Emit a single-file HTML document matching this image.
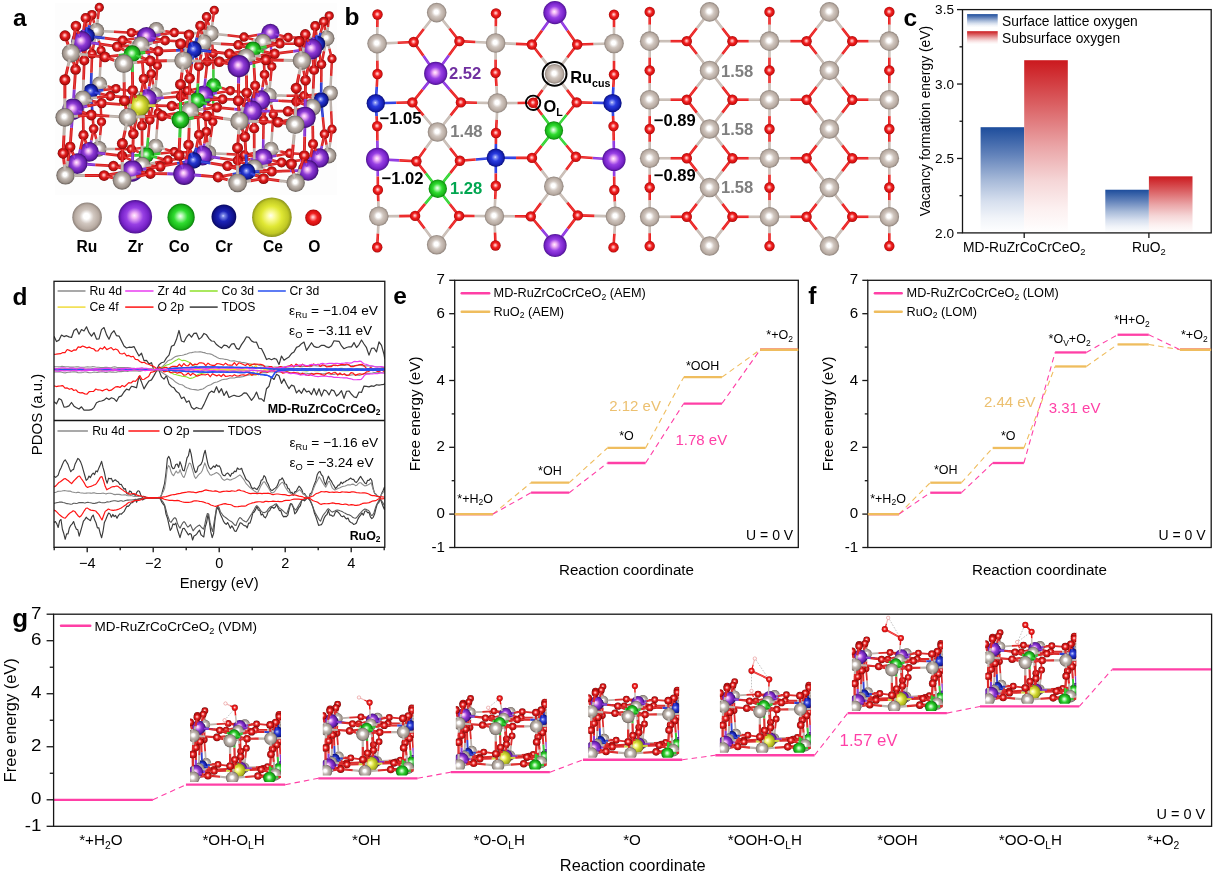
<!DOCTYPE html>
<html><head><meta charset="utf-8"><title>Figure</title>
<style>
html,body{margin:0;padding:0;background:#fff;}
svg{display:block;font-family:"Liberation Sans", Arial, sans-serif;}
</style></head><body>
<svg width="1213" height="876" viewBox="0 0 1213 876">
<defs>
<linearGradient id="gb" x1="0" y1="0" x2="0" y2="1"><stop offset="0" stop-color="#1d4d9c"/><stop offset="0.25" stop-color="#5f80b9"/><stop offset="0.5" stop-color="#a6b9d8"/><stop offset="0.7" stop-color="#d6dfee"/><stop offset="0.86" stop-color="#f1f4f9"/><stop offset="1" stop-color="#ffffff"/></linearGradient>
<linearGradient id="gr" x1="0" y1="0" x2="0" y2="1"><stop offset="0" stop-color="#cb191e"/><stop offset="0.25" stop-color="#da5e61"/><stop offset="0.5" stop-color="#eaa5a7"/><stop offset="0.7" stop-color="#f5d6d7"/><stop offset="0.86" stop-color="#fcf0f0"/><stop offset="1" stop-color="#ffffff"/></linearGradient>
<radialGradient id="gRu" cx="0.5" cy="0.5" r="0.5" fx="0.47" fy="0.46"><stop offset="0" stop-color="#ffffff"/><stop offset="0.2" stop-color="#ffffff"/><stop offset="0.48" stop-color="#d1c7c0"/><stop offset="0.82" stop-color="#b7aaa1"/><stop offset="1" stop-color="#8b8079"/></radialGradient>
<radialGradient id="gO" cx="0.5" cy="0.5" r="0.5" fx="0.47" fy="0.46"><stop offset="0" stop-color="#ffe2e2"/><stop offset="0.17" stop-color="#ffa6a6"/><stop offset="0.5" stop-color="#f02020"/><stop offset="0.84" stop-color="#d41010"/><stop offset="1" stop-color="#9c0808"/></radialGradient>
<radialGradient id="gZr" cx="0.5" cy="0.5" r="0.5" fx="0.47" fy="0.46"><stop offset="0" stop-color="#fff0ff"/><stop offset="0.17" stop-color="#f2b6f6"/><stop offset="0.5" stop-color="#9840e4"/><stop offset="0.82" stop-color="#7622c8"/><stop offset="1" stop-color="#4e1490"/></radialGradient>
<radialGradient id="gCo" cx="0.5" cy="0.5" r="0.5" fx="0.47" fy="0.46"><stop offset="0" stop-color="#f4fff4"/><stop offset="0.17" stop-color="#b6f8b6"/><stop offset="0.5" stop-color="#30dc30"/><stop offset="0.84" stop-color="#18b418"/><stop offset="1" stop-color="#0c7c0c"/></radialGradient>
<radialGradient id="gCr" cx="0.5" cy="0.5" r="0.5" fx="0.47" fy="0.46"><stop offset="0" stop-color="#dfe4ff"/><stop offset="0.12" stop-color="#8f9cf4"/><stop offset="0.42" stop-color="#2a3ce0"/><stop offset="0.8" stop-color="#1420b4"/><stop offset="1" stop-color="#0a1078"/></radialGradient>
<radialGradient id="gCe" cx="0.5" cy="0.5" r="0.5" fx="0.47" fy="0.46"><stop offset="0" stop-color="#fffff0"/><stop offset="0.2" stop-color="#fbfb9a"/><stop offset="0.52" stop-color="#e0e834"/><stop offset="0.84" stop-color="#c0c824"/><stop offset="1" stop-color="#8a921c"/></radialGradient>
<radialGradient id="gH" cx="0.5" cy="0.5" r="0.5" fx="0.47" fy="0.46"><stop offset="0" stop-color="#ffffff"/><stop offset="0.55" stop-color="#fff4f4"/><stop offset="0.85" stop-color="#f6c4c4"/><stop offset="1" stop-color="#e89a9a"/></radialGradient>
<radialGradient id="gCrD" cx="0.5" cy="0.5" r="0.5" fx="0.47" fy="0.46"><stop offset="0" stop-color="#d4daff"/><stop offset="0.12" stop-color="#7a88e8"/><stop offset="0.42" stop-color="#1c24b8"/><stop offset="0.8" stop-color="#10128c"/><stop offset="1" stop-color="#08085c"/></radialGradient>
<radialGradient id="gRu3" cx="0.5" cy="0.5" r="0.5" fx="0.46" fy="0.44"><stop offset="0" stop-color="#ffffff"/><stop offset="0.2" stop-color="#ffffff"/><stop offset="0.48" stop-color="#c2b9b2"/><stop offset="0.82" stop-color="#9d928a"/><stop offset="1" stop-color="#645c57"/></radialGradient>
<radialGradient id="gO3" cx="0.5" cy="0.5" r="0.5" fx="0.46" fy="0.44"><stop offset="0" stop-color="#ffe2e2"/><stop offset="0.17" stop-color="#ffa6a6"/><stop offset="0.5" stop-color="#df1d1d"/><stop offset="0.84" stop-color="#b60d0d"/><stop offset="1" stop-color="#700505"/></radialGradient>
<radialGradient id="gZr3" cx="0.5" cy="0.5" r="0.5" fx="0.46" fy="0.44"><stop offset="0" stop-color="#fff0ff"/><stop offset="0.17" stop-color="#f2b6f6"/><stop offset="0.5" stop-color="#8d3bd4"/><stop offset="0.82" stop-color="#651dac"/><stop offset="1" stop-color="#380e67"/></radialGradient>
<radialGradient id="gCo3" cx="0.5" cy="0.5" r="0.5" fx="0.46" fy="0.44"><stop offset="0" stop-color="#f4fff4"/><stop offset="0.17" stop-color="#b6f8b6"/><stop offset="0.5" stop-color="#2ccc2c"/><stop offset="0.84" stop-color="#149a14"/><stop offset="1" stop-color="#085908"/></radialGradient>
<radialGradient id="gCr3" cx="0.5" cy="0.5" r="0.5" fx="0.46" fy="0.44"><stop offset="0" stop-color="#dfe4ff"/><stop offset="0.12" stop-color="#8f9cf4"/><stop offset="0.42" stop-color="#2737d0"/><stop offset="0.8" stop-color="#111b9a"/><stop offset="1" stop-color="#070b56"/></radialGradient>
<radialGradient id="gCe3" cx="0.5" cy="0.5" r="0.5" fx="0.46" fy="0.44"><stop offset="0" stop-color="#fffff0"/><stop offset="0.2" stop-color="#fbfb9a"/><stop offset="0.52" stop-color="#d0d730"/><stop offset="0.84" stop-color="#a5ac1e"/><stop offset="1" stop-color="#636914"/></radialGradient>
<radialGradient id="gH3" cx="0.5" cy="0.5" r="0.5" fx="0.46" fy="0.44"><stop offset="0" stop-color="#ffffff"/><stop offset="0.55" stop-color="#fff4f4"/><stop offset="0.85" stop-color="#e4b6b6"/><stop offset="1" stop-color="#c78484"/></radialGradient>
<radialGradient id="gCrD3" cx="0.5" cy="0.5" r="0.5" fx="0.46" fy="0.44"><stop offset="0" stop-color="#d4daff"/><stop offset="0.12" stop-color="#7a88e8"/><stop offset="0.42" stop-color="#1a21ab"/><stop offset="0.8" stop-color="#0d0f78"/><stop offset="1" stop-color="#050542"/></radialGradient>
</defs>
<rect width="1213" height="876" fill="#ffffff"/>
<g opacity="0.999">
<rect x="980.6" y="127.2" width="43.6" height="105.7" fill="url(#gb)" stroke="none" stroke-width="1.2" />
<rect x="1024.2" y="60.21" width="43.6" height="172.69" fill="url(#gr)" stroke="none" stroke-width="1.2" />
<rect x="1105.3" y="189.73" width="43.6" height="43.17" fill="url(#gb)" stroke="none" stroke-width="1.2" />
<rect x="1148.9" y="176.33" width="43.6" height="56.57" fill="url(#gr)" stroke="none" stroke-width="1.2" />
<rect x="967.1" y="14.1" width="30.6" height="13.3" fill="url(#gb)" stroke="none" stroke-width="1.2" />
<rect x="967.1" y="31.2" width="30.6" height="13" fill="url(#gr)" stroke="none" stroke-width="1.2" />
<text x="1002" y="26.2" font-size="13.8" text-anchor="start" font-weight="normal" fill="#000" >Surface lattice oxygen</text>
<text x="1002" y="43.2" font-size="13.8" text-anchor="start" font-weight="normal" fill="#000" >Subsurface oxygen</text>
<rect x="962.5" y="9.6" width="248.7" height="223.3" fill="none" stroke="#161616" stroke-width="1.3" />
<line x1="957" y1="9.6" x2="962.5" y2="9.6" stroke="#161616" stroke-width="1.3" />
<text x="954" y="14.4" font-size="13.6" text-anchor="end" font-weight="normal" fill="#000" >3.5</text>
<line x1="957" y1="84.03" x2="962.5" y2="84.03" stroke="#161616" stroke-width="1.3" />
<text x="954" y="88.83" font-size="13.6" text-anchor="end" font-weight="normal" fill="#000" >3.0</text>
<line x1="957" y1="158.47" x2="962.5" y2="158.47" stroke="#161616" stroke-width="1.3" />
<text x="954" y="163.27" font-size="13.6" text-anchor="end" font-weight="normal" fill="#000" >2.5</text>
<line x1="957" y1="232.9" x2="962.5" y2="232.9" stroke="#161616" stroke-width="1.3" />
<text x="954" y="237.7" font-size="13.6" text-anchor="end" font-weight="normal" fill="#000" >2.0</text>
<line x1="959.5" y1="46.82" x2="962.5" y2="46.82" stroke="#161616" stroke-width="1.3" />
<line x1="959.5" y1="121.25" x2="962.5" y2="121.25" stroke="#161616" stroke-width="1.3" />
<line x1="959.5" y1="195.68" x2="962.5" y2="195.68" stroke="#161616" stroke-width="1.3" />
<line x1="1024.2" y1="232.9" x2="1024.2" y2="237.9" stroke="#161616" stroke-width="1.3" />
<line x1="1148.9" y1="232.9" x2="1148.9" y2="237.9" stroke="#161616" stroke-width="1.3" />
<text x="1024.2" y="252.2" font-size="13.8" text-anchor="middle" font-weight="normal" fill="#000" >MD-RuZrCoCrCeO<tspan font-size="9.38" dy="3.04">2</tspan></text>
<text x="1148.9" y="252.2" font-size="13.8" text-anchor="middle" font-weight="normal" fill="#000" >RuO<tspan font-size="9.38" dy="3.04">2</tspan></text>
<text transform="translate(929.8,121) rotate(-90)" font-size="13.9" text-anchor="middle" >Vacancy formation energy (eV)</text>
<line x1="492.88" y1="514.1" x2="531.06" y2="482.7" stroke="#efbd5e" stroke-width="1.1" stroke-dasharray="5.5 4"/>
<line x1="569.23" y1="482.7" x2="607.41" y2="447.97" stroke="#efbd5e" stroke-width="1.1" stroke-dasharray="5.5 4"/>
<line x1="645.59" y1="447.97" x2="683.77" y2="377.16" stroke="#efbd5e" stroke-width="1.1" stroke-dasharray="5.5 4"/>
<line x1="721.94" y1="377.16" x2="760.12" y2="349.77" stroke="#efbd5e" stroke-width="1.1" stroke-dasharray="5.5 4"/>
<line x1="492.88" y1="514.1" x2="531.06" y2="492.72" stroke="#ff3fa6" stroke-width="1.1" stroke-dasharray="5.5 4"/>
<line x1="569.23" y1="492.72" x2="607.41" y2="463" stroke="#ff3fa6" stroke-width="1.1" stroke-dasharray="5.5 4"/>
<line x1="645.59" y1="463" x2="683.77" y2="403.55" stroke="#ff3fa6" stroke-width="1.1" stroke-dasharray="5.5 4"/>
<line x1="721.94" y1="403.55" x2="760.12" y2="349.77" stroke="#ff3fa6" stroke-width="1.1" stroke-dasharray="5.5 4"/>
<line x1="454.7" y1="514.1" x2="492.88" y2="514.1" stroke="#efbd5e" stroke-width="2.3" />
<line x1="531.06" y1="482.7" x2="569.23" y2="482.7" stroke="#efbd5e" stroke-width="2.3" />
<line x1="607.41" y1="447.97" x2="645.59" y2="447.97" stroke="#efbd5e" stroke-width="2.3" />
<line x1="683.77" y1="377.16" x2="721.94" y2="377.16" stroke="#efbd5e" stroke-width="2.3" />
<line x1="760.12" y1="349.77" x2="798.3" y2="349.77" stroke="#efbd5e" stroke-width="2.3" />
<line x1="454.7" y1="514.1" x2="492.88" y2="514.1" stroke="#ff3fa6" stroke-width="2.3" />
<line x1="531.06" y1="492.72" x2="569.23" y2="492.72" stroke="#ff3fa6" stroke-width="2.3" />
<line x1="607.41" y1="463" x2="645.59" y2="463" stroke="#ff3fa6" stroke-width="2.3" />
<line x1="683.77" y1="403.55" x2="721.94" y2="403.55" stroke="#ff3fa6" stroke-width="2.3" />
<line x1="760.12" y1="349.77" x2="798.3" y2="349.77" stroke="#ff3fa6" stroke-width="2.3" />
<rect x="454.7" y="280.3" width="343.6" height="267.2" fill="none" stroke="#161616" stroke-width="1.3" />
<line x1="449.2" y1="280.3" x2="454.7" y2="280.3" stroke="#161616" stroke-width="1.3" />
<text x="445" y="284.41" font-size="15.1" text-anchor="end" font-weight="normal" fill="#000" >7</text>
<line x1="449.2" y1="313.7" x2="454.7" y2="313.7" stroke="#161616" stroke-width="1.3" />
<text x="445" y="317.81" font-size="15.1" text-anchor="end" font-weight="normal" fill="#000" >6</text>
<line x1="449.2" y1="380.5" x2="454.7" y2="380.5" stroke="#161616" stroke-width="1.3" />
<text x="445" y="384.61" font-size="15.1" text-anchor="end" font-weight="normal" fill="#000" >4</text>
<line x1="449.2" y1="447.3" x2="454.7" y2="447.3" stroke="#161616" stroke-width="1.3" />
<text x="445" y="451.41" font-size="15.1" text-anchor="end" font-weight="normal" fill="#000" >2</text>
<line x1="449.2" y1="514.1" x2="454.7" y2="514.1" stroke="#161616" stroke-width="1.3" />
<text x="445" y="518.21" font-size="15.1" text-anchor="end" font-weight="normal" fill="#000" >0</text>
<line x1="449.2" y1="547.5" x2="454.7" y2="547.5" stroke="#161616" stroke-width="1.3" />
<text x="445" y="551.61" font-size="15.1" text-anchor="end" font-weight="normal" fill="#000" >-1</text>
<line x1="451.68" y1="347.1" x2="454.7" y2="347.1" stroke="#161616" stroke-width="1.3" />
<line x1="451.68" y1="413.9" x2="454.7" y2="413.9" stroke="#161616" stroke-width="1.3" />
<line x1="451.68" y1="480.7" x2="454.7" y2="480.7" stroke="#161616" stroke-width="1.3" />
<text x="457.3" y="502.6" font-size="12.5" text-anchor="start" font-weight="normal" fill="#000" >*+H<tspan font-size="8.5" dy="2.75">2</tspan><tspan dy="-2.75">O</tspan></text>
<text x="549.9" y="474.6" font-size="12.5" text-anchor="middle" font-weight="normal" fill="#000" >*OH</text>
<text x="626.5" y="440.4" font-size="12.5" text-anchor="middle" font-weight="normal" fill="#000" >*O</text>
<text x="702.6" y="369.9" font-size="12.5" text-anchor="middle" font-weight="normal" fill="#000" >*OOH</text>
<text x="766.3" y="339.4" font-size="12.5" text-anchor="start" font-weight="normal" fill="#000" >*+O<tspan font-size="8.5" dy="2.75">2</tspan></text>
<text x="609.2" y="411.2" font-size="15" text-anchor="start" font-weight="normal" fill="#ecc070" >2.12 eV</text>
<text x="675.5" y="444.8" font-size="15" text-anchor="start" font-weight="normal" fill="#ff3fa6" >1.78 eV</text>
<line x1="461.7" y1="293.3" x2="489.2" y2="293.3" stroke="#ff3fa6" stroke-width="2.4" stroke-linecap="round"/>
<text x="493.6" y="297.3" font-size="12.7" text-anchor="start" font-weight="normal" fill="#000" >MD-RuZrCoCrCeO<tspan font-size="8.64" dy="2.79">2</tspan><tspan dy="-2.79"> (AEM)</tspan></text>
<line x1="461.7" y1="311.7" x2="489.2" y2="311.7" stroke="#efbd5e" stroke-width="2.4" stroke-linecap="round"/>
<text x="493.6" y="315.7" font-size="12.7" text-anchor="start" font-weight="normal" fill="#000" >RuO<tspan font-size="8.64" dy="2.79">2</tspan><tspan dy="-2.79"> (AEM)</tspan></text>
<text x="793.2" y="539.6" font-size="14" text-anchor="end" font-weight="normal" fill="#000" >U = 0 V</text>
<text x="626.5" y="575.3" font-size="15.2" text-anchor="middle" font-weight="normal" fill="#000" >Reaction coordinate</text>
<text transform="translate(419.5,413.9) rotate(-90)" font-size="15.2" text-anchor="middle" >Free energy (eV)</text>
<line x1="454.7" y1="514.1" x2="492.88" y2="514.1" stroke="#efbd5e" stroke-width="2.3" />
<line x1="760.12" y1="349.77" x2="798.3" y2="349.77" stroke="#efbd5e" stroke-width="2.3" />
<line x1="899.02" y1="514.1" x2="930.24" y2="482.7" stroke="#efbd5e" stroke-width="1.1" stroke-dasharray="5.5 4"/>
<line x1="961.45" y1="482.7" x2="992.67" y2="447.97" stroke="#efbd5e" stroke-width="1.1" stroke-dasharray="5.5 4"/>
<line x1="1023.89" y1="447.97" x2="1055.11" y2="366.47" stroke="#efbd5e" stroke-width="1.1" stroke-dasharray="5.5 4"/>
<line x1="1086.33" y1="366.47" x2="1117.55" y2="344.43" stroke="#efbd5e" stroke-width="1.1" stroke-dasharray="5.5 4"/>
<line x1="1148.76" y1="344.43" x2="1179.98" y2="349.77" stroke="#efbd5e" stroke-width="1.1" stroke-dasharray="5.5 4"/>
<line x1="899.02" y1="514.1" x2="930.24" y2="492.72" stroke="#ff3fa6" stroke-width="1.1" stroke-dasharray="5.5 4"/>
<line x1="961.45" y1="492.72" x2="992.67" y2="463" stroke="#ff3fa6" stroke-width="1.1" stroke-dasharray="5.5 4"/>
<line x1="1023.89" y1="463" x2="1055.11" y2="352.44" stroke="#ff3fa6" stroke-width="1.1" stroke-dasharray="5.5 4"/>
<line x1="1086.33" y1="352.44" x2="1117.55" y2="334.74" stroke="#ff3fa6" stroke-width="1.1" stroke-dasharray="5.5 4"/>
<line x1="1148.76" y1="334.74" x2="1179.98" y2="349.77" stroke="#ff3fa6" stroke-width="1.1" stroke-dasharray="5.5 4"/>
<line x1="867.8" y1="514.1" x2="899.02" y2="514.1" stroke="#efbd5e" stroke-width="2.3" />
<line x1="930.24" y1="482.7" x2="961.45" y2="482.7" stroke="#efbd5e" stroke-width="2.3" />
<line x1="992.67" y1="447.97" x2="1023.89" y2="447.97" stroke="#efbd5e" stroke-width="2.3" />
<line x1="1055.11" y1="366.47" x2="1086.33" y2="366.47" stroke="#efbd5e" stroke-width="2.3" />
<line x1="1117.55" y1="344.43" x2="1148.76" y2="344.43" stroke="#efbd5e" stroke-width="2.3" />
<line x1="1179.98" y1="349.77" x2="1211.2" y2="349.77" stroke="#efbd5e" stroke-width="2.3" />
<line x1="867.8" y1="514.1" x2="899.02" y2="514.1" stroke="#ff3fa6" stroke-width="2.3" />
<line x1="930.24" y1="492.72" x2="961.45" y2="492.72" stroke="#ff3fa6" stroke-width="2.3" />
<line x1="992.67" y1="463" x2="1023.89" y2="463" stroke="#ff3fa6" stroke-width="2.3" />
<line x1="1055.11" y1="352.44" x2="1086.33" y2="352.44" stroke="#ff3fa6" stroke-width="2.3" />
<line x1="1117.55" y1="334.74" x2="1148.76" y2="334.74" stroke="#ff3fa6" stroke-width="2.3" />
<line x1="1179.98" y1="349.77" x2="1211.2" y2="349.77" stroke="#ff3fa6" stroke-width="2.3" />
<rect x="867.8" y="280.3" width="343.4" height="267.2" fill="none" stroke="#161616" stroke-width="1.3" />
<line x1="862.3" y1="280.3" x2="867.8" y2="280.3" stroke="#161616" stroke-width="1.3" />
<text x="858.1" y="284.41" font-size="15.1" text-anchor="end" font-weight="normal" fill="#000" >7</text>
<line x1="862.3" y1="313.7" x2="867.8" y2="313.7" stroke="#161616" stroke-width="1.3" />
<text x="858.1" y="317.81" font-size="15.1" text-anchor="end" font-weight="normal" fill="#000" >6</text>
<line x1="862.3" y1="380.5" x2="867.8" y2="380.5" stroke="#161616" stroke-width="1.3" />
<text x="858.1" y="384.61" font-size="15.1" text-anchor="end" font-weight="normal" fill="#000" >4</text>
<line x1="862.3" y1="447.3" x2="867.8" y2="447.3" stroke="#161616" stroke-width="1.3" />
<text x="858.1" y="451.41" font-size="15.1" text-anchor="end" font-weight="normal" fill="#000" >2</text>
<line x1="862.3" y1="514.1" x2="867.8" y2="514.1" stroke="#161616" stroke-width="1.3" />
<text x="858.1" y="518.21" font-size="15.1" text-anchor="end" font-weight="normal" fill="#000" >0</text>
<line x1="862.3" y1="547.5" x2="867.8" y2="547.5" stroke="#161616" stroke-width="1.3" />
<text x="858.1" y="551.61" font-size="15.1" text-anchor="end" font-weight="normal" fill="#000" >-1</text>
<line x1="864.77" y1="347.1" x2="867.8" y2="347.1" stroke="#161616" stroke-width="1.3" />
<line x1="864.77" y1="413.9" x2="867.8" y2="413.9" stroke="#161616" stroke-width="1.3" />
<line x1="864.77" y1="480.7" x2="867.8" y2="480.7" stroke="#161616" stroke-width="1.3" />
<text x="870.2" y="502.6" font-size="12.5" text-anchor="start" font-weight="normal" fill="#000" >*+H<tspan font-size="8.5" dy="2.75">2</tspan><tspan dy="-2.75">O</tspan></text>
<text x="945.8" y="473.6" font-size="12.5" text-anchor="middle" font-weight="normal" fill="#000" >*OH</text>
<text x="1008.2" y="440.4" font-size="12.5" text-anchor="middle" font-weight="normal" fill="#000" >*O</text>
<text x="1069.6" y="342.8" font-size="12.5" text-anchor="middle" font-weight="normal" fill="#000" >*O<tspan font-size="8.5" dy="2.75">V</tspan><tspan dy="-2.75">+O</tspan><tspan font-size="8.5" dy="2.75">2</tspan></text>
<text x="1132" y="324" font-size="12.5" text-anchor="middle" font-weight="normal" fill="#000" >*H+O<tspan font-size="8.5" dy="2.75">2</tspan></text>
<text x="1181" y="339.4" font-size="12.5" text-anchor="start" font-weight="normal" fill="#000" >*+O<tspan font-size="8.5" dy="2.75">2</tspan></text>
<text x="983.9" y="406.6" font-size="15" text-anchor="start" font-weight="normal" fill="#ecc070" >2.44 eV</text>
<text x="1048.7" y="413.4" font-size="15" text-anchor="start" font-weight="normal" fill="#ff3fa6" >3.31 eV</text>
<line x1="874.9" y1="293.3" x2="901.7" y2="293.3" stroke="#ff3fa6" stroke-width="2.4" stroke-linecap="round"/>
<text x="906.6" y="297.3" font-size="12.7" text-anchor="start" font-weight="normal" fill="#000" >MD-RuZrCoCrCeO<tspan font-size="8.64" dy="2.79">2</tspan><tspan dy="-2.79"> (LOM)</tspan></text>
<line x1="874.9" y1="311.7" x2="901.7" y2="311.7" stroke="#efbd5e" stroke-width="2.4" stroke-linecap="round"/>
<text x="906.6" y="315.7" font-size="12.7" text-anchor="start" font-weight="normal" fill="#000" >RuO<tspan font-size="8.64" dy="2.79">2</tspan><tspan dy="-2.79"> (LOM)</tspan></text>
<text x="1205.6" y="539.6" font-size="14" text-anchor="end" font-weight="normal" fill="#000" >U = 0 V</text>
<text x="1039.5" y="575.3" font-size="15.2" text-anchor="middle" font-weight="normal" fill="#000" >Reaction coordinate</text>
<text transform="translate(832.5,413.9) rotate(-90)" font-size="15.2" text-anchor="middle" >Free energy (eV)</text>
<line x1="867.8" y1="514.1" x2="899.02" y2="514.1" stroke="#efbd5e" stroke-width="2.3" />
<line x1="1179.98" y1="349.77" x2="1211.2" y2="349.77" stroke="#efbd5e" stroke-width="2.3" />
<line x1="152.86" y1="799.79" x2="185.94" y2="784.68" stroke="#ff3fa6" stroke-width="1.1" stroke-dasharray="5.5 4"/>
<line x1="285.2" y1="784.68" x2="318.29" y2="778.31" stroke="#ff3fa6" stroke-width="1.1" stroke-dasharray="5.5 4"/>
<line x1="417.54" y1="778.31" x2="450.63" y2="772.21" stroke="#ff3fa6" stroke-width="1.1" stroke-dasharray="5.5 4"/>
<line x1="549.89" y1="772.21" x2="582.97" y2="759.75" stroke="#ff3fa6" stroke-width="1.1" stroke-dasharray="5.5 4"/>
<line x1="682.23" y1="759.75" x2="715.31" y2="755.25" stroke="#ff3fa6" stroke-width="1.1" stroke-dasharray="5.5 4"/>
<line x1="814.57" y1="755.25" x2="847.66" y2="713.09" stroke="#ff3fa6" stroke-width="1.1" stroke-dasharray="5.5 4"/>
<line x1="946.91" y1="713.09" x2="980" y2="706.46" stroke="#ff3fa6" stroke-width="1.1" stroke-dasharray="5.5 4"/>
<line x1="1079.26" y1="706.46" x2="1112.34" y2="669.35" stroke="#ff3fa6" stroke-width="1.1" stroke-dasharray="5.5 4"/>
<line x1="53.6" y1="799.79" x2="152.86" y2="799.79" stroke="#ff3fa6" stroke-width="2.3" />
<line x1="185.94" y1="784.68" x2="285.2" y2="784.68" stroke="#ff3fa6" stroke-width="2.3" />
<line x1="318.29" y1="778.31" x2="417.54" y2="778.31" stroke="#ff3fa6" stroke-width="2.3" />
<line x1="450.63" y1="772.21" x2="549.89" y2="772.21" stroke="#ff3fa6" stroke-width="2.3" />
<line x1="582.97" y1="759.75" x2="682.23" y2="759.75" stroke="#ff3fa6" stroke-width="2.3" />
<line x1="715.31" y1="755.25" x2="814.57" y2="755.25" stroke="#ff3fa6" stroke-width="2.3" />
<line x1="847.66" y1="713.09" x2="946.91" y2="713.09" stroke="#ff3fa6" stroke-width="2.3" />
<line x1="980" y1="706.46" x2="1079.26" y2="706.46" stroke="#ff3fa6" stroke-width="2.3" />
<line x1="1112.34" y1="669.35" x2="1211.6" y2="669.35" stroke="#ff3fa6" stroke-width="2.3" />
<rect x="53.6" y="614.2" width="1158" height="212.1" fill="none" stroke="#161616" stroke-width="1.3" />
<line x1="46.6" y1="614.2" x2="53.6" y2="614.2" stroke="#161616" stroke-width="1.3" />
<text transform="translate(41.3,618.65) scale(1.2,1)" font-size="15.6" text-anchor="end">7</text>
<line x1="46.6" y1="640.71" x2="53.6" y2="640.71" stroke="#161616" stroke-width="1.3" />
<text transform="translate(41.3,645.16) scale(1.2,1)" font-size="15.6" text-anchor="end">6</text>
<line x1="46.6" y1="693.74" x2="53.6" y2="693.74" stroke="#161616" stroke-width="1.3" />
<text transform="translate(41.3,698.18) scale(1.2,1)" font-size="15.6" text-anchor="end">4</text>
<line x1="46.6" y1="746.76" x2="53.6" y2="746.76" stroke="#161616" stroke-width="1.3" />
<text transform="translate(41.3,751.21) scale(1.2,1)" font-size="15.6" text-anchor="end">2</text>
<line x1="46.6" y1="799.79" x2="53.6" y2="799.79" stroke="#161616" stroke-width="1.3" />
<text transform="translate(41.3,804.23) scale(1.2,1)" font-size="15.6" text-anchor="end">0</text>
<line x1="46.6" y1="826.3" x2="53.6" y2="826.3" stroke="#161616" stroke-width="1.3" />
<text transform="translate(41.3,830.75) scale(1.2,1)" font-size="15.6" text-anchor="end">-1</text>
<line x1="49.75" y1="667.23" x2="53.6" y2="667.23" stroke="#161616" stroke-width="1.3" />
<line x1="49.75" y1="720.25" x2="53.6" y2="720.25" stroke="#161616" stroke-width="1.3" />
<line x1="49.75" y1="773.27" x2="53.6" y2="773.27" stroke="#161616" stroke-width="1.3" />
<text x="100.8" y="845.2" font-size="15.2" text-anchor="middle" font-weight="normal" fill="#000" >*+H<tspan font-size="10.34" dy="3.34">2</tspan><tspan dy="-3.34">O</tspan></text>
<text x="233.6" y="845.2" font-size="15.2" text-anchor="middle" font-weight="normal" fill="#000" >*OH-O<tspan font-size="10.34" dy="3.34">L</tspan><tspan dy="-3.34">H</tspan></text>
<text x="366.4" y="845.2" font-size="15.2" text-anchor="middle" font-weight="normal" fill="#000" >*OH</text>
<text x="499.2" y="845.2" font-size="15.2" text-anchor="middle" font-weight="normal" fill="#000" >*O-O<tspan font-size="10.34" dy="3.34">L</tspan><tspan dy="-3.34">H</tspan></text>
<text x="632" y="845.2" font-size="15.2" text-anchor="middle" font-weight="normal" fill="#000" >*O</text>
<text x="764.8" y="845.2" font-size="15.2" text-anchor="middle" font-weight="normal" fill="#000" >*OOH-O<tspan font-size="10.34" dy="3.34">L</tspan><tspan dy="-3.34">H</tspan></text>
<text x="897.6" y="845.2" font-size="15.2" text-anchor="middle" font-weight="normal" fill="#000" >*OOH</text>
<text x="1030.4" y="845.2" font-size="15.2" text-anchor="middle" font-weight="normal" fill="#000" >*OO-O<tspan font-size="10.34" dy="3.34">L</tspan><tspan dy="-3.34">H</tspan></text>
<text x="1163.2" y="845.2" font-size="15.2" text-anchor="middle" font-weight="normal" fill="#000" >*+O<tspan font-size="10.34" dy="3.34">2</tspan></text>
<text x="839.6" y="746" font-size="16.8" text-anchor="start" font-weight="normal" fill="#ff3fa6" >1.57 eV</text>
<line x1="61" y1="625.8" x2="90.3" y2="625.8" stroke="#ff3fa6" stroke-width="2.4" stroke-linecap="round"/>
<text x="94.5" y="630.6" font-size="13.5" text-anchor="start" font-weight="normal" fill="#000" >MD-RuZrCoCrCeO<tspan font-size="9.18" dy="2.97">2</tspan><tspan dy="-2.97"> (VDM)</tspan></text>
<text x="1205.2" y="819" font-size="14.5" text-anchor="end" font-weight="normal" fill="#000" >U = 0 V</text>
<text x="632.7" y="870.9" font-size="16.4" text-anchor="middle" font-weight="normal" fill="#000" >Reaction coordinate</text>
<text transform="translate(15.9,720.25) rotate(-90)" font-size="16.4" text-anchor="middle" >Free energy (eV)</text>
<clipPath id="cd1"><rect x="54.0" y="281.3" width="330.8" height="139.2"/></clipPath>
<clipPath id="cd2"><rect x="54.0" y="420.5" width="330.8" height="126.79999999999995"/></clipPath>
<g clip-path="url(#cd1)">
<polyline points="54,336.34 56.5,341.55 59,340.11 61.5,335.1 64,336.56 66.5,335.68 69,336.87 71.5,337.51 74,330.57 76.5,328.73 79,334.19 81.5,329.53 84,330.99 86.5,326.8 89,332.68 91.5,336.16 94,332.56 96.5,339.07 99,338.91 101.5,329.6 104,327.53 106.5,334.66 109,339.19 111.5,333.31 114,330.73 116.5,335.7 119,336.06 121.5,340.89 124,345.92 126.5,347.97 129,347.2 131.5,347.35 134,346.57 136.5,351.46 139,355.93 141.5,353.26 144,360.6 146.5,360.32 149,363.9 151.5,362.68 154,370.76 156.5,369.77 159,364.67 161.5,362.73 164,362.02 166.5,357.85 169,355.15 171.5,346.27 174,345.16 176.5,339.32 179,330.46 181.5,341.06 184,341.98 186.5,337.09 189,334.04 191.5,337.24 194,333.36 196.5,333.22 199,339.24 201.5,337.39 204,333.43 206.5,334.81 209,338.65 211.5,341.01 214,341.25 216.5,344.54 219,346.49 221.5,348.04 224,345.18 226.5,345.57 229,347.83 231.5,344.15 234,343.58 236.5,348.4 239,349.32 241.5,344.63 244,341.11 246.5,336.74 249,337.42 251.5,340.86 254,342.26 256.5,342.21 259,348.26 261.5,348.64 264,353.78 266.5,359.53 269,358.51 271.5,359.67 274,358.44 276.5,359.28 279,364.57 281.5,356.02 284,360.27 286.5,358.43 289,356.9 291.5,353.56 294,351.88 296.5,347.36 299,346.26 301.5,343.67 304,342.04 306.5,350.34 309,346.59 311.5,342.72 314,346.4 316.5,347.37 319,347.1 321.5,345.36 324,345.32 326.5,346.87 329,347.61 331.5,345.79 334,340.77 336.5,341.03 339,341.3 341.5,345.96 344,348.73 346.5,347.49 349,346.77 351.5,346.9 354,342.62 356.5,347.54 359,344.53 361.5,339.97 364,343.96 366.5,347.69 369,355.14 371.5,348.41 374,347.99 376.5,351.98 379,341.82 381.5,345.4 384,354.43 384.8,358.83" fill="none" stroke="#3a3a3a" stroke-width="1.2" stroke-linejoin="round"/>
<polyline points="54,401.71 56.5,403.77 59,398.44 61.5,400.03 64,407.14 66.5,406.89 69,405.92 71.5,402.48 74,406.14 76.5,407.71 79,409.05 81.5,406.79 84,410.15 86.5,410.16 89,410.16 91.5,409.69 94,407.59 96.5,402.74 99,401.46 101.5,401.02 104,400.12 106.5,397.97 109,399.54 111.5,397.74 114,398.7 116.5,401.43 119,396.83 121.5,395.83 124,391.99 126.5,389.09 129,390.06 131.5,386.28 134,386.84 136.5,387.79 139,376.28 141.5,382.09 144,388.89 146.5,384.58 149,380.96 151.5,379.9 154,375.64 156.5,370.92 159,370.4 161.5,376.92 164,379.15 166.5,375.67 169,383.84 171.5,386.73 174,387.82 176.5,391.61 179,393.25 181.5,398.55 184,397.01 186.5,402.27 189,400.78 191.5,407.31 194,409.29 196.5,407.47 199,408.49 201.5,408.98 204,404.37 206.5,398.64 209,393.27 211.5,391.13 214,392.57 216.5,386.73 219,392.66 221.5,388.69 224,395.44 226.5,391.24 229,397.49 231.5,396.19 234,395.27 236.5,396.15 239,396.5 241.5,395.2 244,392.86 246.5,393.06 249,396.67 251.5,400.31 254,397.17 256.5,392.06 259,398.86 261.5,398.93 264,401.31 266.5,388.74 269,386.21 271.5,376.98 274,379.47 276.5,374.27 279,375.81 281.5,383.34 284,378.91 286.5,384.19 289,388.63 291.5,385.12 294,386.08 296.5,392.93 299,390.02 301.5,393.31 304,388.39 306.5,391.91 309,391.08 311.5,394.55 314,388.45 316.5,395.09 319,388.78 321.5,396.13 324,389.87 326.5,391.05 329,394.93 331.5,389.7 334,390.86 336.5,396.04 339,393.92 341.5,390.74 344,398.35 346.5,391.23 349,390.98 351.5,394.27 354,396.83 356.5,397.57 359,391.99 361.5,392.43 364,386.08 366.5,386.45 369,386.89 371.5,385.84 374,386.36 376.5,384.72 379,385.2 381.5,384.72 384,384.44 384.8,382.71" fill="none" stroke="#3a3a3a" stroke-width="1.2" stroke-linejoin="round"/>
<polyline points="54,366.51 55.6,366.69 57.2,366.77 58.8,366.9 60.4,366.8 62,366.36 63.6,366.43 65.2,366.83 66.8,366.7 68.4,366.76 70,367.14 71.6,367.17 73.2,367.12 74.8,367.06 76.4,366.86 78,366.74 79.6,367.02 81.2,367.26 82.8,367.18 84.4,367.19 86,367 87.6,366.78 89.2,367.02 90.8,367.05 92.4,366.67 94,366.68 95.6,367.07 97.2,367.19 98.8,367.3 100.4,367.47 102,367.52 103.6,367.46 105.2,367.33 106.8,367.34 108.4,367.45 110,367.71 111.6,367.59 113.2,367.03 114.8,366.83 116.4,367.23 118,367.67 119.6,367.67 121.2,367.53 122.8,367.47 124.4,367.5 126,367.51 127.6,367.56 129.2,367.77 130.8,368.02 132.4,368.22 134,368.31 135.6,368.43 137.2,368.56 138.8,368.55 140.4,368.23 142,368.12 143.6,368.64 145.2,369.11 146.8,369.12 148.4,369.03 150,368.96 151.6,369.01 153.2,369.34 154.8,369.4 156.4,369.24 158,368.63 159.6,368.28 161.2,367.4 162.8,366.1 164.4,364.64 166,362.91 167.6,361.02 169.2,360.12 170.8,359.67 172.4,358.7 174,357.41 175.6,356.56 177.2,356.12 178.8,355.79 180.4,355.48 182,355.31 183.6,354.94 185.2,354.35 186.8,354.01 188.4,353.32 190,352.81 191.6,352.63 193.2,352.19 194.8,351.92 196.4,351.96 198,351.98 199.6,351.76 201.2,351.92 202.8,352.4 204.4,352.64 206,353.22 207.6,353.68 209.2,353.74 210.8,354.09 212.4,354.77 214,355.72 215.6,356.57 217.2,357.4 218.8,358.17 220.4,358.65 222,358.78 223.6,359.04 225.2,359.42 226.8,359.56 228.4,360.06 230,360.8 231.6,360.99 233.2,360.89 234.8,360.91 236.4,361.34 238,361.68 239.6,361.81 241.2,362.32 242.8,362.61 244.4,362.66 246,363.07 247.6,363.49 249.2,363.71 250.8,363.93 252.4,364.33 254,364.46 255.6,364.19 257.2,364.42 258.8,365.27 260.4,365.7 262,365.58 263.6,365.76 265.2,366.09 266.8,366.19 268.4,366.35 270,366.59 271.6,366.95 273.2,367.24 274.8,367.09 276.4,367.15 278,367.16 279.6,366.9 281.2,367.06 282.8,367.19 284.4,366.85 286,366.8 287.6,366.94 289.2,366.66 290.8,366.44 292.4,366.66 294,366.67 295.6,366.35 297.2,366.24 298.8,366.47 300.4,366.66 302,366.67 303.6,366.53 305.2,366.19 306.8,366.13 308.4,366.49 310,366.59 311.6,366.21 313.2,365.79 314.8,365.74 316.4,365.85 318,365.94 319.6,366.26 321.2,366.23 322.8,365.73 324.4,365.72 326,366.06 327.6,366.16 329.2,366 330.8,365.59 332.4,365.27 334,365.46 335.6,365.67 337.2,365.45 338.8,365.29 340.4,365.34 342,365.32 343.6,365.47 345.2,365.53 346.8,365.04 348.4,364.95 350,365.55 351.6,365.86 353.2,365.67 354.8,365.44 356.4,365.58 358,365.45 359.6,365.06 361.2,365.39 362.8,365.84 364.4,365.92 366,365.9 367.6,365.92 369.2,366.07 370.8,366.09 372.4,366.18 374,366.46 375.6,366.68 377.2,366.73 378.8,366.73 380.4,367.07 382,367.38 383.6,367.52 384.8,367.62" fill="none" stroke="#8c8c8c" stroke-width="1.1" stroke-linejoin="round"/>
<polyline points="54,371.94 55.6,371.95 57.2,372.02 58.8,371.91 60.4,371.87 62,372.28 63.6,372.76 65.2,372.85 66.8,372.56 68.4,372.24 70,372.17 71.6,372.04 73.2,371.83 74.8,371.77 76.4,372.1 78,372.64 79.6,372.82 81.2,372.76 82.8,372.51 84.4,372.07 86,372.05 87.6,372.37 89.2,372.61 90.8,372.75 92.4,372.5 94,372.09 95.6,372.21 97.2,372.39 98.8,372.15 100.4,371.93 102,371.84 103.6,371.93 105.2,372.36 106.8,372.46 108.4,372.05 110,371.92 111.6,372.12 113.2,372.16 114.8,372.21 116.4,372.13 118,371.77 119.6,371.59 121.2,371.58 122.8,371.37 124.4,371.11 126,371.26 127.6,371.36 129.2,370.92 130.8,370.8 132.4,371.07 134,371.07 135.6,371.06 137.2,371.01 138.8,371.1 140.4,371.17 142,370.77 143.6,370.43 145.2,370.39 146.8,370.38 148.4,370.18 150,370.13 151.6,370.18 153.2,369.97 154.8,369.99 156.4,369.87 158,369.93 159.6,370.53 161.2,371.73 162.8,373.03 164.4,374.09 166,374.92 167.6,375.93 169.2,377.1 170.8,378.17 172.4,379.21 174,380.63 175.6,382.06 177.2,383.09 178.8,383.93 180.4,384.46 182,384.72 183.6,385.63 185.2,386.98 186.8,387.76 188.4,388.31 190,388.87 191.6,389.32 193.2,389.56 194.8,389.61 196.4,389.85 198,390.3 199.6,389.66 201.2,389.36 202.8,389.06 204.4,388.08 206,386.81 207.6,385.85 209.2,385.28 210.8,384.72 212.4,383.75 214,382.76 215.6,382.23 217.2,381.93 218.8,381.22 220.4,380.4 222,379.81 223.6,379.41 225.2,379.3 226.8,379.15 228.4,378.51 230,378.01 231.6,377.95 233.2,377.96 234.8,377.84 236.4,377.35 238,377.15 239.6,377.09 241.2,376.86 242.8,376.7 244.4,376.17 246,375.6 247.6,375.25 249.2,374.93 250.8,374.77 252.4,374.79 254,374.95 255.6,374.77 257.2,374.07 258.8,373.41 260.4,373.13 262,372.93 263.6,372.64 265.2,372.62 266.8,372.58 268.4,371.96 270,371.68 271.6,371.92 273.2,371.91 274.8,371.94 276.4,371.91 278,372.04 279.6,372.16 281.2,372.22 282.8,372.21 284.4,371.91 286,371.64 287.6,371.94 289.2,372.61 290.8,373 292.4,372.91 294,372.7 295.6,372.88 297.2,373.16 298.8,373.27 300.4,373.32 302,373.25 303.6,373.29 305.2,373.24 306.8,373.23 308.4,373.62 310,373.6 311.6,373.32 313.2,373.71 314.8,373.97 316.4,373.54 318,373.32 319.6,373.48 321.2,373.61 322.8,373.92 324.4,373.86 326,373.4 327.6,373.51 329.2,373.96 330.8,374.24 332.4,374.5 334,374.52 335.6,374.04 337.2,374.03 338.8,374.39 340.4,374.44 342,374.5 343.6,374.56 345.2,374.83 346.8,375.15 348.4,375.13 350,375.08 351.6,374.99 353.2,374.81 354.8,374.82 356.4,375 358,375.29 359.6,375.34 361.2,374.85 362.8,374.27 364.4,373.59 366,373.3 367.6,373.37 369.2,373.33 370.8,373.29 372.4,373 374,372.57 375.6,372.67 377.2,372.91 378.8,372.63 380.4,372.4 382,372.78 383.6,372.75 384.8,372.15" fill="none" stroke="#8c8c8c" stroke-width="1.1" stroke-linejoin="round"/>
<polyline points="54,368.91 55.6,368.96 57.2,369.05 58.8,368.98 60.4,369.04 62,368.99 63.6,368.88 65.2,368.92 66.8,368.89 68.4,368.88 70,368.78 71.6,368.78 73.2,369.14 74.8,369.29 76.4,368.99 78,368.96 79.6,369.37 81.2,369.59 82.8,369.39 84.4,369.35 86,369.36 87.6,369.21 89.2,369.25 90.8,369.1 92.4,368.81 94,368.81 95.6,369.1 97.2,369.29 98.8,369.17 100.4,369.24 102,369.33 103.6,369.23 105.2,369.1 106.8,368.84 108.4,368.72 110,368.98 111.6,369.26 113.2,369.21 114.8,369.15 116.4,369.24 118,369.2 119.6,369.22 121.2,369.46 122.8,369.42 124.4,369.19 126,369.25 127.6,369.44 129.2,369.61 130.8,369.49 132.4,369.38 134,369.4 135.6,369.16 137.2,369.19 138.8,369.32 140.4,369.14 142,369.02 143.6,369.04 145.2,369.34 146.8,369.55 148.4,369.56 150,369.51 151.6,369.41 153.2,369.48 154.8,369.56 156.4,369.53 158,369.18 159.6,368.74 161.2,368.1 162.8,367.2 164.4,366.25 166,365.33 167.6,364.74 169.2,364.23 170.8,363.58 172.4,362.6 174,361.43 175.6,360.61 177.2,359.82 178.8,358.83 180.4,359.64 182,360.64 183.6,360.41 185.2,360.51 186.8,361.15 188.4,361.88 190,362.68 191.6,364.17 193.2,365.47 194.8,366.03 196.4,366.44 198,367.14 199.6,367.77 201.2,367.99 202.8,367.85 204.4,367.56 206,367.48 207.6,367.71 209.2,368.1 210.8,368.1 212.4,367.64 214,367.46 215.6,367.54 217.2,367.69 218.8,367.93 220.4,368.02 222,367.8 223.6,367.7 225.2,367.91 226.8,368.12 228.4,368.41 230,368.68 231.6,368.6 233.2,368.44 234.8,368.49 236.4,368.37 238,368.28 239.6,368.6 241.2,368.85 242.8,368.87 244.4,368.73 246,368.45 247.6,368.24 249.2,368.24 250.8,368.32 252.4,368.14 254,368.01 255.6,368.11 257.2,368.2 258.8,368.22 260.4,368.09 262,368.03 263.6,368.11 265.2,368.23 266.8,368.29 268.4,368.45 270,368.83 271.6,368.8 273.2,368.46 274.8,368.42 276.4,368.54 278,368.52 279.6,368.62 281.2,369.07 282.8,369.23 284.4,368.94 286,368.65 287.6,368.4 289.2,368.37 290.8,368.51 292.4,368.73 294,368.85 295.6,368.56 297.2,368.56 298.8,368.99 300.4,368.89 302,368.63 303.6,368.6 305.2,368.56 306.8,368.87 308.4,369.3 310,369.32 311.6,369.03 313.2,368.73 314.8,368.59 316.4,368.7 318,368.95 319.6,369.08 321.2,369.02 322.8,368.77 324.4,368.75 326,369.16 327.6,369.43 329.2,369.39 330.8,369.32 332.4,369.29 334,369.08 335.6,368.81 337.2,368.78 338.8,368.67 340.4,368.4 342,368.38 343.6,368.54 345.2,368.76 346.8,369.13 348.4,369.28 350,369.19 351.6,369.37 353.2,369.56 354.8,369.36 356.4,368.91 358,368.63 359.6,368.58 361.2,368.57 362.8,368.7 364.4,369.08 366,369.38 367.6,369.32 369.2,369.12 370.8,369.17 372.4,369.09 374,368.86 375.6,369.09 377.2,369.4 378.8,369.39 380.4,369.24 382,368.96 383.6,368.87 384.8,369.18" fill="none" stroke="#8ee02a" stroke-width="1.1" stroke-linejoin="round"/>
<polyline points="54,369.88 55.6,370.09 57.2,369.97 58.8,369.87 60.4,369.7 62,369.85 63.6,370.14 65.2,370.01 66.8,369.97 68.4,369.99 70,369.94 71.6,369.86 73.2,369.88 74.8,369.96 76.4,369.73 78,369.51 79.6,369.49 81.2,369.63 82.8,369.96 84.4,370.16 86,369.89 87.6,369.59 89.2,369.84 90.8,370.06 92.4,369.87 94,369.85 95.6,369.97 97.2,369.97 98.8,369.96 100.4,370.02 102,370.06 103.6,370.18 105.2,370.29 106.8,370.01 108.4,369.59 110,369.68 111.6,370.09 113.2,369.98 114.8,369.88 116.4,370.15 118,370.21 119.6,370.23 121.2,370.19 122.8,369.87 124.4,369.89 126,370.01 127.6,369.89 129.2,369.84 130.8,369.8 132.4,369.98 134,370.26 135.6,370.39 137.2,370.29 138.8,369.93 140.4,369.6 142,369.59 143.6,369.81 145.2,369.78 146.8,369.76 148.4,370.03 150,370.1 151.6,369.9 153.2,369.62 154.8,369.41 156.4,369.38 158,369.51 159.6,369.84 161.2,370.14 162.8,370.54 164.4,371.08 166,371.26 167.6,371.48 169.2,371.91 170.8,372.6 172.4,373.55 174,374.27 175.6,374.58 177.2,375.08 178.8,375.4 180.4,375.77 182,376.29 183.6,376.47 185.2,376.58 186.8,377.1 188.4,377.79 190,378.53 191.6,378.13 193.2,377.7 194.8,376.96 196.4,375.76 198,374.53 199.6,373.93 201.2,373.54 202.8,373.24 204.4,372.94 206,372.78 207.6,372.5 209.2,372.32 210.8,371.97 212.4,371.2 214,370.84 215.6,370.93 217.2,371.13 218.8,371.33 220.4,371.31 222,371.25 223.6,371.14 225.2,370.92 226.8,370.89 228.4,370.91 230,370.8 231.6,370.76 233.2,371.01 234.8,371.25 236.4,371.18 238,370.84 239.6,370.69 241.2,370.89 242.8,370.68 244.4,370.43 246,370.6 247.6,370.68 249.2,370.51 250.8,370.27 252.4,370.28 254,370.52 255.6,370.47 257.2,370.3 258.8,370.48 260.4,370.76 262,370.75 263.6,370.55 265.2,370.39 266.8,370.29 268.4,370.17 270,370.17 271.6,370.2 273.2,370.25 274.8,370.53 276.4,370.68 278,370.4 279.6,370.08 281.2,370.13 282.8,370.17 284.4,370.26 286,370.65 287.6,370.71 289.2,370.54 290.8,370.42 292.4,370.16 294,370.1 295.6,370.38 297.2,370.59 298.8,370.38 300.4,370.12 302,370.4 303.6,370.74 305.2,370.79 306.8,370.87 308.4,370.71 310,370.25 311.6,370.13 313.2,370.46 314.8,370.62 316.4,370.55 318,370.69 319.6,370.71 321.2,370.49 322.8,370.56 324.4,370.75 326,370.58 327.6,370.38 329.2,370.37 330.8,370.17 332.4,370.26 334,370.67 335.6,370.61 337.2,370.21 338.8,370.12 340.4,370.4 342,370.61 343.6,370.66 345.2,370.7 346.8,370.67 348.4,370.59 350,370.4 351.6,370.18 353.2,370.16 354.8,370.24 356.4,370.38 358,370.41 359.6,370.06 361.2,369.96 362.8,370.18 364.4,370.14 366,369.98 367.6,370.06 369.2,370.25 370.8,370.12 372.4,370.11 374,370.35 375.6,370.25 377.2,370.2 378.8,370.36 380.4,370.23 382,370.24 383.6,370.56 384.8,370.64" fill="none" stroke="#8ee02a" stroke-width="1.1" stroke-linejoin="round"/>
<polyline points="54,369.36 55,369.45 56,369.77 57,369.37 58,369.4 59,369.47 60,369.12 61,369.41 62,369.51 63,369.65 64,369.04 65,369.22 66,369.03 67,369.67 68,369.56 69,368.99 70,369.82 71,369.8 72,369.53 73,369.49 74,369.09 75,368.96 76,369.41 77,369 78,369.11 79,369.16 80,368.97 81,369.35 82,369.33 83,369.69 84,369.4 85,369.51 86,369.38 87,369.53 88,369.34 89,369.19 90,369.82 91,369.82 92,369.68 93,369.56 94,369.22 95,369.14 96,369.19 97,369 98,369.61 99,369.29 100,369.68 101,369.27 102,369.78 103,369.68 104,368.93 105,369.12 106,369.73 107,369.35 108,369.79 109,369.28 110,368.99 111,369.48 112,369.61 113,369.17 114,369 115,369.22 116,369.78 117,369.59 118,369.03 119,369.14 120,369.01 121,368.98 122,369.62 123,369.08 124,369.41 125,369.32 126,369.09 127,369.56 128,369.04 129,369.49 130,369.02 131,369.29 132,369.11 133,369.15 134,369.77 135,369.62 136,369.18 137,369.69 138,369.1 139,369.26 140,369.67 141,369.48 142,369 143,369.78 144,369.1 145,369.14 146,369.59 147,369.2 148,369.17 149,368.97 150,368.99 151,369.42 152,369.12 153,369.44 154,369.23 155,369.3 156,369.75 157,369.33 158,369.41 159,369.67 160,369.06 161,369.04 162,369.7 163,369.62 164,369.12 165,369.07 166,369.55 167,369.73 168,369.07 169,369.73 170,369.67 171,369.43 172,369.27 173,368.99 174,368.93 175,369.74 176,369.1 177,369.51 178,369.12 179,369.62 180,369.42 181,369.15 182,369.05 183,369.52 184,368.95 185,369.09 186,369.38 187,369.64 188,369.43 189,369.13 190,369.69 191,369.07 192,368.9 193,369.12 194,369.28 195,368.94 196,369.04 197,369.21 198,369.39 199,369 200,369.2 201,369.66 202,369.74 203,369.46 204,369.49 205,369.39 206,369 207,368.91 208,368.89 209,369.68 210,369.49 211,369.72 212,368.89 213,369.43 214,369.3 215,369.52 216,369.15 217,369.75 218,368.94 219,369.35 220,369.52 221,369.66 222,369.52 223,369.49 224,369.57 225,369.67 226,369.18 227,369.47 228,369.66 229,369.63 230,369.23 231,369.56 232,369.62 233,369.37 234,369.41 235,369.2 236,369.37 237,369.4 238,368.93 239,369.42 240,369.73 241,369.55 242,369.32 243,368.94 244,369.15 245,368.93 246,368.71 247,368.98 248,368.22 249,368.72 250,365.84 251,364.09 252,365.98 253,367.76 254,367.34 255,366.33 256,365.6 257,367.37 258,368.29 259,368.14 260,368.47 261,368.87 262,368.52 263,368.57 264,369.29 265,369.14 266,368.8 267,369.04 268,368.4 269,368.55 270,367.98 271,368.04 272,368.22 273,368.16 274,367.98 275,367.4 276,368.47 277,369.14 278,368.98 279,369.3 280,369.6 281,369.61 282,369.49 283,369.7 284,369.11 285,369.02 286,369.26 287,369.11 288,369.06 289,369.24 290,369.42 291,369.31 292,369.15 293,369.61 294,369.74 295,369.27 296,368.94 297,368.91 298,369.65 299,368.92 300,369.5 301,369.38 302,369.16 303,369.58 304,368.9 305,369.01 306,369.29 307,368.91 308,369.62 309,369.1 310,369.01 311,368.93 312,369.45 313,369.29 314,369.45 315,369.47 316,369.61 317,369.74 318,369.5 319,369.07 320,369.32 321,369.06 322,368.91 323,369.32 324,369.53 325,369.06 326,369.15 327,369.21 328,369.52 329,369.37 330,369.45 331,369.58 332,369.26 333,369.61 334,369.71 335,368.99 336,369.74 337,369.55 338,369.03 339,369.32 340,369.47 341,369.72 342,369.25 343,369.42 344,369.7 345,369.62 346,369.76 347,369.33 348,369.5 349,369.11 350,369.56 351,369.65 352,369.49 353,369.56 354,369.12 355,369.72 356,369.8 357,369.79 358,369.41 359,369.63 360,369.22 361,369.74 362,369.69 363,369.25 364,369.01 365,369.33 366,369.43 367,369.62 368,369.37 369,368.97 370,369.66 371,369 372,369.65 373,369.1 374,369.25 375,369.64 376,369.08 377,369.08 378,369.41 379,369.59 380,369.69 381,369.56 382,369.79 383,369.39 384,369.79 384.8,369.04" fill="none" stroke="#f0dc3c" stroke-width="1.3" stroke-linejoin="round"/>
<polyline points="54,369.78 55,369.94 56,369.95 57,369.49 58,369.37 59,369.69 60,369.6 61,370.08 62,369.97 63,369.89 64,369.86 65,369.95 66,369.49 67,369.75 68,369.51 69,370.17 70,369.42 71,370.09 72,369.44 73,369.97 74,369.67 75,369.73 76,370.11 77,369.39 78,369.43 79,370.18 80,369.82 81,369.45 82,370.24 83,370.21 84,369.48 85,369.75 86,369.5 87,369.65 88,369.93 89,369.52 90,369.99 91,369.43 92,369.53 93,370.1 94,369.73 95,369.75 96,369.91 97,369.8 98,369.72 99,369.41 100,370.02 101,370.24 102,370.24 103,369.97 104,369.7 105,369.71 106,370 107,369.98 108,369.49 109,369.6 110,369.71 111,369.84 112,370.1 113,369.83 114,369.42 115,370.12 116,369.77 117,369.85 118,369.59 119,369.77 120,369.74 121,370.08 122,369.49 123,369.88 124,369.55 125,370.01 126,369.43 127,369.64 128,369.7 129,369.96 130,369.45 131,369.81 132,369.59 133,369.65 134,369.82 135,370.25 136,369.83 137,370.25 138,369.55 139,370.22 140,369.73 141,369.57 142,370.07 143,370.21 144,369.41 145,369.64 146,370.09 147,369.71 148,369.62 149,369.42 150,369.45 151,369.96 152,370.28 153,370.29 154,369.86 155,369.44 156,369.7 157,370.11 158,370.15 159,369.98 160,369.62 161,369.88 162,369.84 163,369.97 164,369.65 165,370.25 166,370.21 167,369.56 168,369.68 169,370.19 170,369.67 171,370.25 172,369.88 173,370.04 174,370.04 175,369.61 176,369.68 177,369.65 178,370.03 179,370.04 180,369.54 181,370.21 182,369.8 183,369.64 184,369.81 185,370.29 186,369.92 187,369.98 188,370.24 189,370.28 190,370.1 191,369.8 192,369.95 193,370.23 194,370.13 195,369.95 196,369.74 197,369.76 198,370.08 199,369.93 200,369.45 201,370.06 202,370.23 203,370.14 204,370.23 205,370.24 206,369.91 207,370.14 208,369.78 209,369.53 210,369.75 211,369.72 212,370.27 213,370.05 214,369.92 215,369.99 216,369.56 217,369.92 218,370.06 219,369.8 220,369.67 221,369.81 222,369.74 223,370.05 224,369.58 225,369.53 226,369.73 227,370.07 228,370.12 229,370.03 230,370.28 231,369.78 232,369.48 233,369.89 234,369.85 235,369.62 236,370.05 237,369.76 238,369.67 239,369.75 240,370.29 241,369.59 242,370.02 243,370.07 244,370.13 245,370.45 246,370.39 247,371.12 248,370.88 249,371.17 250,372.95 251,375.47 252,373.59 253,371.8 254,372.45 255,373.8 256,375.31 257,373.29 258,370.76 259,370.95 260,371.06 261,370.65 262,370.81 263,370.72 264,370.9 265,370.45 266,370.55 267,370.26 268,370.59 269,370.22 270,370.37 271,370.25 272,370.2 273,370.04 274,370.11 275,370.39 276,370.13 277,369.94 278,370.6 279,370.14 280,370.71 281,370.41 282,370.22 283,370.64 284,370.65 285,370.14 286,369.97 287,370.41 288,370.59 289,370.37 290,370.52 291,370.19 292,370.37 293,370.05 294,370.17 295,370.14 296,370.14 297,370.15 298,370.5 299,369.94 300,369.96 301,370 302,370.63 303,370.23 304,369.81 305,370.49 306,370.52 307,370.47 308,370.06 309,370.39 310,370 311,369.85 312,370.49 313,370.45 314,369.9 315,370.48 316,369.73 317,369.97 318,369.71 319,369.84 320,369.83 321,370.31 322,369.93 323,369.84 324,369.83 325,369.93 326,370.41 327,370.18 328,369.73 329,370.24 330,370.11 331,370.02 332,370.09 333,370.19 334,370.32 335,370.05 336,370.16 337,370.01 338,370.15 339,369.93 340,369.95 341,370.03 342,370.2 343,369.81 344,370.38 345,369.99 346,370.31 347,370.16 348,370.38 349,370.14 350,369.91 351,369.89 352,370.06 353,370.18 354,370.25 355,369.62 356,369.56 357,369.59 358,369.57 359,369.54 360,369.49 361,369.7 362,369.57 363,370.07 364,370 365,370.31 366,370.3 367,370.1 368,370.28 369,369.46 370,369.63 371,370.24 372,369.84 373,369.6 374,370.08 375,369.78 376,369.88 377,369.68 378,369.61 379,369.46 380,369.92 381,370.22 382,370.24 383,370.04 384,370.18 384.8,369.68" fill="none" stroke="#f0dc3c" stroke-width="1.3" stroke-linejoin="round"/>
<polyline points="54,354.38 56.2,354.19 58.4,353.81 60.6,353.71 62.8,352.58 65,352.7 67.2,349.51 69.4,350.41 71.6,351.45 73.8,349.92 76,350.03 78.2,346.95 80.4,347.38 82.6,346.04 84.8,346.88 87,347.93 89.2,347.15 91.4,348.3 93.6,348.77 95.8,351.01 98,350.82 100.2,348.03 102.4,349.08 104.6,346.76 106.8,349.61 109,348.57 111.2,347.57 113.4,349.94 115.6,348.97 117.8,350.06 120,353.49 122.2,353.97 124.4,353 126.6,355.9 128.8,355.45 131,356.8 133.2,356.26 135.4,359.42 137.6,359.53 139.8,361.45 142,362.64 144.2,362.22 146.4,363.77 148.6,364.27 150.8,365.31 153,365.99 155.2,367.45 157.4,368.99 159.6,366.95 161.8,368.83 164,367.59 166.2,367.24 168.4,368.5 170.6,367.14 172.8,366.28 175,366.38 177.2,366.66 179.4,364.25 181.6,366.67 183.8,363.49 186,365.64 188.2,365.84 190.4,363.2 192.6,365.48 194.8,364.1 197,364.68 199.2,362.85 201.4,362.89 203.6,363.23 205.8,365.54 208,363.13 210.2,364.79 212.4,365.37 214.6,365.45 216.8,363.66 219,363.73 221.2,364.3 223.4,365.12 225.6,363.08 227.8,365.01 230,365.12 232.2,365.26 234.4,362.68 236.6,365.44 238.8,362.76 241,363.54 243.2,364.45 245.4,365.47 247.6,363.76 249.8,365.63 252,364.54 254.2,363.9 256.4,364.22 258.6,364.23 260.8,364.36 263,365.02 265.2,367.13 267.4,368.57 269.6,366.49 271.8,366.64 274,369.67 276.2,367.99 278.4,367.31 280.6,366.5 282.8,367.32 285,367.75 287.2,366.34 289.4,365.96 291.6,364.56 293.8,366.93 296,364.03 298.2,365.37 300.4,366.36 302.6,364.1 304.8,365.88 307,366.47 309.2,365.42 311.4,365.95 313.6,363.92 315.8,365 318,364.19 320.2,366.41 322.4,364.78 324.6,365.34 326.8,366.98 329,366.45 331.2,366.76 333.4,365.08 335.6,365.11 337.8,365.78 340,364.94 342.2,364.4 344.4,364.79 346.6,364.04 348.8,364.8 351,366.72 353.2,366.68 355.4,365.67 357.6,365.16 359.8,364.55 362,364.35 364.2,365.95 366.4,368.4 368.6,368.85 370.8,367.47 373,368.9 375.2,368.92 377.4,368.73 379.6,368.69 381.8,369.03 384,367.87 384.8,368.93" fill="none" stroke="#ff1414" stroke-width="1.2" stroke-linejoin="round"/>
<polyline points="54,385.9 56.2,386.54 58.4,386.05 60.6,385.92 62.8,385.62 65,388.1 67.2,387.95 69.4,389.28 71.6,388.53 73.8,390.51 76,389.8 78.2,392.25 80.4,392.85 82.6,392.69 84.8,393.88 87,394.23 89.2,391.55 91.4,391.49 93.6,391.41 95.8,389.01 98,389.93 100.2,389.98 102.4,390.89 104.6,389.73 106.8,389.05 109,390.7 111.2,390.18 113.4,388.53 115.6,386.88 117.8,386.63 120,387.42 122.2,385.53 124.4,386.74 126.6,384.8 128.8,382.68 131,382.98 133.2,380.97 135.4,381.4 137.6,378.9 139.8,375.55 142,379.5 144.2,379.23 146.4,377.75 148.6,376.59 150.8,372.3 153,371.89 155.2,371.14 157.4,369.5 159.6,370.22 161.8,369.26 164,372 166.2,371.33 168.4,370.55 170.6,372.7 172.8,372.03 175,371.98 177.2,373.18 179.4,372.42 181.6,372.95 183.8,375.22 186,374.88 188.2,372.95 190.4,375.48 192.6,373.32 194.8,374.47 197,376.27 199.2,375.43 201.4,374.49 203.6,374.74 205.8,374.8 208,374.02 210.2,376.74 212.4,373.79 214.6,374.9 216.8,375.87 219,374.77 221.2,376.53 223.4,374.24 225.6,376.48 227.8,376.21 230,375.52 232.2,376.2 234.4,374.84 236.6,376.02 238.8,375.91 241,375.02 243.2,374.8 245.4,375.45 247.6,374.47 249.8,373.4 252,375.36 254.2,373.81 256.4,374.18 258.6,374.65 260.8,372.33 263,371.43 265.2,371.3 267.4,372.33 269.6,371.21 271.8,370.47 274,370.95 276.2,372.64 278.4,370.78 280.6,371.48 282.8,373.15 285,372.6 287.2,371.81 289.4,372.72 291.6,373.01 293.8,372.25 296,373.16 298.2,373.01 300.4,374.62 302.6,373.22 304.8,374.33 307,375.36 309.2,375.29 311.4,373.62 313.6,374.32 315.8,373.45 318,373.69 320.2,373.96 322.4,374.9 324.6,375.34 326.8,373.38 329,372.53 331.2,373.93 333.4,372.75 335.6,372.69 337.8,375.01 340,373.01 342.2,374.84 344.4,373.72 346.6,375.46 348.8,375.17 351,372.71 353.2,373.08 355.4,375.38 357.6,374.35 359.8,373.76 362,374.38 364.2,373.64 366.4,371.91 368.6,371.47 370.8,369.97 373,370.57 375.2,369.91 377.4,371.39 379.6,371.33 381.8,369.9 384,371.39 384.8,369.76" fill="none" stroke="#ff1414" stroke-width="1.2" stroke-linejoin="round"/>
<polyline points="54,369.25 55.6,369.16 57.2,369.2 58.8,369.28 60.4,369.18 62,369.3 63.6,369.4 65.2,369.24 66.8,369.28 68.4,369.29 70,369.13 71.6,369.22 73.2,369.39 74.8,369.41 76.4,369.36 78,369.19 79.6,369.07 81.2,369.13 82.8,369.37 84.4,369.57 86,369.56 87.6,369.48 89.2,369.43 90.8,369.37 92.4,369.21 94,369.24 95.6,369.46 97.2,369.5 98.8,369.31 100.4,369.14 102,369.14 103.6,369.17 105.2,369.31 106.8,369.42 108.4,369.43 110,369.6 111.6,369.57 113.2,369.28 114.8,369.26 116.4,369.29 118,369.2 119.6,369.38 121.2,369.51 122.8,369.37 124.4,369.31 126,369.31 127.6,369.48 129.2,369.57 130.8,369.3 132.4,369.08 134,369.17 135.6,369.28 137.2,369.17 138.8,369.18 140.4,369.47 142,369.64 143.6,369.51 145.2,369.45 146.8,369.43 148.4,369.35 150,369.36 151.6,369.39 153.2,369.57 154.8,369.62 156.4,369.42 158,369.38 159.6,369.31 161.2,369.04 162.8,369.05 164.4,369.29 166,369.16 167.6,368.8 169.2,368.81 170.8,368.79 172.4,368.5 174,368.28 175.6,368.08 177.2,368.06 178.8,368.15 180.4,368.12 182,367.95 183.6,367.66 185.2,367.66 186.8,367.81 188.4,367.69 190,367.48 191.6,367.47 193.2,367.55 194.8,367.29 196.4,367.05 198,367.09 199.6,367 201.2,366.88 202.8,366.87 204.4,366.9 206,366.86 207.6,366.86 209.2,366.94 210.8,366.99 212.4,367.02 214,367.01 215.6,367.19 217.2,367.31 218.8,367.24 220.4,367.17 222,367.13 223.6,367.19 225.2,367.13 226.8,367.15 228.4,367.31 230,367.23 231.6,367.24 233.2,367.39 234.8,367.39 236.4,367.34 238,367.38 239.6,367.48 241.2,367.37 242.8,367.4 244.4,367.62 246,367.69 247.6,367.9 249.2,368.05 250.8,367.8 252.4,367.51 254,367.48 255.6,367.63 257.2,367.84 258.8,368.1 260.4,368.23 262,368.11 263.6,368.1 265.2,368.27 266.8,368.29 268.4,368.4 270,368.75 271.6,368.9 273.2,368.84 274.8,368.92 276.4,369.12 278,369.11 279.6,369.05 281.2,369.02 282.8,368.93 284.4,369.01 286,369.17 287.6,369.14 289.2,368.9 290.8,368.63 292.4,368.63 294,368.75 295.6,368.81 297.2,368.81 298.8,368.83 300.4,368.9 302,368.76 303.6,368.59 305.2,368.68 306.8,368.86 308.4,368.94 310,368.84 311.6,368.78 313.2,368.98 314.8,369.16 316.4,369.18 318,369.07 319.6,368.97 321.2,369.18 322.8,369.27 324.4,369.1 326,369.02 327.6,369.11 329.2,369.09 330.8,368.93 332.4,368.98 334,369.01 335.6,368.98 337.2,369.12 338.8,369.08 340.4,368.94 342,369.01 343.6,369.05 345.2,369.04 346.8,368.99 348.4,368.89 350,368.96 351.6,369.09 353.2,369.12 354.8,369.08 356.4,369.18 358,369.25 359.6,369.24 361.2,369.15 362.8,368.96 364.4,369.03 366,369.18 367.6,369.15 369.2,368.98 370.8,368.8 372.4,368.87 374,368.99 375.6,368.87 377.2,368.79 378.8,368.92 380.4,369.06 382,369 383.6,368.96 384.8,369.18" fill="none" stroke="#2850f0" stroke-width="1.3" stroke-linejoin="round"/>
<polyline points="54,369.93 55.6,369.9 57.2,369.85 58.8,369.85 60.4,370.03 62,370.13 63.6,369.95 65.2,369.77 66.8,369.77 68.4,369.75 70,369.82 71.6,370.12 73.2,370.08 74.8,369.85 76.4,369.94 78,369.95 79.6,369.77 81.2,369.76 82.8,369.86 84.4,369.9 86,369.95 87.6,369.87 89.2,369.76 90.8,369.97 92.4,370.2 94,370.16 95.6,369.87 97.2,369.53 98.8,369.41 100.4,369.64 102,369.88 103.6,369.78 105.2,369.79 106.8,369.9 108.4,369.81 110,369.76 111.6,369.68 113.2,369.6 114.8,369.8 116.4,369.87 118,369.64 119.6,369.56 121.2,369.57 122.8,369.54 124.4,369.73 126,369.93 127.6,369.9 129.2,369.88 130.8,369.84 132.4,369.69 134,369.67 135.6,369.72 137.2,369.67 138.8,369.65 140.4,369.68 142,369.54 143.6,369.56 145.2,369.88 146.8,369.97 148.4,369.77 150,369.61 151.6,369.53 153.2,369.58 154.8,369.64 156.4,369.5 158,369.51 159.6,369.67 161.2,369.81 162.8,370.09 164.4,370.35 166,370.4 167.6,370.32 169.2,370.3 170.8,370.31 172.4,370.39 174,370.61 175.6,370.68 177.2,370.63 178.8,370.7 180.4,370.92 182,371.1 183.6,371.23 185.2,371.44 186.8,371.44 188.4,371.35 190,371.54 191.6,371.77 193.2,371.78 194.8,371.69 196.4,371.65 198,371.79 199.6,371.94 201.2,371.94 202.8,371.98 204.4,372.06 206,372.07 207.6,371.98 209.2,371.9 210.8,372.08 212.4,372.26 214,372.06 215.6,371.77 217.2,371.8 218.8,371.93 220.4,371.86 222,371.78 223.6,371.89 225.2,372.17 226.8,372.38 228.4,372.28 230,372.16 231.6,372.19 233.2,372.22 234.8,372.3 236.4,372.47 238,372.59 239.6,372.5 241.2,372.41 242.8,372.53 244.4,372.55 246,372.32 247.6,372.3 249.2,372.52 250.8,372.77 252.4,373.02 254,373.31 255.6,373.59 257.2,373.83 258.8,374.2 260.4,374.49 262,374.65 263.6,374.96 265.2,375.29 266.8,375.42 268.4,375.71 270,376.79 271.6,377.88 273.2,375.86 274.8,373.05 276.4,371.69 278,370.45 279.6,370.36 281.2,370.48 282.8,370.52 284.4,370.26 286,370.07 287.6,369.97 289.2,369.93 290.8,369.91 292.4,370.06 294,370.41 295.6,370.46 297.2,370.3 298.8,370.32 300.4,370.32 302,370.21 303.6,370.17 305.2,370.23 306.8,370.17 308.4,370.03 310,370.07 311.6,370.2 313.2,370.16 314.8,370.06 316.4,370.2 318,370.4 319.6,370.41 321.2,370.18 322.8,369.95 324.4,369.9 326,369.81 327.6,369.77 329.2,369.89 330.8,370.08 332.4,370.23 334,370.16 335.6,370.07 337.2,370.13 338.8,370.13 340.4,370.03 342,369.96 343.6,369.96 345.2,370.04 346.8,370.13 348.4,370.1 350,370.03 351.6,370.03 353.2,370.09 354.8,370.18 356.4,370.26 358,370.21 359.6,370.13 361.2,370.25 362.8,370.42 364.4,370.4 366,370.14 367.6,369.96 369.2,370.16 370.8,370.14 372.4,369.85 374,369.8 375.6,369.95 377.2,370.1 378.8,370.06 380.4,369.87 382,369.75 383.6,369.7 384.8,369.66" fill="none" stroke="#2850f0" stroke-width="1.3" stroke-linejoin="round"/>
<polyline points="54,368.13 55.6,368.56 57.2,368.86 58.8,368.7 60.4,368.16 62,367.84 63.6,367.82 65.2,368.12 66.8,368.37 68.4,368.23 70,368.17 71.6,368.1 73.2,368.1 74.8,368.48 76.4,368.85 78,368.53 79.6,367.97 81.2,367.88 82.8,368.24 84.4,368.87 86,369.18 87.6,369.16 89.2,369.14 90.8,369.18 92.4,369.27 94,368.96 95.6,368.65 97.2,368.8 98.8,368.87 100.4,368.87 102,368.75 103.6,368.5 105.2,368.41 106.8,368.39 108.4,368.22 110,368.32 111.6,368.91 113.2,369.34 114.8,369.38 116.4,369.12 118,368.94 119.6,368.77 121.2,368.53 122.8,368.65 124.4,368.56 126,368.2 127.6,368.26 129.2,368.47 130.8,368.47 132.4,368.62 134,368.77 135.6,368.51 137.2,368.33 138.8,368.43 140.4,368.36 142,368.22 143.6,368.27 145.2,368.29 146.8,368.37 148.4,368.96 150,369.27 151.6,369.18 153.2,369.49 154.8,369.52 156.4,369.21 158,369.27 159.6,369.6 161.2,369.74 162.8,369.46 164.4,369.14 166,369.26 167.6,369.67 169.2,369.82 170.8,369.5 172.4,369.21 174,369.28 175.6,369.27 177.2,369.05 178.8,369.02 180.4,369.35 182,369.42 183.6,369.07 185.2,368.79 186.8,368.89 188.4,369.03 190,368.87 191.6,368.79 193.2,368.82 194.8,368.56 196.4,368.23 198,368.3 199.6,368.43 201.2,368.17 202.8,367.91 204.4,368.09 206,368.53 207.6,368.71 209.2,368.4 210.8,368.08 212.4,368.17 214,368.14 215.6,367.8 217.2,368.07 218.8,368.57 220.4,368.27 222,367.99 223.6,368.2 225.2,368.25 226.8,368.08 228.4,368.15 230,368.47 231.6,368.46 233.2,368.03 234.8,368.02 236.4,368.57 238,368.88 239.6,368.64 241.2,368.46 242.8,368.44 244.4,368.03 246,367.81 247.6,368.33 249.2,368.88 250.8,368.67 252.4,368.31 254,368.57 255.6,368.64 257.2,368.29 258.8,368.2 260.4,368.07 262,367.84 263.6,367.76 265.2,367.75 266.8,367.68 268.4,367.59 270,367.62 271.6,367.79 273.2,368.2 274.8,368.06 276.4,367.75 278,367.9 279.6,367.83 281.2,367.68 282.8,367.56 284.4,367.13 286,366.82 287.6,366.56 289.2,366.46 290.8,366.42 292.4,366.15 294,365.94 295.6,365.55 297.2,365.28 298.8,365.14 300.4,364.79 302,364.73 303.6,364.96 305.2,365.28 306.8,365.71 308.4,365.48 310,364.75 311.6,364.46 313.2,364.54 314.8,364.67 316.4,364.71 318,364.76 319.6,364.39 321.2,363.64 322.8,363.34 324.4,363.73 326,364 327.6,363.65 329.2,363.46 330.8,363.4 332.4,363.44 334,363.48 335.6,363.27 337.2,363.34 338.8,363.57 340.4,363.51 342,363.36 343.6,363.25 345.2,362.97 346.8,362.82 348.4,362.97 350,363.18 351.6,362.89 353.2,361.9 354.8,361.42 356.4,361.65 358,361.67 359.6,361.1 361.2,361.33 362.8,363.09 364.4,364.02 366,364.27 367.6,364.92 369.2,365.46 370.8,365.88 372.4,365.96 374,366.38 375.6,366.95 377.2,367.11 378.8,366.84 380.4,366.51 382,366.67 383.6,366.97 384.8,366.99" fill="none" stroke="#e83cf0" stroke-width="1.2" stroke-linejoin="round"/>
<polyline points="54,370.32 55.6,370.87 57.2,371.26 58.8,371.18 60.4,370.64 62,370.53 63.6,370.95 65.2,370.93 66.8,370.72 68.4,370.77 70,370.86 71.6,370.76 73.2,370.34 74.8,370.45 76.4,370.9 78,370.64 79.6,370.54 81.2,370.93 82.8,370.79 84.4,370.42 86,370.63 87.6,370.68 89.2,370.48 90.8,370.44 92.4,370.26 94,370.08 95.6,369.99 97.2,370.36 98.8,370.89 100.4,370.99 102,371.01 103.6,370.83 105.2,370.85 106.8,371.09 108.4,370.75 110,370.32 111.6,370.52 113.2,370.57 114.8,370.1 116.4,370.17 118,370.71 119.6,370.57 121.2,370.2 122.8,370.18 124.4,370.35 126,370.66 127.6,370.44 129.2,370.25 130.8,370.39 132.4,370.12 134,369.81 135.6,370 137.2,370.27 138.8,370.2 140.4,370.07 142,370.03 143.6,370.3 145.2,370.61 146.8,370.52 148.4,370.37 150,370.33 151.6,370.22 153.2,369.95 154.8,369.64 156.4,369.57 158,369.68 159.6,370 161.2,370.02 162.8,369.58 164.4,369.54 166,369.93 167.6,369.87 169.2,369.68 170.8,370.15 172.4,370.47 174,370.12 175.6,369.94 177.2,370.33 178.8,370.51 180.4,370.08 182,369.76 183.6,369.91 185.2,370.25 186.8,370.24 188.4,370.05 190,369.93 191.6,369.82 193.2,370.28 194.8,370.92 196.4,370.74 198,370.6 199.6,370.85 201.2,370.56 202.8,370.07 204.4,369.87 206,369.91 207.6,370.04 209.2,370.43 210.8,370.79 212.4,370.51 214,370.38 215.6,370.89 217.2,371.08 218.8,370.85 220.4,370.83 222,370.78 223.6,370.8 225.2,371.11 226.8,371.39 228.4,371.27 230,371.1 231.6,371.09 233.2,370.8 234.8,370.88 236.4,371.26 238,371.26 239.6,371.07 241.2,371.03 242.8,371.26 244.4,371.09 246,370.93 247.6,371.21 249.2,371.03 250.8,370.65 252.4,370.44 254,370.3 255.6,370.57 257.2,370.85 258.8,370.61 260.4,370.57 262,370.9 263.6,371.05 265.2,371.17 266.8,371.27 268.4,371.05 270,370.96 271.6,370.97 273.2,370.79 274.8,370.74 276.4,371.03 278,371.32 279.6,371.33 281.2,371.53 282.8,371.78 284.4,372.21 286,372.51 287.6,372.76 289.2,373.35 290.8,373.61 292.4,373.42 294,373.35 295.6,373.61 297.2,373.86 298.8,374.34 300.4,374.98 302,374.86 303.6,374.45 305.2,374.9 306.8,375.38 308.4,375.01 310,374.9 311.6,375.37 313.2,375.74 314.8,376.17 316.4,376.47 318,376.57 319.6,376.37 321.2,376.08 322.8,376.27 324.4,376.22 326,376.05 327.6,376.42 329.2,376.56 330.8,376.42 332.4,376.84 334,377.35 335.6,377.36 337.2,377.24 338.8,377.47 340.4,377.77 342,377.74 343.6,377.93 345.2,377.92 346.8,377.89 348.4,378.31 350,378.56 351.6,379.03 353.2,379.57 354.8,379.77 356.4,379.76 358,379.58 359.6,379.63 361.2,379.43 362.8,377.58 364.4,375.32 366,374.38 367.6,374.17 369.2,374.09 370.8,374 372.4,373.94 374,373.74 375.6,373.59 377.2,373.53 378.8,373.33 380.4,372.87 382,372.84 383.6,373.22 384.8,373.48" fill="none" stroke="#e83cf0" stroke-width="1.2" stroke-linejoin="round"/>
<polyline points="168,368.73 169.6,368.53 171.2,368.47 172.8,368.44 174.4,368.23 176,368.24 177.6,368.24 179.2,367.97 180.8,367.92 182.4,367.84 184,367.6 185.6,367.61 187.2,367.69 188.8,367.63 190.4,367.49 192,367.24 193.6,367.04 195.2,367.01 196.8,367.17 198.4,367.29 200,367.19 201.6,367.13 203.2,367.08 204.8,367.03 206.4,366.88 208,366.91 209.6,367.14 211.2,367.2 212.8,367.01 214.4,366.85 216,366.85 217.6,366.89 219.2,367.04 220.8,367.16 222.4,367.17 224,367.35 225.6,367.32 227.2,367.04 228.8,367.04 230.4,367.08 232,367.03 233.6,367.25 235.2,367.42 236.8,367.32 238.4,367.3 240,367.34 241.6,367.55 243.2,367.68 244.8,367.44 246.4,367.26 248,367.4 249.6,367.54 251.2,367.47 252.8,367.52 254.4,367.85 256,368.06 257.6,367.97 259.2,367.95 260.8,368.01 262.4,368.05 264,368.18 265.6,368.33 267.2,368.63 268.8,368.8 270.4,368.72 272,368.87 273.6,368.98 275.2,368.81 276.8,368.91 278.4,369.24 280,369.2 281.6,368.94 283.2,369.05 284.8,369.12 286.4,368.93 288,368.8 289.6,368.7 291.2,368.78 292.8,368.97 294.4,369.05 296,368.96 297.6,368.76 299.2,368.84 300.8,369.07 302.4,369.04 304,368.91 305.6,368.99 307.2,369.15 308.8,368.98 310.4,368.82 312,368.94 313.6,368.93 315.2,368.83 316.8,368.81 318.4,368.84 320,368.8 321.6,368.79 323.2,368.86 324.8,368.9 326.4,368.92 328,368.91 329.6,369.09 331.2,369.2 332.8,369.12 334.4,369.04 336,369 337.6,369.05 339.2,368.98 340.8,368.99 342.4,369.15 344,369.06 345.6,369.03 347.2,369.13 348.8,369.09 350.4,369.01 352,369.01 353.6,369.07 355.2,368.92 356.8,368.9 358.4,369.09 360,369.11 361.6,369.29 363.2,369.4 364.8,369.11 366.4,368.78 368,368.71 369.6,368.82 371.2,368.99 372.8,369.21 374.4,369.28 376,369.04 377.6,368.91 379.2,368.96 380.8,368.86 382.4,368.85 384,369.08 384.8,369.24" fill="none" stroke="#2850f0" stroke-width="1.3" stroke-linejoin="round"/>
<polyline points="168,370.35 169.6,370.41 171.2,370.46 172.8,370.55 174.4,370.83 176,371.02 177.6,370.93 179.2,370.84 180.8,370.94 182.4,370.99 184,371.15 185.6,371.53 187.2,371.58 188.8,371.43 190.4,371.6 192,371.7 193.6,371.6 195.2,371.68 196.8,371.86 198.4,371.98 200,372.11 201.6,372.04 203.2,371.95 204.8,372.18 206.4,372.42 208,372.39 209.6,372.12 211.2,371.79 212.8,371.69 214.4,371.92 216,372.18 217.6,372.1 219.2,372.11 220.8,372.24 222.4,372.17 224,372.13 225.6,372.06 227.2,371.99 228.8,372.21 230.4,372.3 232,372.09 233.6,372.04 235.2,372.08 236.8,372.08 238.4,372.29 240,372.52 241.6,372.52 243.2,372.53 244.8,372.51 246.4,372.38 248,372.39 249.6,372.48 251.2,372.63 252.8,372.88 254.4,373.18 256,373.31 257.6,373.6 259.2,374.19 260.8,374.55 262.4,374.62 264,374.72 265.6,374.92 267.2,375.24 268.8,375.89 270.4,376.68 272,377.55 273.6,374.55 275.2,372.38 276.8,371.42 278.4,370.73 280,370.64 281.6,370.43 283.2,370.28 284.8,370.16 286.4,370.1 288,370.2 289.6,370.14 291.2,369.99 292.8,369.96 294.4,370.09 296,370.19 297.6,370.23 299.2,370.35 300.8,370.27 302.4,370.1 304,370.21 305.6,370.35 307.2,370.28 308.8,370.11 310.4,369.98 312,370.04 313.6,370.1 315.2,370.07 316.8,370.09 318.4,370.16 320,370.16 321.6,370.05 323.2,369.95 324.8,370.12 326.4,370.28 328,370.07 329.6,369.77 331.2,369.78 332.8,369.9 334.4,369.81 336,369.72 337.6,369.81 339.2,370.09 340.8,370.28 342.4,370.17 344,370.04 345.6,370.03 347.2,370.04 348.8,370.09 350.4,370.24 352,370.33 353.6,370.21 355.2,370.1 356.8,370.19 358.4,370.18 360,369.92 361.6,369.88 363.2,370.07 364.8,370.18 366.4,370.16 368,370.17 369.6,370.19 371.2,370.16 372.8,370.25 374.4,370.28 376,370.17 377.6,370.2 379.2,370.27 380.8,370.13 382.4,369.98 384,370.14 384.8,370.27" fill="none" stroke="#2850f0" stroke-width="1.3" stroke-linejoin="round"/>
</g>
<g clip-path="url(#cd2)">
<polyline points="54,476.07 55.4,477.33 56.8,476.44 58.2,475.19 59.6,470.64 61,468 62.4,464.47 63.8,461.37 65.2,459.76 66.6,461.98 68,464.34 69.4,468.38 70.8,471.74 72.2,470 73.6,469.4 75,464.28 76.4,461.41 77.8,458.4 79.2,459.53 80.6,461.89 82,465.63 83.4,470.57 84.8,475.53 86.2,480.34 87.6,479.18 89,476.09 90.4,477.52 91.8,474.63 93.2,473.04 94.6,474.53 96,470.85 97.4,471.81 98.8,468.15 100.2,465.06 101.6,461.39 103,467.38 104.4,472.25 105.8,479.42 107.2,483.22 108.6,478.2 110,478.76 111.4,478.36 112.8,481.79 114.2,480.36 115.6,479.86 117,481.29 118.4,482.11 119.8,484.5 121.2,484.23 122.6,486.74 124,489.09 125.4,488.66 126.8,493.68 128.2,494.17 129.6,490.97 131,491.63 132.4,494.27 133.8,494.07 135.2,495.46 136.6,492.64 138,490.72 139.4,491.21 140.8,495 142.2,497.46 143.6,496.25 145,496.78 146.4,497.49 147.8,498.05 149.2,497.63 150.6,497.94 152,497.9 153.4,497.95 154.8,497.6 156.2,497.59 157.6,497.73 159,498.19 160.4,497.73 161.8,493.97 163.2,488.61 164.6,483.28 166,472.86 167.4,458.5 168.8,456.44 170.2,459.39 171.6,466.36 173,468.71 174.4,468.1 175.8,464.58 177.2,464.07 178.6,467.39 180,461.69 181.4,465.37 182.8,470.31 184.2,470.88 185.6,464.95 187,457.87 188.4,455.78 189.8,448.96 191.2,454.2 192.6,462.59 194,468.55 195.4,472.56 196.8,471.47 198.2,466.38 199.6,465.51 201,464.23 202.4,461.2 203.8,454.54 205.2,450.26 206.6,457.78 208,464.34 209.4,467.91 210.8,469.23 212.2,467.54 213.6,466 215,467.38 216.4,464.74 217.8,466.29 219.2,465.83 220.6,468.26 222,473.47 223.4,475.42 224.8,475.79 226.2,473.87 227.6,472.97 229,474.45 230.4,476.28 231.8,473.33 233.2,473.07 234.6,471.11 236,471.73 237.4,467.94 238.8,469.2 240.2,469.2 241.6,468.26 243,472.6 244.4,475.45 245.8,478.98 247.2,480.46 248.6,481.18 250,483.56 251.4,487.25 252.8,488.82 254.2,487.85 255.6,488.66 257,489.59 258.4,487.23 259.8,484.98 261.2,480.32 262.6,479.62 264,475.64 265.4,477.05 266.8,481.77 268.2,484.2 269.6,487.95 271,490.13 272.4,490.44 273.8,489.1 275.2,488.14 276.6,486.98 278,484.08 279.4,479.86 280.8,479.75 282.2,477.88 283.6,480.25 285,484.04 286.4,484.3 287.8,488.24 289.2,488.99 290.6,492.85 292,492.18 293.4,495.18 294.8,491.7 296.2,491.39 297.6,488.53 299,486.18 300.4,487.64 301.8,489.7 303.2,494.04 304.6,493.58 306,496 307.4,497.25 308.8,498.31 310.2,493.54 311.6,492.98 313,488.17 314.4,484.3 315.8,480.94 317.2,474.78 318.6,472.3 320,471.36 321.4,474.75 322.8,476.19 324.2,481.63 325.6,485 327,480.08 328.4,476.21 329.8,479.25 331.2,480.8 332.6,483.69 334,485.84 335.4,488.52 336.8,487.27 338.2,485.13 339.6,484.88 341,482.06 342.4,483.56 343.8,482.15 345.2,481.71 346.6,480.56 348,480.03 349.4,479.06 350.8,478.09 352.2,479.36 353.6,479.4 355,481.71 356.4,482.48 357.8,480.75 359.2,478.41 360.6,476.42 362,478.69 363.4,480.8 364.8,483.06 366.2,483.85 367.6,480.3 369,480.33 370.4,478.51 371.8,480.49 373.2,488.48 374.6,493.34 376,494.26 377.4,496.12 378.8,496.74 380.2,497.64 381.6,493.58 383,490.81 384.4,487.19 384.8,489.56" fill="none" stroke="#3a3a3a" stroke-width="1.15" stroke-linejoin="round"/>
<polyline points="54,522.44 55.4,521.55 56.8,523.88 58.2,527.44 59.6,520.95 61,519.49 62.4,529.29 63.8,533.54 65.2,539.28 66.6,533.87 68,533.95 69.4,527.91 70.8,525.29 72.2,523.89 73.6,521.52 75,525.95 76.4,529.15 77.8,529.77 79.2,536.17 80.6,531.25 82,526.37 83.4,521.23 84.8,519.64 86.2,517.19 87.6,518.86 89,519.61 90.4,520.74 91.8,516.84 93.2,515.03 94.6,519.86 96,522.77 97.4,527.87 98.8,527.75 100.2,533.34 101.6,537.76 103,531.73 104.4,522.44 105.8,519.54 107.2,516.04 108.6,513.01 110,513.88 111.4,517.19 112.8,514.44 114.2,516.57 115.6,515.41 117,518.26 118.4,515.57 119.8,513.77 121.2,514.22 122.6,512.89 124,511.65 125.4,508.97 126.8,506.15 128.2,506.4 129.6,505 131,502.95 132.4,502.66 133.8,501.51 135.2,499.19 136.6,502.23 138,499.13 139.4,498.99 140.8,498.64 142.2,499.88 143.6,499.38 145,498.25 146.4,497.92 147.8,497.59 149.2,498.35 150.6,497.71 152,498.3 153.4,498.07 154.8,498.09 156.2,498.23 157.6,497.84 159,497.39 160.4,499.05 161.8,502.24 163.2,504.05 164.6,505.78 166,514.09 167.4,517.93 168.8,524.01 170.2,530.33 171.6,528.44 173,523.92 174.4,524.71 175.8,523.17 177.2,528.87 178.6,533.26 180,537.67 181.4,532.71 182.8,528.61 184.2,528.22 185.6,530.55 187,532.67 188.4,534.97 189.8,533.5 191.2,534.26 192.6,540.02 194,536.05 195.4,535.35 196.8,533.85 198.2,531.75 199.6,530.23 201,534.82 202.4,535.92 203.8,536.94 205.2,527.1 206.6,522.54 208,514.51 209.4,521.87 210.8,531.9 212.2,537.66 213.6,533.45 215,519.79 216.4,510.37 217.8,507.28 219.2,510.75 220.6,514.76 222,517.63 223.4,521.1 224.8,523.25 226.2,524.29 227.6,522.54 229,525.28 230.4,528.18 231.8,525.88 233.2,527.93 234.6,530.93 236,531.47 237.4,528.73 238.8,525.66 240.2,522.73 241.6,523.27 243,524.6 244.4,525.8 245.8,525.94 247.2,527.8 248.6,523.09 250,523.06 251.4,518.81 252.8,513.18 254.2,512.01 255.6,509.62 257,506.6 258.4,510.23 259.8,510.29 261.2,515.07 262.6,513.92 264,516.81 265.4,517.81 266.8,515.51 268.2,511.33 269.6,510.82 271,507.86 272.4,507.26 273.8,508.3 275.2,507.18 276.6,504.4 278,507.74 279.4,510.62 280.8,510.53 282.2,514.76 283.6,516.82 285,516.4 286.4,516.58 287.8,515.14 289.2,509.05 290.6,503.56 292,504.63 293.4,507.66 294.8,513.85 296.2,512.4 297.6,509.87 299,507.28 300.4,505.57 301.8,500.13 303.2,499.9 304.6,500.82 306,499.38 307.4,498.04 308.8,499.06 310.2,500.7 311.6,503.84 313,507.52 314.4,513.03 315.8,516.66 317.2,520.83 318.6,525.41 320,524.98 321.4,524.67 322.8,522.16 324.2,518.02 325.6,515.63 327,514.49 328.4,510.37 329.8,515.09 331.2,515.1 332.6,516.28 334,515.65 335.4,512.08 336.8,511.36 338.2,512.15 339.6,513.79 341,515.86 342.4,516.79 343.8,515.87 345.2,517.76 346.6,518.96 348,518.04 349.4,521.27 350.8,522.42 352.2,522.97 353.6,524.39 355,523.99 356.4,523.04 357.8,519.39 359.2,516.9 360.6,515.18 362,513.06 363.4,515.1 364.8,511.21 366.2,510.74 367.6,512.59 369,512.45 370.4,516.91 371.8,518.66 373.2,517.34 374.6,514.11 376,508.27 377.4,503.65 378.8,502.66 380.2,498.49 381.6,502.21 383,506.35 384.4,509.43 384.8,507.12" fill="none" stroke="#3a3a3a" stroke-width="1.15" stroke-linejoin="round"/>
<polyline points="54,492.56 55.3,492.46 56.6,491.97 57.9,491.36 59.2,491.29 60.5,491.31 61.8,491.06 63.1,490.69 64.4,490.59 65.7,490.8 67,491.01 68.3,491.12 69.6,491.07 70.9,491.4 72.2,492.05 73.5,492.3 74.8,492.55 76.1,492.69 77.4,492.36 78.7,492.3 80,492.76 81.3,492.98 82.6,492.98 83.9,493.18 85.2,493.25 86.5,493.08 87.8,493.04 89.1,493 90.4,493.1 91.7,493.18 93,492.88 94.3,492.76 95.6,493.17 96.9,493.57 98.2,493.56 99.5,493.53 100.8,493.5 102.1,493.25 103.4,493.17 104.7,493.58 106,493.87 107.3,493.57 108.6,493.28 109.9,493.27 111.2,493.41 112.5,493.82 113.8,494.39 115.1,494.62 116.4,494.41 117.7,494.3 119,494.35 120.3,494.63 121.6,495.05 122.9,495.03 124.2,494.7 125.5,494.84 126.8,495.43 128.1,495.81 129.4,495.72 130.7,495.5 132,495.81 133.3,496.26 134.6,496.42 135.9,496.38 137.2,496.33 138.5,496.43 139.8,496.26 141.1,496.13 142.4,496.42 143.7,497.02 145,497.51 146.3,497.76 147.6,497.93 148.9,497.94 150.2,497.94 151.5,498.05 152.8,497.91 154.1,497.8 155.4,497.91 156.7,497.75 158,497.57 159.3,497.65 160.6,496.33 161.9,493.94 163.2,491.8 164.5,488.85 165.8,481.11 167.1,469.42 168.4,465.62 169.7,466.92 171,471.86 172.3,474.53 173.6,475.69 174.9,473.17 176.2,471.06 177.5,473 178.8,472.8 180.1,469.59 181.4,473.55 182.7,476.37 184,477.48 185.3,474.36 186.6,469.85 187.9,466.49 189.2,463.16 190.5,463.45 191.8,467.33 193.1,471.85 194.4,476.4 195.7,478.5 197,476.87 198.3,475.15 199.6,473.79 200.9,472.82 202.2,470.79 203.5,466.89 204.8,462.89 206.1,466.18 207.4,470.37 208.7,472.43 210,474.76 211.3,475.2 212.6,474.53 213.9,474.07 215.2,473.34 216.5,472.6 217.8,473.22 219.1,474.28 220.4,475.59 221.7,478.13 223,479.54 224.3,480.37 225.6,479.65 226.9,478.9 228.2,479.22 229.5,479.89 230.8,480.03 232.1,479.25 233.4,478.81 234.7,478.24 236,477.47 237.3,476.65 238.6,475.79 239.9,474.88 241.2,476.15 242.5,477.87 243.8,479.51 245.1,481.82 246.4,483.97 247.7,485.21 249,486.56 250.3,487.86 251.6,488.85 252.9,489.79 254.2,490.92 255.5,491.61 256.8,492.53 258.1,491.92 259.4,489.05 260.7,486.2 262,484.1 263.3,482.01 264.6,481.78 265.9,483.87 267.2,485.95 268.5,487.99 269.8,490.11 271.1,492.38 272.4,492.94 273.7,492.34 275,491.05 276.3,489.06 277.6,487.4 278.9,485.75 280.2,484.21 281.5,482.75 282.8,482.31 284.1,484.86 285.4,487.49 286.7,489.4 288,491.28 289.3,492.5 290.6,493.15 291.9,494.32 293.2,495.21 294.5,493.77 295.8,492.61 297.1,491.62 298.4,490.56 299.7,489.67 301,491.25 302.3,492.83 303.6,493.97 304.9,495.16 306.2,496.88 307.5,497.53 308.8,497.42 310.1,496.24 311.4,494.57 312.7,490.93 314,487.44 315.3,484.53 316.6,481.92 317.9,479.4 319.2,476.82 320.5,478.75 321.8,481.13 323.1,483.43 324.4,485.45 325.7,487.25 327,484.79 328.3,481.84 329.6,481.33 330.9,484.83 332.2,487.77 333.5,489.15 334.8,489.99 336.1,489.39 337.4,488.83 338.7,488.29 340,487.83 341.3,487.07 342.6,486.46 343.9,486.23 345.2,486.02 346.5,485.46 347.8,484.81 349.1,484.84 350.4,484.93 351.7,484.35 353,484.12 354.3,484.64 355.6,485.61 356.9,485.16 358.2,483.66 359.5,482.78 360.8,482.73 362.1,484.04 363.4,484.95 364.7,485.89 366,485.63 367.3,485.19 368.6,484.62 369.9,483.69 371.2,482.66 372.5,487.31 373.8,491.26 375.1,493.76 376.4,494.9 377.7,496.13 379,496.53 380.3,496.38 381.6,494.25 382.9,492.55 384.2,491.11 384.8,490.7" fill="none" stroke="#8c8c8c" stroke-width="1.1" stroke-linejoin="round"/>
<polyline points="54,503.43 55.3,503.04 56.6,502.66 57.9,502.51 59.2,502.16 60.5,501.93 61.8,502.15 63.1,502.45 64.4,502.69 65.7,503.15 67,503.67 68.3,503.8 69.6,503.95 70.9,504.19 72.2,503.94 73.5,503.23 74.8,503.22 76.1,503.52 77.4,503.23 78.7,502.64 80,502.5 81.3,502.67 82.6,502.54 83.9,502.83 85.2,502.94 86.5,502.49 87.8,502.37 89.1,502.57 90.4,502.74 91.7,502.96 93,503.41 94.3,503.44 95.6,503.14 96.9,502.89 98.2,502.3 99.5,502.08 100.8,502.52 102.1,502.77 103.4,502.79 104.7,502.76 106,502.33 107.3,501.83 108.6,501.94 109.9,501.81 111.2,501.25 112.5,501 113.8,500.78 115.1,500.68 116.4,500.97 117.7,501.34 119,501.23 120.3,500.7 121.6,500.79 122.9,501.2 124.2,501.02 125.5,500.48 126.8,500.17 128.1,500.09 129.4,499.97 130.7,500.02 132,499.95 133.3,499.77 134.6,499.71 135.9,499.44 137.2,499.36 138.5,499.32 139.8,498.81 141.1,498.56 142.4,498.71 143.7,498.84 145,498.79 146.3,498.38 147.6,497.97 148.9,497.84 150.2,497.93 151.5,498 152.8,498.11 154.1,498.08 155.4,497.99 156.7,498.17 158,498.21 159.3,498.08 160.6,498.93 161.9,500.56 163.2,502.26 164.5,504.7 165.8,509.06 167.1,514.15 168.4,517.67 169.7,521.42 171,522.34 172.3,520.42 173.6,518.56 174.9,517.62 176.2,519 177.5,523.58 178.8,526.39 180.1,528.17 181.4,525.23 182.7,522.95 184,521.52 185.3,522.91 186.6,525.53 187.9,527.17 189.2,525.99 190.5,524.67 191.8,527.68 193.1,530.86 194.4,529.08 195.7,527.62 197,526.57 198.3,525.79 199.6,525.05 200.9,526.58 202.2,528.01 203.5,529.07 204.8,524.55 206.1,517.62 207.4,513.51 208.7,514.01 210,522.45 211.3,527.6 212.6,531.45 213.9,523.55 215.2,515.57 216.5,507.66 217.8,506.07 219.1,507.71 220.4,511.71 221.7,513.54 223,515.47 224.3,516.65 225.6,517.54 226.9,518.46 228.2,519.56 229.5,520.63 230.8,521.3 232.1,522.13 233.4,523.62 234.7,525.13 236,525.5 237.3,521.88 238.6,519.16 239.9,517.49 241.2,518.4 242.5,519.87 243.8,520.82 245.1,521.45 246.4,522.01 247.7,520.4 249,518.27 250.3,516.06 251.6,513.97 252.9,511.74 254.2,509.51 255.5,506.97 256.8,505.59 258.1,506.87 259.4,508.64 260.7,510.58 262,511.9 263.3,512.55 264.6,512.58 265.9,512.03 267.2,510.62 268.5,508.77 269.8,507.27 271.1,506.58 272.4,506.12 273.7,505.34 275,504.17 276.3,503.9 277.6,505.52 278.9,507.29 280.2,508.61 281.5,509.53 282.8,510.65 284.1,511.95 285.4,513.05 286.7,513.88 288,510.33 289.3,506.56 290.6,503.45 291.9,504.1 293.2,506.74 294.5,508.94 295.8,510.06 297.1,508.15 298.4,505.9 299.7,503.6 301,501.41 302.3,499.82 303.6,499.54 304.9,499.18 306.2,498.5 307.5,498.06 308.8,498.42 310.1,500.55 311.4,502.9 312.7,506.35 314,510.01 315.3,512.99 316.6,515.34 317.9,517.61 319.2,519.84 320.5,521.21 321.8,518.06 323.1,515.27 324.4,513.57 325.7,512.01 327,509.99 328.3,508.72 329.6,509.76 330.9,511.18 332.2,512.16 333.5,511.51 334.8,510.95 336.1,510.31 337.4,509.96 338.7,510.26 340,510.8 341.3,511.21 342.6,511.86 343.9,512.62 345.2,513.28 346.5,514.06 347.8,514.67 349.1,514.78 350.4,515.38 351.7,516.4 353,517.6 354.3,518.01 355.6,518.21 356.9,517.23 358.2,515.58 359.5,513.96 360.8,512.72 362.1,511.19 363.4,509.95 364.7,509.04 366,509.37 367.3,509.92 368.6,510.46 369.9,512.35 371.2,515.37 372.5,515.15 373.8,513.3 375.1,508.89 376.4,505.18 377.7,502.75 379,500.38 380.3,498.96 381.6,500.91 382.9,502.88 384.2,505.14 384.8,505.43" fill="none" stroke="#5a5a5a" stroke-width="1.1" stroke-linejoin="round"/>
<polyline points="54,487.03 55.6,486.11 57.2,484.4 58.8,482.58 60.4,481.71 62,480.46 63.6,479.17 65.2,478.52 66.8,479.67 68.4,480.79 70,482.32 71.6,483.61 73.2,481.52 74.8,479.88 76.4,478.23 78,476.54 79.6,476.03 81.2,478.49 82.8,480.71 84.4,483.16 86,486.28 87.6,487.41 89.2,486.72 90.8,486.38 92.4,485.75 94,484.94 95.6,484.49 97.2,482.32 98.8,479.87 100.4,477.17 102,476.64 103.6,480.91 105.2,486.32 106.8,489.83 108.4,488.84 110,488 111.6,487.01 113.2,486.62 114.8,486.56 116.4,485.98 118,486.41 119.6,487.76 121.2,488.94 122.8,490.14 124.4,491.36 126,492.32 127.6,493.07 129.2,494.11 130.8,494.19 132.4,493.5 134,493.5 135.6,494.36 137.2,495.1 138.8,495.68 140.4,495.91 142,496.27 143.6,496.79 145.2,497 146.8,497.24 148.4,497.54 150,497.66 151.6,497.92 153.2,498.09 154.8,497.97 156.4,497.72 158,497.75 159.6,497.94 161.2,497.64 162.8,496.97 164.4,496.85 166,496.64 167.6,496.15 169.2,495.57 170.8,495.09 172.4,494.77 174,494.55 175.6,494.3 177.2,493.84 178.8,493.61 180.4,493.42 182,492.89 183.6,492.56 185.2,492.34 186.8,492.12 188.4,491.77 190,491.88 191.6,492.12 193.2,492.14 194.8,492.53 196.4,492.67 198,492.08 199.6,491.63 201.2,491.67 202.8,491.12 204.4,490.33 206,489.94 207.6,490.29 209.2,490.65 210.8,490.89 212.4,491.23 214,491.16 215.6,490.85 217.2,491.32 218.8,492.06 220.4,492.05 222,491.69 223.6,491.45 225.2,491.23 226.8,491.1 228.4,491.35 230,491.3 231.6,490.92 233.2,490.99 234.8,491.28 236.4,490.97 238,490.16 239.6,489.97 241.2,490.72 242.8,491.03 244.4,491.44 246,492.23 247.6,492.77 249.2,493.46 250.8,493.69 252.4,493.4 254,493.3 255.6,493.45 257.2,493.6 258.8,493.36 260.4,493.38 262,493.63 263.6,493.45 265.2,493.38 266.8,493.4 268.4,493.22 270,493.56 271.6,494.3 273.2,494.54 274.8,494.26 276.4,494.02 278,494.01 279.6,494.26 281.2,494.52 282.8,494.61 284.4,494.61 286,494.91 287.6,495.52 289.2,495.64 290.8,495.25 292.4,494.96 294,494.99 295.6,495.2 297.2,495.61 298.8,496.16 300.4,496.33 302,496.57 303.6,497.25 305.2,497.69 306.8,497.94 308.4,498.01 310,497.17 311.6,496.56 313.2,495.94 314.8,494.63 316.4,493.48 318,493.17 319.6,492.56 321.2,491.49 322.8,491.74 324.4,491.82 326,491.54 327.6,491.95 329.2,492.42 330.8,492.26 332.4,492.18 334,492.42 335.6,492.05 337.2,492.01 338.8,492.52 340.4,492.32 342,491.9 343.6,492.02 345.2,492.12 346.8,492.15 348.4,492.42 350,492.33 351.6,491.92 353.2,491.77 354.8,492.06 356.4,492.55 358,492.74 359.6,492.96 361.2,493.02 362.8,492.82 364.4,492.77 366,493.11 367.6,493.53 369.2,494.21 370.8,495.13 372.4,495.64 374,495.59 375.6,495.89 377.2,496.49 378.8,496.58 380.4,496.73 382,496.82 383.6,496.99 384.8,497.39" fill="none" stroke="#ff1414" stroke-width="1.2" stroke-linejoin="round"/>
<polyline points="54,509.98 55.6,510.87 57.2,512.41 58.8,514.12 60.4,515.43 62,516.78 63.6,517.73 65.2,518.1 66.8,516.27 68.4,514.45 70,512.92 71.6,512.07 73.2,510.79 74.8,511.47 76.4,513.7 78,515.73 79.6,517.05 81.2,515.79 82.8,513.2 84.4,510.56 86,508.23 87.6,508.1 89.2,509.37 90.8,510.12 92.4,510.33 94,510.53 95.6,510.96 97.2,512.74 98.8,514.37 100.4,517.31 102,519.99 103.6,515.45 105.2,511.38 106.8,510.26 108.4,509 110,509.7 111.6,510.21 113.2,510.42 114.8,510.16 116.4,509.91 118,509.45 119.6,508.69 121.2,507.98 122.8,506.88 124.4,505.75 126,504.68 127.6,503.28 129.2,502.26 130.8,501.98 132.4,501.64 134,500.88 135.6,500.49 137.2,500.4 138.8,500.43 140.4,500 142,499.1 143.6,498.51 145.2,498.22 146.8,498.18 148.4,498.12 150,498.04 151.6,497.83 153.2,497.61 154.8,497.55 156.4,497.59 158,497.57 159.6,497.72 161.2,498.12 162.8,498.67 164.4,499.23 166,499.7 167.6,500.02 169.2,500.38 170.8,500.41 172.4,500.38 174,500.58 175.6,500.56 177.2,500.38 178.8,500.62 180.4,501.23 182,501.78 183.6,502.16 185.2,502.29 186.8,502.32 188.4,502.31 190,502.23 191.6,501.94 193.2,501.15 194.8,500.77 196.4,500.87 198,501.01 199.6,501.31 201.2,501.5 202.8,501.8 204.4,502.41 206,502.97 207.6,503.27 209.2,503.9 210.8,504.96 212.4,505.45 214,505.99 215.6,506.35 217.2,505.89 218.8,505.29 220.4,504.8 222,504.31 223.6,503.79 225.2,503.63 226.8,504.14 228.4,504.46 230,504.5 231.6,504.96 233.2,505.92 234.8,506.67 236.4,506.73 238,506.62 239.6,506.47 241.2,506.16 242.8,506.07 244.4,506.13 246,505.79 247.6,504.75 249.2,503.96 250.8,503.48 252.4,502.93 254,502.58 255.6,502.18 257.2,501.88 258.8,501.75 260.4,501.77 262,502.19 263.6,502.08 265.2,501.43 266.8,501.43 268.4,501.62 270,501.51 271.6,501.38 273.2,501.2 274.8,501.34 276.4,501.5 278,501.42 279.6,501.55 281.2,501.72 282.8,501.32 284.4,500.62 286,500.34 287.6,500.35 289.2,500.35 290.8,499.97 292.4,499.49 294,499.2 295.6,499.06 297.2,499.07 298.8,499.11 300.4,499.29 302,499.37 303.6,498.96 305.2,498.26 306.8,498.02 308.4,497.88 310,498.61 311.6,499.66 313.2,500.74 314.8,501.29 316.4,501.78 318,502.41 319.6,503.68 321.2,504.39 322.8,503.79 324.4,503.51 326,503.74 327.6,503.72 329.2,503.57 330.8,503.24 332.4,502.96 334,503.07 335.6,503.58 337.2,503.67 338.8,503.58 340.4,504.11 342,504.52 343.6,504.32 345.2,504.03 346.8,504.42 348.4,505.05 350,504.85 351.6,504.61 353.2,504.79 354.8,505.34 356.4,505.42 358,505.06 359.6,504.79 361.2,504.16 362.8,503.32 364.4,503.12 366,503.14 367.6,502.93 369.2,502.59 370.8,501.91 372.4,501.09 374,500.86 375.6,500.69 377.2,499.83 378.8,498.76 380.4,498.53 382,498.96 383.6,498.67 384.8,498.3" fill="none" stroke="#ff1414" stroke-width="1.2" stroke-linejoin="round"/>
</g>
<rect x="54" y="281.3" width="330.8" height="266" fill="none" stroke="#161616" stroke-width="1.3" />
<line x1="54" y1="420.5" x2="384.8" y2="420.5" stroke="#161616" stroke-width="1.3" />
<line x1="87.2" y1="547.3" x2="87.2" y2="552.3" stroke="#161616" stroke-width="1.3" />
<text x="87.2" y="567.6" font-size="14.5" text-anchor="middle" font-weight="normal" fill="#000" >&#8722;4</text>
<line x1="153.2" y1="547.3" x2="153.2" y2="552.3" stroke="#161616" stroke-width="1.3" />
<text x="153.2" y="567.6" font-size="14.5" text-anchor="middle" font-weight="normal" fill="#000" >&#8722;2</text>
<line x1="219.2" y1="547.3" x2="219.2" y2="552.3" stroke="#161616" stroke-width="1.3" />
<text x="219.2" y="567.6" font-size="14.5" text-anchor="middle" font-weight="normal" fill="#000" >0</text>
<line x1="285.2" y1="547.3" x2="285.2" y2="552.3" stroke="#161616" stroke-width="1.3" />
<text x="285.2" y="567.6" font-size="14.5" text-anchor="middle" font-weight="normal" fill="#000" >2</text>
<line x1="351.2" y1="547.3" x2="351.2" y2="552.3" stroke="#161616" stroke-width="1.3" />
<text x="351.2" y="567.6" font-size="14.5" text-anchor="middle" font-weight="normal" fill="#000" >4</text>
<line x1="54.2" y1="547.3" x2="54.2" y2="550.3" stroke="#161616" stroke-width="1.3" />
<line x1="120.2" y1="547.3" x2="120.2" y2="550.3" stroke="#161616" stroke-width="1.3" />
<line x1="186.2" y1="547.3" x2="186.2" y2="550.3" stroke="#161616" stroke-width="1.3" />
<line x1="252.2" y1="547.3" x2="252.2" y2="550.3" stroke="#161616" stroke-width="1.3" />
<line x1="318.2" y1="547.3" x2="318.2" y2="550.3" stroke="#161616" stroke-width="1.3" />
<line x1="384.2" y1="547.3" x2="384.2" y2="550.3" stroke="#161616" stroke-width="1.3" />
<text x="219.2" y="588.2" font-size="14.8" text-anchor="middle" font-weight="normal" fill="#000" >Energy (eV)</text>
<text transform="translate(41.8,414.5) rotate(-90)" font-size="15" text-anchor="middle" >PDOS (a.u.)</text>
<line x1="57.6" y1="291" x2="85.5" y2="291" stroke="#8c8c8c" stroke-width="1.5" /><text x="89.5" y="294.9" font-size="12.2" text-anchor="start" font-weight="normal" fill="#000" >Ru 4d</text>
<line x1="125.2" y1="291" x2="153.5" y2="291" stroke="#e83cf0" stroke-width="1.5" /><text x="157.5" y="294.9" font-size="12.2" text-anchor="start" font-weight="normal" fill="#000" >Zr 4d</text>
<line x1="189.7" y1="291" x2="217.7" y2="291" stroke="#8ee02a" stroke-width="1.5" /><text x="221.6" y="294.9" font-size="12.2" text-anchor="start" font-weight="normal" fill="#000" >Co 3d</text>
<line x1="257.9" y1="291" x2="285.8" y2="291" stroke="#2850f0" stroke-width="1.5" /><text x="289.5" y="294.9" font-size="12.2" text-anchor="start" font-weight="normal" fill="#000" >Cr 3d</text>
<line x1="57.6" y1="307.1" x2="85.5" y2="307.1" stroke="#f0dc3c" stroke-width="1.5" /><text x="89.5" y="310.9" font-size="12.2" text-anchor="start" font-weight="normal" fill="#000" >Ce 4f</text>
<line x1="125.2" y1="307.1" x2="153.5" y2="307.1" stroke="#ff1414" stroke-width="1.5" /><text x="157.5" y="310.9" font-size="12.2" text-anchor="start" font-weight="normal" fill="#000" >O 2p</text>
<line x1="189.7" y1="307.1" x2="217.7" y2="307.1" stroke="#3a3a3a" stroke-width="1.5" /><text x="221.6" y="310.9" font-size="12.2" text-anchor="start" font-weight="normal" fill="#000" >TDOS</text>
<line x1="57.5" y1="431" x2="87.9" y2="431" stroke="#8c8c8c" stroke-width="1.5" /><text x="92.2" y="435" font-size="12.2" text-anchor="start" font-weight="normal" fill="#000" >Ru 4d</text>
<line x1="128.4" y1="431" x2="159.5" y2="431" stroke="#ff1414" stroke-width="1.5" /><text x="163.2" y="435" font-size="12.2" text-anchor="start" font-weight="normal" fill="#000" >O 2p</text>
<line x1="193.1" y1="431" x2="223.9" y2="431" stroke="#3a3a3a" stroke-width="1.5" /><text x="227.8" y="435" font-size="12.2" text-anchor="start" font-weight="normal" fill="#000" >TDOS</text>
<text x="289.1" y="315.1" font-size="13.7" text-anchor="start" font-weight="normal" fill="#000" >&#949;<tspan font-size="9.32" dy="3.01">Ru</tspan><tspan dy="-3.01"> = &#8722;1.04 eV</tspan></text>
<text x="289.1" y="335.4" font-size="13.7" text-anchor="start" font-weight="normal" fill="#000" >&#949;<tspan font-size="9.32" dy="3.01">O</tspan><tspan dy="-3.01"> = &#8722;3.11 eV</tspan></text>
<text x="289.4" y="447.3" font-size="13.7" text-anchor="start" font-weight="normal" fill="#000" >&#949;<tspan font-size="9.32" dy="3.01">Ru</tspan><tspan dy="-3.01"> = &#8722;1.16 eV</tspan></text>
<text x="289.4" y="466.8" font-size="13.7" text-anchor="start" font-weight="normal" fill="#000" >&#949;<tspan font-size="9.32" dy="3.01">O</tspan><tspan dy="-3.01"> = &#8722;3.24 eV</tspan></text>
<text x="380.5" y="412.5" font-size="12.4" text-anchor="end" font-weight="bold" fill="#000" >MD-RuZrCoCrCeO<tspan font-size="8.43" dy="2.73">2</tspan></text>
<text x="380.5" y="539.5" font-size="12.4" text-anchor="end" font-weight="bold" fill="#000" >RuO<tspan font-size="8.43" dy="2.73">2</tspan></text>
<line x1="377.5" y1="14.5" x2="377.32" y2="27.3" stroke="#ea1c1c" stroke-width="2.6"/><line x1="377.32" y1="27.3" x2="377.1" y2="43.6" stroke="#c6bab2" stroke-width="2.6"/><line x1="377.5" y1="14.5" x2="377.1" y2="43.6" stroke="#fff" stroke-opacity="0.2" stroke-width="0.78"/>
<line x1="377.1" y1="43.6" x2="377.32" y2="60.62" stroke="#c6bab2" stroke-width="2.6"/><line x1="377.32" y1="60.62" x2="377.5" y2="74" stroke="#ea1c1c" stroke-width="2.6"/><line x1="377.1" y1="43.6" x2="377.5" y2="74" stroke="#fff" stroke-opacity="0.2" stroke-width="0.78"/>
<line x1="377.5" y1="74" x2="376.75" y2="86.89" stroke="#ea1c1c" stroke-width="2.6"/><line x1="376.75" y1="86.89" x2="375.8" y2="103.3" stroke="#2436e0" stroke-width="2.6"/><line x1="377.5" y1="74" x2="375.8" y2="103.3" stroke="#fff" stroke-opacity="0.2" stroke-width="0.78"/>
<line x1="375.8" y1="103.3" x2="376.58" y2="116.07" stroke="#2436e0" stroke-width="2.6"/><line x1="376.58" y1="116.07" x2="377.2" y2="126.1" stroke="#ea1c1c" stroke-width="2.6"/><line x1="375.8" y1="103.3" x2="377.2" y2="126.1" stroke="#fff" stroke-opacity="0.2" stroke-width="0.78"/>
<line x1="377.2" y1="126.1" x2="377.38" y2="140.71" stroke="#ea1c1c" stroke-width="2.6"/><line x1="377.38" y1="140.71" x2="377.6" y2="159.3" stroke="#8a2ee0" stroke-width="2.6"/><line x1="377.2" y1="126.1" x2="377.6" y2="159.3" stroke="#fff" stroke-opacity="0.2" stroke-width="0.78"/>
<line x1="377.6" y1="159.3" x2="377.77" y2="176.44" stroke="#8a2ee0" stroke-width="2.6"/><line x1="377.77" y1="176.44" x2="377.9" y2="189.9" stroke="#ea1c1c" stroke-width="2.6"/><line x1="377.6" y1="159.3" x2="377.9" y2="189.9" stroke="#fff" stroke-opacity="0.2" stroke-width="0.78"/>
<line x1="377.9" y1="189.9" x2="378.3" y2="201.52" stroke="#ea1c1c" stroke-width="2.6"/><line x1="378.3" y1="201.52" x2="378.8" y2="216.3" stroke="#c6bab2" stroke-width="2.6"/><line x1="377.9" y1="189.9" x2="378.8" y2="216.3" stroke="#fff" stroke-opacity="0.2" stroke-width="0.78"/>
<line x1="378.8" y1="216.3" x2="377.9" y2="233.6" stroke="#c6bab2" stroke-width="2.6"/><line x1="377.9" y1="233.6" x2="377.2" y2="247.2" stroke="#ea1c1c" stroke-width="2.6"/><line x1="378.8" y1="216.3" x2="377.2" y2="247.2" stroke="#fff" stroke-opacity="0.2" stroke-width="0.78"/>
<line x1="496" y1="13.4" x2="495.82" y2="26.42" stroke="#ea1c1c" stroke-width="2.6"/><line x1="495.82" y1="26.42" x2="495.6" y2="43" stroke="#c6bab2" stroke-width="2.6"/><line x1="496" y1="13.4" x2="495.6" y2="43" stroke="#fff" stroke-opacity="0.2" stroke-width="0.78"/>
<line x1="495.6" y1="43" x2="495.6" y2="59.63" stroke="#c6bab2" stroke-width="2.6"/><line x1="495.6" y1="59.63" x2="495.6" y2="72.7" stroke="#ea1c1c" stroke-width="2.6"/><line x1="495.6" y1="43" x2="495.6" y2="72.7" stroke="#fff" stroke-opacity="0.2" stroke-width="0.78"/>
<line x1="495.6" y1="72.7" x2="496.44" y2="86.08" stroke="#ea1c1c" stroke-width="2.6"/><line x1="496.44" y1="86.08" x2="497.5" y2="103.1" stroke="#c6bab2" stroke-width="2.6"/><line x1="495.6" y1="72.7" x2="497.5" y2="103.1" stroke="#fff" stroke-opacity="0.2" stroke-width="0.78"/>
<line x1="497.5" y1="103.1" x2="496.66" y2="119.84" stroke="#c6bab2" stroke-width="2.6"/><line x1="496.66" y1="119.84" x2="496" y2="133" stroke="#ea1c1c" stroke-width="2.6"/><line x1="497.5" y1="103.1" x2="496" y2="133" stroke="#fff" stroke-opacity="0.2" stroke-width="0.78"/>
<line x1="496" y1="133" x2="495.91" y2="143.91" stroke="#ea1c1c" stroke-width="2.6"/><line x1="495.91" y1="143.91" x2="495.8" y2="157.8" stroke="#2436e0" stroke-width="2.6"/><line x1="496" y1="133" x2="495.8" y2="157.8" stroke="#fff" stroke-opacity="0.2" stroke-width="0.78"/>
<line x1="495.8" y1="157.8" x2="495.8" y2="173.42" stroke="#2436e0" stroke-width="2.6"/><line x1="495.8" y1="173.42" x2="495.8" y2="185.7" stroke="#ea1c1c" stroke-width="2.6"/><line x1="495.8" y1="157.8" x2="495.8" y2="185.7" stroke="#fff" stroke-opacity="0.2" stroke-width="0.78"/>
<line x1="495.8" y1="185.7" x2="495.18" y2="199.08" stroke="#ea1c1c" stroke-width="2.6"/><line x1="495.18" y1="199.08" x2="494.4" y2="216.1" stroke="#c6bab2" stroke-width="2.6"/><line x1="495.8" y1="185.7" x2="494.4" y2="216.1" stroke="#fff" stroke-opacity="0.2" stroke-width="0.78"/>
<line x1="494.4" y1="216.1" x2="495.02" y2="232.56" stroke="#c6bab2" stroke-width="2.6"/><line x1="495.02" y1="232.56" x2="495.5" y2="245.5" stroke="#ea1c1c" stroke-width="2.6"/><line x1="494.4" y1="216.1" x2="495.5" y2="245.5" stroke="#fff" stroke-opacity="0.2" stroke-width="0.78"/>
<line x1="614" y1="14.8" x2="614" y2="27.43" stroke="#ea1c1c" stroke-width="2.6"/><line x1="614" y1="27.43" x2="614" y2="43.5" stroke="#c6bab2" stroke-width="2.6"/><line x1="614" y1="14.8" x2="614" y2="43.5" stroke="#fff" stroke-opacity="0.2" stroke-width="0.78"/>
<line x1="614" y1="43.5" x2="614" y2="60.86" stroke="#c6bab2" stroke-width="2.6"/><line x1="614" y1="60.86" x2="614" y2="74.5" stroke="#ea1c1c" stroke-width="2.6"/><line x1="614" y1="43.5" x2="614" y2="74.5" stroke="#fff" stroke-opacity="0.2" stroke-width="0.78"/>
<line x1="614" y1="74.5" x2="613.34" y2="87.08" stroke="#ea1c1c" stroke-width="2.6"/><line x1="613.34" y1="87.08" x2="612.5" y2="103.1" stroke="#2436e0" stroke-width="2.6"/><line x1="614" y1="74.5" x2="612.5" y2="103.1" stroke="#fff" stroke-opacity="0.2" stroke-width="0.78"/>
<line x1="612.5" y1="103.1" x2="613.06" y2="115.98" stroke="#2436e0" stroke-width="2.6"/><line x1="613.06" y1="115.98" x2="613.5" y2="126.1" stroke="#ea1c1c" stroke-width="2.6"/><line x1="612.5" y1="103.1" x2="613.5" y2="126.1" stroke="#fff" stroke-opacity="0.2" stroke-width="0.78"/>
<line x1="613.5" y1="126.1" x2="613.72" y2="140.8" stroke="#ea1c1c" stroke-width="2.6"/><line x1="613.72" y1="140.8" x2="614" y2="159.5" stroke="#8a2ee0" stroke-width="2.6"/><line x1="613.5" y1="126.1" x2="614" y2="159.5" stroke="#fff" stroke-opacity="0.2" stroke-width="0.78"/>
<line x1="614" y1="159.5" x2="614.17" y2="176.58" stroke="#8a2ee0" stroke-width="2.6"/><line x1="614.17" y1="176.58" x2="614.3" y2="190" stroke="#ea1c1c" stroke-width="2.6"/><line x1="614" y1="159.5" x2="614.3" y2="190" stroke="#fff" stroke-opacity="0.2" stroke-width="0.78"/>
<line x1="614.3" y1="190" x2="614.83" y2="201.62" stroke="#ea1c1c" stroke-width="2.6"/><line x1="614.83" y1="201.62" x2="615.5" y2="216.4" stroke="#c6bab2" stroke-width="2.6"/><line x1="614.3" y1="190" x2="615.5" y2="216.4" stroke="#fff" stroke-opacity="0.2" stroke-width="0.78"/>
<line x1="615.5" y1="216.4" x2="614.38" y2="233.76" stroke="#c6bab2" stroke-width="2.6"/><line x1="614.38" y1="233.76" x2="613.5" y2="247.4" stroke="#ea1c1c" stroke-width="2.6"/><line x1="615.5" y1="216.4" x2="613.5" y2="247.4" stroke="#fff" stroke-opacity="0.2" stroke-width="0.78"/>
<line x1="377.1" y1="43.6" x2="397.6" y2="42.7" stroke="#c6bab2" stroke-width="2.6"/><line x1="397.6" y1="42.7" x2="413.7" y2="42" stroke="#ea1c1c" stroke-width="2.6"/><line x1="377.1" y1="43.6" x2="413.7" y2="42" stroke="#fff" stroke-opacity="0.2" stroke-width="0.78"/>
<line x1="495.6" y1="43" x2="475.33" y2="41.94" stroke="#c6bab2" stroke-width="2.6"/><line x1="475.33" y1="41.94" x2="459.4" y2="41.1" stroke="#ea1c1c" stroke-width="2.6"/><line x1="495.6" y1="43" x2="459.4" y2="41.1" stroke="#fff" stroke-opacity="0.2" stroke-width="0.78"/>
<line x1="436.7" y1="12.6" x2="423.82" y2="29.06" stroke="#c6bab2" stroke-width="2.6"/><line x1="423.82" y1="29.06" x2="413.7" y2="42" stroke="#ea1c1c" stroke-width="2.6"/><line x1="436.7" y1="12.6" x2="413.7" y2="42" stroke="#fff" stroke-opacity="0.2" stroke-width="0.78"/>
<line x1="435.7" y1="73.4" x2="423.38" y2="55.82" stroke="#8a2ee0" stroke-width="2.6"/><line x1="423.38" y1="55.82" x2="413.7" y2="42" stroke="#ea1c1c" stroke-width="2.6"/><line x1="435.7" y1="73.4" x2="413.7" y2="42" stroke="#fff" stroke-opacity="0.2" stroke-width="0.78"/>
<line x1="436.7" y1="12.6" x2="449.41" y2="28.56" stroke="#c6bab2" stroke-width="2.6"/><line x1="449.41" y1="28.56" x2="459.4" y2="41.1" stroke="#ea1c1c" stroke-width="2.6"/><line x1="436.7" y1="12.6" x2="459.4" y2="41.1" stroke="#fff" stroke-opacity="0.2" stroke-width="0.78"/>
<line x1="435.7" y1="73.4" x2="448.97" y2="55.31" stroke="#8a2ee0" stroke-width="2.6"/><line x1="448.97" y1="55.31" x2="459.4" y2="41.1" stroke="#ea1c1c" stroke-width="2.6"/><line x1="435.7" y1="73.4" x2="459.4" y2="41.1" stroke="#fff" stroke-opacity="0.2" stroke-width="0.78"/>
<line x1="375.8" y1="103.3" x2="396.3" y2="102.8" stroke="#2436e0" stroke-width="2.6"/><line x1="396.3" y1="102.8" x2="412.4" y2="102.4" stroke="#ea1c1c" stroke-width="2.6"/><line x1="375.8" y1="103.3" x2="412.4" y2="102.4" stroke="#fff" stroke-opacity="0.2" stroke-width="0.78"/>
<line x1="497.5" y1="103.1" x2="477" y2="102.71" stroke="#c6bab2" stroke-width="2.6"/><line x1="477" y1="102.71" x2="460.9" y2="102.4" stroke="#ea1c1c" stroke-width="2.6"/><line x1="497.5" y1="103.1" x2="460.9" y2="102.4" stroke="#fff" stroke-opacity="0.2" stroke-width="0.78"/>
<line x1="435.7" y1="73.4" x2="422.65" y2="89.64" stroke="#8a2ee0" stroke-width="2.6"/><line x1="422.65" y1="89.64" x2="412.4" y2="102.4" stroke="#ea1c1c" stroke-width="2.6"/><line x1="435.7" y1="73.4" x2="412.4" y2="102.4" stroke="#fff" stroke-opacity="0.2" stroke-width="0.78"/>
<line x1="437.5" y1="132" x2="423.44" y2="115.42" stroke="#c6bab2" stroke-width="2.6"/><line x1="423.44" y1="115.42" x2="412.4" y2="102.4" stroke="#ea1c1c" stroke-width="2.6"/><line x1="437.5" y1="132" x2="412.4" y2="102.4" stroke="#fff" stroke-opacity="0.2" stroke-width="0.78"/>
<line x1="435.7" y1="73.4" x2="449.81" y2="89.64" stroke="#8a2ee0" stroke-width="2.6"/><line x1="449.81" y1="89.64" x2="460.9" y2="102.4" stroke="#ea1c1c" stroke-width="2.6"/><line x1="435.7" y1="73.4" x2="460.9" y2="102.4" stroke="#fff" stroke-opacity="0.2" stroke-width="0.78"/>
<line x1="437.5" y1="132" x2="450.6" y2="115.42" stroke="#c6bab2" stroke-width="2.6"/><line x1="450.6" y1="115.42" x2="460.9" y2="102.4" stroke="#ea1c1c" stroke-width="2.6"/><line x1="437.5" y1="132" x2="460.9" y2="102.4" stroke="#fff" stroke-opacity="0.2" stroke-width="0.78"/>
<line x1="377.6" y1="159.3" x2="399.33" y2="160.36" stroke="#8a2ee0" stroke-width="2.6"/><line x1="399.33" y1="160.36" x2="416.4" y2="161.2" stroke="#ea1c1c" stroke-width="2.6"/><line x1="377.6" y1="159.3" x2="416.4" y2="161.2" stroke="#fff" stroke-opacity="0.2" stroke-width="0.78"/>
<line x1="495.8" y1="157.8" x2="475.7" y2="159.48" stroke="#2436e0" stroke-width="2.6"/><line x1="475.7" y1="159.48" x2="459.9" y2="160.8" stroke="#ea1c1c" stroke-width="2.6"/><line x1="495.8" y1="157.8" x2="459.9" y2="160.8" stroke="#fff" stroke-opacity="0.2" stroke-width="0.78"/>
<line x1="437.5" y1="132" x2="425.68" y2="148.35" stroke="#c6bab2" stroke-width="2.6"/><line x1="425.68" y1="148.35" x2="416.4" y2="161.2" stroke="#ea1c1c" stroke-width="2.6"/><line x1="437.5" y1="132" x2="416.4" y2="161.2" stroke="#fff" stroke-opacity="0.2" stroke-width="0.78"/>
<line x1="437.8" y1="188.7" x2="425.82" y2="173.3" stroke="#2cd42c" stroke-width="2.6"/><line x1="425.82" y1="173.3" x2="416.4" y2="161.2" stroke="#ea1c1c" stroke-width="2.6"/><line x1="437.8" y1="188.7" x2="416.4" y2="161.2" stroke="#fff" stroke-opacity="0.2" stroke-width="0.78"/>
<line x1="437.5" y1="132" x2="450.04" y2="148.13" stroke="#c6bab2" stroke-width="2.6"/><line x1="450.04" y1="148.13" x2="459.9" y2="160.8" stroke="#ea1c1c" stroke-width="2.6"/><line x1="437.5" y1="132" x2="459.9" y2="160.8" stroke="#fff" stroke-opacity="0.2" stroke-width="0.78"/>
<line x1="437.8" y1="188.7" x2="450.18" y2="173.08" stroke="#2cd42c" stroke-width="2.6"/><line x1="450.18" y1="173.08" x2="459.9" y2="160.8" stroke="#ea1c1c" stroke-width="2.6"/><line x1="437.8" y1="188.7" x2="459.9" y2="160.8" stroke="#fff" stroke-opacity="0.2" stroke-width="0.78"/>
<line x1="378.8" y1="216.3" x2="399.13" y2="216.08" stroke="#c6bab2" stroke-width="2.6"/><line x1="399.13" y1="216.08" x2="415.1" y2="215.9" stroke="#ea1c1c" stroke-width="2.6"/><line x1="378.8" y1="216.3" x2="415.1" y2="215.9" stroke="#fff" stroke-opacity="0.2" stroke-width="0.78"/>
<line x1="494.4" y1="216.1" x2="474.63" y2="215.99" stroke="#c6bab2" stroke-width="2.6"/><line x1="474.63" y1="215.99" x2="459.1" y2="215.9" stroke="#ea1c1c" stroke-width="2.6"/><line x1="494.4" y1="216.1" x2="459.1" y2="215.9" stroke="#fff" stroke-opacity="0.2" stroke-width="0.78"/>
<line x1="437.8" y1="188.7" x2="425.09" y2="203.93" stroke="#2cd42c" stroke-width="2.6"/><line x1="425.09" y1="203.93" x2="415.1" y2="215.9" stroke="#ea1c1c" stroke-width="2.6"/><line x1="437.8" y1="188.7" x2="415.1" y2="215.9" stroke="#fff" stroke-opacity="0.2" stroke-width="0.78"/>
<line x1="436.7" y1="244.7" x2="424.6" y2="228.57" stroke="#c6bab2" stroke-width="2.6"/><line x1="424.6" y1="228.57" x2="415.1" y2="215.9" stroke="#ea1c1c" stroke-width="2.6"/><line x1="436.7" y1="244.7" x2="415.1" y2="215.9" stroke="#fff" stroke-opacity="0.2" stroke-width="0.78"/>
<line x1="437.8" y1="188.7" x2="449.73" y2="203.93" stroke="#2cd42c" stroke-width="2.6"/><line x1="449.73" y1="203.93" x2="459.1" y2="215.9" stroke="#ea1c1c" stroke-width="2.6"/><line x1="437.8" y1="188.7" x2="459.1" y2="215.9" stroke="#fff" stroke-opacity="0.2" stroke-width="0.78"/>
<line x1="436.7" y1="244.7" x2="449.24" y2="228.57" stroke="#c6bab2" stroke-width="2.6"/><line x1="449.24" y1="228.57" x2="459.1" y2="215.9" stroke="#ea1c1c" stroke-width="2.6"/><line x1="436.7" y1="244.7" x2="459.1" y2="215.9" stroke="#fff" stroke-opacity="0.2" stroke-width="0.78"/>
<line x1="495.6" y1="43" x2="515.93" y2="43.84" stroke="#c6bab2" stroke-width="2.6"/><line x1="515.93" y1="43.84" x2="531.9" y2="44.5" stroke="#ea1c1c" stroke-width="2.6"/><line x1="495.6" y1="43" x2="531.9" y2="44.5" stroke="#fff" stroke-opacity="0.2" stroke-width="0.78"/>
<line x1="614" y1="43.5" x2="593.39" y2="44.06" stroke="#c6bab2" stroke-width="2.6"/><line x1="593.39" y1="44.06" x2="577.2" y2="44.5" stroke="#ea1c1c" stroke-width="2.6"/><line x1="614" y1="43.5" x2="577.2" y2="44.5" stroke="#fff" stroke-opacity="0.2" stroke-width="0.78"/>
<line x1="554.9" y1="12.6" x2="542.02" y2="30.46" stroke="#8a2ee0" stroke-width="2.6"/><line x1="542.02" y1="30.46" x2="531.9" y2="44.5" stroke="#ea1c1c" stroke-width="2.6"/><line x1="554.9" y1="12.6" x2="531.9" y2="44.5" stroke="#fff" stroke-opacity="0.2" stroke-width="0.78"/>
<line x1="554.6" y1="73.9" x2="541.89" y2="57.44" stroke="#c6bab2" stroke-width="2.6"/><line x1="541.89" y1="57.44" x2="531.9" y2="44.5" stroke="#ea1c1c" stroke-width="2.6"/><line x1="554.6" y1="73.9" x2="531.9" y2="44.5" stroke="#fff" stroke-opacity="0.2" stroke-width="0.78"/>
<line x1="554.9" y1="12.6" x2="567.39" y2="30.46" stroke="#8a2ee0" stroke-width="2.6"/><line x1="567.39" y1="30.46" x2="577.2" y2="44.5" stroke="#ea1c1c" stroke-width="2.6"/><line x1="554.9" y1="12.6" x2="577.2" y2="44.5" stroke="#fff" stroke-opacity="0.2" stroke-width="0.78"/>
<line x1="554.6" y1="73.9" x2="567.26" y2="57.44" stroke="#c6bab2" stroke-width="2.6"/><line x1="567.26" y1="57.44" x2="577.2" y2="44.5" stroke="#ea1c1c" stroke-width="2.6"/><line x1="554.6" y1="73.9" x2="577.2" y2="44.5" stroke="#fff" stroke-opacity="0.2" stroke-width="0.78"/>
<line x1="497.5" y1="103.1" x2="517.44" y2="102.93" stroke="#c6bab2" stroke-width="2.6"/><line x1="517.44" y1="102.93" x2="533.1" y2="102.8" stroke="#ea1c1c" stroke-width="2.6"/><line x1="497.5" y1="103.1" x2="533.1" y2="102.8" stroke="#fff" stroke-opacity="0.2" stroke-width="0.78"/>
<line x1="612.5" y1="103.1" x2="592.45" y2="102.71" stroke="#2436e0" stroke-width="2.6"/><line x1="592.45" y1="102.71" x2="576.7" y2="102.4" stroke="#ea1c1c" stroke-width="2.6"/><line x1="612.5" y1="103.1" x2="576.7" y2="102.4" stroke="#fff" stroke-opacity="0.2" stroke-width="0.78"/>
<line x1="554.6" y1="73.9" x2="542.56" y2="90.08" stroke="#c6bab2" stroke-width="2.6"/><line x1="542.56" y1="90.08" x2="533.1" y2="102.8" stroke="#ea1c1c" stroke-width="2.6"/><line x1="554.6" y1="73.9" x2="533.1" y2="102.8" stroke="#fff" stroke-opacity="0.2" stroke-width="0.78"/>
<line x1="553.9" y1="130.5" x2="542.25" y2="114.99" stroke="#2cd42c" stroke-width="2.6"/><line x1="542.25" y1="114.99" x2="533.1" y2="102.8" stroke="#ea1c1c" stroke-width="2.6"/><line x1="553.9" y1="130.5" x2="533.1" y2="102.8" stroke="#fff" stroke-opacity="0.2" stroke-width="0.78"/>
<line x1="554.6" y1="73.9" x2="566.98" y2="89.86" stroke="#c6bab2" stroke-width="2.6"/><line x1="566.98" y1="89.86" x2="576.7" y2="102.4" stroke="#ea1c1c" stroke-width="2.6"/><line x1="554.6" y1="73.9" x2="576.7" y2="102.4" stroke="#fff" stroke-opacity="0.2" stroke-width="0.78"/>
<line x1="553.9" y1="130.5" x2="566.67" y2="114.76" stroke="#2cd42c" stroke-width="2.6"/><line x1="566.67" y1="114.76" x2="576.7" y2="102.4" stroke="#ea1c1c" stroke-width="2.6"/><line x1="553.9" y1="130.5" x2="576.7" y2="102.4" stroke="#fff" stroke-opacity="0.2" stroke-width="0.78"/>
<line x1="495.8" y1="157.8" x2="516.07" y2="157.86" stroke="#2436e0" stroke-width="2.6"/><line x1="516.07" y1="157.86" x2="532" y2="157.9" stroke="#ea1c1c" stroke-width="2.6"/><line x1="495.8" y1="157.8" x2="532" y2="157.9" stroke="#fff" stroke-opacity="0.2" stroke-width="0.78"/>
<line x1="614" y1="159.5" x2="592.66" y2="157.99" stroke="#8a2ee0" stroke-width="2.6"/><line x1="592.66" y1="157.99" x2="575.9" y2="156.8" stroke="#ea1c1c" stroke-width="2.6"/><line x1="614" y1="159.5" x2="575.9" y2="156.8" stroke="#fff" stroke-opacity="0.2" stroke-width="0.78"/>
<line x1="553.9" y1="130.5" x2="541.64" y2="145.84" stroke="#2cd42c" stroke-width="2.6"/><line x1="541.64" y1="145.84" x2="532" y2="157.9" stroke="#ea1c1c" stroke-width="2.6"/><line x1="553.9" y1="130.5" x2="532" y2="157.9" stroke="#fff" stroke-opacity="0.2" stroke-width="0.78"/>
<line x1="553.8" y1="186.3" x2="541.59" y2="170.4" stroke="#c6bab2" stroke-width="2.6"/><line x1="541.59" y1="170.4" x2="532" y2="157.9" stroke="#ea1c1c" stroke-width="2.6"/><line x1="553.8" y1="186.3" x2="532" y2="157.9" stroke="#fff" stroke-opacity="0.2" stroke-width="0.78"/>
<line x1="553.9" y1="130.5" x2="566.22" y2="145.23" stroke="#2cd42c" stroke-width="2.6"/><line x1="566.22" y1="145.23" x2="575.9" y2="156.8" stroke="#ea1c1c" stroke-width="2.6"/><line x1="553.9" y1="130.5" x2="575.9" y2="156.8" stroke="#fff" stroke-opacity="0.2" stroke-width="0.78"/>
<line x1="553.8" y1="186.3" x2="566.18" y2="169.78" stroke="#c6bab2" stroke-width="2.6"/><line x1="566.18" y1="169.78" x2="575.9" y2="156.8" stroke="#ea1c1c" stroke-width="2.6"/><line x1="553.8" y1="186.3" x2="575.9" y2="156.8" stroke="#fff" stroke-opacity="0.2" stroke-width="0.78"/>
<line x1="494.4" y1="216.1" x2="514.78" y2="216.27" stroke="#c6bab2" stroke-width="2.6"/><line x1="514.78" y1="216.27" x2="530.8" y2="216.4" stroke="#ea1c1c" stroke-width="2.6"/><line x1="494.4" y1="216.1" x2="530.8" y2="216.4" stroke="#fff" stroke-opacity="0.2" stroke-width="0.78"/>
<line x1="615.5" y1="216.4" x2="594.39" y2="215.84" stroke="#c6bab2" stroke-width="2.6"/><line x1="594.39" y1="215.84" x2="577.8" y2="215.4" stroke="#ea1c1c" stroke-width="2.6"/><line x1="615.5" y1="216.4" x2="577.8" y2="215.4" stroke="#fff" stroke-opacity="0.2" stroke-width="0.78"/>
<line x1="553.8" y1="186.3" x2="540.92" y2="203.16" stroke="#c6bab2" stroke-width="2.6"/><line x1="540.92" y1="203.16" x2="530.8" y2="216.4" stroke="#ea1c1c" stroke-width="2.6"/><line x1="553.8" y1="186.3" x2="530.8" y2="216.4" stroke="#fff" stroke-opacity="0.2" stroke-width="0.78"/>
<line x1="555.1" y1="245.5" x2="541.49" y2="229.2" stroke="#8a2ee0" stroke-width="2.6"/><line x1="541.49" y1="229.2" x2="530.8" y2="216.4" stroke="#ea1c1c" stroke-width="2.6"/><line x1="555.1" y1="245.5" x2="530.8" y2="216.4" stroke="#fff" stroke-opacity="0.2" stroke-width="0.78"/>
<line x1="553.8" y1="186.3" x2="567.24" y2="202.6" stroke="#c6bab2" stroke-width="2.6"/><line x1="567.24" y1="202.6" x2="577.8" y2="215.4" stroke="#ea1c1c" stroke-width="2.6"/><line x1="553.8" y1="186.3" x2="577.8" y2="215.4" stroke="#fff" stroke-opacity="0.2" stroke-width="0.78"/>
<line x1="555.1" y1="245.5" x2="567.81" y2="228.64" stroke="#8a2ee0" stroke-width="2.6"/><line x1="567.81" y1="228.64" x2="577.8" y2="215.4" stroke="#ea1c1c" stroke-width="2.6"/><line x1="555.1" y1="245.5" x2="577.8" y2="215.4" stroke="#fff" stroke-opacity="0.2" stroke-width="0.78"/>
<circle cx="377.5" cy="14.5" r="5.2" fill="url(#gO)"/>
<circle cx="377.1" cy="43.6" r="9.8" fill="url(#gRu)"/>
<circle cx="377.5" cy="74" r="5.2" fill="url(#gO)"/>
<circle cx="375.8" cy="103.3" r="9.2" fill="url(#gCr)"/>
<circle cx="377.2" cy="126.1" r="5.2" fill="url(#gO)"/>
<circle cx="377.6" cy="159.3" r="11.6" fill="url(#gZr)"/>
<circle cx="377.9" cy="189.9" r="5.2" fill="url(#gO)"/>
<circle cx="378.8" cy="216.3" r="9.8" fill="url(#gRu)"/>
<circle cx="377.2" cy="247.2" r="5.2" fill="url(#gO)"/>
<circle cx="496" cy="13.4" r="5.2" fill="url(#gO)"/>
<circle cx="495.6" cy="43" r="9.8" fill="url(#gRu)"/>
<circle cx="495.6" cy="72.7" r="5.2" fill="url(#gO)"/>
<circle cx="497.5" cy="103.1" r="9.8" fill="url(#gRu)"/>
<circle cx="496" cy="133" r="5.2" fill="url(#gO)"/>
<circle cx="495.8" cy="157.8" r="9.2" fill="url(#gCr)"/>
<circle cx="495.8" cy="185.7" r="5.2" fill="url(#gO)"/>
<circle cx="494.4" cy="216.1" r="9.8" fill="url(#gRu)"/>
<circle cx="495.5" cy="245.5" r="5.2" fill="url(#gO)"/>
<circle cx="614" cy="14.8" r="5.2" fill="url(#gO)"/>
<circle cx="614" cy="43.5" r="9.8" fill="url(#gRu)"/>
<circle cx="614" cy="74.5" r="5.2" fill="url(#gO)"/>
<circle cx="612.5" cy="103.1" r="9.2" fill="url(#gCr)"/>
<circle cx="613.5" cy="126.1" r="5.2" fill="url(#gO)"/>
<circle cx="614" cy="159.5" r="11.6" fill="url(#gZr)"/>
<circle cx="614.3" cy="190" r="5.2" fill="url(#gO)"/>
<circle cx="615.5" cy="216.4" r="9.8" fill="url(#gRu)"/>
<circle cx="613.5" cy="247.4" r="5.2" fill="url(#gO)"/>
<circle cx="436.7" cy="12.6" r="9.8" fill="url(#gRu)"/>
<circle cx="435.7" cy="73.4" r="11.6" fill="url(#gZr)"/>
<circle cx="437.5" cy="132" r="9.8" fill="url(#gRu)"/>
<circle cx="437.8" cy="188.7" r="9.2" fill="url(#gCo)"/>
<circle cx="436.7" cy="244.7" r="9.8" fill="url(#gRu)"/>
<circle cx="554.9" cy="12.6" r="11.6" fill="url(#gZr)"/>
<circle cx="554.6" cy="73.9" r="9.8" fill="url(#gRu)"/>
<circle cx="553.9" cy="130.5" r="9.2" fill="url(#gCo)"/>
<circle cx="553.8" cy="186.3" r="9.8" fill="url(#gRu)"/>
<circle cx="555.1" cy="245.5" r="11.6" fill="url(#gZr)"/>
<circle cx="413.7" cy="42" r="5.2" fill="url(#gO)"/>
<circle cx="459.4" cy="41.1" r="5.2" fill="url(#gO)"/>
<circle cx="412.4" cy="102.4" r="5.2" fill="url(#gO)"/>
<circle cx="460.9" cy="102.4" r="5.2" fill="url(#gO)"/>
<circle cx="416.4" cy="161.2" r="5.2" fill="url(#gO)"/>
<circle cx="459.9" cy="160.8" r="5.2" fill="url(#gO)"/>
<circle cx="415.1" cy="215.9" r="5.2" fill="url(#gO)"/>
<circle cx="459.1" cy="215.9" r="5.2" fill="url(#gO)"/>
<circle cx="531.9" cy="44.5" r="5.2" fill="url(#gO)"/>
<circle cx="577.2" cy="44.5" r="5.2" fill="url(#gO)"/>
<circle cx="533.1" cy="102.8" r="5.2" fill="url(#gO)"/>
<circle cx="576.7" cy="102.4" r="5.2" fill="url(#gO)"/>
<circle cx="532" cy="157.9" r="5.2" fill="url(#gO)"/>
<circle cx="575.9" cy="156.8" r="5.2" fill="url(#gO)"/>
<circle cx="530.8" cy="216.4" r="5.2" fill="url(#gO)"/>
<circle cx="577.8" cy="215.4" r="5.2" fill="url(#gO)"/>
<circle cx="554.6" cy="73.9" r="11.9" fill="none" stroke="#000" stroke-width="2"/>
<circle cx="533.1" cy="102.8" r="7.2" fill="none" stroke="#000" stroke-width="1.8"/>
<text x="449" y="78.8" font-size="16.6" text-anchor="start" font-weight="bold" fill="#7030a0" >2.52</text>
<text x="379.6" y="124.4" font-size="16.6" text-anchor="start" font-weight="bold" fill="#000" >&#8722;1.05</text>
<text x="450.3" y="136.6" font-size="16.6" text-anchor="start" font-weight="bold" fill="#7f7f7f" >1.48</text>
<text x="381.6" y="183.6" font-size="16.6" text-anchor="start" font-weight="bold" fill="#000" >&#8722;1.02</text>
<text x="450" y="194.4" font-size="16.6" text-anchor="start" font-weight="bold" fill="#00a650" >1.28</text>
<text x="570.2" y="83.2" font-size="16.4" text-anchor="start" font-weight="bold" fill="#000" >Ru<tspan font-size="10.66" dy="4.1">cus</tspan></text>
<text x="543.5" y="111.8" font-size="16.4" text-anchor="start" font-weight="bold" fill="#000" >O<tspan font-size="10.66" dy="4.1">L</tspan></text>
<line x1="649.7" y1="11.9" x2="649.7" y2="24.78" stroke="#ea1c1c" stroke-width="2.6"/><line x1="649.7" y1="24.78" x2="649.7" y2="41.17" stroke="#c6bab2" stroke-width="2.6"/><line x1="649.7" y1="11.9" x2="649.7" y2="41.17" stroke="#fff" stroke-opacity="0.2" stroke-width="0.78"/>
<line x1="649.7" y1="41.17" x2="649.7" y2="57.56" stroke="#c6bab2" stroke-width="2.6"/><line x1="649.7" y1="57.56" x2="649.7" y2="70.44" stroke="#ea1c1c" stroke-width="2.6"/><line x1="649.7" y1="41.17" x2="649.7" y2="70.44" stroke="#fff" stroke-opacity="0.2" stroke-width="0.78"/>
<line x1="649.7" y1="70.44" x2="649.7" y2="83.32" stroke="#ea1c1c" stroke-width="2.6"/><line x1="649.7" y1="83.32" x2="649.7" y2="99.71" stroke="#c6bab2" stroke-width="2.6"/><line x1="649.7" y1="70.44" x2="649.7" y2="99.71" stroke="#fff" stroke-opacity="0.2" stroke-width="0.78"/>
<line x1="649.7" y1="99.71" x2="649.7" y2="116.1" stroke="#c6bab2" stroke-width="2.6"/><line x1="649.7" y1="116.1" x2="649.7" y2="128.98" stroke="#ea1c1c" stroke-width="2.6"/><line x1="649.7" y1="99.71" x2="649.7" y2="128.98" stroke="#fff" stroke-opacity="0.2" stroke-width="0.78"/>
<line x1="649.7" y1="128.98" x2="649.7" y2="141.86" stroke="#ea1c1c" stroke-width="2.6"/><line x1="649.7" y1="141.86" x2="649.7" y2="158.25" stroke="#c6bab2" stroke-width="2.6"/><line x1="649.7" y1="128.98" x2="649.7" y2="158.25" stroke="#fff" stroke-opacity="0.2" stroke-width="0.78"/>
<line x1="649.7" y1="158.25" x2="649.7" y2="174.64" stroke="#c6bab2" stroke-width="2.6"/><line x1="649.7" y1="174.64" x2="649.7" y2="187.52" stroke="#ea1c1c" stroke-width="2.6"/><line x1="649.7" y1="158.25" x2="649.7" y2="187.52" stroke="#fff" stroke-opacity="0.2" stroke-width="0.78"/>
<line x1="649.7" y1="187.52" x2="649.7" y2="200.4" stroke="#ea1c1c" stroke-width="2.6"/><line x1="649.7" y1="200.4" x2="649.7" y2="216.79" stroke="#c6bab2" stroke-width="2.6"/><line x1="649.7" y1="187.52" x2="649.7" y2="216.79" stroke="#fff" stroke-opacity="0.2" stroke-width="0.78"/>
<line x1="649.7" y1="216.79" x2="649.7" y2="233.18" stroke="#c6bab2" stroke-width="2.6"/><line x1="649.7" y1="233.18" x2="649.7" y2="246.06" stroke="#ea1c1c" stroke-width="2.6"/><line x1="649.7" y1="216.79" x2="649.7" y2="246.06" stroke="#fff" stroke-opacity="0.2" stroke-width="0.78"/>
<line x1="769.5" y1="11.9" x2="769.5" y2="24.78" stroke="#ea1c1c" stroke-width="2.6"/><line x1="769.5" y1="24.78" x2="769.5" y2="41.17" stroke="#c6bab2" stroke-width="2.6"/><line x1="769.5" y1="11.9" x2="769.5" y2="41.17" stroke="#fff" stroke-opacity="0.2" stroke-width="0.78"/>
<line x1="769.5" y1="41.17" x2="769.5" y2="57.56" stroke="#c6bab2" stroke-width="2.6"/><line x1="769.5" y1="57.56" x2="769.5" y2="70.44" stroke="#ea1c1c" stroke-width="2.6"/><line x1="769.5" y1="41.17" x2="769.5" y2="70.44" stroke="#fff" stroke-opacity="0.2" stroke-width="0.78"/>
<line x1="769.5" y1="70.44" x2="769.5" y2="83.32" stroke="#ea1c1c" stroke-width="2.6"/><line x1="769.5" y1="83.32" x2="769.5" y2="99.71" stroke="#c6bab2" stroke-width="2.6"/><line x1="769.5" y1="70.44" x2="769.5" y2="99.71" stroke="#fff" stroke-opacity="0.2" stroke-width="0.78"/>
<line x1="769.5" y1="99.71" x2="769.5" y2="116.1" stroke="#c6bab2" stroke-width="2.6"/><line x1="769.5" y1="116.1" x2="769.5" y2="128.98" stroke="#ea1c1c" stroke-width="2.6"/><line x1="769.5" y1="99.71" x2="769.5" y2="128.98" stroke="#fff" stroke-opacity="0.2" stroke-width="0.78"/>
<line x1="769.5" y1="128.98" x2="769.5" y2="141.86" stroke="#ea1c1c" stroke-width="2.6"/><line x1="769.5" y1="141.86" x2="769.5" y2="158.25" stroke="#c6bab2" stroke-width="2.6"/><line x1="769.5" y1="128.98" x2="769.5" y2="158.25" stroke="#fff" stroke-opacity="0.2" stroke-width="0.78"/>
<line x1="769.5" y1="158.25" x2="769.5" y2="174.64" stroke="#c6bab2" stroke-width="2.6"/><line x1="769.5" y1="174.64" x2="769.5" y2="187.52" stroke="#ea1c1c" stroke-width="2.6"/><line x1="769.5" y1="158.25" x2="769.5" y2="187.52" stroke="#fff" stroke-opacity="0.2" stroke-width="0.78"/>
<line x1="769.5" y1="187.52" x2="769.5" y2="200.4" stroke="#ea1c1c" stroke-width="2.6"/><line x1="769.5" y1="200.4" x2="769.5" y2="216.79" stroke="#c6bab2" stroke-width="2.6"/><line x1="769.5" y1="187.52" x2="769.5" y2="216.79" stroke="#fff" stroke-opacity="0.2" stroke-width="0.78"/>
<line x1="769.5" y1="216.79" x2="769.5" y2="233.18" stroke="#c6bab2" stroke-width="2.6"/><line x1="769.5" y1="233.18" x2="769.5" y2="246.06" stroke="#ea1c1c" stroke-width="2.6"/><line x1="769.5" y1="216.79" x2="769.5" y2="246.06" stroke="#fff" stroke-opacity="0.2" stroke-width="0.78"/>
<line x1="889.3" y1="11.9" x2="889.3" y2="24.78" stroke="#ea1c1c" stroke-width="2.6"/><line x1="889.3" y1="24.78" x2="889.3" y2="41.17" stroke="#c6bab2" stroke-width="2.6"/><line x1="889.3" y1="11.9" x2="889.3" y2="41.17" stroke="#fff" stroke-opacity="0.2" stroke-width="0.78"/>
<line x1="889.3" y1="41.17" x2="889.3" y2="57.56" stroke="#c6bab2" stroke-width="2.6"/><line x1="889.3" y1="57.56" x2="889.3" y2="70.44" stroke="#ea1c1c" stroke-width="2.6"/><line x1="889.3" y1="41.17" x2="889.3" y2="70.44" stroke="#fff" stroke-opacity="0.2" stroke-width="0.78"/>
<line x1="889.3" y1="70.44" x2="889.3" y2="83.32" stroke="#ea1c1c" stroke-width="2.6"/><line x1="889.3" y1="83.32" x2="889.3" y2="99.71" stroke="#c6bab2" stroke-width="2.6"/><line x1="889.3" y1="70.44" x2="889.3" y2="99.71" stroke="#fff" stroke-opacity="0.2" stroke-width="0.78"/>
<line x1="889.3" y1="99.71" x2="889.3" y2="116.1" stroke="#c6bab2" stroke-width="2.6"/><line x1="889.3" y1="116.1" x2="889.3" y2="128.98" stroke="#ea1c1c" stroke-width="2.6"/><line x1="889.3" y1="99.71" x2="889.3" y2="128.98" stroke="#fff" stroke-opacity="0.2" stroke-width="0.78"/>
<line x1="889.3" y1="128.98" x2="889.3" y2="141.86" stroke="#ea1c1c" stroke-width="2.6"/><line x1="889.3" y1="141.86" x2="889.3" y2="158.25" stroke="#c6bab2" stroke-width="2.6"/><line x1="889.3" y1="128.98" x2="889.3" y2="158.25" stroke="#fff" stroke-opacity="0.2" stroke-width="0.78"/>
<line x1="889.3" y1="158.25" x2="889.3" y2="174.64" stroke="#c6bab2" stroke-width="2.6"/><line x1="889.3" y1="174.64" x2="889.3" y2="187.52" stroke="#ea1c1c" stroke-width="2.6"/><line x1="889.3" y1="158.25" x2="889.3" y2="187.52" stroke="#fff" stroke-opacity="0.2" stroke-width="0.78"/>
<line x1="889.3" y1="187.52" x2="889.3" y2="200.4" stroke="#ea1c1c" stroke-width="2.6"/><line x1="889.3" y1="200.4" x2="889.3" y2="216.79" stroke="#c6bab2" stroke-width="2.6"/><line x1="889.3" y1="187.52" x2="889.3" y2="216.79" stroke="#fff" stroke-opacity="0.2" stroke-width="0.78"/>
<line x1="889.3" y1="216.79" x2="889.3" y2="233.18" stroke="#c6bab2" stroke-width="2.6"/><line x1="889.3" y1="233.18" x2="889.3" y2="246.06" stroke="#ea1c1c" stroke-width="2.6"/><line x1="889.3" y1="216.79" x2="889.3" y2="246.06" stroke="#fff" stroke-opacity="0.2" stroke-width="0.78"/>
<line x1="649.7" y1="41.17" x2="670.48" y2="41.17" stroke="#c6bab2" stroke-width="2.6"/><line x1="670.48" y1="41.17" x2="686.8" y2="41.17" stroke="#ea1c1c" stroke-width="2.6"/><line x1="649.7" y1="41.17" x2="686.8" y2="41.17" stroke="#fff" stroke-opacity="0.2" stroke-width="0.78"/>
<line x1="769.5" y1="41.17" x2="748.72" y2="41.17" stroke="#c6bab2" stroke-width="2.6"/><line x1="748.72" y1="41.17" x2="732.4" y2="41.17" stroke="#ea1c1c" stroke-width="2.6"/><line x1="769.5" y1="41.17" x2="732.4" y2="41.17" stroke="#fff" stroke-opacity="0.2" stroke-width="0.78"/>
<line x1="709.6" y1="11.9" x2="696.83" y2="28.29" stroke="#c6bab2" stroke-width="2.6"/><line x1="696.83" y1="28.29" x2="686.8" y2="41.17" stroke="#ea1c1c" stroke-width="2.6"/><line x1="709.6" y1="11.9" x2="686.8" y2="41.17" stroke="#fff" stroke-opacity="0.2" stroke-width="0.78"/>
<line x1="709.6" y1="70.44" x2="696.83" y2="54.05" stroke="#c6bab2" stroke-width="2.6"/><line x1="696.83" y1="54.05" x2="686.8" y2="41.17" stroke="#ea1c1c" stroke-width="2.6"/><line x1="709.6" y1="70.44" x2="686.8" y2="41.17" stroke="#fff" stroke-opacity="0.2" stroke-width="0.78"/>
<line x1="709.6" y1="11.9" x2="722.37" y2="28.29" stroke="#c6bab2" stroke-width="2.6"/><line x1="722.37" y1="28.29" x2="732.4" y2="41.17" stroke="#ea1c1c" stroke-width="2.6"/><line x1="709.6" y1="11.9" x2="732.4" y2="41.17" stroke="#fff" stroke-opacity="0.2" stroke-width="0.78"/>
<line x1="709.6" y1="70.44" x2="722.37" y2="54.05" stroke="#c6bab2" stroke-width="2.6"/><line x1="722.37" y1="54.05" x2="732.4" y2="41.17" stroke="#ea1c1c" stroke-width="2.6"/><line x1="709.6" y1="70.44" x2="732.4" y2="41.17" stroke="#fff" stroke-opacity="0.2" stroke-width="0.78"/>
<line x1="649.7" y1="99.71" x2="670.48" y2="99.71" stroke="#c6bab2" stroke-width="2.6"/><line x1="670.48" y1="99.71" x2="686.8" y2="99.71" stroke="#ea1c1c" stroke-width="2.6"/><line x1="649.7" y1="99.71" x2="686.8" y2="99.71" stroke="#fff" stroke-opacity="0.2" stroke-width="0.78"/>
<line x1="769.5" y1="99.71" x2="748.72" y2="99.71" stroke="#c6bab2" stroke-width="2.6"/><line x1="748.72" y1="99.71" x2="732.4" y2="99.71" stroke="#ea1c1c" stroke-width="2.6"/><line x1="769.5" y1="99.71" x2="732.4" y2="99.71" stroke="#fff" stroke-opacity="0.2" stroke-width="0.78"/>
<line x1="709.6" y1="70.44" x2="696.83" y2="86.83" stroke="#c6bab2" stroke-width="2.6"/><line x1="696.83" y1="86.83" x2="686.8" y2="99.71" stroke="#ea1c1c" stroke-width="2.6"/><line x1="709.6" y1="70.44" x2="686.8" y2="99.71" stroke="#fff" stroke-opacity="0.2" stroke-width="0.78"/>
<line x1="709.6" y1="128.98" x2="696.83" y2="112.59" stroke="#c6bab2" stroke-width="2.6"/><line x1="696.83" y1="112.59" x2="686.8" y2="99.71" stroke="#ea1c1c" stroke-width="2.6"/><line x1="709.6" y1="128.98" x2="686.8" y2="99.71" stroke="#fff" stroke-opacity="0.2" stroke-width="0.78"/>
<line x1="709.6" y1="70.44" x2="722.37" y2="86.83" stroke="#c6bab2" stroke-width="2.6"/><line x1="722.37" y1="86.83" x2="732.4" y2="99.71" stroke="#ea1c1c" stroke-width="2.6"/><line x1="709.6" y1="70.44" x2="732.4" y2="99.71" stroke="#fff" stroke-opacity="0.2" stroke-width="0.78"/>
<line x1="709.6" y1="128.98" x2="722.37" y2="112.59" stroke="#c6bab2" stroke-width="2.6"/><line x1="722.37" y1="112.59" x2="732.4" y2="99.71" stroke="#ea1c1c" stroke-width="2.6"/><line x1="709.6" y1="128.98" x2="732.4" y2="99.71" stroke="#fff" stroke-opacity="0.2" stroke-width="0.78"/>
<line x1="649.7" y1="158.25" x2="670.48" y2="158.25" stroke="#c6bab2" stroke-width="2.6"/><line x1="670.48" y1="158.25" x2="686.8" y2="158.25" stroke="#ea1c1c" stroke-width="2.6"/><line x1="649.7" y1="158.25" x2="686.8" y2="158.25" stroke="#fff" stroke-opacity="0.2" stroke-width="0.78"/>
<line x1="769.5" y1="158.25" x2="748.72" y2="158.25" stroke="#c6bab2" stroke-width="2.6"/><line x1="748.72" y1="158.25" x2="732.4" y2="158.25" stroke="#ea1c1c" stroke-width="2.6"/><line x1="769.5" y1="158.25" x2="732.4" y2="158.25" stroke="#fff" stroke-opacity="0.2" stroke-width="0.78"/>
<line x1="709.6" y1="128.98" x2="696.83" y2="145.37" stroke="#c6bab2" stroke-width="2.6"/><line x1="696.83" y1="145.37" x2="686.8" y2="158.25" stroke="#ea1c1c" stroke-width="2.6"/><line x1="709.6" y1="128.98" x2="686.8" y2="158.25" stroke="#fff" stroke-opacity="0.2" stroke-width="0.78"/>
<line x1="709.6" y1="187.52" x2="696.83" y2="171.13" stroke="#c6bab2" stroke-width="2.6"/><line x1="696.83" y1="171.13" x2="686.8" y2="158.25" stroke="#ea1c1c" stroke-width="2.6"/><line x1="709.6" y1="187.52" x2="686.8" y2="158.25" stroke="#fff" stroke-opacity="0.2" stroke-width="0.78"/>
<line x1="709.6" y1="128.98" x2="722.37" y2="145.37" stroke="#c6bab2" stroke-width="2.6"/><line x1="722.37" y1="145.37" x2="732.4" y2="158.25" stroke="#ea1c1c" stroke-width="2.6"/><line x1="709.6" y1="128.98" x2="732.4" y2="158.25" stroke="#fff" stroke-opacity="0.2" stroke-width="0.78"/>
<line x1="709.6" y1="187.52" x2="722.37" y2="171.13" stroke="#c6bab2" stroke-width="2.6"/><line x1="722.37" y1="171.13" x2="732.4" y2="158.25" stroke="#ea1c1c" stroke-width="2.6"/><line x1="709.6" y1="187.52" x2="732.4" y2="158.25" stroke="#fff" stroke-opacity="0.2" stroke-width="0.78"/>
<line x1="649.7" y1="216.79" x2="670.48" y2="216.79" stroke="#c6bab2" stroke-width="2.6"/><line x1="670.48" y1="216.79" x2="686.8" y2="216.79" stroke="#ea1c1c" stroke-width="2.6"/><line x1="649.7" y1="216.79" x2="686.8" y2="216.79" stroke="#fff" stroke-opacity="0.2" stroke-width="0.78"/>
<line x1="769.5" y1="216.79" x2="748.72" y2="216.79" stroke="#c6bab2" stroke-width="2.6"/><line x1="748.72" y1="216.79" x2="732.4" y2="216.79" stroke="#ea1c1c" stroke-width="2.6"/><line x1="769.5" y1="216.79" x2="732.4" y2="216.79" stroke="#fff" stroke-opacity="0.2" stroke-width="0.78"/>
<line x1="709.6" y1="187.52" x2="696.83" y2="203.91" stroke="#c6bab2" stroke-width="2.6"/><line x1="696.83" y1="203.91" x2="686.8" y2="216.79" stroke="#ea1c1c" stroke-width="2.6"/><line x1="709.6" y1="187.52" x2="686.8" y2="216.79" stroke="#fff" stroke-opacity="0.2" stroke-width="0.78"/>
<line x1="709.6" y1="246.06" x2="696.83" y2="229.67" stroke="#c6bab2" stroke-width="2.6"/><line x1="696.83" y1="229.67" x2="686.8" y2="216.79" stroke="#ea1c1c" stroke-width="2.6"/><line x1="709.6" y1="246.06" x2="686.8" y2="216.79" stroke="#fff" stroke-opacity="0.2" stroke-width="0.78"/>
<line x1="709.6" y1="187.52" x2="722.37" y2="203.91" stroke="#c6bab2" stroke-width="2.6"/><line x1="722.37" y1="203.91" x2="732.4" y2="216.79" stroke="#ea1c1c" stroke-width="2.6"/><line x1="709.6" y1="187.52" x2="732.4" y2="216.79" stroke="#fff" stroke-opacity="0.2" stroke-width="0.78"/>
<line x1="709.6" y1="246.06" x2="722.37" y2="229.67" stroke="#c6bab2" stroke-width="2.6"/><line x1="722.37" y1="229.67" x2="732.4" y2="216.79" stroke="#ea1c1c" stroke-width="2.6"/><line x1="709.6" y1="246.06" x2="732.4" y2="216.79" stroke="#fff" stroke-opacity="0.2" stroke-width="0.78"/>
<line x1="769.5" y1="41.17" x2="790.28" y2="41.17" stroke="#c6bab2" stroke-width="2.6"/><line x1="790.28" y1="41.17" x2="806.6" y2="41.17" stroke="#ea1c1c" stroke-width="2.6"/><line x1="769.5" y1="41.17" x2="806.6" y2="41.17" stroke="#fff" stroke-opacity="0.2" stroke-width="0.78"/>
<line x1="889.3" y1="41.17" x2="868.52" y2="41.17" stroke="#c6bab2" stroke-width="2.6"/><line x1="868.52" y1="41.17" x2="852.2" y2="41.17" stroke="#ea1c1c" stroke-width="2.6"/><line x1="889.3" y1="41.17" x2="852.2" y2="41.17" stroke="#fff" stroke-opacity="0.2" stroke-width="0.78"/>
<line x1="829.4" y1="11.9" x2="816.63" y2="28.29" stroke="#c6bab2" stroke-width="2.6"/><line x1="816.63" y1="28.29" x2="806.6" y2="41.17" stroke="#ea1c1c" stroke-width="2.6"/><line x1="829.4" y1="11.9" x2="806.6" y2="41.17" stroke="#fff" stroke-opacity="0.2" stroke-width="0.78"/>
<line x1="829.4" y1="70.44" x2="816.63" y2="54.05" stroke="#c6bab2" stroke-width="2.6"/><line x1="816.63" y1="54.05" x2="806.6" y2="41.17" stroke="#ea1c1c" stroke-width="2.6"/><line x1="829.4" y1="70.44" x2="806.6" y2="41.17" stroke="#fff" stroke-opacity="0.2" stroke-width="0.78"/>
<line x1="829.4" y1="11.9" x2="842.17" y2="28.29" stroke="#c6bab2" stroke-width="2.6"/><line x1="842.17" y1="28.29" x2="852.2" y2="41.17" stroke="#ea1c1c" stroke-width="2.6"/><line x1="829.4" y1="11.9" x2="852.2" y2="41.17" stroke="#fff" stroke-opacity="0.2" stroke-width="0.78"/>
<line x1="829.4" y1="70.44" x2="842.17" y2="54.05" stroke="#c6bab2" stroke-width="2.6"/><line x1="842.17" y1="54.05" x2="852.2" y2="41.17" stroke="#ea1c1c" stroke-width="2.6"/><line x1="829.4" y1="70.44" x2="852.2" y2="41.17" stroke="#fff" stroke-opacity="0.2" stroke-width="0.78"/>
<line x1="769.5" y1="99.71" x2="790.28" y2="99.71" stroke="#c6bab2" stroke-width="2.6"/><line x1="790.28" y1="99.71" x2="806.6" y2="99.71" stroke="#ea1c1c" stroke-width="2.6"/><line x1="769.5" y1="99.71" x2="806.6" y2="99.71" stroke="#fff" stroke-opacity="0.2" stroke-width="0.78"/>
<line x1="889.3" y1="99.71" x2="868.52" y2="99.71" stroke="#c6bab2" stroke-width="2.6"/><line x1="868.52" y1="99.71" x2="852.2" y2="99.71" stroke="#ea1c1c" stroke-width="2.6"/><line x1="889.3" y1="99.71" x2="852.2" y2="99.71" stroke="#fff" stroke-opacity="0.2" stroke-width="0.78"/>
<line x1="829.4" y1="70.44" x2="816.63" y2="86.83" stroke="#c6bab2" stroke-width="2.6"/><line x1="816.63" y1="86.83" x2="806.6" y2="99.71" stroke="#ea1c1c" stroke-width="2.6"/><line x1="829.4" y1="70.44" x2="806.6" y2="99.71" stroke="#fff" stroke-opacity="0.2" stroke-width="0.78"/>
<line x1="829.4" y1="128.98" x2="816.63" y2="112.59" stroke="#c6bab2" stroke-width="2.6"/><line x1="816.63" y1="112.59" x2="806.6" y2="99.71" stroke="#ea1c1c" stroke-width="2.6"/><line x1="829.4" y1="128.98" x2="806.6" y2="99.71" stroke="#fff" stroke-opacity="0.2" stroke-width="0.78"/>
<line x1="829.4" y1="70.44" x2="842.17" y2="86.83" stroke="#c6bab2" stroke-width="2.6"/><line x1="842.17" y1="86.83" x2="852.2" y2="99.71" stroke="#ea1c1c" stroke-width="2.6"/><line x1="829.4" y1="70.44" x2="852.2" y2="99.71" stroke="#fff" stroke-opacity="0.2" stroke-width="0.78"/>
<line x1="829.4" y1="128.98" x2="842.17" y2="112.59" stroke="#c6bab2" stroke-width="2.6"/><line x1="842.17" y1="112.59" x2="852.2" y2="99.71" stroke="#ea1c1c" stroke-width="2.6"/><line x1="829.4" y1="128.98" x2="852.2" y2="99.71" stroke="#fff" stroke-opacity="0.2" stroke-width="0.78"/>
<line x1="769.5" y1="158.25" x2="790.28" y2="158.25" stroke="#c6bab2" stroke-width="2.6"/><line x1="790.28" y1="158.25" x2="806.6" y2="158.25" stroke="#ea1c1c" stroke-width="2.6"/><line x1="769.5" y1="158.25" x2="806.6" y2="158.25" stroke="#fff" stroke-opacity="0.2" stroke-width="0.78"/>
<line x1="889.3" y1="158.25" x2="868.52" y2="158.25" stroke="#c6bab2" stroke-width="2.6"/><line x1="868.52" y1="158.25" x2="852.2" y2="158.25" stroke="#ea1c1c" stroke-width="2.6"/><line x1="889.3" y1="158.25" x2="852.2" y2="158.25" stroke="#fff" stroke-opacity="0.2" stroke-width="0.78"/>
<line x1="829.4" y1="128.98" x2="816.63" y2="145.37" stroke="#c6bab2" stroke-width="2.6"/><line x1="816.63" y1="145.37" x2="806.6" y2="158.25" stroke="#ea1c1c" stroke-width="2.6"/><line x1="829.4" y1="128.98" x2="806.6" y2="158.25" stroke="#fff" stroke-opacity="0.2" stroke-width="0.78"/>
<line x1="829.4" y1="187.52" x2="816.63" y2="171.13" stroke="#c6bab2" stroke-width="2.6"/><line x1="816.63" y1="171.13" x2="806.6" y2="158.25" stroke="#ea1c1c" stroke-width="2.6"/><line x1="829.4" y1="187.52" x2="806.6" y2="158.25" stroke="#fff" stroke-opacity="0.2" stroke-width="0.78"/>
<line x1="829.4" y1="128.98" x2="842.17" y2="145.37" stroke="#c6bab2" stroke-width="2.6"/><line x1="842.17" y1="145.37" x2="852.2" y2="158.25" stroke="#ea1c1c" stroke-width="2.6"/><line x1="829.4" y1="128.98" x2="852.2" y2="158.25" stroke="#fff" stroke-opacity="0.2" stroke-width="0.78"/>
<line x1="829.4" y1="187.52" x2="842.17" y2="171.13" stroke="#c6bab2" stroke-width="2.6"/><line x1="842.17" y1="171.13" x2="852.2" y2="158.25" stroke="#ea1c1c" stroke-width="2.6"/><line x1="829.4" y1="187.52" x2="852.2" y2="158.25" stroke="#fff" stroke-opacity="0.2" stroke-width="0.78"/>
<line x1="769.5" y1="216.79" x2="790.28" y2="216.79" stroke="#c6bab2" stroke-width="2.6"/><line x1="790.28" y1="216.79" x2="806.6" y2="216.79" stroke="#ea1c1c" stroke-width="2.6"/><line x1="769.5" y1="216.79" x2="806.6" y2="216.79" stroke="#fff" stroke-opacity="0.2" stroke-width="0.78"/>
<line x1="889.3" y1="216.79" x2="868.52" y2="216.79" stroke="#c6bab2" stroke-width="2.6"/><line x1="868.52" y1="216.79" x2="852.2" y2="216.79" stroke="#ea1c1c" stroke-width="2.6"/><line x1="889.3" y1="216.79" x2="852.2" y2="216.79" stroke="#fff" stroke-opacity="0.2" stroke-width="0.78"/>
<line x1="829.4" y1="187.52" x2="816.63" y2="203.91" stroke="#c6bab2" stroke-width="2.6"/><line x1="816.63" y1="203.91" x2="806.6" y2="216.79" stroke="#ea1c1c" stroke-width="2.6"/><line x1="829.4" y1="187.52" x2="806.6" y2="216.79" stroke="#fff" stroke-opacity="0.2" stroke-width="0.78"/>
<line x1="829.4" y1="246.06" x2="816.63" y2="229.67" stroke="#c6bab2" stroke-width="2.6"/><line x1="816.63" y1="229.67" x2="806.6" y2="216.79" stroke="#ea1c1c" stroke-width="2.6"/><line x1="829.4" y1="246.06" x2="806.6" y2="216.79" stroke="#fff" stroke-opacity="0.2" stroke-width="0.78"/>
<line x1="829.4" y1="187.52" x2="842.17" y2="203.91" stroke="#c6bab2" stroke-width="2.6"/><line x1="842.17" y1="203.91" x2="852.2" y2="216.79" stroke="#ea1c1c" stroke-width="2.6"/><line x1="829.4" y1="187.52" x2="852.2" y2="216.79" stroke="#fff" stroke-opacity="0.2" stroke-width="0.78"/>
<line x1="829.4" y1="246.06" x2="842.17" y2="229.67" stroke="#c6bab2" stroke-width="2.6"/><line x1="842.17" y1="229.67" x2="852.2" y2="216.79" stroke="#ea1c1c" stroke-width="2.6"/><line x1="829.4" y1="246.06" x2="852.2" y2="216.79" stroke="#fff" stroke-opacity="0.2" stroke-width="0.78"/>
<circle cx="649.7" cy="11.9" r="5.2" fill="url(#gO)"/>
<circle cx="649.7" cy="41.17" r="9.8" fill="url(#gRu)"/>
<circle cx="649.7" cy="70.44" r="5.2" fill="url(#gO)"/>
<circle cx="649.7" cy="99.71" r="9.8" fill="url(#gRu)"/>
<circle cx="649.7" cy="128.98" r="5.2" fill="url(#gO)"/>
<circle cx="649.7" cy="158.25" r="9.8" fill="url(#gRu)"/>
<circle cx="649.7" cy="187.52" r="5.2" fill="url(#gO)"/>
<circle cx="649.7" cy="216.79" r="9.8" fill="url(#gRu)"/>
<circle cx="649.7" cy="246.06" r="5.2" fill="url(#gO)"/>
<circle cx="769.5" cy="11.9" r="5.2" fill="url(#gO)"/>
<circle cx="769.5" cy="41.17" r="9.8" fill="url(#gRu)"/>
<circle cx="769.5" cy="70.44" r="5.2" fill="url(#gO)"/>
<circle cx="769.5" cy="99.71" r="9.8" fill="url(#gRu)"/>
<circle cx="769.5" cy="128.98" r="5.2" fill="url(#gO)"/>
<circle cx="769.5" cy="158.25" r="9.8" fill="url(#gRu)"/>
<circle cx="769.5" cy="187.52" r="5.2" fill="url(#gO)"/>
<circle cx="769.5" cy="216.79" r="9.8" fill="url(#gRu)"/>
<circle cx="769.5" cy="246.06" r="5.2" fill="url(#gO)"/>
<circle cx="889.3" cy="11.9" r="5.2" fill="url(#gO)"/>
<circle cx="889.3" cy="41.17" r="9.8" fill="url(#gRu)"/>
<circle cx="889.3" cy="70.44" r="5.2" fill="url(#gO)"/>
<circle cx="889.3" cy="99.71" r="9.8" fill="url(#gRu)"/>
<circle cx="889.3" cy="128.98" r="5.2" fill="url(#gO)"/>
<circle cx="889.3" cy="158.25" r="9.8" fill="url(#gRu)"/>
<circle cx="889.3" cy="187.52" r="5.2" fill="url(#gO)"/>
<circle cx="889.3" cy="216.79" r="9.8" fill="url(#gRu)"/>
<circle cx="889.3" cy="246.06" r="5.2" fill="url(#gO)"/>
<circle cx="709.6" cy="11.9" r="9.8" fill="url(#gRu)"/>
<circle cx="709.6" cy="70.44" r="9.8" fill="url(#gRu)"/>
<circle cx="709.6" cy="128.98" r="9.8" fill="url(#gRu)"/>
<circle cx="709.6" cy="187.52" r="9.8" fill="url(#gRu)"/>
<circle cx="709.6" cy="246.06" r="9.8" fill="url(#gRu)"/>
<circle cx="829.4" cy="11.9" r="9.8" fill="url(#gRu)"/>
<circle cx="829.4" cy="70.44" r="9.8" fill="url(#gRu)"/>
<circle cx="829.4" cy="128.98" r="9.8" fill="url(#gRu)"/>
<circle cx="829.4" cy="187.52" r="9.8" fill="url(#gRu)"/>
<circle cx="829.4" cy="246.06" r="9.8" fill="url(#gRu)"/>
<circle cx="686.8" cy="41.17" r="5.2" fill="url(#gO)"/>
<circle cx="732.4" cy="41.17" r="5.2" fill="url(#gO)"/>
<circle cx="686.8" cy="99.71" r="5.2" fill="url(#gO)"/>
<circle cx="732.4" cy="99.71" r="5.2" fill="url(#gO)"/>
<circle cx="686.8" cy="158.25" r="5.2" fill="url(#gO)"/>
<circle cx="732.4" cy="158.25" r="5.2" fill="url(#gO)"/>
<circle cx="686.8" cy="216.79" r="5.2" fill="url(#gO)"/>
<circle cx="732.4" cy="216.79" r="5.2" fill="url(#gO)"/>
<circle cx="806.6" cy="41.17" r="5.2" fill="url(#gO)"/>
<circle cx="852.2" cy="41.17" r="5.2" fill="url(#gO)"/>
<circle cx="806.6" cy="99.71" r="5.2" fill="url(#gO)"/>
<circle cx="852.2" cy="99.71" r="5.2" fill="url(#gO)"/>
<circle cx="806.6" cy="158.25" r="5.2" fill="url(#gO)"/>
<circle cx="852.2" cy="158.25" r="5.2" fill="url(#gO)"/>
<circle cx="806.6" cy="216.79" r="5.2" fill="url(#gO)"/>
<circle cx="852.2" cy="216.79" r="5.2" fill="url(#gO)"/>
<text x="721" y="76.6" font-size="16.6" text-anchor="start" font-weight="bold" fill="#7f7f7f" >1.58</text>
<text x="721" y="134.8" font-size="16.6" text-anchor="start" font-weight="bold" fill="#7f7f7f" >1.58</text>
<text x="721" y="193.2" font-size="16.6" text-anchor="start" font-weight="bold" fill="#7f7f7f" >1.58</text>
<text x="653.8" y="125.6" font-size="16.6" text-anchor="start" font-weight="bold" fill="#000" >&#8722;0.89</text>
<text x="653.8" y="181.2" font-size="16.6" text-anchor="start" font-weight="bold" fill="#000" >&#8722;0.89</text>
<rect x="55" y="3" width="282" height="192" fill="#fdfdfd" stroke="none" stroke-width="1.2" />
<circle cx="101.51" cy="121.8" r="4.62" fill="url(#gO3)"/>
<line x1="100.51" y1="102.95" x2="101.3" y2="117.79" stroke="#d91a1a" stroke-width="2.43"/><line x1="100.51" y1="102.95" x2="101.3" y2="117.79" stroke="#fff" stroke-opacity="0.2" stroke-width="0.73"/>
<line x1="99.9" y1="91.52" x2="100.51" y2="102.95" stroke="#b8aca5" stroke-width="2.43"/><line x1="99.9" y1="91.52" x2="100.51" y2="102.95" stroke="#fff" stroke-opacity="0.2" stroke-width="0.73"/>
<circle cx="99.5" cy="84.1" r="7.61" fill="url(#gRu3)"/>
<circle cx="155.7" cy="146.3" r="7.61" fill="url(#gRu3)"/>
<line x1="99.81" y1="77.47" x2="100.28" y2="67.26" stroke="#b8aca5" stroke-width="2.43"/><line x1="99.81" y1="77.47" x2="100.28" y2="67.26" stroke="#fff" stroke-opacity="0.2" stroke-width="0.73"/>
<line x1="156.2" y1="139.69" x2="156.97" y2="129.5" stroke="#b8aca5" stroke-width="2.43"/><line x1="156.2" y1="139.69" x2="156.97" y2="129.5" stroke="#fff" stroke-opacity="0.2" stroke-width="0.73"/>
<line x1="100.16" y1="135.3" x2="101.23" y2="124.62" stroke="#d91a1a" stroke-width="2.47"/><line x1="100.16" y1="135.3" x2="101.23" y2="124.62" stroke="#fff" stroke-opacity="0.2" stroke-width="0.74"/>
<line x1="100.28" y1="67.26" x2="100.9" y2="53.99" stroke="#d91a1a" stroke-width="2.43"/><line x1="100.28" y1="67.26" x2="100.9" y2="53.99" stroke="#fff" stroke-opacity="0.2" stroke-width="0.73"/>
<line x1="156.97" y1="129.5" x2="157.97" y2="116.28" stroke="#d91a1a" stroke-width="2.43"/><line x1="156.97" y1="129.5" x2="157.97" y2="116.28" stroke="#fff" stroke-opacity="0.2" stroke-width="0.73"/>
<circle cx="101.07" cy="50.41" r="4.62" fill="url(#gO3)"/>
<circle cx="158.24" cy="112.7" r="4.62" fill="url(#gO3)"/>
<line x1="151.01" y1="146.85" x2="143.54" y2="147.74" stroke="#b8aca5" stroke-width="2.47"/><line x1="151.01" y1="146.85" x2="143.54" y2="147.74" stroke="#fff" stroke-opacity="0.2" stroke-width="0.74"/>
<line x1="102.67" y1="84.98" x2="107.73" y2="86.39" stroke="#b8aca5" stroke-width="2.47"/><line x1="102.67" y1="84.98" x2="107.73" y2="86.39" stroke="#fff" stroke-opacity="0.2" stroke-width="0.74"/>
<line x1="99.34" y1="143.44" x2="100.16" y2="135.3" stroke="#b8aca5" stroke-width="2.47"/><line x1="99.34" y1="143.44" x2="100.16" y2="135.3" stroke="#fff" stroke-opacity="0.2" stroke-width="0.74"/>
<line x1="159.29" y1="147.37" x2="165.01" y2="149.07" stroke="#b8aca5" stroke-width="2.47"/><line x1="159.29" y1="147.37" x2="165.01" y2="149.07" stroke="#fff" stroke-opacity="0.2" stroke-width="0.74"/>
<circle cx="99.27" cy="7.41" r="4.62" fill="url(#gO3)"/>
<circle cx="157.39" cy="65.59" r="4.62" fill="url(#gO3)"/>
<circle cx="212.83" cy="121.72" r="4.62" fill="url(#gO3)"/>
<line x1="156.85" y1="47.64" x2="157.28" y2="61.77" stroke="#d91a1a" stroke-width="2.43"/><line x1="156.85" y1="47.64" x2="157.28" y2="61.77" stroke="#fff" stroke-opacity="0.2" stroke-width="0.73"/>
<line x1="213.16" y1="103.51" x2="212.9" y2="117.85" stroke="#d91a1a" stroke-width="2.43"/><line x1="213.16" y1="103.51" x2="212.9" y2="117.85" stroke="#fff" stroke-opacity="0.2" stroke-width="0.73"/>
<line x1="98.73" y1="40.66" x2="100.58" y2="48.38" stroke="#d91a1a" stroke-width="2.47"/><line x1="98.73" y1="40.66" x2="100.58" y2="48.38" stroke="#fff" stroke-opacity="0.2" stroke-width="0.74"/>
<line x1="156.62" y1="103.85" x2="157.9" y2="110.86" stroke="#d91a1a" stroke-width="2.47"/><line x1="156.62" y1="103.85" x2="157.9" y2="110.86" stroke="#fff" stroke-opacity="0.2" stroke-width="0.74"/>
<line x1="156.52" y1="36.76" x2="156.85" y2="47.64" stroke="#b8aca5" stroke-width="2.43"/><line x1="156.52" y1="36.76" x2="156.85" y2="47.64" stroke="#fff" stroke-opacity="0.2" stroke-width="0.73"/>
<line x1="213.37" y1="92.09" x2="213.16" y2="103.51" stroke="#28c528" stroke-width="2.43"/><line x1="213.37" y1="92.09" x2="213.16" y2="103.51" stroke="#fff" stroke-opacity="0.2" stroke-width="0.73"/>
<circle cx="156.3" cy="29.7" r="7.61" fill="url(#gRu3)"/>
<line x1="143.54" y1="147.74" x2="133.98" y2="148.86" stroke="#d91a1a" stroke-width="2.47"/><line x1="143.54" y1="147.74" x2="133.98" y2="148.86" stroke="#fff" stroke-opacity="0.2" stroke-width="0.74"/>
<circle cx="213.5" cy="85.3" r="7.21" fill="url(#gCo3)"/>
<circle cx="271" cy="149.4" r="7.61" fill="url(#gRu3)"/>
<line x1="213.46" y1="79.35" x2="213.39" y2="69.32" stroke="#28c528" stroke-width="2.43"/><line x1="213.46" y1="79.35" x2="213.39" y2="69.32" stroke="#fff" stroke-opacity="0.2" stroke-width="0.73"/>
<line x1="97.83" y1="19.15" x2="98.97" y2="9.86" stroke="#d91a1a" stroke-width="2.47"/><line x1="97.83" y1="19.15" x2="98.97" y2="9.86" stroke="#fff" stroke-opacity="0.2" stroke-width="0.74"/>
<line x1="156.2" y1="80.29" x2="157.14" y2="68.65" stroke="#d91a1a" stroke-width="2.47"/><line x1="156.2" y1="80.29" x2="157.14" y2="68.65" stroke="#fff" stroke-opacity="0.2" stroke-width="0.74"/>
<line x1="271.46" y1="142.47" x2="272.16" y2="131.8" stroke="#b8aca5" stroke-width="2.43"/><line x1="271.46" y1="142.47" x2="272.16" y2="131.8" stroke="#fff" stroke-opacity="0.2" stroke-width="0.73"/>
<circle cx="98.8" cy="148.8" r="7.84" fill="url(#gRu3)"/>
<line x1="210.66" y1="137.41" x2="212.37" y2="124.99" stroke="#d91a1a" stroke-width="2.47"/><line x1="210.66" y1="137.41" x2="212.37" y2="124.99" stroke="#fff" stroke-opacity="0.2" stroke-width="0.74"/>
<line x1="213.39" y1="69.32" x2="213.3" y2="56.74" stroke="#d91a1a" stroke-width="2.43"/><line x1="213.39" y1="69.32" x2="213.3" y2="56.74" stroke="#fff" stroke-opacity="0.2" stroke-width="0.73"/>
<line x1="272.16" y1="131.8" x2="273.07" y2="117.94" stroke="#d91a1a" stroke-width="2.43"/><line x1="272.16" y1="131.8" x2="273.07" y2="117.94" stroke="#fff" stroke-opacity="0.2" stroke-width="0.73"/>
<line x1="105.4" y1="148.88" x2="115.09" y2="148.99" stroke="#b8aca5" stroke-width="2.5"/><line x1="105.4" y1="148.88" x2="115.09" y2="148.99" stroke="#fff" stroke-opacity="0.2" stroke-width="0.75"/>
<line x1="107.73" y1="86.39" x2="114.2" y2="88.18" stroke="#d91a1a" stroke-width="2.47"/><line x1="107.73" y1="86.39" x2="114.2" y2="88.18" stroke="#fff" stroke-opacity="0.2" stroke-width="0.74"/>
<line x1="165.01" y1="149.07" x2="172.32" y2="151.24" stroke="#d91a1a" stroke-width="2.47"/><line x1="165.01" y1="149.07" x2="172.32" y2="151.24" stroke="#fff" stroke-opacity="0.2" stroke-width="0.74"/>
<circle cx="213.27" cy="53.35" r="4.62" fill="url(#gO3)"/>
<circle cx="273.32" cy="114.2" r="4.62" fill="url(#gO3)"/>
<line x1="115.09" y1="148.99" x2="127.8" y2="149.13" stroke="#d91a1a" stroke-width="2.5"/><line x1="115.09" y1="148.99" x2="127.8" y2="149.13" stroke="#fff" stroke-opacity="0.2" stroke-width="0.75"/>
<circle cx="131.37" cy="149.17" r="4.73" fill="url(#gO3)"/>
<line x1="97.33" y1="34.77" x2="98.73" y2="40.66" stroke="#b8aca5" stroke-width="2.47"/><line x1="97.33" y1="34.77" x2="98.73" y2="40.66" stroke="#fff" stroke-opacity="0.2" stroke-width="0.74"/>
<line x1="151.5" y1="30.26" x2="143.85" y2="31.16" stroke="#b8aca5" stroke-width="2.47"/><line x1="151.5" y1="30.26" x2="143.85" y2="31.16" stroke="#fff" stroke-opacity="0.2" stroke-width="0.74"/>
<line x1="155.64" y1="98.51" x2="156.62" y2="103.85" stroke="#b8aca5" stroke-width="2.47"/><line x1="155.64" y1="98.51" x2="156.62" y2="103.85" stroke="#fff" stroke-opacity="0.2" stroke-width="0.74"/>
<line x1="208.73" y1="86.29" x2="200.44" y2="88.02" stroke="#28c528" stroke-width="2.47"/><line x1="208.73" y1="86.29" x2="200.44" y2="88.02" stroke="#fff" stroke-opacity="0.2" stroke-width="0.74"/>
<line x1="265.9" y1="150.48" x2="257.78" y2="152.21" stroke="#b8aca5" stroke-width="2.47"/><line x1="265.9" y1="150.48" x2="257.78" y2="152.21" stroke="#fff" stroke-opacity="0.2" stroke-width="0.74"/>
<line x1="96.97" y1="26.24" x2="97.83" y2="19.15" stroke="#b8aca5" stroke-width="2.47"/><line x1="96.97" y1="26.24" x2="97.83" y2="19.15" stroke="#fff" stroke-opacity="0.2" stroke-width="0.74"/>
<line x1="159.78" y1="30.25" x2="165.33" y2="31.13" stroke="#b8aca5" stroke-width="2.47"/><line x1="159.78" y1="30.25" x2="165.33" y2="31.13" stroke="#fff" stroke-opacity="0.2" stroke-width="0.74"/>
<line x1="155.47" y1="89.17" x2="156.2" y2="80.29" stroke="#b8aca5" stroke-width="2.47"/><line x1="155.47" y1="89.17" x2="156.2" y2="80.29" stroke="#fff" stroke-opacity="0.2" stroke-width="0.74"/>
<line x1="216.57" y1="86.28" x2="221.91" y2="88" stroke="#28c528" stroke-width="2.47"/><line x1="216.57" y1="86.28" x2="221.91" y2="88" stroke="#fff" stroke-opacity="0.2" stroke-width="0.74"/>
<line x1="209.36" y1="146.88" x2="210.66" y2="137.41" stroke="#b8aca5" stroke-width="2.47"/><line x1="209.36" y1="146.88" x2="210.66" y2="137.41" stroke="#fff" stroke-opacity="0.2" stroke-width="0.74"/>
<line x1="274.58" y1="150.15" x2="280.29" y2="151.35" stroke="#b8aca5" stroke-width="2.47"/><line x1="274.58" y1="150.15" x2="280.29" y2="151.35" stroke="#fff" stroke-opacity="0.2" stroke-width="0.74"/>
<circle cx="214.27" cy="10.35" r="4.62" fill="url(#gO3)"/>
<circle cx="271.82" cy="66.55" r="4.62" fill="url(#gO3)"/>
<circle cx="332.02" cy="129.19" r="4.62" fill="url(#gO3)"/>
<line x1="97.78" y1="144.84" x2="96.22" y2="138.83" stroke="#b8aca5" stroke-width="2.54"/><line x1="97.78" y1="144.84" x2="96.22" y2="138.83" stroke="#fff" stroke-opacity="0.2" stroke-width="0.76"/>
<line x1="271.11" y1="49.67" x2="271.67" y2="62.96" stroke="#d91a1a" stroke-width="2.43"/><line x1="271.11" y1="49.67" x2="271.67" y2="62.96" stroke="#fff" stroke-opacity="0.2" stroke-width="0.73"/>
<line x1="331.16" y1="111.1" x2="331.83" y2="125.34" stroke="#d91a1a" stroke-width="2.43"/><line x1="331.16" y1="111.1" x2="331.83" y2="125.34" stroke="#fff" stroke-opacity="0.2" stroke-width="0.73"/>
<circle cx="115.97" cy="88.67" r="4.73" fill="url(#gO3)"/>
<circle cx="174.32" cy="151.83" r="4.73" fill="url(#gO3)"/>
<line x1="212.14" y1="43.37" x2="213.04" y2="51.27" stroke="#d91a1a" stroke-width="2.47"/><line x1="212.14" y1="43.37" x2="213.04" y2="51.27" stroke="#fff" stroke-opacity="0.2" stroke-width="0.74"/>
<line x1="271.16" y1="104.85" x2="272.87" y2="112.25" stroke="#d91a1a" stroke-width="2.47"/><line x1="271.16" y1="104.85" x2="272.87" y2="112.25" stroke="#fff" stroke-opacity="0.2" stroke-width="0.74"/>
<line x1="270.73" y1="40.71" x2="271.11" y2="49.67" stroke="#802ad0" stroke-width="2.43"/><line x1="270.73" y1="40.71" x2="271.11" y2="49.67" stroke="#fff" stroke-opacity="0.2" stroke-width="0.73"/>
<line x1="135.48" y1="91.84" x2="120.24" y2="89.37" stroke="#d91a1a" stroke-width="2.5"/><line x1="135.48" y1="91.84" x2="120.24" y2="89.37" stroke="#fff" stroke-opacity="0.2" stroke-width="0.75"/>
<line x1="330.64" y1="100.12" x2="331.16" y2="111.1" stroke="#b8aca5" stroke-width="2.43"/><line x1="330.64" y1="100.12" x2="331.16" y2="111.1" stroke="#fff" stroke-opacity="0.2" stroke-width="0.73"/>
<line x1="191.41" y1="152.47" x2="178.06" y2="151.97" stroke="#d91a1a" stroke-width="2.5"/><line x1="191.41" y1="152.47" x2="178.06" y2="151.97" stroke="#fff" stroke-opacity="0.2" stroke-width="0.75"/>
<line x1="143.85" y1="31.16" x2="134.06" y2="32.31" stroke="#d91a1a" stroke-width="2.47"/><line x1="143.85" y1="31.16" x2="134.06" y2="32.31" stroke="#fff" stroke-opacity="0.2" stroke-width="0.74"/>
<line x1="138.94" y1="152.09" x2="132.99" y2="149.8" stroke="#d91a1a" stroke-width="2.54"/><line x1="138.94" y1="152.09" x2="132.99" y2="149.8" stroke="#fff" stroke-opacity="0.2" stroke-width="0.76"/>
<line x1="200.44" y1="88.02" x2="190.18" y2="90.15" stroke="#d91a1a" stroke-width="2.47"/><line x1="200.44" y1="88.02" x2="190.18" y2="90.15" stroke="#fff" stroke-opacity="0.2" stroke-width="0.74"/>
<circle cx="270.4" cy="32.8" r="9.07" fill="url(#gZr3)"/>
<line x1="257.78" y1="152.21" x2="247.4" y2="154.42" stroke="#d91a1a" stroke-width="2.47"/><line x1="257.78" y1="152.21" x2="247.4" y2="154.42" stroke="#fff" stroke-opacity="0.2" stroke-width="0.74"/>
<circle cx="330.3" cy="93" r="7.61" fill="url(#gRu3)"/>
<line x1="147.09" y1="93.72" x2="135.48" y2="91.84" stroke="#b8aca5" stroke-width="2.5"/><line x1="147.09" y1="93.72" x2="135.48" y2="91.84" stroke="#fff" stroke-opacity="0.2" stroke-width="0.75"/>
<line x1="201.58" y1="152.84" x2="191.41" y2="152.47" stroke="#b8aca5" stroke-width="2.5"/><line x1="201.58" y1="152.84" x2="191.41" y2="152.47" stroke="#fff" stroke-opacity="0.2" stroke-width="0.75"/>
<circle cx="96.4" cy="30.9" r="7.84" fill="url(#gRu3)"/>
<line x1="212.63" y1="21.87" x2="213.93" y2="12.75" stroke="#d91a1a" stroke-width="2.47"/><line x1="212.63" y1="21.87" x2="213.93" y2="12.75" stroke="#fff" stroke-opacity="0.2" stroke-width="0.74"/>
<line x1="330.63" y1="86.26" x2="331.14" y2="75.87" stroke="#b8aca5" stroke-width="2.43"/><line x1="330.63" y1="86.26" x2="331.14" y2="75.87" stroke="#fff" stroke-opacity="0.2" stroke-width="0.73"/>
<circle cx="155" cy="95" r="7.84" fill="url(#gRu3)"/>
<line x1="270.41" y1="81.02" x2="271.53" y2="69.56" stroke="#d91a1a" stroke-width="2.47"/><line x1="270.41" y1="81.02" x2="271.53" y2="69.56" stroke="#fff" stroke-opacity="0.2" stroke-width="0.74"/>
<circle cx="208.5" cy="153.1" r="7.84" fill="url(#gRu3)"/>
<line x1="330.26" y1="142.4" x2="331.65" y2="131.94" stroke="#d91a1a" stroke-width="2.47"/><line x1="330.26" y1="142.4" x2="331.65" y2="131.94" stroke="#fff" stroke-opacity="0.2" stroke-width="0.74"/>
<line x1="103.49" y1="31.25" x2="113.9" y2="31.76" stroke="#b8aca5" stroke-width="2.5"/><line x1="103.49" y1="31.25" x2="113.9" y2="31.76" stroke="#fff" stroke-opacity="0.2" stroke-width="0.75"/>
<line x1="331.14" y1="75.87" x2="331.8" y2="62.38" stroke="#d91a1a" stroke-width="2.43"/><line x1="331.14" y1="75.87" x2="331.8" y2="62.38" stroke="#fff" stroke-opacity="0.2" stroke-width="0.73"/>
<line x1="161.56" y1="94.14" x2="171.19" y2="92.87" stroke="#b8aca5" stroke-width="2.5"/><line x1="161.56" y1="94.14" x2="171.19" y2="92.87" stroke="#fff" stroke-opacity="0.2" stroke-width="0.75"/>
<line x1="215.8" y1="153.49" x2="226.53" y2="154.06" stroke="#b8aca5" stroke-width="2.5"/><line x1="215.8" y1="153.49" x2="226.53" y2="154.06" stroke="#fff" stroke-opacity="0.2" stroke-width="0.75"/>
<line x1="103.38" y1="90.09" x2="113.27" y2="88.98" stroke="#d91a1a" stroke-width="2.54"/><line x1="103.38" y1="90.09" x2="113.27" y2="88.98" stroke="#fff" stroke-opacity="0.2" stroke-width="0.76"/>
<line x1="165.33" y1="31.13" x2="172.42" y2="32.25" stroke="#d91a1a" stroke-width="2.47"/><line x1="165.33" y1="31.13" x2="172.42" y2="32.25" stroke="#fff" stroke-opacity="0.2" stroke-width="0.74"/>
<line x1="160.41" y1="153.42" x2="171.33" y2="152.17" stroke="#d91a1a" stroke-width="2.54"/><line x1="160.41" y1="153.42" x2="171.33" y2="152.17" stroke="#fff" stroke-opacity="0.2" stroke-width="0.76"/>
<line x1="221.91" y1="88" x2="228.51" y2="90.12" stroke="#d91a1a" stroke-width="2.47"/><line x1="221.91" y1="88" x2="228.51" y2="90.12" stroke="#fff" stroke-opacity="0.2" stroke-width="0.74"/>
<line x1="280.29" y1="151.35" x2="287.59" y2="152.89" stroke="#d91a1a" stroke-width="2.47"/><line x1="280.29" y1="151.35" x2="287.59" y2="152.89" stroke="#fff" stroke-opacity="0.2" stroke-width="0.74"/>
<circle cx="331.98" cy="58.74" r="4.62" fill="url(#gO3)"/>
<line x1="113.9" y1="31.76" x2="127.56" y2="32.43" stroke="#d91a1a" stroke-width="2.5"/><line x1="113.9" y1="31.76" x2="127.56" y2="32.43" stroke="#fff" stroke-opacity="0.2" stroke-width="0.75"/>
<line x1="171.19" y1="92.87" x2="183.84" y2="91.2" stroke="#d91a1a" stroke-width="2.5"/><line x1="171.19" y1="92.87" x2="183.84" y2="91.2" stroke="#fff" stroke-opacity="0.2" stroke-width="0.75"/>
<line x1="226.53" y1="154.06" x2="240.61" y2="154.82" stroke="#d91a1a" stroke-width="2.5"/><line x1="226.53" y1="154.06" x2="240.61" y2="154.82" stroke="#fff" stroke-opacity="0.2" stroke-width="0.75"/>
<line x1="96.22" y1="138.83" x2="94.21" y2="131.05" stroke="#d91a1a" stroke-width="2.54"/><line x1="96.22" y1="138.83" x2="94.21" y2="131.05" stroke="#fff" stroke-opacity="0.2" stroke-width="0.76"/>
<circle cx="131.39" cy="32.62" r="4.73" fill="url(#gO3)"/>
<circle cx="187.38" cy="90.73" r="4.73" fill="url(#gO3)"/>
<circle cx="244.56" cy="155.03" r="4.73" fill="url(#gO3)"/>
<line x1="211.45" y1="37.36" x2="212.14" y2="43.37" stroke="#b8aca5" stroke-width="2.47"/><line x1="211.45" y1="37.36" x2="212.14" y2="43.37" stroke="#fff" stroke-opacity="0.2" stroke-width="0.74"/>
<line x1="269.86" y1="99.21" x2="271.16" y2="104.85" stroke="#b8aca5" stroke-width="2.47"/><line x1="269.86" y1="99.21" x2="271.16" y2="104.85" stroke="#fff" stroke-opacity="0.2" stroke-width="0.74"/>
<line x1="325.21" y1="93.53" x2="317.09" y2="94.38" stroke="#b8aca5" stroke-width="2.47"/><line x1="325.21" y1="93.53" x2="317.09" y2="94.38" stroke="#fff" stroke-opacity="0.2" stroke-width="0.74"/>
<line x1="264.34" y1="33.78" x2="257.2" y2="34.94" stroke="#802ad0" stroke-width="2.47"/><line x1="264.34" y1="33.78" x2="257.2" y2="34.94" stroke="#fff" stroke-opacity="0.2" stroke-width="0.74"/>
<line x1="95.54" y1="35.47" x2="94.22" y2="42.41" stroke="#b8aca5" stroke-width="2.54"/><line x1="95.54" y1="35.47" x2="94.22" y2="42.41" stroke="#fff" stroke-opacity="0.2" stroke-width="0.76"/>
<line x1="211.65" y1="28.83" x2="212.63" y2="21.87" stroke="#b8aca5" stroke-width="2.47"/><line x1="211.65" y1="28.83" x2="212.63" y2="21.87" stroke="#fff" stroke-opacity="0.2" stroke-width="0.74"/>
<line x1="153.97" y1="99.95" x2="152.4" y2="107.47" stroke="#b8aca5" stroke-width="2.54"/><line x1="153.97" y1="99.95" x2="152.4" y2="107.47" stroke="#fff" stroke-opacity="0.2" stroke-width="0.76"/>
<line x1="143.58" y1="153.87" x2="138.94" y2="152.09" stroke="#28c528" stroke-width="2.54"/><line x1="143.58" y1="153.87" x2="138.94" y2="152.09" stroke="#fff" stroke-opacity="0.2" stroke-width="0.76"/>
<line x1="269.56" y1="89.76" x2="270.41" y2="81.02" stroke="#b8aca5" stroke-width="2.47"/><line x1="269.56" y1="89.76" x2="270.41" y2="81.02" stroke="#fff" stroke-opacity="0.2" stroke-width="0.74"/>
<line x1="329.2" y1="150.36" x2="330.26" y2="142.4" stroke="#b8aca5" stroke-width="2.47"/><line x1="329.2" y1="150.36" x2="330.26" y2="142.4" stroke="#fff" stroke-opacity="0.2" stroke-width="0.74"/>
<line x1="274.48" y1="33.87" x2="279.29" y2="35.12" stroke="#802ad0" stroke-width="2.47"/><line x1="274.48" y1="33.87" x2="279.29" y2="35.12" stroke="#fff" stroke-opacity="0.2" stroke-width="0.74"/>
<circle cx="329.24" cy="15.8" r="4.62" fill="url(#gO3)"/>
<line x1="95.52" y1="27.7" x2="94.17" y2="22.83" stroke="#b8aca5" stroke-width="2.54"/><line x1="95.52" y1="27.7" x2="94.17" y2="22.83" stroke="#fff" stroke-opacity="0.2" stroke-width="0.76"/>
<line x1="95.66" y1="90.95" x2="103.38" y2="90.09" stroke="#2132d0" stroke-width="2.54"/><line x1="95.66" y1="90.95" x2="103.38" y2="90.09" stroke="#fff" stroke-opacity="0.2" stroke-width="0.76"/>
<line x1="154.26" y1="90.8" x2="153.14" y2="84.42" stroke="#b8aca5" stroke-width="2.54"/><line x1="154.26" y1="90.8" x2="153.14" y2="84.42" stroke="#fff" stroke-opacity="0.2" stroke-width="0.76"/>
<line x1="151.87" y1="154.39" x2="160.41" y2="153.42" stroke="#28c528" stroke-width="2.54"/><line x1="151.87" y1="154.39" x2="160.41" y2="153.42" stroke="#fff" stroke-opacity="0.2" stroke-width="0.76"/>
<line x1="208.06" y1="148.86" x2="207.38" y2="142.4" stroke="#b8aca5" stroke-width="2.54"/><line x1="208.06" y1="148.86" x2="207.38" y2="142.4" stroke="#fff" stroke-opacity="0.2" stroke-width="0.76"/>
<circle cx="174.35" cy="32.55" r="4.73" fill="url(#gO3)"/>
<circle cx="230.31" cy="90.69" r="4.73" fill="url(#gO3)"/>
<circle cx="289.58" cy="153.31" r="4.73" fill="url(#gO3)"/>
<line x1="329.29" y1="48.52" x2="331.42" y2="56.61" stroke="#d91a1a" stroke-width="2.47"/><line x1="329.29" y1="48.52" x2="331.42" y2="56.61" stroke="#fff" stroke-opacity="0.2" stroke-width="0.74"/>
<line x1="192.68" y1="32.98" x2="178.36" y2="32.65" stroke="#d91a1a" stroke-width="2.5"/><line x1="192.68" y1="32.98" x2="178.36" y2="32.65" stroke="#fff" stroke-opacity="0.2" stroke-width="0.75"/>
<line x1="249.66" y1="93.1" x2="234.55" y2="91.22" stroke="#d91a1a" stroke-width="2.5"/><line x1="249.66" y1="93.1" x2="234.55" y2="91.22" stroke="#fff" stroke-opacity="0.2" stroke-width="0.75"/>
<line x1="309.04" y1="154.45" x2="293.84" y2="153.56" stroke="#d91a1a" stroke-width="2.5"/><line x1="309.04" y1="154.45" x2="293.84" y2="153.56" stroke="#fff" stroke-opacity="0.2" stroke-width="0.75"/>
<circle cx="93.64" cy="128.85" r="4.84" fill="url(#gO3)"/>
<line x1="138.95" y1="34.56" x2="133.01" y2="33.03" stroke="#d91a1a" stroke-width="2.54"/><line x1="138.95" y1="34.56" x2="133.01" y2="33.03" stroke="#fff" stroke-opacity="0.2" stroke-width="0.76"/>
<line x1="195.49" y1="92.97" x2="189.12" y2="91.21" stroke="#d91a1a" stroke-width="2.54"/><line x1="195.49" y1="92.97" x2="189.12" y2="91.21" stroke="#fff" stroke-opacity="0.2" stroke-width="0.76"/>
<line x1="257.2" y1="34.94" x2="246.84" y2="36.63" stroke="#d91a1a" stroke-width="2.47"/><line x1="257.2" y1="34.94" x2="246.84" y2="36.63" stroke="#fff" stroke-opacity="0.2" stroke-width="0.74"/>
<line x1="253.78" y1="156.51" x2="246.54" y2="155.35" stroke="#d91a1a" stroke-width="2.54"/><line x1="253.78" y1="156.51" x2="246.54" y2="155.35" stroke="#fff" stroke-opacity="0.2" stroke-width="0.76"/>
<line x1="317.09" y1="94.38" x2="306.72" y2="95.46" stroke="#d91a1a" stroke-width="2.47"/><line x1="317.09" y1="94.38" x2="306.72" y2="95.46" stroke="#fff" stroke-opacity="0.2" stroke-width="0.74"/>
<line x1="203.58" y1="33.23" x2="192.68" y2="32.98" stroke="#b8aca5" stroke-width="2.5"/><line x1="203.58" y1="33.23" x2="192.68" y2="32.98" stroke="#fff" stroke-opacity="0.2" stroke-width="0.75"/>
<line x1="261.16" y1="94.53" x2="249.66" y2="93.1" stroke="#b8aca5" stroke-width="2.5"/><line x1="261.16" y1="94.53" x2="249.66" y2="93.1" stroke="#fff" stroke-opacity="0.2" stroke-width="0.75"/>
<line x1="92.22" y1="110.18" x2="93.32" y2="124.65" stroke="#d91a1a" stroke-width="2.57"/><line x1="92.22" y1="110.18" x2="93.32" y2="124.65" stroke="#fff" stroke-opacity="0.2" stroke-width="0.77"/>
<line x1="320.62" y1="155.14" x2="309.04" y2="154.45" stroke="#b8aca5" stroke-width="2.5"/><line x1="320.62" y1="155.14" x2="309.04" y2="154.45" stroke="#fff" stroke-opacity="0.2" stroke-width="0.75"/>
<line x1="94.22" y1="42.41" x2="92.53" y2="51.38" stroke="#d91a1a" stroke-width="2.54"/><line x1="94.22" y1="42.41" x2="92.53" y2="51.38" stroke="#fff" stroke-opacity="0.2" stroke-width="0.76"/>
<circle cx="211" cy="33.4" r="7.84" fill="url(#gRu3)"/>
<line x1="152.4" y1="107.47" x2="150.38" y2="117.19" stroke="#d91a1a" stroke-width="2.54"/><line x1="152.4" y1="107.47" x2="150.38" y2="117.19" stroke="#fff" stroke-opacity="0.2" stroke-width="0.76"/>
<line x1="327.92" y1="27.05" x2="328.96" y2="18.14" stroke="#d91a1a" stroke-width="2.47"/><line x1="327.92" y1="27.05" x2="328.96" y2="18.14" stroke="#fff" stroke-opacity="0.2" stroke-width="0.74"/>
<circle cx="269" cy="95.5" r="7.84" fill="url(#gRu3)"/>
<line x1="91.36" y1="98.87" x2="92.22" y2="110.18" stroke="#2132d0" stroke-width="2.57"/><line x1="91.36" y1="98.87" x2="92.22" y2="110.18" stroke="#fff" stroke-opacity="0.2" stroke-width="0.77"/>
<circle cx="328.5" cy="155.6" r="7.84" fill="url(#gRu3)"/>
<line x1="217.69" y1="34.15" x2="227.5" y2="35.24" stroke="#b8aca5" stroke-width="2.5"/><line x1="217.69" y1="34.15" x2="227.5" y2="35.24" stroke="#fff" stroke-opacity="0.2" stroke-width="0.75"/>
<line x1="276.07" y1="95.55" x2="286.44" y2="95.63" stroke="#b8aca5" stroke-width="2.5"/><line x1="276.07" y1="95.55" x2="286.44" y2="95.63" stroke="#fff" stroke-opacity="0.2" stroke-width="0.75"/>
<circle cx="90.8" cy="91.5" r="7.63" fill="url(#gCr3)"/>
<line x1="160.43" y1="34.53" x2="171.36" y2="32.98" stroke="#d91a1a" stroke-width="2.54"/><line x1="160.43" y1="34.53" x2="171.36" y2="32.98" stroke="#fff" stroke-opacity="0.2" stroke-width="0.76"/>
<circle cx="146.5" cy="155" r="7.63" fill="url(#gCo3)"/>
<line x1="216.96" y1="92.95" x2="227.45" y2="91.18" stroke="#d91a1a" stroke-width="2.54"/><line x1="216.96" y1="92.95" x2="227.45" y2="91.18" stroke="#fff" stroke-opacity="0.2" stroke-width="0.76"/>
<line x1="279.29" y1="35.12" x2="286.27" y2="36.95" stroke="#d91a1a" stroke-width="2.47"/><line x1="279.29" y1="35.12" x2="286.27" y2="36.95" stroke="#fff" stroke-opacity="0.2" stroke-width="0.74"/>
<line x1="276.29" y1="155.65" x2="286.73" y2="153.81" stroke="#d91a1a" stroke-width="2.54"/><line x1="276.29" y1="155.65" x2="286.73" y2="153.81" stroke="#fff" stroke-opacity="0.2" stroke-width="0.76"/>
<line x1="227.5" y1="35.24" x2="240.39" y2="36.68" stroke="#d91a1a" stroke-width="2.5"/><line x1="227.5" y1="35.24" x2="240.39" y2="36.68" stroke="#fff" stroke-opacity="0.2" stroke-width="0.75"/>
<line x1="91.05" y1="84.09" x2="91.42" y2="72.71" stroke="#2132d0" stroke-width="2.57"/><line x1="91.05" y1="84.09" x2="91.42" y2="72.71" stroke="#fff" stroke-opacity="0.2" stroke-width="0.77"/>
<line x1="286.44" y1="95.63" x2="300.07" y2="95.72" stroke="#d91a1a" stroke-width="2.5"/><line x1="286.44" y1="95.63" x2="300.07" y2="95.72" stroke="#fff" stroke-opacity="0.2" stroke-width="0.75"/>
<line x1="147.15" y1="148.09" x2="148.15" y2="137.47" stroke="#28c528" stroke-width="2.57"/><line x1="147.15" y1="148.09" x2="148.15" y2="137.47" stroke="#fff" stroke-opacity="0.2" stroke-width="0.77"/>
<line x1="94.17" y1="22.83" x2="92.44" y2="16.54" stroke="#d91a1a" stroke-width="2.54"/><line x1="94.17" y1="22.83" x2="92.44" y2="16.54" stroke="#fff" stroke-opacity="0.2" stroke-width="0.76"/>
<line x1="91.32" y1="140.38" x2="93.13" y2="131.4" stroke="#d91a1a" stroke-width="2.61"/><line x1="91.32" y1="140.38" x2="93.13" y2="131.4" stroke="#fff" stroke-opacity="0.2" stroke-width="0.78"/>
<line x1="153.14" y1="84.42" x2="151.7" y2="76.18" stroke="#d91a1a" stroke-width="2.54"/><line x1="153.14" y1="84.42" x2="151.7" y2="76.18" stroke="#fff" stroke-opacity="0.2" stroke-width="0.76"/>
<line x1="207.38" y1="142.4" x2="206.51" y2="134.06" stroke="#d91a1a" stroke-width="2.54"/><line x1="207.38" y1="142.4" x2="206.51" y2="134.06" stroke="#fff" stroke-opacity="0.2" stroke-width="0.76"/>
<circle cx="244.01" cy="37.09" r="4.73" fill="url(#gO3)"/>
<circle cx="303.89" cy="95.75" r="4.73" fill="url(#gO3)"/>
<line x1="91.42" y1="72.71" x2="91.91" y2="58.15" stroke="#d91a1a" stroke-width="2.57"/><line x1="91.42" y1="72.71" x2="91.91" y2="58.15" stroke="#fff" stroke-opacity="0.2" stroke-width="0.77"/>
<line x1="148.15" y1="137.47" x2="149.43" y2="123.89" stroke="#d91a1a" stroke-width="2.57"/><line x1="148.15" y1="137.47" x2="149.43" y2="123.89" stroke="#fff" stroke-opacity="0.2" stroke-width="0.77"/>
<line x1="327.67" y1="42.35" x2="329.29" y2="48.52" stroke="#b8aca5" stroke-width="2.47"/><line x1="327.67" y1="42.35" x2="329.29" y2="48.52" stroke="#fff" stroke-opacity="0.2" stroke-width="0.74"/>
<circle cx="92.05" cy="53.92" r="4.84" fill="url(#gO3)"/>
<circle cx="149.8" cy="119.95" r="4.84" fill="url(#gO3)"/>
<line x1="142.83" y1="35.56" x2="138.95" y2="34.56" stroke="#802ad0" stroke-width="2.54"/><line x1="142.83" y1="35.56" x2="138.95" y2="34.56" stroke="#fff" stroke-opacity="0.2" stroke-width="0.76"/>
<line x1="199.66" y1="94.11" x2="195.49" y2="92.97" stroke="#802ad0" stroke-width="2.54"/><line x1="199.66" y1="94.11" x2="195.49" y2="92.97" stroke="#fff" stroke-opacity="0.2" stroke-width="0.76"/>
<line x1="258.52" y1="157.28" x2="253.78" y2="156.51" stroke="#802ad0" stroke-width="2.54"/><line x1="258.52" y1="157.28" x2="253.78" y2="156.51" stroke="#fff" stroke-opacity="0.2" stroke-width="0.76"/>
<line x1="210.28" y1="39" x2="209.17" y2="47.52" stroke="#b8aca5" stroke-width="2.54"/><line x1="210.28" y1="39" x2="209.17" y2="47.52" stroke="#fff" stroke-opacity="0.2" stroke-width="0.76"/>
<line x1="327.12" y1="33.84" x2="327.92" y2="27.05" stroke="#b8aca5" stroke-width="2.47"/><line x1="327.12" y1="33.84" x2="327.92" y2="27.05" stroke="#fff" stroke-opacity="0.2" stroke-width="0.74"/>
<line x1="267.93" y1="100.42" x2="266.29" y2="107.89" stroke="#b8aca5" stroke-width="2.54"/><line x1="267.93" y1="100.42" x2="266.29" y2="107.89" stroke="#fff" stroke-opacity="0.2" stroke-width="0.76"/>
<line x1="153.27" y1="35.54" x2="160.43" y2="34.53" stroke="#802ad0" stroke-width="2.54"/><line x1="153.27" y1="35.54" x2="160.43" y2="34.53" stroke="#fff" stroke-opacity="0.2" stroke-width="0.76"/>
<line x1="210.09" y1="94.1" x2="216.96" y2="92.95" stroke="#802ad0" stroke-width="2.54"/><line x1="210.09" y1="94.1" x2="216.96" y2="92.95" stroke="#fff" stroke-opacity="0.2" stroke-width="0.76"/>
<line x1="269.46" y1="156.86" x2="276.29" y2="155.65" stroke="#802ad0" stroke-width="2.54"/><line x1="269.46" y1="156.86" x2="276.29" y2="155.65" stroke="#fff" stroke-opacity="0.2" stroke-width="0.76"/>
<line x1="141.79" y1="155.15" x2="134.3" y2="155.4" stroke="#28c528" stroke-width="2.61"/><line x1="141.79" y1="155.15" x2="134.3" y2="155.4" stroke="#fff" stroke-opacity="0.2" stroke-width="0.78"/>
<line x1="210.13" y1="30.13" x2="208.81" y2="25.16" stroke="#b8aca5" stroke-width="2.54"/><line x1="210.13" y1="30.13" x2="208.81" y2="25.16" stroke="#fff" stroke-opacity="0.2" stroke-width="0.76"/>
<line x1="268.12" y1="91.37" x2="266.77" y2="85.1" stroke="#b8aca5" stroke-width="2.54"/><line x1="268.12" y1="91.37" x2="266.77" y2="85.1" stroke="#fff" stroke-opacity="0.2" stroke-width="0.76"/>
<line x1="327.71" y1="151.33" x2="326.51" y2="144.85" stroke="#b8aca5" stroke-width="2.54"/><line x1="327.71" y1="151.33" x2="326.51" y2="144.85" stroke="#fff" stroke-opacity="0.2" stroke-width="0.76"/>
<circle cx="288.18" cy="37.45" r="4.73" fill="url(#gO3)"/>
<line x1="90.16" y1="146.14" x2="91.32" y2="140.38" stroke="#802ad0" stroke-width="2.61"/><line x1="90.16" y1="146.14" x2="91.32" y2="140.38" stroke="#fff" stroke-opacity="0.2" stroke-width="0.78"/>
<line x1="94.58" y1="92.38" x2="100.58" y2="93.77" stroke="#2132d0" stroke-width="2.61"/><line x1="94.58" y1="92.38" x2="100.58" y2="93.77" stroke="#fff" stroke-opacity="0.2" stroke-width="0.78"/>
<line x1="150.65" y1="156.01" x2="157.24" y2="157.62" stroke="#28c528" stroke-width="2.61"/><line x1="150.65" y1="156.01" x2="157.24" y2="157.62" stroke="#fff" stroke-opacity="0.2" stroke-width="0.78"/>
<line x1="307.39" y1="37.87" x2="292.39" y2="37.54" stroke="#d91a1a" stroke-width="2.5"/><line x1="307.39" y1="37.87" x2="292.39" y2="37.54" stroke="#fff" stroke-opacity="0.2" stroke-width="0.75"/>
<circle cx="91.94" cy="14.76" r="4.84" fill="url(#gO3)"/>
<circle cx="151.29" cy="73.85" r="4.84" fill="url(#gO3)"/>
<circle cx="206.26" cy="131.7" r="4.84" fill="url(#gO3)"/>
<line x1="253.5" y1="39.54" x2="246.04" y2="37.61" stroke="#d91a1a" stroke-width="2.54"/><line x1="253.5" y1="39.54" x2="246.04" y2="37.61" stroke="#fff" stroke-opacity="0.2" stroke-width="0.76"/>
<line x1="312.49" y1="97.88" x2="305.73" y2="96.21" stroke="#d91a1a" stroke-width="2.54"/><line x1="312.49" y1="97.88" x2="305.73" y2="96.21" stroke="#fff" stroke-opacity="0.2" stroke-width="0.76"/>
<line x1="318.82" y1="38.13" x2="307.39" y2="37.87" stroke="#b8aca5" stroke-width="2.5"/><line x1="318.82" y1="38.13" x2="307.39" y2="37.87" stroke="#fff" stroke-opacity="0.2" stroke-width="0.75"/>
<line x1="148.89" y1="55.17" x2="150.75" y2="69.64" stroke="#d91a1a" stroke-width="2.57"/><line x1="148.89" y1="55.17" x2="150.75" y2="69.64" stroke="#fff" stroke-opacity="0.2" stroke-width="0.77"/>
<line x1="204.93" y1="113.45" x2="205.96" y2="127.59" stroke="#d91a1a" stroke-width="2.57"/><line x1="204.93" y1="113.45" x2="205.96" y2="127.59" stroke="#fff" stroke-opacity="0.2" stroke-width="0.77"/>
<line x1="89.57" y1="44.91" x2="91.5" y2="51.93" stroke="#d91a1a" stroke-width="2.61"/><line x1="89.57" y1="44.91" x2="91.5" y2="51.93" stroke="#fff" stroke-opacity="0.2" stroke-width="0.78"/>
<line x1="148.5" y1="109.47" x2="149.52" y2="117.64" stroke="#d91a1a" stroke-width="2.61"/><line x1="148.5" y1="109.47" x2="149.52" y2="117.64" stroke="#fff" stroke-opacity="0.2" stroke-width="0.78"/>
<line x1="209.17" y1="47.52" x2="207.75" y2="58.53" stroke="#d91a1a" stroke-width="2.54"/><line x1="209.17" y1="47.52" x2="207.75" y2="58.53" stroke="#fff" stroke-opacity="0.2" stroke-width="0.76"/>
<line x1="147.69" y1="45.77" x2="148.89" y2="55.17" stroke="#802ad0" stroke-width="2.57"/><line x1="147.69" y1="45.77" x2="148.89" y2="55.17" stroke="#fff" stroke-opacity="0.2" stroke-width="0.77"/>
<circle cx="326.6" cy="38.3" r="7.84" fill="url(#gRu3)"/>
<line x1="266.29" y1="107.89" x2="264.19" y2="117.55" stroke="#d91a1a" stroke-width="2.54"/><line x1="266.29" y1="107.89" x2="264.19" y2="117.55" stroke="#fff" stroke-opacity="0.2" stroke-width="0.76"/>
<line x1="204.26" y1="104.26" x2="204.93" y2="113.45" stroke="#802ad0" stroke-width="2.57"/><line x1="204.26" y1="104.26" x2="204.93" y2="113.45" stroke="#fff" stroke-opacity="0.2" stroke-width="0.77"/>
<circle cx="146.5" cy="36.5" r="9.6" fill="url(#gZr3)"/>
<line x1="134.3" y1="155.4" x2="124.86" y2="155.71" stroke="#d91a1a" stroke-width="2.61"/><line x1="134.3" y1="155.4" x2="124.86" y2="155.71" stroke="#fff" stroke-opacity="0.2" stroke-width="0.78"/>
<circle cx="203.6" cy="95.2" r="9.6" fill="url(#gZr3)"/>
<line x1="275.59" y1="39.72" x2="285.48" y2="37.93" stroke="#d91a1a" stroke-width="2.54"/><line x1="275.59" y1="39.72" x2="285.48" y2="37.93" stroke="#fff" stroke-opacity="0.2" stroke-width="0.76"/>
<circle cx="263" cy="158" r="9.6" fill="url(#gZr3)"/>
<line x1="89.52" y1="25.33" x2="91.41" y2="17.09" stroke="#d91a1a" stroke-width="2.61"/><line x1="89.52" y1="25.33" x2="91.41" y2="17.09" stroke="#fff" stroke-opacity="0.2" stroke-width="0.78"/>
<line x1="204.53" y1="86.87" x2="205.47" y2="78.42" stroke="#802ad0" stroke-width="2.57"/><line x1="204.53" y1="86.87" x2="205.47" y2="78.42" stroke="#fff" stroke-opacity="0.2" stroke-width="0.77"/>
<line x1="149.24" y1="86.42" x2="150.84" y2="76.62" stroke="#d91a1a" stroke-width="2.61"/><line x1="149.24" y1="86.42" x2="150.84" y2="76.62" stroke="#fff" stroke-opacity="0.2" stroke-width="0.78"/>
<circle cx="89" cy="151.9" r="9.87" fill="url(#gZr3)"/>
<line x1="208.81" y1="25.16" x2="207.1" y2="18.74" stroke="#d91a1a" stroke-width="2.54"/><line x1="208.81" y1="25.16" x2="207.1" y2="18.74" stroke="#fff" stroke-opacity="0.2" stroke-width="0.76"/>
<line x1="263.15" y1="148.64" x2="263.29" y2="139.14" stroke="#802ad0" stroke-width="2.57"/><line x1="263.15" y1="148.64" x2="263.29" y2="139.14" stroke="#fff" stroke-opacity="0.2" stroke-width="0.77"/>
<line x1="204.33" y1="143.65" x2="205.83" y2="134.34" stroke="#d91a1a" stroke-width="2.61"/><line x1="204.33" y1="143.65" x2="205.83" y2="134.34" stroke="#fff" stroke-opacity="0.2" stroke-width="0.78"/>
<line x1="266.77" y1="85.1" x2="265.04" y2="76.99" stroke="#d91a1a" stroke-width="2.54"/><line x1="266.77" y1="85.1" x2="265.04" y2="76.99" stroke="#fff" stroke-opacity="0.2" stroke-width="0.76"/>
<line x1="326.51" y1="144.85" x2="324.95" y2="136.47" stroke="#d91a1a" stroke-width="2.54"/><line x1="326.51" y1="144.85" x2="324.95" y2="136.47" stroke="#fff" stroke-opacity="0.2" stroke-width="0.76"/>
<line x1="205.47" y1="78.42" x2="206.93" y2="65.42" stroke="#d91a1a" stroke-width="2.57"/><line x1="205.47" y1="78.42" x2="206.93" y2="65.42" stroke="#fff" stroke-opacity="0.2" stroke-width="0.77"/>
<line x1="263.29" y1="139.14" x2="263.52" y2="124.53" stroke="#d91a1a" stroke-width="2.57"/><line x1="263.29" y1="139.14" x2="263.52" y2="124.53" stroke="#fff" stroke-opacity="0.2" stroke-width="0.77"/>
<line x1="97.44" y1="152.89" x2="105.55" y2="153.85" stroke="#802ad0" stroke-width="2.64"/><line x1="97.44" y1="152.89" x2="105.55" y2="153.85" stroke="#fff" stroke-opacity="0.2" stroke-width="0.79"/>
<line x1="100.58" y1="93.77" x2="108.14" y2="95.53" stroke="#d91a1a" stroke-width="2.61"/><line x1="100.58" y1="93.77" x2="108.14" y2="95.53" stroke="#fff" stroke-opacity="0.2" stroke-width="0.78"/>
<line x1="157.24" y1="157.62" x2="165.55" y2="159.65" stroke="#d91a1a" stroke-width="2.61"/><line x1="157.24" y1="157.62" x2="165.55" y2="159.65" stroke="#fff" stroke-opacity="0.2" stroke-width="0.78"/>
<circle cx="207.35" cy="61.65" r="4.84" fill="url(#gO3)"/>
<circle cx="263.59" cy="120.28" r="4.84" fill="url(#gO3)"/>
<line x1="105.55" y1="153.85" x2="118.27" y2="155.35" stroke="#d91a1a" stroke-width="2.64"/><line x1="105.55" y1="153.85" x2="118.27" y2="155.35" stroke="#fff" stroke-opacity="0.2" stroke-width="0.79"/>
<line x1="259.12" y1="41" x2="253.5" y2="39.54" stroke="#b8aca5" stroke-width="2.54"/><line x1="259.12" y1="41" x2="253.5" y2="39.54" stroke="#fff" stroke-opacity="0.2" stroke-width="0.76"/>
<line x1="325.57" y1="43.46" x2="324.02" y2="51.3" stroke="#b8aca5" stroke-width="2.54"/><line x1="325.57" y1="43.46" x2="324.02" y2="51.3" stroke="#fff" stroke-opacity="0.2" stroke-width="0.76"/>
<line x1="317.77" y1="99.18" x2="312.49" y2="97.88" stroke="#2132d0" stroke-width="2.54"/><line x1="317.77" y1="99.18" x2="312.49" y2="97.88" stroke="#fff" stroke-opacity="0.2" stroke-width="0.76"/>
<circle cx="122.1" cy="155.8" r="4.95" fill="url(#gO3)"/>
<line x1="147.85" y1="104.23" x2="148.5" y2="109.47" stroke="#802ad0" stroke-width="2.61"/><line x1="147.85" y1="104.23" x2="148.5" y2="109.47" stroke="#fff" stroke-opacity="0.2" stroke-width="0.78"/>
<line x1="88.08" y1="39.48" x2="89.57" y2="44.91" stroke="#2132d0" stroke-width="2.61"/><line x1="88.08" y1="39.48" x2="89.57" y2="44.91" stroke="#fff" stroke-opacity="0.2" stroke-width="0.78"/>
<line x1="268.14" y1="41.07" x2="275.59" y2="39.72" stroke="#b8aca5" stroke-width="2.54"/><line x1="268.14" y1="41.07" x2="275.59" y2="39.72" stroke="#fff" stroke-opacity="0.2" stroke-width="0.76"/>
<line x1="326.03" y1="34.99" x2="325.16" y2="29.95" stroke="#b8aca5" stroke-width="2.54"/><line x1="326.03" y1="34.99" x2="325.16" y2="29.95" stroke="#fff" stroke-opacity="0.2" stroke-width="0.76"/>
<line x1="140.68" y1="37.45" x2="134.53" y2="38.46" stroke="#802ad0" stroke-width="2.61"/><line x1="140.68" y1="37.45" x2="134.53" y2="38.46" stroke="#fff" stroke-opacity="0.2" stroke-width="0.78"/>
<line x1="198.06" y1="95.49" x2="192.21" y2="95.81" stroke="#802ad0" stroke-width="2.61"/><line x1="198.06" y1="95.49" x2="192.21" y2="95.81" stroke="#fff" stroke-opacity="0.2" stroke-width="0.78"/>
<line x1="256.86" y1="158.62" x2="250.36" y2="159.27" stroke="#802ad0" stroke-width="2.61"/><line x1="256.86" y1="158.62" x2="250.36" y2="159.27" stroke="#fff" stroke-opacity="0.2" stroke-width="0.78"/>
<line x1="148.22" y1="92.72" x2="149.24" y2="86.42" stroke="#802ad0" stroke-width="2.61"/><line x1="148.22" y1="92.72" x2="149.24" y2="86.42" stroke="#fff" stroke-opacity="0.2" stroke-width="0.78"/>
<line x1="203.36" y1="149.63" x2="204.33" y2="143.65" stroke="#802ad0" stroke-width="2.61"/><line x1="203.36" y1="149.63" x2="204.33" y2="143.65" stroke="#fff" stroke-opacity="0.2" stroke-width="0.78"/>
<line x1="88.06" y1="31.7" x2="89.52" y2="25.33" stroke="#2132d0" stroke-width="2.61"/><line x1="88.06" y1="31.7" x2="89.52" y2="25.33" stroke="#fff" stroke-opacity="0.2" stroke-width="0.78"/>
<line x1="151.02" y1="37.47" x2="155.8" y2="38.49" stroke="#802ad0" stroke-width="2.61"/><line x1="151.02" y1="37.47" x2="155.8" y2="38.49" stroke="#fff" stroke-opacity="0.2" stroke-width="0.78"/>
<line x1="208.2" y1="96.17" x2="213.07" y2="97.2" stroke="#802ad0" stroke-width="2.61"/><line x1="208.2" y1="96.17" x2="213.07" y2="97.2" stroke="#fff" stroke-opacity="0.2" stroke-width="0.78"/>
<circle cx="206.62" cy="16.93" r="4.84" fill="url(#gO3)"/>
<line x1="267.5" y1="159.08" x2="272.26" y2="160.23" stroke="#802ad0" stroke-width="2.61"/><line x1="267.5" y1="159.08" x2="272.26" y2="160.23" stroke="#fff" stroke-opacity="0.2" stroke-width="0.78"/>
<circle cx="264.55" cy="74.7" r="4.84" fill="url(#gO3)"/>
<circle cx="324.51" cy="134.1" r="4.84" fill="url(#gO3)"/>
<line x1="263.77" y1="58.35" x2="264.37" y2="71.02" stroke="#d91a1a" stroke-width="2.57"/><line x1="263.77" y1="58.35" x2="264.37" y2="71.02" stroke="#fff" stroke-opacity="0.2" stroke-width="0.77"/>
<line x1="322.81" y1="117.05" x2="324.13" y2="130.26" stroke="#d91a1a" stroke-width="2.57"/><line x1="322.81" y1="117.05" x2="324.13" y2="130.26" stroke="#fff" stroke-opacity="0.2" stroke-width="0.77"/>
<line x1="87.62" y1="147.71" x2="86.24" y2="143.52" stroke="#802ad0" stroke-width="2.68"/><line x1="87.62" y1="147.71" x2="86.24" y2="143.52" stroke="#fff" stroke-opacity="0.2" stroke-width="0.8"/>
<circle cx="110.36" cy="96.05" r="4.95" fill="url(#gO3)"/>
<circle cx="167.99" cy="160.24" r="4.95" fill="url(#gO3)"/>
<line x1="205.47" y1="52.17" x2="206.93" y2="59.56" stroke="#d91a1a" stroke-width="2.61"/><line x1="205.47" y1="52.17" x2="206.93" y2="59.56" stroke="#fff" stroke-opacity="0.2" stroke-width="0.78"/>
<line x1="262.04" y1="110.14" x2="263.25" y2="118.04" stroke="#d91a1a" stroke-width="2.61"/><line x1="262.04" y1="110.14" x2="263.25" y2="118.04" stroke="#fff" stroke-opacity="0.2" stroke-width="0.78"/>
<line x1="324.02" y1="51.3" x2="322" y2="61.42" stroke="#d91a1a" stroke-width="2.54"/><line x1="324.02" y1="51.3" x2="322" y2="61.42" stroke="#fff" stroke-opacity="0.2" stroke-width="0.76"/>
<line x1="263.32" y1="48.81" x2="263.77" y2="58.35" stroke="#b8aca5" stroke-width="2.57"/><line x1="263.32" y1="48.81" x2="263.77" y2="58.35" stroke="#fff" stroke-opacity="0.2" stroke-width="0.77"/>
<line x1="128.78" y1="97.52" x2="114.62" y2="96.39" stroke="#d91a1a" stroke-width="2.64"/><line x1="128.78" y1="97.52" x2="114.62" y2="96.39" stroke="#fff" stroke-opacity="0.2" stroke-width="0.79"/>
<line x1="321.77" y1="106.73" x2="322.81" y2="117.05" stroke="#2132d0" stroke-width="2.57"/><line x1="321.77" y1="106.73" x2="322.81" y2="117.05" stroke="#fff" stroke-opacity="0.2" stroke-width="0.77"/>
<line x1="185.19" y1="157.92" x2="171.97" y2="159.7" stroke="#d91a1a" stroke-width="2.64"/><line x1="185.19" y1="157.92" x2="171.97" y2="159.7" stroke="#fff" stroke-opacity="0.2" stroke-width="0.79"/>
<line x1="134.53" y1="38.46" x2="125.27" y2="39.98" stroke="#d91a1a" stroke-width="2.61"/><line x1="134.53" y1="38.46" x2="125.27" y2="39.98" stroke="#fff" stroke-opacity="0.2" stroke-width="0.78"/>
<line x1="192.21" y1="95.81" x2="183.41" y2="96.28" stroke="#d91a1a" stroke-width="2.61"/><line x1="192.21" y1="95.81" x2="183.41" y2="96.28" stroke="#fff" stroke-opacity="0.2" stroke-width="0.78"/>
<line x1="132.1" y1="160.65" x2="124.37" y2="156.9" stroke="#d91a1a" stroke-width="2.68"/><line x1="132.1" y1="160.65" x2="124.37" y2="156.9" stroke="#fff" stroke-opacity="0.2" stroke-width="0.8"/>
<circle cx="263" cy="42" r="8.06" fill="url(#gRu3)"/>
<line x1="137.8" y1="98.25" x2="128.78" y2="97.52" stroke="#802ad0" stroke-width="2.64"/><line x1="137.8" y1="98.25" x2="128.78" y2="97.52" stroke="#fff" stroke-opacity="0.2" stroke-width="0.79"/>
<line x1="250.36" y1="159.27" x2="240.59" y2="160.25" stroke="#d91a1a" stroke-width="2.61"/><line x1="250.36" y1="159.27" x2="240.59" y2="160.25" stroke="#fff" stroke-opacity="0.2" stroke-width="0.78"/>
<circle cx="321.1" cy="100" r="7.63" fill="url(#gCr3)"/>
<line x1="193.62" y1="156.78" x2="185.19" y2="157.92" stroke="#802ad0" stroke-width="2.64"/><line x1="193.62" y1="156.78" x2="185.19" y2="157.92" stroke="#fff" stroke-opacity="0.2" stroke-width="0.79"/>
<circle cx="87.1" cy="35.9" r="7.84" fill="url(#gCr3)"/>
<line x1="321.17" y1="92.96" x2="321.27" y2="82.15" stroke="#2132d0" stroke-width="2.57"/><line x1="321.17" y1="92.96" x2="321.27" y2="82.15" stroke="#fff" stroke-opacity="0.2" stroke-width="0.77"/>
<line x1="205.11" y1="29.81" x2="206.29" y2="19.77" stroke="#d91a1a" stroke-width="2.61"/><line x1="205.11" y1="29.81" x2="206.29" y2="19.77" stroke="#fff" stroke-opacity="0.2" stroke-width="0.78"/>
<circle cx="147.2" cy="99" r="9.87" fill="url(#gZr3)"/>
<line x1="262.52" y1="87.35" x2="264.1" y2="77.49" stroke="#d91a1a" stroke-width="2.61"/><line x1="262.52" y1="87.35" x2="264.1" y2="77.49" stroke="#fff" stroke-opacity="0.2" stroke-width="0.78"/>
<circle cx="202.4" cy="155.6" r="9.87" fill="url(#gZr3)"/>
<line x1="325.16" y1="29.95" x2="324.04" y2="23.44" stroke="#d91a1a" stroke-width="2.54"/><line x1="325.16" y1="29.95" x2="324.04" y2="23.44" stroke="#fff" stroke-opacity="0.2" stroke-width="0.76"/>
<line x1="321.86" y1="146.05" x2="323.93" y2="136.73" stroke="#d91a1a" stroke-width="2.61"/><line x1="321.86" y1="146.05" x2="323.93" y2="136.73" stroke="#fff" stroke-opacity="0.2" stroke-width="0.78"/>
<line x1="94.29" y1="36.82" x2="104.83" y2="38.16" stroke="#2132d0" stroke-width="2.64"/><line x1="94.29" y1="36.82" x2="104.83" y2="38.16" stroke="#fff" stroke-opacity="0.2" stroke-width="0.79"/>
<line x1="321.27" y1="82.15" x2="321.39" y2="68.31" stroke="#d91a1a" stroke-width="2.57"/><line x1="321.27" y1="82.15" x2="321.39" y2="68.31" stroke="#fff" stroke-opacity="0.2" stroke-width="0.77"/>
<line x1="155.78" y1="98.34" x2="164.01" y2="97.71" stroke="#802ad0" stroke-width="2.64"/><line x1="155.78" y1="98.34" x2="164.01" y2="97.71" stroke="#fff" stroke-opacity="0.2" stroke-width="0.79"/>
<line x1="155.8" y1="38.49" x2="162.99" y2="40.03" stroke="#d91a1a" stroke-width="2.61"/><line x1="155.8" y1="38.49" x2="162.99" y2="40.03" stroke="#fff" stroke-opacity="0.2" stroke-width="0.78"/>
<line x1="96.58" y1="97.52" x2="107.24" y2="96.38" stroke="#d91a1a" stroke-width="2.68"/><line x1="96.58" y1="97.52" x2="107.24" y2="96.38" stroke="#fff" stroke-opacity="0.2" stroke-width="0.8"/>
<line x1="211.41" y1="156.86" x2="220.06" y2="158.07" stroke="#802ad0" stroke-width="2.64"/><line x1="211.41" y1="156.86" x2="220.06" y2="158.07" stroke="#fff" stroke-opacity="0.2" stroke-width="0.79"/>
<line x1="213.07" y1="97.2" x2="220.39" y2="98.75" stroke="#d91a1a" stroke-width="2.61"/><line x1="213.07" y1="97.2" x2="220.39" y2="98.75" stroke="#fff" stroke-opacity="0.2" stroke-width="0.78"/>
<line x1="155.04" y1="162.87" x2="165.05" y2="160.84" stroke="#d91a1a" stroke-width="2.68"/><line x1="155.04" y1="162.87" x2="165.05" y2="160.84" stroke="#fff" stroke-opacity="0.2" stroke-width="0.8"/>
<line x1="272.26" y1="160.23" x2="279.42" y2="161.95" stroke="#d91a1a" stroke-width="2.61"/><line x1="272.26" y1="160.23" x2="279.42" y2="161.95" stroke="#fff" stroke-opacity="0.2" stroke-width="0.78"/>
<circle cx="321.43" cy="64.29" r="4.84" fill="url(#gO3)"/>
<line x1="104.83" y1="38.16" x2="118.45" y2="39.9" stroke="#d91a1a" stroke-width="2.64"/><line x1="104.83" y1="38.16" x2="118.45" y2="39.9" stroke="#fff" stroke-opacity="0.2" stroke-width="0.79"/>
<line x1="164.01" y1="97.71" x2="176.94" y2="96.71" stroke="#d91a1a" stroke-width="2.64"/><line x1="164.01" y1="97.71" x2="176.94" y2="96.71" stroke="#fff" stroke-opacity="0.2" stroke-width="0.79"/>
<line x1="220.06" y1="158.07" x2="233.64" y2="159.97" stroke="#d91a1a" stroke-width="2.64"/><line x1="220.06" y1="158.07" x2="233.64" y2="159.97" stroke="#fff" stroke-opacity="0.2" stroke-width="0.79"/>
<line x1="86.24" y1="143.52" x2="84.13" y2="137.09" stroke="#d91a1a" stroke-width="2.68"/><line x1="86.24" y1="143.52" x2="84.13" y2="137.09" stroke="#fff" stroke-opacity="0.2" stroke-width="0.8"/>
<circle cx="122.56" cy="40.43" r="4.95" fill="url(#gO3)"/>
<circle cx="180.83" cy="96.41" r="4.95" fill="url(#gO3)"/>
<circle cx="237.73" cy="160.54" r="4.95" fill="url(#gO3)"/>
<line x1="261.27" y1="105.07" x2="262.04" y2="110.14" stroke="#802ad0" stroke-width="2.61"/><line x1="261.27" y1="105.07" x2="262.04" y2="110.14" stroke="#fff" stroke-opacity="0.2" stroke-width="0.78"/>
<line x1="204.39" y1="46.67" x2="205.47" y2="52.17" stroke="#b8aca5" stroke-width="2.61"/><line x1="204.39" y1="46.67" x2="205.47" y2="52.17" stroke="#fff" stroke-opacity="0.2" stroke-width="0.78"/>
<line x1="257.96" y1="42.59" x2="250.66" y2="43.46" stroke="#b8aca5" stroke-width="2.61"/><line x1="257.96" y1="42.59" x2="250.66" y2="43.46" stroke="#fff" stroke-opacity="0.2" stroke-width="0.78"/>
<line x1="316.31" y1="100.3" x2="308.7" y2="100.77" stroke="#2132d0" stroke-width="2.61"/><line x1="316.31" y1="100.3" x2="308.7" y2="100.77" stroke="#fff" stroke-opacity="0.2" stroke-width="0.78"/>
<line x1="261.51" y1="93.68" x2="262.52" y2="87.35" stroke="#802ad0" stroke-width="2.61"/><line x1="261.51" y1="93.68" x2="262.52" y2="87.35" stroke="#fff" stroke-opacity="0.2" stroke-width="0.78"/>
<line x1="137.79" y1="163.41" x2="132.1" y2="160.65" stroke="#b8aca5" stroke-width="2.68"/><line x1="137.79" y1="163.41" x2="132.1" y2="160.65" stroke="#fff" stroke-opacity="0.2" stroke-width="0.8"/>
<line x1="86.54" y1="40.76" x2="85.7" y2="48.14" stroke="#2132d0" stroke-width="2.68"/><line x1="86.54" y1="40.76" x2="85.7" y2="48.14" stroke="#fff" stroke-opacity="0.2" stroke-width="0.8"/>
<line x1="204.23" y1="37.3" x2="205.11" y2="29.81" stroke="#b8aca5" stroke-width="2.61"/><line x1="204.23" y1="37.3" x2="205.11" y2="29.81" stroke="#fff" stroke-opacity="0.2" stroke-width="0.78"/>
<line x1="320.53" y1="152.03" x2="321.86" y2="146.05" stroke="#802ad0" stroke-width="2.61"/><line x1="320.53" y1="152.03" x2="321.86" y2="146.05" stroke="#fff" stroke-opacity="0.2" stroke-width="0.78"/>
<line x1="266.44" y1="42.34" x2="271.44" y2="42.84" stroke="#b8aca5" stroke-width="2.61"/><line x1="266.44" y1="42.34" x2="271.44" y2="42.84" stroke="#fff" stroke-opacity="0.2" stroke-width="0.78"/>
<line x1="145.91" y1="105.69" x2="144.61" y2="112.39" stroke="#802ad0" stroke-width="2.68"/><line x1="145.91" y1="105.69" x2="144.61" y2="112.39" stroke="#fff" stroke-opacity="0.2" stroke-width="0.8"/>
<circle cx="323.72" cy="21.6" r="4.84" fill="url(#gO3)"/>
<line x1="88.73" y1="98.36" x2="96.58" y2="97.52" stroke="#b8aca5" stroke-width="2.68"/><line x1="88.73" y1="98.36" x2="96.58" y2="97.52" stroke="#fff" stroke-opacity="0.2" stroke-width="0.8"/>
<line x1="86.81" y1="32.34" x2="86.37" y2="26.93" stroke="#2132d0" stroke-width="2.68"/><line x1="86.81" y1="32.34" x2="86.37" y2="26.93" stroke="#fff" stroke-opacity="0.2" stroke-width="0.8"/>
<line x1="147.68" y1="164.37" x2="155.04" y2="162.87" stroke="#b8aca5" stroke-width="2.68"/><line x1="147.68" y1="164.37" x2="155.04" y2="162.87" stroke="#fff" stroke-opacity="0.2" stroke-width="0.8"/>
<line x1="146.34" y1="93.96" x2="145.49" y2="88.91" stroke="#802ad0" stroke-width="2.68"/><line x1="146.34" y1="93.96" x2="145.49" y2="88.91" stroke="#fff" stroke-opacity="0.2" stroke-width="0.8"/>
<circle cx="165.1" cy="40.48" r="4.95" fill="url(#gO3)"/>
<line x1="201.56" y1="150.39" x2="200.71" y2="145.18" stroke="#802ad0" stroke-width="2.68"/><line x1="201.56" y1="150.39" x2="200.71" y2="145.18" stroke="#fff" stroke-opacity="0.2" stroke-width="0.8"/>
<circle cx="222.54" cy="99.2" r="4.95" fill="url(#gO3)"/>
<circle cx="281.52" cy="162.45" r="4.95" fill="url(#gO3)"/>
<line x1="319.42" y1="54.1" x2="320.99" y2="62.04" stroke="#d91a1a" stroke-width="2.61"/><line x1="319.42" y1="54.1" x2="320.99" y2="62.04" stroke="#fff" stroke-opacity="0.2" stroke-width="0.78"/>
<line x1="184.35" y1="41.59" x2="169.56" y2="40.74" stroke="#d91a1a" stroke-width="2.64"/><line x1="184.35" y1="41.59" x2="169.56" y2="40.74" stroke="#fff" stroke-opacity="0.2" stroke-width="0.79"/>
<line x1="241.52" y1="99.6" x2="226.93" y2="99.3" stroke="#d91a1a" stroke-width="2.64"/><line x1="241.52" y1="99.6" x2="226.93" y2="99.3" stroke="#fff" stroke-opacity="0.2" stroke-width="0.79"/>
<line x1="300.36" y1="160.23" x2="285.88" y2="161.94" stroke="#d91a1a" stroke-width="2.64"/><line x1="300.36" y1="160.23" x2="285.88" y2="161.94" stroke="#fff" stroke-opacity="0.2" stroke-width="0.79"/>
<circle cx="83.48" cy="135.14" r="5.06" fill="url(#gO3)"/>
<line x1="131.73" y1="42.76" x2="124.64" y2="40.96" stroke="#d91a1a" stroke-width="2.68"/><line x1="131.73" y1="42.76" x2="124.64" y2="40.96" stroke="#fff" stroke-opacity="0.2" stroke-width="0.8"/>
<line x1="250.66" y1="43.46" x2="241.11" y2="44.59" stroke="#d91a1a" stroke-width="2.61"/><line x1="250.66" y1="43.46" x2="241.11" y2="44.59" stroke="#fff" stroke-opacity="0.2" stroke-width="0.78"/>
<line x1="188.91" y1="98.46" x2="182.66" y2="96.88" stroke="#d91a1a" stroke-width="2.68"/><line x1="188.91" y1="98.46" x2="182.66" y2="96.88" stroke="#fff" stroke-opacity="0.2" stroke-width="0.8"/>
<line x1="308.7" y1="100.77" x2="299.12" y2="101.37" stroke="#d91a1a" stroke-width="2.61"/><line x1="308.7" y1="100.77" x2="299.12" y2="101.37" stroke="#fff" stroke-opacity="0.2" stroke-width="0.78"/>
<line x1="246.01" y1="164.27" x2="239.61" y2="161.38" stroke="#d91a1a" stroke-width="2.68"/><line x1="246.01" y1="164.27" x2="239.61" y2="161.38" stroke="#fff" stroke-opacity="0.2" stroke-width="0.8"/>
<line x1="195.36" y1="42.23" x2="184.35" y2="41.59" stroke="#b8aca5" stroke-width="2.64"/><line x1="195.36" y1="42.23" x2="184.35" y2="41.59" stroke="#fff" stroke-opacity="0.2" stroke-width="0.79"/>
<line x1="250.82" y1="99.8" x2="241.52" y2="99.6" stroke="#802ad0" stroke-width="2.64"/><line x1="250.82" y1="99.8" x2="241.52" y2="99.6" stroke="#fff" stroke-opacity="0.2" stroke-width="0.79"/>
<line x1="309.59" y1="159.14" x2="300.36" y2="160.23" stroke="#802ad0" stroke-width="2.64"/><line x1="309.59" y1="159.14" x2="300.36" y2="160.23" stroke="#fff" stroke-opacity="0.2" stroke-width="0.79"/>
<line x1="83.14" y1="117.07" x2="83.4" y2="130.84" stroke="#d91a1a" stroke-width="2.71"/><line x1="83.14" y1="117.07" x2="83.4" y2="130.84" stroke="#fff" stroke-opacity="0.2" stroke-width="0.81"/>
<line x1="85.7" y1="48.14" x2="84.62" y2="57.54" stroke="#d91a1a" stroke-width="2.68"/><line x1="85.7" y1="48.14" x2="84.62" y2="57.54" stroke="#fff" stroke-opacity="0.2" stroke-width="0.8"/>
<line x1="144.61" y1="112.39" x2="142.62" y2="122.67" stroke="#d91a1a" stroke-width="2.68"/><line x1="144.61" y1="112.39" x2="142.62" y2="122.67" stroke="#fff" stroke-opacity="0.2" stroke-width="0.8"/>
<circle cx="203.6" cy="42.7" r="8.28" fill="url(#gRu3)"/>
<line x1="320.56" y1="32.75" x2="323.03" y2="24.06" stroke="#d91a1a" stroke-width="2.61"/><line x1="320.56" y1="32.75" x2="323.03" y2="24.06" stroke="#fff" stroke-opacity="0.2" stroke-width="0.78"/>
<circle cx="260.5" cy="100" r="9.87" fill="url(#gZr3)"/>
<line x1="82.95" y1="106.95" x2="83.14" y2="117.07" stroke="#b8aca5" stroke-width="2.71"/><line x1="82.95" y1="106.95" x2="83.14" y2="117.07" stroke="#fff" stroke-opacity="0.2" stroke-width="0.81"/>
<circle cx="319.2" cy="158" r="9.87" fill="url(#gZr3)"/>
<line x1="211.03" y1="43.17" x2="220.96" y2="43.81" stroke="#b8aca5" stroke-width="2.64"/><line x1="211.03" y1="43.17" x2="220.96" y2="43.81" stroke="#fff" stroke-opacity="0.2" stroke-width="0.79"/>
<circle cx="82.8" cy="99" r="8.51" fill="url(#gRu3)"/>
<line x1="153" y1="42.79" x2="162.36" y2="41.01" stroke="#d91a1a" stroke-width="2.68"/><line x1="153" y1="42.79" x2="162.36" y2="41.01" stroke="#fff" stroke-opacity="0.2" stroke-width="0.8"/>
<line x1="269.63" y1="100.39" x2="278.4" y2="100.77" stroke="#802ad0" stroke-width="2.64"/><line x1="269.63" y1="100.39" x2="278.4" y2="100.77" stroke="#fff" stroke-opacity="0.2" stroke-width="0.79"/>
<circle cx="142.1" cy="165.5" r="8.51" fill="url(#gRu3)"/>
<line x1="271.44" y1="42.84" x2="277.96" y2="43.48" stroke="#d91a1a" stroke-width="2.61"/><line x1="271.44" y1="42.84" x2="277.96" y2="43.48" stroke="#fff" stroke-opacity="0.2" stroke-width="0.78"/>
<line x1="209.77" y1="99.85" x2="219.64" y2="99.35" stroke="#d91a1a" stroke-width="2.68"/><line x1="209.77" y1="99.85" x2="219.64" y2="99.35" stroke="#fff" stroke-opacity="0.2" stroke-width="0.8"/>
<line x1="267.91" y1="165.23" x2="278.43" y2="163.08" stroke="#d91a1a" stroke-width="2.68"/><line x1="267.91" y1="165.23" x2="278.43" y2="163.08" stroke="#fff" stroke-opacity="0.2" stroke-width="0.8"/>
<line x1="220.96" y1="43.81" x2="234.29" y2="44.66" stroke="#d91a1a" stroke-width="2.64"/><line x1="220.96" y1="43.81" x2="234.29" y2="44.66" stroke="#fff" stroke-opacity="0.2" stroke-width="0.79"/>
<line x1="278.4" y1="100.77" x2="292.16" y2="101.36" stroke="#d91a1a" stroke-width="2.64"/><line x1="278.4" y1="100.77" x2="292.16" y2="101.36" stroke="#fff" stroke-opacity="0.2" stroke-width="0.79"/>
<line x1="83.13" y1="90.51" x2="83.55" y2="79.69" stroke="#b8aca5" stroke-width="2.71"/><line x1="83.13" y1="90.51" x2="83.55" y2="79.69" stroke="#fff" stroke-opacity="0.2" stroke-width="0.81"/>
<line x1="86.37" y1="26.93" x2="85.82" y2="20.05" stroke="#d91a1a" stroke-width="2.68"/><line x1="86.37" y1="26.93" x2="85.82" y2="20.05" stroke="#fff" stroke-opacity="0.2" stroke-width="0.8"/>
<line x1="142.08" y1="156.77" x2="142.06" y2="145.64" stroke="#b8aca5" stroke-width="2.71"/><line x1="142.08" y1="156.77" x2="142.06" y2="145.64" stroke="#fff" stroke-opacity="0.2" stroke-width="0.81"/>
<line x1="145.49" y1="88.91" x2="144.17" y2="81.17" stroke="#d91a1a" stroke-width="2.68"/><line x1="145.49" y1="88.91" x2="144.17" y2="81.17" stroke="#fff" stroke-opacity="0.2" stroke-width="0.8"/>
<line x1="80.34" y1="149.37" x2="82.75" y2="138.45" stroke="#d91a1a" stroke-width="2.75"/><line x1="80.34" y1="149.37" x2="82.75" y2="138.45" stroke="#fff" stroke-opacity="0.2" stroke-width="0.83"/>
<line x1="200.71" y1="145.18" x2="199.41" y2="137.18" stroke="#d91a1a" stroke-width="2.68"/><line x1="200.71" y1="145.18" x2="199.41" y2="137.18" stroke="#fff" stroke-opacity="0.2" stroke-width="0.8"/>
<circle cx="238.31" cy="44.92" r="4.95" fill="url(#gO3)"/>
<circle cx="296.31" cy="101.54" r="4.95" fill="url(#gO3)"/>
<line x1="83.55" y1="79.69" x2="84.12" y2="64.98" stroke="#d91a1a" stroke-width="2.71"/><line x1="83.55" y1="79.69" x2="84.12" y2="64.98" stroke="#fff" stroke-opacity="0.2" stroke-width="0.81"/>
<line x1="142.06" y1="145.64" x2="142.03" y2="130.51" stroke="#d91a1a" stroke-width="2.71"/><line x1="142.06" y1="145.64" x2="142.03" y2="130.51" stroke="#fff" stroke-opacity="0.2" stroke-width="0.81"/>
<line x1="318.2" y1="47.95" x2="319.42" y2="54.1" stroke="#2132d0" stroke-width="2.61"/><line x1="318.2" y1="47.95" x2="319.42" y2="54.1" stroke="#fff" stroke-opacity="0.2" stroke-width="0.78"/>
<circle cx="84.29" cy="60.39" r="5.06" fill="url(#gO3)"/>
<circle cx="142.02" cy="125.79" r="5.06" fill="url(#gO3)"/>
<line x1="136.95" y1="44.09" x2="131.73" y2="42.76" stroke="#b8aca5" stroke-width="2.68"/><line x1="136.95" y1="44.09" x2="131.73" y2="42.76" stroke="#fff" stroke-opacity="0.2" stroke-width="0.8"/>
<line x1="193.7" y1="99.67" x2="188.91" y2="98.46" stroke="#28c528" stroke-width="2.68"/><line x1="193.7" y1="99.67" x2="188.91" y2="98.46" stroke="#fff" stroke-opacity="0.2" stroke-width="0.8"/>
<line x1="250.73" y1="166.39" x2="246.01" y2="164.27" stroke="#b8aca5" stroke-width="2.68"/><line x1="250.73" y1="166.39" x2="246.01" y2="164.27" stroke="#fff" stroke-opacity="0.2" stroke-width="0.8"/>
<line x1="202.61" y1="47.6" x2="201.23" y2="54.39" stroke="#b8aca5" stroke-width="2.68"/><line x1="202.61" y1="47.6" x2="201.23" y2="54.39" stroke="#fff" stroke-opacity="0.2" stroke-width="0.8"/>
<line x1="318.66" y1="39.47" x2="320.56" y2="32.75" stroke="#2132d0" stroke-width="2.61"/><line x1="318.66" y1="39.47" x2="320.56" y2="32.75" stroke="#fff" stroke-opacity="0.2" stroke-width="0.78"/>
<line x1="258.92" y1="107.11" x2="257.33" y2="114.24" stroke="#802ad0" stroke-width="2.68"/><line x1="258.92" y1="107.11" x2="257.33" y2="114.24" stroke="#fff" stroke-opacity="0.2" stroke-width="0.8"/>
<line x1="146.11" y1="44.11" x2="153" y2="42.79" stroke="#b8aca5" stroke-width="2.68"/><line x1="146.11" y1="44.11" x2="153" y2="42.79" stroke="#fff" stroke-opacity="0.2" stroke-width="0.8"/>
<line x1="202.21" y1="100.24" x2="209.77" y2="99.85" stroke="#28c528" stroke-width="2.68"/><line x1="202.21" y1="100.24" x2="209.77" y2="99.85" stroke="#fff" stroke-opacity="0.2" stroke-width="0.8"/>
<line x1="260.16" y1="166.81" x2="267.91" y2="165.23" stroke="#b8aca5" stroke-width="2.68"/><line x1="260.16" y1="166.81" x2="267.91" y2="165.23" stroke="#fff" stroke-opacity="0.2" stroke-width="0.8"/>
<line x1="202.9" y1="39.15" x2="201.92" y2="34.22" stroke="#b8aca5" stroke-width="2.68"/><line x1="202.9" y1="39.15" x2="201.92" y2="34.22" stroke="#fff" stroke-opacity="0.2" stroke-width="0.8"/>
<line x1="135.94" y1="165.61" x2="127.79" y2="165.76" stroke="#b8aca5" stroke-width="2.75"/><line x1="135.94" y1="165.61" x2="127.79" y2="165.76" stroke="#fff" stroke-opacity="0.2" stroke-width="0.83"/>
<line x1="259.16" y1="96.44" x2="257.82" y2="92.88" stroke="#802ad0" stroke-width="2.68"/><line x1="259.16" y1="96.44" x2="257.82" y2="92.88" stroke="#fff" stroke-opacity="0.2" stroke-width="0.8"/>
<circle cx="279.87" cy="43.67" r="4.95" fill="url(#gO3)"/>
<line x1="317.65" y1="154.51" x2="316.1" y2="151.01" stroke="#802ad0" stroke-width="2.68"/><line x1="317.65" y1="154.51" x2="316.1" y2="151.01" stroke="#fff" stroke-opacity="0.2" stroke-width="0.8"/>
<line x1="78.85" y1="156.11" x2="80.34" y2="149.37" stroke="#802ad0" stroke-width="2.75"/><line x1="78.85" y1="156.11" x2="80.34" y2="149.37" stroke="#fff" stroke-opacity="0.2" stroke-width="0.83"/>
<line x1="86.86" y1="99.87" x2="92.22" y2="101.02" stroke="#b8aca5" stroke-width="2.75"/><line x1="86.86" y1="99.87" x2="92.22" y2="101.02" stroke="#fff" stroke-opacity="0.2" stroke-width="0.83"/>
<line x1="146.04" y1="165.71" x2="151.25" y2="165.98" stroke="#b8aca5" stroke-width="2.75"/><line x1="146.04" y1="165.71" x2="151.25" y2="165.98" stroke="#fff" stroke-opacity="0.2" stroke-width="0.83"/>
<line x1="298.64" y1="43.79" x2="284.22" y2="43.7" stroke="#d91a1a" stroke-width="2.64"/><line x1="298.64" y1="43.79" x2="284.22" y2="43.7" stroke="#fff" stroke-opacity="0.2" stroke-width="0.79"/>
<circle cx="85.65" cy="17.96" r="5.06" fill="url(#gO3)"/>
<circle cx="143.77" cy="78.82" r="5.06" fill="url(#gO3)"/>
<circle cx="199.02" cy="134.75" r="5.06" fill="url(#gO3)"/>
<line x1="245.66" y1="47.21" x2="239.98" y2="45.44" stroke="#d91a1a" stroke-width="2.68"/><line x1="245.66" y1="47.21" x2="239.98" y2="45.44" stroke="#fff" stroke-opacity="0.2" stroke-width="0.8"/>
<line x1="304.35" y1="104.47" x2="298.13" y2="102.21" stroke="#d91a1a" stroke-width="2.68"/><line x1="304.35" y1="104.47" x2="298.13" y2="102.21" stroke="#fff" stroke-opacity="0.2" stroke-width="0.8"/>
<line x1="309.79" y1="43.85" x2="298.64" y2="43.79" stroke="#2132d0" stroke-width="2.64"/><line x1="309.79" y1="43.85" x2="298.64" y2="43.79" stroke="#fff" stroke-opacity="0.2" stroke-width="0.79"/>
<line x1="142.34" y1="61.96" x2="143.43" y2="74.81" stroke="#d91a1a" stroke-width="2.71"/><line x1="142.34" y1="61.96" x2="143.43" y2="74.81" stroke="#fff" stroke-opacity="0.2" stroke-width="0.81"/>
<line x1="198.01" y1="117.63" x2="198.78" y2="130.68" stroke="#d91a1a" stroke-width="2.71"/><line x1="198.01" y1="117.63" x2="198.78" y2="130.68" stroke="#fff" stroke-opacity="0.2" stroke-width="0.81"/>
<line x1="82.9" y1="50.89" x2="83.97" y2="58.18" stroke="#d91a1a" stroke-width="2.75"/><line x1="82.9" y1="50.89" x2="83.97" y2="58.18" stroke="#fff" stroke-opacity="0.2" stroke-width="0.83"/>
<line x1="201.23" y1="54.39" x2="199.42" y2="63.36" stroke="#d91a1a" stroke-width="2.68"/><line x1="201.23" y1="54.39" x2="199.42" y2="63.36" stroke="#fff" stroke-opacity="0.2" stroke-width="0.8"/>
<line x1="140.51" y1="115.64" x2="141.67" y2="123.42" stroke="#d91a1a" stroke-width="2.75"/><line x1="140.51" y1="115.64" x2="141.67" y2="123.42" stroke="#fff" stroke-opacity="0.2" stroke-width="0.83"/>
<line x1="257.33" y1="114.24" x2="254.9" y2="125.16" stroke="#d91a1a" stroke-width="2.68"/><line x1="257.33" y1="114.24" x2="254.9" y2="125.16" stroke="#fff" stroke-opacity="0.2" stroke-width="0.8"/>
<circle cx="317.4" cy="43.9" r="7.84" fill="url(#gCr3)"/>
<line x1="141.53" y1="52.51" x2="142.34" y2="61.96" stroke="#b8aca5" stroke-width="2.71"/><line x1="141.53" y1="52.51" x2="142.34" y2="61.96" stroke="#fff" stroke-opacity="0.2" stroke-width="0.81"/>
<line x1="197.42" y1="107.63" x2="198.01" y2="117.63" stroke="#28c528" stroke-width="2.71"/><line x1="197.42" y1="107.63" x2="198.01" y2="117.63" stroke="#fff" stroke-opacity="0.2" stroke-width="0.81"/>
<circle cx="140.9" cy="45.1" r="8.51" fill="url(#gRu3)"/>
<line x1="127.79" y1="165.76" x2="116.89" y2="165.96" stroke="#d91a1a" stroke-width="2.75"/><line x1="127.79" y1="165.76" x2="116.89" y2="165.96" stroke="#fff" stroke-opacity="0.2" stroke-width="0.83"/>
<circle cx="197" cy="100.5" r="8.05" fill="url(#gCo3)"/>
<line x1="266.44" y1="46.59" x2="276.83" y2="44.33" stroke="#d91a1a" stroke-width="2.68"/><line x1="266.44" y1="46.59" x2="276.83" y2="44.33" stroke="#fff" stroke-opacity="0.2" stroke-width="0.8"/>
<circle cx="254.3" cy="168" r="8.51" fill="url(#gRu3)"/>
<line x1="197.39" y1="93.33" x2="197.93" y2="83.29" stroke="#28c528" stroke-width="2.71"/><line x1="197.39" y1="93.33" x2="197.93" y2="83.29" stroke="#fff" stroke-opacity="0.2" stroke-width="0.81"/>
<line x1="83.57" y1="29.68" x2="85.17" y2="20.69" stroke="#d91a1a" stroke-width="2.75"/><line x1="83.57" y1="29.68" x2="85.17" y2="20.69" stroke="#fff" stroke-opacity="0.2" stroke-width="0.83"/>
<line x1="201.92" y1="34.22" x2="200.64" y2="27.72" stroke="#d91a1a" stroke-width="2.68"/><line x1="201.92" y1="34.22" x2="200.64" y2="27.72" stroke="#fff" stroke-opacity="0.2" stroke-width="0.8"/>
<line x1="254.27" y1="159.31" x2="254.23" y2="148.24" stroke="#b8aca5" stroke-width="2.71"/><line x1="254.27" y1="159.31" x2="254.23" y2="148.24" stroke="#fff" stroke-opacity="0.2" stroke-width="0.81"/>
<circle cx="77.2" cy="163.6" r="10.4" fill="url(#gZr3)"/>
<line x1="141.39" y1="92.16" x2="143.22" y2="81.93" stroke="#d91a1a" stroke-width="2.75"/><line x1="141.39" y1="92.16" x2="143.22" y2="81.93" stroke="#fff" stroke-opacity="0.2" stroke-width="0.83"/>
<line x1="257.82" y1="92.88" x2="255.76" y2="87.41" stroke="#d91a1a" stroke-width="2.68"/><line x1="257.82" y1="92.88" x2="255.76" y2="87.41" stroke="#fff" stroke-opacity="0.2" stroke-width="0.8"/>
<line x1="196.36" y1="147.63" x2="198.4" y2="137.75" stroke="#d91a1a" stroke-width="2.75"/><line x1="196.36" y1="147.63" x2="198.4" y2="137.75" stroke="#fff" stroke-opacity="0.2" stroke-width="0.83"/>
<line x1="316.1" y1="151.01" x2="313.73" y2="145.64" stroke="#d91a1a" stroke-width="2.68"/><line x1="316.1" y1="151.01" x2="313.73" y2="145.64" stroke="#fff" stroke-opacity="0.2" stroke-width="0.8"/>
<line x1="197.93" y1="83.29" x2="198.65" y2="70.17" stroke="#d91a1a" stroke-width="2.71"/><line x1="197.93" y1="83.29" x2="198.65" y2="70.17" stroke="#fff" stroke-opacity="0.2" stroke-width="0.81"/>
<line x1="254.23" y1="148.24" x2="254.18" y2="133.17" stroke="#d91a1a" stroke-width="2.71"/><line x1="254.23" y1="148.24" x2="254.18" y2="133.17" stroke="#fff" stroke-opacity="0.2" stroke-width="0.81"/>
<line x1="86.95" y1="164.25" x2="95.34" y2="164.81" stroke="#802ad0" stroke-width="2.79"/><line x1="86.95" y1="164.25" x2="95.34" y2="164.81" stroke="#fff" stroke-opacity="0.2" stroke-width="0.84"/>
<line x1="92.22" y1="101.02" x2="99.39" y2="102.56" stroke="#d91a1a" stroke-width="2.75"/><line x1="92.22" y1="101.02" x2="99.39" y2="102.56" stroke="#fff" stroke-opacity="0.2" stroke-width="0.83"/>
<line x1="151.25" y1="165.98" x2="158.21" y2="166.35" stroke="#d91a1a" stroke-width="2.75"/><line x1="151.25" y1="165.98" x2="158.21" y2="166.35" stroke="#fff" stroke-opacity="0.2" stroke-width="0.83"/>
<circle cx="198.87" cy="66.08" r="5.06" fill="url(#gO3)"/>
<circle cx="254.16" cy="128.47" r="5.06" fill="url(#gO3)"/>
<line x1="95.34" y1="164.81" x2="109.05" y2="165.73" stroke="#d91a1a" stroke-width="2.79"/><line x1="95.34" y1="164.81" x2="109.05" y2="165.73" stroke="#fff" stroke-opacity="0.2" stroke-width="0.84"/>
<line x1="250.01" y1="48.57" x2="245.66" y2="47.21" stroke="#28c528" stroke-width="2.68"/><line x1="250.01" y1="48.57" x2="245.66" y2="47.21" stroke="#fff" stroke-opacity="0.2" stroke-width="0.8"/>
<line x1="308.93" y1="106.14" x2="304.35" y2="104.47" stroke="#b8aca5" stroke-width="2.68"/><line x1="308.93" y1="106.14" x2="304.35" y2="104.47" stroke="#fff" stroke-opacity="0.2" stroke-width="0.8"/>
<line x1="316.74" y1="49.09" x2="315.73" y2="56.97" stroke="#2132d0" stroke-width="2.68"/><line x1="316.74" y1="49.09" x2="315.73" y2="56.97" stroke="#fff" stroke-opacity="0.2" stroke-width="0.8"/>
<line x1="82.24" y1="46.4" x2="82.9" y2="50.89" stroke="#802ad0" stroke-width="2.75"/><line x1="82.24" y1="46.4" x2="82.9" y2="50.89" stroke="#fff" stroke-opacity="0.2" stroke-width="0.83"/>
<line x1="139.84" y1="111.13" x2="140.51" y2="115.64" stroke="#ccd02c" stroke-width="2.75"/><line x1="139.84" y1="111.13" x2="140.51" y2="115.64" stroke="#fff" stroke-opacity="0.2" stroke-width="0.83"/>
<circle cx="113.47" cy="166.03" r="5.17" fill="url(#gO3)"/>
<line x1="258.48" y1="48.31" x2="266.44" y2="46.59" stroke="#28c528" stroke-width="2.68"/><line x1="258.48" y1="48.31" x2="266.44" y2="46.59" stroke="#fff" stroke-opacity="0.2" stroke-width="0.8"/>
<line x1="135.77" y1="45.42" x2="129" y2="45.83" stroke="#b8aca5" stroke-width="2.75"/><line x1="135.77" y1="45.42" x2="129" y2="45.83" stroke="#fff" stroke-opacity="0.2" stroke-width="0.83"/>
<line x1="191.87" y1="101.61" x2="184.42" y2="103.21" stroke="#28c528" stroke-width="2.75"/><line x1="191.87" y1="101.61" x2="184.42" y2="103.21" stroke="#fff" stroke-opacity="0.2" stroke-width="0.83"/>
<line x1="316.97" y1="40.37" x2="316.32" y2="35" stroke="#2132d0" stroke-width="2.68"/><line x1="316.97" y1="40.37" x2="316.32" y2="35" stroke="#fff" stroke-opacity="0.2" stroke-width="0.8"/>
<line x1="248.53" y1="167.55" x2="240.91" y2="166.95" stroke="#b8aca5" stroke-width="2.75"/><line x1="248.53" y1="167.55" x2="240.91" y2="166.95" stroke="#fff" stroke-opacity="0.2" stroke-width="0.83"/>
<line x1="82.59" y1="35.23" x2="83.57" y2="29.68" stroke="#802ad0" stroke-width="2.75"/><line x1="82.59" y1="35.23" x2="83.57" y2="29.68" stroke="#fff" stroke-opacity="0.2" stroke-width="0.83"/>
<line x1="140.32" y1="98.1" x2="141.39" y2="92.16" stroke="#ccd02c" stroke-width="2.75"/><line x1="140.32" y1="98.1" x2="141.39" y2="92.16" stroke="#fff" stroke-opacity="0.2" stroke-width="0.83"/>
<line x1="194.81" y1="155.11" x2="196.36" y2="147.63" stroke="#2132d0" stroke-width="2.75"/><line x1="194.81" y1="155.11" x2="196.36" y2="147.63" stroke="#fff" stroke-opacity="0.2" stroke-width="0.83"/>
<line x1="144.65" y1="46.4" x2="149.61" y2="48.13" stroke="#b8aca5" stroke-width="2.75"/><line x1="144.65" y1="46.4" x2="149.61" y2="48.13" stroke="#fff" stroke-opacity="0.2" stroke-width="0.83"/>
<line x1="201.07" y1="101.9" x2="206.99" y2="103.93" stroke="#28c528" stroke-width="2.75"/><line x1="201.07" y1="101.9" x2="206.99" y2="103.93" stroke="#fff" stroke-opacity="0.2" stroke-width="0.83"/>
<line x1="258.06" y1="168.74" x2="263.04" y2="169.73" stroke="#b8aca5" stroke-width="2.75"/><line x1="258.06" y1="168.74" x2="263.04" y2="169.73" stroke="#fff" stroke-opacity="0.2" stroke-width="0.83"/>
<circle cx="200.25" cy="25.75" r="5.06" fill="url(#gO3)"/>
<circle cx="255.14" cy="85.76" r="5.06" fill="url(#gO3)"/>
<circle cx="313.01" cy="144.01" r="5.06" fill="url(#gO3)"/>
<line x1="254.07" y1="67.63" x2="254.88" y2="81.45" stroke="#d91a1a" stroke-width="2.71"/><line x1="254.07" y1="67.63" x2="254.88" y2="81.45" stroke="#fff" stroke-opacity="0.2" stroke-width="0.81"/>
<line x1="312.7" y1="125.71" x2="312.94" y2="139.66" stroke="#d91a1a" stroke-width="2.71"/><line x1="312.7" y1="125.71" x2="312.94" y2="139.66" stroke="#fff" stroke-opacity="0.2" stroke-width="0.81"/>
<circle cx="101.64" cy="103.05" r="5.17" fill="url(#gO3)"/>
<line x1="75.34" y1="159.17" x2="73.66" y2="155.18" stroke="#802ad0" stroke-width="2.82"/><line x1="75.34" y1="159.17" x2="73.66" y2="155.18" stroke="#fff" stroke-opacity="0.2" stroke-width="0.85"/>
<circle cx="160.4" cy="166.47" r="5.17" fill="url(#gO3)"/>
<line x1="196.28" y1="57.79" x2="198.27" y2="64.15" stroke="#d91a1a" stroke-width="2.75"/><line x1="196.28" y1="57.79" x2="198.27" y2="64.15" stroke="#fff" stroke-opacity="0.2" stroke-width="0.83"/>
<line x1="315.73" y1="56.97" x2="314.46" y2="67" stroke="#d91a1a" stroke-width="2.68"/><line x1="315.73" y1="56.97" x2="314.46" y2="67" stroke="#fff" stroke-opacity="0.2" stroke-width="0.8"/>
<line x1="252.98" y1="119.74" x2="253.89" y2="126.44" stroke="#d91a1a" stroke-width="2.75"/><line x1="252.98" y1="119.74" x2="253.89" y2="126.44" stroke="#fff" stroke-opacity="0.2" stroke-width="0.83"/>
<line x1="253.44" y1="57.05" x2="254.07" y2="67.63" stroke="#28c528" stroke-width="2.71"/><line x1="253.44" y1="57.05" x2="254.07" y2="67.63" stroke="#fff" stroke-opacity="0.2" stroke-width="0.81"/>
<line x1="312.53" y1="115.45" x2="312.7" y2="125.71" stroke="#b8aca5" stroke-width="2.71"/><line x1="312.53" y1="115.45" x2="312.7" y2="125.71" stroke="#fff" stroke-opacity="0.2" stroke-width="0.81"/>
<line x1="120.32" y1="104.27" x2="106.19" y2="103.35" stroke="#d91a1a" stroke-width="2.79"/><line x1="120.32" y1="104.27" x2="106.19" y2="103.35" stroke="#fff" stroke-opacity="0.2" stroke-width="0.84"/>
<line x1="177.05" y1="163.48" x2="164.46" y2="165.74" stroke="#d91a1a" stroke-width="2.79"/><line x1="177.05" y1="163.48" x2="164.46" y2="165.74" stroke="#fff" stroke-opacity="0.2" stroke-width="0.84"/>
<line x1="129" y1="45.83" x2="119.94" y2="46.39" stroke="#d91a1a" stroke-width="2.75"/><line x1="129" y1="45.83" x2="119.94" y2="46.39" stroke="#fff" stroke-opacity="0.2" stroke-width="0.83"/>
<line x1="184.42" y1="103.21" x2="174.84" y2="105.28" stroke="#d91a1a" stroke-width="2.75"/><line x1="184.42" y1="103.21" x2="174.84" y2="105.28" stroke="#fff" stroke-opacity="0.2" stroke-width="0.83"/>
<circle cx="253" cy="49.5" r="8.05" fill="url(#gCo3)"/>
<line x1="122.84" y1="168.51" x2="115.71" y2="166.62" stroke="#d91a1a" stroke-width="2.82"/><line x1="122.84" y1="168.51" x2="115.71" y2="166.62" stroke="#fff" stroke-opacity="0.2" stroke-width="0.85"/>
<line x1="128.42" y1="104.81" x2="120.32" y2="104.27" stroke="#ccd02c" stroke-width="2.79"/><line x1="128.42" y1="104.81" x2="120.32" y2="104.27" stroke="#fff" stroke-opacity="0.2" stroke-width="0.84"/>
<line x1="240.91" y1="166.95" x2="230.71" y2="166.16" stroke="#d91a1a" stroke-width="2.75"/><line x1="240.91" y1="166.95" x2="230.71" y2="166.16" stroke="#fff" stroke-opacity="0.2" stroke-width="0.83"/>
<circle cx="312.4" cy="107.4" r="8.51" fill="url(#gRu3)"/>
<line x1="186.59" y1="161.77" x2="177.05" y2="163.48" stroke="#2132d0" stroke-width="2.79"/><line x1="186.59" y1="161.77" x2="177.05" y2="163.48" stroke="#fff" stroke-opacity="0.2" stroke-width="0.84"/>
<circle cx="81.5" cy="41.4" r="10.4" fill="url(#gZr3)"/>
<line x1="312.77" y1="99.19" x2="313.23" y2="88.72" stroke="#b8aca5" stroke-width="2.71"/><line x1="312.77" y1="99.19" x2="313.23" y2="88.72" stroke="#fff" stroke-opacity="0.2" stroke-width="0.81"/>
<circle cx="139" cy="105.5" r="10.96" fill="url(#gCe3)"/>
<line x1="196.97" y1="37.62" x2="199.49" y2="28.51" stroke="#d91a1a" stroke-width="2.75"/><line x1="196.97" y1="37.62" x2="199.49" y2="28.51" stroke="#fff" stroke-opacity="0.2" stroke-width="0.83"/>
<line x1="316.32" y1="35" x2="315.49" y2="28.17" stroke="#d91a1a" stroke-width="2.68"/><line x1="316.32" y1="35" x2="315.49" y2="28.17" stroke="#fff" stroke-opacity="0.2" stroke-width="0.8"/>
<circle cx="193.7" cy="160.5" r="8.27" fill="url(#gCr3)"/>
<line x1="253.47" y1="98.38" x2="254.75" y2="88.7" stroke="#d91a1a" stroke-width="2.75"/><line x1="253.47" y1="98.38" x2="254.75" y2="88.7" stroke="#fff" stroke-opacity="0.2" stroke-width="0.83"/>
<line x1="310.55" y1="157.21" x2="312.44" y2="147.08" stroke="#d91a1a" stroke-width="2.75"/><line x1="310.55" y1="157.21" x2="312.44" y2="147.08" stroke="#fff" stroke-opacity="0.2" stroke-width="0.83"/>
<line x1="313.23" y1="88.72" x2="313.87" y2="74.48" stroke="#d91a1a" stroke-width="2.71"/><line x1="313.23" y1="88.72" x2="313.87" y2="74.48" stroke="#fff" stroke-opacity="0.2" stroke-width="0.81"/>
<line x1="91.07" y1="42.79" x2="99.3" y2="43.98" stroke="#802ad0" stroke-width="2.79"/><line x1="91.07" y1="42.79" x2="99.3" y2="43.98" stroke="#fff" stroke-opacity="0.2" stroke-width="0.84"/>
<line x1="148.3" y1="105.62" x2="155.42" y2="105.71" stroke="#ccd02c" stroke-width="2.79"/><line x1="148.3" y1="105.62" x2="155.42" y2="105.71" stroke="#fff" stroke-opacity="0.2" stroke-width="0.84"/>
<line x1="149.61" y1="48.13" x2="156.24" y2="50.43" stroke="#d91a1a" stroke-width="2.75"/><line x1="149.61" y1="48.13" x2="156.24" y2="50.43" stroke="#fff" stroke-opacity="0.2" stroke-width="0.83"/>
<line x1="200.92" y1="161.66" x2="210.61" y2="163.2" stroke="#2132d0" stroke-width="2.79"/><line x1="200.92" y1="161.66" x2="210.61" y2="163.2" stroke="#fff" stroke-opacity="0.2" stroke-width="0.84"/>
<line x1="87.27" y1="106.12" x2="98.2" y2="103.78" stroke="#d91a1a" stroke-width="2.82"/><line x1="87.27" y1="106.12" x2="98.2" y2="103.78" stroke="#fff" stroke-opacity="0.2" stroke-width="0.85"/>
<line x1="206.99" y1="103.93" x2="214.59" y2="106.55" stroke="#d91a1a" stroke-width="2.75"/><line x1="206.99" y1="103.93" x2="214.59" y2="106.55" stroke="#fff" stroke-opacity="0.2" stroke-width="0.83"/>
<line x1="146.3" y1="168.73" x2="157.03" y2="167.01" stroke="#d91a1a" stroke-width="2.82"/><line x1="146.3" y1="168.73" x2="157.03" y2="167.01" stroke="#fff" stroke-opacity="0.2" stroke-width="0.85"/>
<line x1="263.04" y1="169.73" x2="269.69" y2="171.04" stroke="#d91a1a" stroke-width="2.75"/><line x1="263.04" y1="169.73" x2="269.69" y2="171.04" stroke="#fff" stroke-opacity="0.2" stroke-width="0.83"/>
<circle cx="314.07" cy="70.04" r="5.06" fill="url(#gO3)"/>
<line x1="99.3" y1="43.98" x2="112.76" y2="45.94" stroke="#d91a1a" stroke-width="2.79"/><line x1="99.3" y1="43.98" x2="112.76" y2="45.94" stroke="#fff" stroke-opacity="0.2" stroke-width="0.84"/>
<line x1="155.42" y1="105.71" x2="167.83" y2="105.87" stroke="#d91a1a" stroke-width="2.79"/><line x1="155.42" y1="105.71" x2="167.83" y2="105.87" stroke="#fff" stroke-opacity="0.2" stroke-width="0.84"/>
<line x1="210.61" y1="163.2" x2="223.39" y2="165.25" stroke="#d91a1a" stroke-width="2.79"/><line x1="210.61" y1="163.2" x2="223.39" y2="165.25" stroke="#fff" stroke-opacity="0.2" stroke-width="0.84"/>
<line x1="73.66" y1="155.18" x2="70.99" y2="148.83" stroke="#d91a1a" stroke-width="2.82"/><line x1="73.66" y1="155.18" x2="70.99" y2="148.83" stroke="#fff" stroke-opacity="0.2" stroke-width="0.85"/>
<circle cx="117.1" cy="46.57" r="5.17" fill="url(#gO3)"/>
<circle cx="171.83" cy="105.93" r="5.17" fill="url(#gO3)"/>
<line x1="252.42" y1="115.6" x2="252.98" y2="119.74" stroke="#802ad0" stroke-width="2.75"/><line x1="252.42" y1="115.6" x2="252.98" y2="119.74" stroke="#fff" stroke-opacity="0.2" stroke-width="0.83"/>
<circle cx="227.51" cy="165.91" r="5.17" fill="url(#gO3)"/>
<line x1="194.78" y1="52.97" x2="196.28" y2="57.79" stroke="#2132d0" stroke-width="2.75"/><line x1="194.78" y1="52.97" x2="196.28" y2="57.79" stroke="#fff" stroke-opacity="0.2" stroke-width="0.83"/>
<line x1="248.19" y1="50.37" x2="241.2" y2="51.64" stroke="#28c528" stroke-width="2.75"/><line x1="248.19" y1="50.37" x2="241.2" y2="51.64" stroke="#fff" stroke-opacity="0.2" stroke-width="0.83"/>
<line x1="307.13" y1="108.23" x2="300.17" y2="109.32" stroke="#b8aca5" stroke-width="2.75"/><line x1="307.13" y1="108.23" x2="300.17" y2="109.32" stroke="#fff" stroke-opacity="0.2" stroke-width="0.83"/>
<line x1="127.14" y1="169.66" x2="122.84" y2="168.51" stroke="#802ad0" stroke-width="2.82"/><line x1="127.14" y1="169.66" x2="122.84" y2="168.51" stroke="#fff" stroke-opacity="0.2" stroke-width="0.85"/>
<line x1="252.68" y1="104.35" x2="253.47" y2="98.38" stroke="#802ad0" stroke-width="2.75"/><line x1="252.68" y1="104.35" x2="253.47" y2="98.38" stroke="#fff" stroke-opacity="0.2" stroke-width="0.83"/>
<line x1="309.39" y1="163.45" x2="310.55" y2="157.21" stroke="#802ad0" stroke-width="2.75"/><line x1="309.39" y1="163.45" x2="310.55" y2="157.21" stroke="#fff" stroke-opacity="0.2" stroke-width="0.83"/>
<line x1="195.07" y1="44.53" x2="196.97" y2="37.62" stroke="#2132d0" stroke-width="2.75"/><line x1="195.07" y1="44.53" x2="196.97" y2="37.62" stroke="#fff" stroke-opacity="0.2" stroke-width="0.83"/>
<line x1="257.42" y1="50.37" x2="263.84" y2="51.64" stroke="#28c528" stroke-width="2.75"/><line x1="257.42" y1="50.37" x2="263.84" y2="51.64" stroke="#fff" stroke-opacity="0.2" stroke-width="0.83"/>
<line x1="79.94" y1="48.77" x2="78.54" y2="55.4" stroke="#802ad0" stroke-width="2.82"/><line x1="79.94" y1="48.77" x2="78.54" y2="55.4" stroke="#fff" stroke-opacity="0.2" stroke-width="0.85"/>
<line x1="137.43" y1="113.31" x2="136.18" y2="119.58" stroke="#ccd02c" stroke-width="2.82"/><line x1="137.43" y1="113.31" x2="136.18" y2="119.58" stroke="#fff" stroke-opacity="0.2" stroke-width="0.85"/>
<line x1="80.66" y1="107.54" x2="87.27" y2="106.12" stroke="#802ad0" stroke-width="2.82"/><line x1="80.66" y1="107.54" x2="87.27" y2="106.12" stroke="#fff" stroke-opacity="0.2" stroke-width="0.85"/>
<circle cx="315.24" cy="26.1" r="5.06" fill="url(#gO3)"/>
<line x1="139.81" y1="169.78" x2="146.3" y2="168.73" stroke="#802ad0" stroke-width="2.82"/><line x1="139.81" y1="169.78" x2="146.3" y2="168.73" stroke="#fff" stroke-opacity="0.2" stroke-width="0.85"/>
<line x1="192.63" y1="157.23" x2="191.13" y2="152.68" stroke="#2132d0" stroke-width="2.82"/><line x1="192.63" y1="157.23" x2="191.13" y2="152.68" stroke="#fff" stroke-opacity="0.2" stroke-width="0.85"/>
<line x1="80.02" y1="37.34" x2="78.7" y2="33.7" stroke="#802ad0" stroke-width="2.82"/><line x1="80.02" y1="37.34" x2="78.7" y2="33.7" stroke="#fff" stroke-opacity="0.2" stroke-width="0.85"/>
<circle cx="158.32" cy="51.15" r="5.17" fill="url(#gO3)"/>
<circle cx="216.97" cy="107.37" r="5.17" fill="url(#gO3)"/>
<line x1="137.24" y1="101.27" x2="135.83" y2="97.87" stroke="#ccd02c" stroke-width="2.82"/><line x1="137.24" y1="101.27" x2="135.83" y2="97.87" stroke="#fff" stroke-opacity="0.2" stroke-width="0.85"/>
<circle cx="271.78" cy="171.45" r="5.17" fill="url(#gO3)"/>
<line x1="312.93" y1="59.42" x2="313.8" y2="67.57" stroke="#d91a1a" stroke-width="2.75"/><line x1="312.93" y1="59.42" x2="313.8" y2="67.57" stroke="#fff" stroke-opacity="0.2" stroke-width="0.83"/>
<line x1="176.01" y1="50.33" x2="162.63" y2="50.95" stroke="#d91a1a" stroke-width="2.79"/><line x1="176.01" y1="50.33" x2="162.63" y2="50.95" stroke="#fff" stroke-opacity="0.2" stroke-width="0.84"/>
<line x1="234.39" y1="109.18" x2="221.22" y2="107.81" stroke="#d91a1a" stroke-width="2.79"/><line x1="234.39" y1="109.18" x2="221.22" y2="107.81" stroke="#fff" stroke-opacity="0.2" stroke-width="0.84"/>
<line x1="289.94" y1="170.93" x2="276.21" y2="171.32" stroke="#d91a1a" stroke-width="2.79"/><line x1="289.94" y1="170.93" x2="276.21" y2="171.32" stroke="#fff" stroke-opacity="0.2" stroke-width="0.84"/>
<circle cx="70.13" cy="146.77" r="5.28" fill="url(#gO3)"/>
<line x1="124.65" y1="50.18" x2="118.9" y2="47.43" stroke="#d91a1a" stroke-width="2.82"/><line x1="124.65" y1="50.18" x2="118.9" y2="47.43" stroke="#fff" stroke-opacity="0.2" stroke-width="0.85"/>
<line x1="241.2" y1="51.64" x2="232.22" y2="53.27" stroke="#d91a1a" stroke-width="2.75"/><line x1="241.2" y1="51.64" x2="232.22" y2="53.27" stroke="#fff" stroke-opacity="0.2" stroke-width="0.83"/>
<line x1="180.77" y1="108.46" x2="173.97" y2="106.53" stroke="#d91a1a" stroke-width="2.82"/><line x1="180.77" y1="108.46" x2="173.97" y2="106.53" stroke="#fff" stroke-opacity="0.2" stroke-width="0.85"/>
<line x1="300.17" y1="109.32" x2="290.86" y2="110.78" stroke="#d91a1a" stroke-width="2.75"/><line x1="300.17" y1="109.32" x2="290.86" y2="110.78" stroke="#fff" stroke-opacity="0.2" stroke-width="0.83"/>
<line x1="186.14" y1="49.85" x2="176.01" y2="50.33" stroke="#2132d0" stroke-width="2.79"/><line x1="186.14" y1="49.85" x2="176.01" y2="50.33" stroke="#fff" stroke-opacity="0.2" stroke-width="0.84"/>
<line x1="237.21" y1="168.8" x2="229.83" y2="166.6" stroke="#d91a1a" stroke-width="2.82"/><line x1="237.21" y1="168.8" x2="229.83" y2="166.6" stroke="#fff" stroke-opacity="0.2" stroke-width="0.85"/>
<line x1="242.44" y1="110.02" x2="234.39" y2="109.18" stroke="#802ad0" stroke-width="2.79"/><line x1="242.44" y1="110.02" x2="234.39" y2="109.18" stroke="#fff" stroke-opacity="0.2" stroke-width="0.84"/>
<line x1="298.34" y1="170.68" x2="289.94" y2="170.93" stroke="#802ad0" stroke-width="2.79"/><line x1="298.34" y1="170.68" x2="289.94" y2="170.93" stroke="#fff" stroke-opacity="0.2" stroke-width="0.84"/>
<line x1="71.51" y1="127.98" x2="70.47" y2="142.07" stroke="#d91a1a" stroke-width="2.86"/><line x1="71.51" y1="127.98" x2="70.47" y2="142.07" stroke="#fff" stroke-opacity="0.2" stroke-width="0.86"/>
<line x1="78.54" y1="55.4" x2="76.3" y2="65.97" stroke="#d91a1a" stroke-width="2.82"/><line x1="78.54" y1="55.4" x2="76.3" y2="65.97" stroke="#fff" stroke-opacity="0.2" stroke-width="0.85"/>
<line x1="136.18" y1="119.58" x2="134.05" y2="130.21" stroke="#d91a1a" stroke-width="2.82"/><line x1="136.18" y1="119.58" x2="134.05" y2="130.21" stroke="#fff" stroke-opacity="0.2" stroke-width="0.85"/>
<circle cx="193.7" cy="49.5" r="8.27" fill="url(#gCr3)"/>
<line x1="72.13" y1="119.56" x2="71.51" y2="127.98" stroke="#802ad0" stroke-width="2.86"/><line x1="72.13" y1="119.56" x2="71.51" y2="127.98" stroke="#fff" stroke-opacity="0.2" stroke-width="0.86"/>
<circle cx="251.8" cy="111" r="10.4" fill="url(#gZr3)"/>
<line x1="313.52" y1="37.45" x2="314.84" y2="28.74" stroke="#d91a1a" stroke-width="2.75"/><line x1="313.52" y1="37.45" x2="314.84" y2="28.74" stroke="#fff" stroke-opacity="0.2" stroke-width="0.83"/>
<circle cx="308.1" cy="170.4" r="10.4" fill="url(#gZr3)"/>
<line x1="201.33" y1="50.41" x2="211.55" y2="51.64" stroke="#2132d0" stroke-width="2.79"/><line x1="201.33" y1="50.41" x2="211.55" y2="51.64" stroke="#fff" stroke-opacity="0.2" stroke-width="0.84"/>
<circle cx="72.9" cy="109.2" r="10.67" fill="url(#gZr3)"/>
<line x1="145.26" y1="52.48" x2="155.2" y2="51.47" stroke="#d91a1a" stroke-width="2.82"/><line x1="145.26" y1="52.48" x2="155.2" y2="51.47" stroke="#fff" stroke-opacity="0.2" stroke-width="0.85"/>
<line x1="261.51" y1="111.06" x2="269.87" y2="111.12" stroke="#802ad0" stroke-width="2.79"/><line x1="261.51" y1="111.06" x2="269.87" y2="111.12" stroke="#fff" stroke-opacity="0.2" stroke-width="0.84"/>
<line x1="263.84" y1="51.64" x2="272.09" y2="53.27" stroke="#d91a1a" stroke-width="2.75"/><line x1="263.84" y1="51.64" x2="272.09" y2="53.27" stroke="#fff" stroke-opacity="0.2" stroke-width="0.83"/>
<circle cx="132.2" cy="171" r="10.67" fill="url(#gZr3)"/>
<line x1="203.34" y1="109.18" x2="213.72" y2="107.8" stroke="#d91a1a" stroke-width="2.82"/><line x1="203.34" y1="109.18" x2="213.72" y2="107.8" stroke="#fff" stroke-opacity="0.2" stroke-width="0.85"/>
<line x1="259.34" y1="171.58" x2="268.81" y2="171.48" stroke="#d91a1a" stroke-width="2.82"/><line x1="259.34" y1="171.58" x2="268.81" y2="171.48" stroke="#fff" stroke-opacity="0.2" stroke-width="0.85"/>
<line x1="211.55" y1="51.64" x2="225.05" y2="53.26" stroke="#d91a1a" stroke-width="2.79"/><line x1="211.55" y1="51.64" x2="225.05" y2="53.26" stroke="#fff" stroke-opacity="0.2" stroke-width="0.84"/>
<line x1="269.87" y1="111.12" x2="283.53" y2="111.21" stroke="#d91a1a" stroke-width="2.79"/><line x1="269.87" y1="111.12" x2="283.53" y2="111.21" stroke="#fff" stroke-opacity="0.2" stroke-width="0.84"/>
<line x1="78.7" y1="33.7" x2="76.58" y2="27.88" stroke="#d91a1a" stroke-width="2.82"/><line x1="78.7" y1="33.7" x2="76.58" y2="27.88" stroke="#fff" stroke-opacity="0.2" stroke-width="0.85"/>
<line x1="73.64" y1="98.23" x2="74.24" y2="89.3" stroke="#802ad0" stroke-width="2.86"/><line x1="73.64" y1="98.23" x2="74.24" y2="89.3" stroke="#fff" stroke-opacity="0.2" stroke-width="0.86"/>
<line x1="135.83" y1="97.87" x2="133.44" y2="92.12" stroke="#d91a1a" stroke-width="2.82"/><line x1="135.83" y1="97.87" x2="133.44" y2="92.12" stroke="#fff" stroke-opacity="0.2" stroke-width="0.85"/>
<line x1="132.52" y1="160.71" x2="132.78" y2="152.33" stroke="#802ad0" stroke-width="2.86"/><line x1="132.52" y1="160.71" x2="132.78" y2="152.33" stroke="#fff" stroke-opacity="0.2" stroke-width="0.86"/>
<line x1="191.13" y1="152.68" x2="189.19" y2="146.78" stroke="#d91a1a" stroke-width="2.82"/><line x1="191.13" y1="152.68" x2="189.19" y2="146.78" stroke="#fff" stroke-opacity="0.2" stroke-width="0.85"/>
<line x1="67.81" y1="161.08" x2="69.56" y2="150.28" stroke="#d91a1a" stroke-width="2.89"/><line x1="67.81" y1="161.08" x2="69.56" y2="150.28" stroke="#fff" stroke-opacity="0.2" stroke-width="0.87"/>
<circle cx="229.4" cy="53.78" r="5.17" fill="url(#gO3)"/>
<line x1="312.4" y1="54.39" x2="312.93" y2="59.42" stroke="#802ad0" stroke-width="2.75"/><line x1="312.4" y1="54.39" x2="312.93" y2="59.42" stroke="#fff" stroke-opacity="0.2" stroke-width="0.83"/>
<circle cx="287.94" cy="111.24" r="5.17" fill="url(#gO3)"/>
<line x1="74.24" y1="89.3" x2="75.24" y2="74.38" stroke="#d91a1a" stroke-width="2.86"/><line x1="74.24" y1="89.3" x2="75.24" y2="74.38" stroke="#fff" stroke-opacity="0.2" stroke-width="0.86"/>
<line x1="132.78" y1="152.33" x2="133.21" y2="138.33" stroke="#d91a1a" stroke-width="2.86"/><line x1="132.78" y1="152.33" x2="133.21" y2="138.33" stroke="#fff" stroke-opacity="0.2" stroke-width="0.86"/>
<circle cx="75.58" cy="69.4" r="5.28" fill="url(#gO3)"/>
<circle cx="133.36" cy="133.66" r="5.28" fill="url(#gO3)"/>
<line x1="312.71" y1="42.82" x2="313.52" y2="37.45" stroke="#802ad0" stroke-width="2.75"/><line x1="312.71" y1="42.82" x2="313.52" y2="37.45" stroke="#fff" stroke-opacity="0.2" stroke-width="0.83"/>
<line x1="128.96" y1="52.25" x2="124.65" y2="50.18" stroke="#28c528" stroke-width="2.82"/><line x1="128.96" y1="52.25" x2="124.65" y2="50.18" stroke="#fff" stroke-opacity="0.2" stroke-width="0.85"/>
<line x1="185.65" y1="109.85" x2="180.77" y2="108.46" stroke="#b8aca5" stroke-width="2.82"/><line x1="185.65" y1="109.85" x2="180.77" y2="108.46" stroke="#fff" stroke-opacity="0.2" stroke-width="0.85"/>
<line x1="242.74" y1="170.46" x2="237.21" y2="168.8" stroke="#2132d0" stroke-width="2.82"/><line x1="242.74" y1="170.46" x2="237.21" y2="168.8" stroke="#fff" stroke-opacity="0.2" stroke-width="0.85"/>
<line x1="192.85" y1="55.53" x2="191.66" y2="63.91" stroke="#2132d0" stroke-width="2.82"/><line x1="192.85" y1="55.53" x2="191.66" y2="63.91" stroke="#fff" stroke-opacity="0.2" stroke-width="0.85"/>
<line x1="249.98" y1="117.8" x2="248.35" y2="123.91" stroke="#802ad0" stroke-width="2.82"/><line x1="249.98" y1="117.8" x2="248.35" y2="123.91" stroke="#fff" stroke-opacity="0.2" stroke-width="0.85"/>
<line x1="137.8" y1="53.23" x2="145.26" y2="52.48" stroke="#28c528" stroke-width="2.82"/><line x1="137.8" y1="53.23" x2="145.26" y2="52.48" stroke="#fff" stroke-opacity="0.2" stroke-width="0.85"/>
<line x1="195.88" y1="110.18" x2="203.34" y2="109.18" stroke="#b8aca5" stroke-width="2.82"/><line x1="195.88" y1="110.18" x2="203.34" y2="109.18" stroke="#fff" stroke-opacity="0.2" stroke-width="0.85"/>
<line x1="252.24" y1="171.65" x2="259.34" y2="171.58" stroke="#2132d0" stroke-width="2.82"/><line x1="252.24" y1="171.65" x2="259.34" y2="171.58" stroke="#fff" stroke-opacity="0.2" stroke-width="0.85"/>
<line x1="192.72" y1="46.43" x2="191.37" y2="42.17" stroke="#2132d0" stroke-width="2.82"/><line x1="192.72" y1="46.43" x2="191.37" y2="42.17" stroke="#fff" stroke-opacity="0.2" stroke-width="0.85"/>
<line x1="124.62" y1="172.23" x2="118.16" y2="173.27" stroke="#802ad0" stroke-width="2.89"/><line x1="124.62" y1="172.23" x2="118.16" y2="173.27" stroke="#fff" stroke-opacity="0.2" stroke-width="0.87"/>
<circle cx="274.68" cy="53.79" r="5.17" fill="url(#gO3)"/>
<line x1="250.45" y1="106.21" x2="249.24" y2="101.91" stroke="#802ad0" stroke-width="2.82"/><line x1="250.45" y1="106.21" x2="249.24" y2="101.91" stroke="#fff" stroke-opacity="0.2" stroke-width="0.85"/>
<line x1="307.11" y1="166.49" x2="306.22" y2="162.98" stroke="#802ad0" stroke-width="2.82"/><line x1="307.11" y1="166.49" x2="306.22" y2="162.98" stroke="#fff" stroke-opacity="0.2" stroke-width="0.85"/>
<line x1="66.57" y1="168.75" x2="67.81" y2="161.08" stroke="#b8aca5" stroke-width="2.89"/><line x1="66.57" y1="168.75" x2="67.81" y2="161.08" stroke="#fff" stroke-opacity="0.2" stroke-width="0.87"/>
<line x1="293.24" y1="51.29" x2="279.21" y2="53.18" stroke="#d91a1a" stroke-width="2.79"/><line x1="293.24" y1="51.29" x2="279.21" y2="53.18" stroke="#fff" stroke-opacity="0.2" stroke-width="0.84"/>
<circle cx="75.9" cy="26" r="5.28" fill="url(#gO3)"/>
<circle cx="132.67" cy="90.25" r="5.28" fill="url(#gO3)"/>
<line x1="77.87" y1="110.76" x2="82.1" y2="112.09" stroke="#802ad0" stroke-width="2.89"/><line x1="77.87" y1="110.76" x2="82.1" y2="112.09" stroke="#fff" stroke-opacity="0.2" stroke-width="0.87"/>
<circle cx="188.56" cy="144.87" r="5.28" fill="url(#gO3)"/>
<line x1="137.11" y1="171.69" x2="141.29" y2="172.28" stroke="#802ad0" stroke-width="2.89"/><line x1="137.11" y1="171.69" x2="141.29" y2="172.28" stroke="#fff" stroke-opacity="0.2" stroke-width="0.87"/>
<line x1="237.85" y1="55.64" x2="231.42" y2="54.22" stroke="#d91a1a" stroke-width="2.82"/><line x1="237.85" y1="55.64" x2="231.42" y2="54.22" stroke="#fff" stroke-opacity="0.2" stroke-width="0.85"/>
<line x1="296.47" y1="114.27" x2="289.97" y2="111.97" stroke="#d91a1a" stroke-width="2.82"/><line x1="296.47" y1="114.27" x2="289.97" y2="111.97" stroke="#fff" stroke-opacity="0.2" stroke-width="0.85"/>
<line x1="301.82" y1="50.14" x2="293.24" y2="51.29" stroke="#802ad0" stroke-width="2.79"/><line x1="301.82" y1="50.14" x2="293.24" y2="51.29" stroke="#fff" stroke-opacity="0.2" stroke-width="0.84"/>
<line x1="132.43" y1="72.02" x2="132.61" y2="85.69" stroke="#d91a1a" stroke-width="2.86"/><line x1="132.43" y1="72.02" x2="132.61" y2="85.69" stroke="#fff" stroke-opacity="0.2" stroke-width="0.86"/>
<line x1="189.13" y1="127.93" x2="188.71" y2="140.63" stroke="#d91a1a" stroke-width="2.86"/><line x1="189.13" y1="127.93" x2="188.71" y2="140.63" stroke="#fff" stroke-opacity="0.2" stroke-width="0.86"/>
<line x1="191.66" y1="63.91" x2="190.12" y2="74.8" stroke="#d91a1a" stroke-width="2.82"/><line x1="191.66" y1="63.91" x2="190.12" y2="74.8" stroke="#fff" stroke-opacity="0.2" stroke-width="0.85"/>
<line x1="73.29" y1="61.3" x2="75.02" y2="67.41" stroke="#d91a1a" stroke-width="2.89"/><line x1="73.29" y1="61.3" x2="75.02" y2="67.41" stroke="#fff" stroke-opacity="0.2" stroke-width="0.87"/>
<line x1="248.35" y1="123.91" x2="245.74" y2="133.65" stroke="#d91a1a" stroke-width="2.82"/><line x1="248.35" y1="123.91" x2="245.74" y2="133.65" stroke="#fff" stroke-opacity="0.2" stroke-width="0.85"/>
<line x1="130.63" y1="125.48" x2="132.69" y2="131.66" stroke="#d91a1a" stroke-width="2.89"/><line x1="130.63" y1="125.48" x2="132.69" y2="131.66" stroke="#fff" stroke-opacity="0.2" stroke-width="0.87"/>
<circle cx="311.8" cy="48.8" r="10.4" fill="url(#gZr3)"/>
<line x1="132.3" y1="61.79" x2="132.43" y2="72.02" stroke="#28c528" stroke-width="2.86"/><line x1="132.3" y1="61.79" x2="132.43" y2="72.02" stroke="#fff" stroke-opacity="0.2" stroke-width="0.86"/>
<line x1="189.44" y1="118.84" x2="189.13" y2="127.93" stroke="#b8aca5" stroke-width="2.86"/><line x1="189.44" y1="118.84" x2="189.13" y2="127.93" stroke="#fff" stroke-opacity="0.2" stroke-width="0.86"/>
<circle cx="132.2" cy="53.8" r="8.48" fill="url(#gCo3)"/>
<line x1="118.16" y1="173.27" x2="107.65" y2="174.97" stroke="#d91a1a" stroke-width="2.89"/><line x1="118.16" y1="173.27" x2="107.65" y2="174.97" stroke="#fff" stroke-opacity="0.2" stroke-width="0.87"/>
<circle cx="189.7" cy="111" r="8.95" fill="url(#gRu3)"/>
<line x1="260.49" y1="55.64" x2="271.29" y2="54.23" stroke="#d91a1a" stroke-width="2.82"/><line x1="260.49" y1="55.64" x2="271.29" y2="54.23" stroke="#fff" stroke-opacity="0.2" stroke-width="0.85"/>
<circle cx="246.9" cy="171.7" r="8.48" fill="url(#gCr3)"/>
<line x1="189.68" y1="103.44" x2="189.66" y2="94.66" stroke="#b8aca5" stroke-width="2.86"/><line x1="189.68" y1="103.44" x2="189.66" y2="94.66" stroke="#fff" stroke-opacity="0.2" stroke-width="0.86"/>
<line x1="191.37" y1="42.17" x2="189.6" y2="36.64" stroke="#d91a1a" stroke-width="2.82"/><line x1="191.37" y1="42.17" x2="189.6" y2="36.64" stroke="#fff" stroke-opacity="0.2" stroke-width="0.85"/>
<line x1="73.45" y1="39.6" x2="75.3" y2="29.33" stroke="#d91a1a" stroke-width="2.89"/><line x1="73.45" y1="39.6" x2="75.3" y2="29.33" stroke="#fff" stroke-opacity="0.2" stroke-width="0.87"/>
<line x1="246.46" y1="164.06" x2="245.9" y2="154.26" stroke="#2132d0" stroke-width="2.86"/><line x1="246.46" y1="164.06" x2="245.9" y2="154.26" stroke="#fff" stroke-opacity="0.2" stroke-width="0.86"/>
<circle cx="65.5" cy="175.4" r="9.18" fill="url(#gRu3)"/>
<line x1="249.24" y1="101.91" x2="247.31" y2="95.05" stroke="#d91a1a" stroke-width="2.82"/><line x1="249.24" y1="101.91" x2="247.31" y2="95.05" stroke="#fff" stroke-opacity="0.2" stroke-width="0.85"/>
<line x1="130.28" y1="103.77" x2="132.08" y2="93.56" stroke="#d91a1a" stroke-width="2.89"/><line x1="130.28" y1="103.77" x2="132.08" y2="93.56" stroke="#fff" stroke-opacity="0.2" stroke-width="0.87"/>
<line x1="306.22" y1="162.98" x2="304.8" y2="157.38" stroke="#d91a1a" stroke-width="2.82"/><line x1="306.22" y1="162.98" x2="304.8" y2="157.38" stroke="#fff" stroke-opacity="0.2" stroke-width="0.85"/>
<line x1="186.38" y1="159.48" x2="188.03" y2="148.45" stroke="#d91a1a" stroke-width="2.89"/><line x1="186.38" y1="159.48" x2="188.03" y2="148.45" stroke="#fff" stroke-opacity="0.2" stroke-width="0.87"/>
<line x1="189.66" y1="94.66" x2="189.63" y2="82.41" stroke="#d91a1a" stroke-width="2.86"/><line x1="189.66" y1="94.66" x2="189.63" y2="82.41" stroke="#fff" stroke-opacity="0.2" stroke-width="0.86"/>
<line x1="245.9" y1="154.26" x2="245.14" y2="141.18" stroke="#d91a1a" stroke-width="2.86"/><line x1="245.9" y1="154.26" x2="245.14" y2="141.18" stroke="#fff" stroke-opacity="0.2" stroke-width="0.86"/>
<line x1="74.66" y1="175.43" x2="84.81" y2="175.47" stroke="#b8aca5" stroke-width="2.93"/><line x1="74.66" y1="175.43" x2="84.81" y2="175.47" stroke="#fff" stroke-opacity="0.2" stroke-width="0.88"/>
<line x1="82.1" y1="112.09" x2="88.98" y2="114.26" stroke="#d91a1a" stroke-width="2.89"/><line x1="82.1" y1="112.09" x2="88.98" y2="114.26" stroke="#fff" stroke-opacity="0.2" stroke-width="0.87"/>
<line x1="141.29" y1="172.28" x2="148.09" y2="173.24" stroke="#d91a1a" stroke-width="2.89"/><line x1="141.29" y1="172.28" x2="148.09" y2="173.24" stroke="#fff" stroke-opacity="0.2" stroke-width="0.87"/>
<circle cx="189.62" cy="78.33" r="5.28" fill="url(#gO3)"/>
<line x1="300.39" y1="115.66" x2="296.47" y2="114.27" stroke="#802ad0" stroke-width="2.82"/><line x1="300.39" y1="115.66" x2="296.47" y2="114.27" stroke="#fff" stroke-opacity="0.2" stroke-width="0.85"/>
<circle cx="244.89" cy="136.81" r="5.28" fill="url(#gO3)"/>
<line x1="242.47" y1="56.66" x2="237.85" y2="55.64" stroke="#b8aca5" stroke-width="2.82"/><line x1="242.47" y1="56.66" x2="237.85" y2="55.64" stroke="#fff" stroke-opacity="0.2" stroke-width="0.85"/>
<line x1="84.81" y1="175.47" x2="99.18" y2="175.52" stroke="#d91a1a" stroke-width="2.93"/><line x1="84.81" y1="175.47" x2="99.18" y2="175.52" stroke="#fff" stroke-opacity="0.2" stroke-width="0.88"/>
<line x1="310.15" y1="57.09" x2="308.67" y2="64.55" stroke="#802ad0" stroke-width="2.82"/><line x1="310.15" y1="57.09" x2="308.67" y2="64.55" stroke="#fff" stroke-opacity="0.2" stroke-width="0.85"/>
<circle cx="104.13" cy="175.54" r="5.39" fill="url(#gO3)"/>
<line x1="72.06" y1="56.96" x2="73.29" y2="61.3" stroke="#b8aca5" stroke-width="2.89"/><line x1="72.06" y1="56.96" x2="73.29" y2="61.3" stroke="#fff" stroke-opacity="0.2" stroke-width="0.87"/>
<line x1="129.17" y1="121.1" x2="130.63" y2="125.48" stroke="#b8aca5" stroke-width="2.89"/><line x1="129.17" y1="121.1" x2="130.63" y2="125.48" stroke="#fff" stroke-opacity="0.2" stroke-width="0.87"/>
<line x1="252.73" y1="56.66" x2="260.49" y2="55.64" stroke="#b8aca5" stroke-width="2.82"/><line x1="252.73" y1="56.66" x2="260.49" y2="55.64" stroke="#fff" stroke-opacity="0.2" stroke-width="0.85"/>
<line x1="126.36" y1="54.48" x2="118.59" y2="55.38" stroke="#28c528" stroke-width="2.89"/><line x1="126.36" y1="54.48" x2="118.59" y2="55.38" stroke="#fff" stroke-opacity="0.2" stroke-width="0.87"/>
<line x1="183.43" y1="112.08" x2="175.88" y2="113.37" stroke="#b8aca5" stroke-width="2.89"/><line x1="183.43" y1="112.08" x2="175.88" y2="113.37" stroke="#fff" stroke-opacity="0.2" stroke-width="0.87"/>
<line x1="240.71" y1="172.84" x2="232.47" y2="174.35" stroke="#2132d0" stroke-width="2.89"/><line x1="240.71" y1="172.84" x2="232.47" y2="174.35" stroke="#fff" stroke-opacity="0.2" stroke-width="0.87"/>
<line x1="310.09" y1="45" x2="308.55" y2="41.58" stroke="#802ad0" stroke-width="2.82"/><line x1="310.09" y1="45" x2="308.55" y2="41.58" stroke="#fff" stroke-opacity="0.2" stroke-width="0.85"/>
<line x1="185.41" y1="166.01" x2="186.38" y2="159.48" stroke="#802ad0" stroke-width="2.89"/><line x1="185.41" y1="166.01" x2="186.38" y2="159.48" stroke="#fff" stroke-opacity="0.2" stroke-width="0.87"/>
<line x1="72.14" y1="46.88" x2="73.45" y2="39.6" stroke="#b8aca5" stroke-width="2.89"/><line x1="72.14" y1="46.88" x2="73.45" y2="39.6" stroke="#fff" stroke-opacity="0.2" stroke-width="0.87"/>
<line x1="129.01" y1="111.02" x2="130.28" y2="103.77" stroke="#b8aca5" stroke-width="2.89"/><line x1="129.01" y1="111.02" x2="130.28" y2="103.77" stroke="#fff" stroke-opacity="0.2" stroke-width="0.87"/>
<line x1="136.1" y1="55.35" x2="141.28" y2="57.4" stroke="#28c528" stroke-width="2.89"/><line x1="136.1" y1="55.35" x2="141.28" y2="57.4" stroke="#fff" stroke-opacity="0.2" stroke-width="0.87"/>
<line x1="193.63" y1="112.1" x2="198.36" y2="113.44" stroke="#b8aca5" stroke-width="2.89"/><line x1="193.63" y1="112.1" x2="198.36" y2="113.44" stroke="#fff" stroke-opacity="0.2" stroke-width="0.87"/>
<line x1="250.47" y1="173.18" x2="255.22" y2="175.16" stroke="#2132d0" stroke-width="2.89"/><line x1="250.47" y1="173.18" x2="255.22" y2="175.16" stroke="#fff" stroke-opacity="0.2" stroke-width="0.87"/>
<circle cx="189.03" cy="34.85" r="5.28" fill="url(#gO3)"/>
<circle cx="246.68" cy="92.83" r="5.28" fill="url(#gO3)"/>
<circle cx="304.34" cy="155.56" r="5.28" fill="url(#gO3)"/>
<line x1="64.95" y1="170.24" x2="64.32" y2="164.29" stroke="#b8aca5" stroke-width="2.96"/><line x1="64.95" y1="170.24" x2="64.32" y2="164.29" stroke="#fff" stroke-opacity="0.2" stroke-width="0.89"/>
<line x1="246.49" y1="75.16" x2="246.64" y2="88.41" stroke="#d91a1a" stroke-width="2.86"/><line x1="246.49" y1="75.16" x2="246.64" y2="88.41" stroke="#fff" stroke-opacity="0.2" stroke-width="0.86"/>
<line x1="304.67" y1="136.43" x2="304.42" y2="150.78" stroke="#d91a1a" stroke-width="2.86"/><line x1="304.67" y1="136.43" x2="304.42" y2="150.78" stroke="#fff" stroke-opacity="0.2" stroke-width="0.86"/>
<circle cx="91.29" cy="114.99" r="5.39" fill="url(#gO3)"/>
<circle cx="150.37" cy="173.56" r="5.39" fill="url(#gO3)"/>
<line x1="308.67" y1="64.55" x2="306.3" y2="76.44" stroke="#d91a1a" stroke-width="2.82"/><line x1="308.67" y1="64.55" x2="306.3" y2="76.44" stroke="#fff" stroke-opacity="0.2" stroke-width="0.85"/>
<line x1="186.56" y1="69.46" x2="188.87" y2="76.16" stroke="#d91a1a" stroke-width="2.89"/><line x1="186.56" y1="69.46" x2="188.87" y2="76.16" stroke="#fff" stroke-opacity="0.2" stroke-width="0.87"/>
<line x1="242.2" y1="128.91" x2="244.23" y2="134.87" stroke="#d91a1a" stroke-width="2.89"/><line x1="242.2" y1="128.91" x2="244.23" y2="134.87" stroke="#fff" stroke-opacity="0.2" stroke-width="0.87"/>
<line x1="246.39" y1="65.67" x2="246.49" y2="75.16" stroke="#b8aca5" stroke-width="2.86"/><line x1="246.39" y1="65.67" x2="246.49" y2="75.16" stroke="#fff" stroke-opacity="0.2" stroke-width="0.86"/>
<line x1="304.82" y1="127.85" x2="304.67" y2="136.43" stroke="#802ad0" stroke-width="2.86"/><line x1="304.82" y1="127.85" x2="304.67" y2="136.43" stroke="#fff" stroke-opacity="0.2" stroke-width="0.86"/>
<line x1="109.6" y1="116.14" x2="95.98" y2="115.29" stroke="#d91a1a" stroke-width="2.93"/><line x1="109.6" y1="116.14" x2="95.98" y2="115.29" stroke="#fff" stroke-opacity="0.2" stroke-width="0.88"/>
<line x1="167.29" y1="173.83" x2="154.71" y2="173.63" stroke="#d91a1a" stroke-width="2.93"/><line x1="167.29" y1="173.83" x2="154.71" y2="173.63" stroke="#fff" stroke-opacity="0.2" stroke-width="0.88"/>
<line x1="118.59" y1="55.38" x2="108.39" y2="56.57" stroke="#d91a1a" stroke-width="2.89"/><line x1="118.59" y1="55.38" x2="108.39" y2="56.57" stroke="#fff" stroke-opacity="0.2" stroke-width="0.87"/>
<line x1="175.88" y1="113.37" x2="165.52" y2="115.15" stroke="#d91a1a" stroke-width="2.89"/><line x1="175.88" y1="113.37" x2="165.52" y2="115.15" stroke="#fff" stroke-opacity="0.2" stroke-width="0.87"/>
<circle cx="246.3" cy="57.5" r="8.95" fill="url(#gRu3)"/>
<line x1="232.47" y1="174.35" x2="221.67" y2="176.34" stroke="#d91a1a" stroke-width="2.89"/><line x1="232.47" y1="174.35" x2="221.67" y2="176.34" stroke="#fff" stroke-opacity="0.2" stroke-width="0.87"/>
<line x1="113.11" y1="177.92" x2="106.39" y2="176.14" stroke="#d91a1a" stroke-width="2.96"/><line x1="113.11" y1="177.92" x2="106.39" y2="176.14" stroke="#fff" stroke-opacity="0.2" stroke-width="0.89"/>
<line x1="119.22" y1="116.75" x2="109.6" y2="116.14" stroke="#b8aca5" stroke-width="2.93"/><line x1="119.22" y1="116.75" x2="109.6" y2="116.14" stroke="#fff" stroke-opacity="0.2" stroke-width="0.88"/>
<circle cx="305" cy="117.3" r="10.67" fill="url(#gZr3)"/>
<line x1="174.64" y1="173.95" x2="167.29" y2="173.83" stroke="#802ad0" stroke-width="2.93"/><line x1="174.64" y1="173.95" x2="167.29" y2="173.83" stroke="#fff" stroke-opacity="0.2" stroke-width="0.88"/>
<circle cx="71" cy="53.2" r="9.18" fill="url(#gRu3)"/>
<circle cx="127.9" cy="117.3" r="9.18" fill="url(#gRu3)"/>
<line x1="308.55" y1="41.58" x2="306.09" y2="36.13" stroke="#d91a1a" stroke-width="2.82"/><line x1="308.55" y1="41.58" x2="306.09" y2="36.13" stroke="#fff" stroke-opacity="0.2" stroke-width="0.85"/>
<line x1="305.15" y1="107.1" x2="305.27" y2="98.8" stroke="#802ad0" stroke-width="2.86"/><line x1="305.15" y1="107.1" x2="305.27" y2="98.8" stroke="#fff" stroke-opacity="0.2" stroke-width="0.86"/>
<line x1="186.27" y1="47.72" x2="188.35" y2="38" stroke="#d91a1a" stroke-width="2.89"/><line x1="186.27" y1="47.72" x2="188.35" y2="38" stroke="#fff" stroke-opacity="0.2" stroke-width="0.87"/>
<circle cx="184.2" cy="174.1" r="10.93" fill="url(#gZr3)"/>
<line x1="243.09" y1="106.91" x2="245.8" y2="96.28" stroke="#d91a1a" stroke-width="2.89"/><line x1="243.09" y1="106.91" x2="245.8" y2="96.28" stroke="#fff" stroke-opacity="0.2" stroke-width="0.87"/>
<line x1="300.02" y1="169.18" x2="303.28" y2="158.9" stroke="#d91a1a" stroke-width="2.89"/><line x1="300.02" y1="169.18" x2="303.28" y2="158.9" stroke="#fff" stroke-opacity="0.2" stroke-width="0.87"/>
<line x1="305.27" y1="98.8" x2="305.47" y2="84.93" stroke="#d91a1a" stroke-width="2.86"/><line x1="305.27" y1="98.8" x2="305.47" y2="84.93" stroke="#fff" stroke-opacity="0.2" stroke-width="0.86"/>
<line x1="79.06" y1="54.09" x2="87.99" y2="55.08" stroke="#b8aca5" stroke-width="2.93"/><line x1="79.06" y1="54.09" x2="87.99" y2="55.08" stroke="#fff" stroke-opacity="0.2" stroke-width="0.88"/>
<line x1="136" y1="116.93" x2="144.98" y2="116.52" stroke="#b8aca5" stroke-width="2.93"/><line x1="136" y1="116.93" x2="144.98" y2="116.52" stroke="#fff" stroke-opacity="0.2" stroke-width="0.88"/>
<line x1="141.28" y1="57.4" x2="148.07" y2="60.1" stroke="#d91a1a" stroke-width="2.89"/><line x1="141.28" y1="57.4" x2="148.07" y2="60.1" stroke="#fff" stroke-opacity="0.2" stroke-width="0.87"/>
<line x1="198.36" y1="113.44" x2="204.85" y2="115.26" stroke="#d91a1a" stroke-width="2.89"/><line x1="198.36" y1="113.44" x2="204.85" y2="115.26" stroke="#fff" stroke-opacity="0.2" stroke-width="0.87"/>
<line x1="193.76" y1="174.92" x2="201.12" y2="175.55" stroke="#802ad0" stroke-width="2.93"/><line x1="193.76" y1="174.92" x2="201.12" y2="175.55" stroke="#fff" stroke-opacity="0.2" stroke-width="0.88"/>
<line x1="78.05" y1="116.14" x2="87.96" y2="115.28" stroke="#d91a1a" stroke-width="2.96"/><line x1="78.05" y1="116.14" x2="87.96" y2="115.28" stroke="#fff" stroke-opacity="0.2" stroke-width="0.89"/>
<line x1="255.22" y1="175.16" x2="261.46" y2="177.75" stroke="#d91a1a" stroke-width="2.89"/><line x1="255.22" y1="175.16" x2="261.46" y2="177.75" stroke="#fff" stroke-opacity="0.2" stroke-width="0.87"/>
<line x1="136.24" y1="176.93" x2="146.82" y2="174.41" stroke="#d91a1a" stroke-width="2.96"/><line x1="136.24" y1="176.93" x2="146.82" y2="174.41" stroke="#fff" stroke-opacity="0.2" stroke-width="0.89"/>
<circle cx="305.53" cy="80.3" r="5.28" fill="url(#gO3)"/>
<line x1="87.99" y1="55.08" x2="100.62" y2="56.48" stroke="#d91a1a" stroke-width="2.93"/><line x1="87.99" y1="55.08" x2="100.62" y2="56.48" stroke="#fff" stroke-opacity="0.2" stroke-width="0.88"/>
<line x1="144.98" y1="116.52" x2="157.67" y2="115.94" stroke="#d91a1a" stroke-width="2.93"/><line x1="144.98" y1="116.52" x2="157.67" y2="115.94" stroke="#fff" stroke-opacity="0.2" stroke-width="0.88"/>
<line x1="201.12" y1="175.55" x2="213.71" y2="176.63" stroke="#d91a1a" stroke-width="2.93"/><line x1="201.12" y1="175.55" x2="213.71" y2="176.63" stroke="#fff" stroke-opacity="0.2" stroke-width="0.88"/>
<line x1="64.32" y1="164.29" x2="63.44" y2="156.05" stroke="#d91a1a" stroke-width="2.96"/><line x1="64.32" y1="164.29" x2="63.44" y2="156.05" stroke="#fff" stroke-opacity="0.2" stroke-width="0.89"/>
<circle cx="104.97" cy="56.97" r="5.39" fill="url(#gO3)"/>
<circle cx="162.05" cy="115.74" r="5.39" fill="url(#gO3)"/>
<circle cx="218.05" cy="177" r="5.39" fill="url(#gO3)"/>
<line x1="184.92" y1="64.72" x2="186.56" y2="69.46" stroke="#b8aca5" stroke-width="2.89"/><line x1="184.92" y1="64.72" x2="186.56" y2="69.46" stroke="#fff" stroke-opacity="0.2" stroke-width="0.87"/>
<line x1="240.75" y1="124.67" x2="242.2" y2="128.91" stroke="#b8aca5" stroke-width="2.89"/><line x1="240.75" y1="124.67" x2="242.2" y2="128.91" stroke="#fff" stroke-opacity="0.2" stroke-width="0.87"/>
<line x1="240.17" y1="58.44" x2="232.78" y2="59.57" stroke="#b8aca5" stroke-width="2.89"/><line x1="240.17" y1="58.44" x2="232.78" y2="59.57" stroke="#fff" stroke-opacity="0.2" stroke-width="0.87"/>
<line x1="297.69" y1="118.61" x2="291.46" y2="119.72" stroke="#802ad0" stroke-width="2.89"/><line x1="297.69" y1="118.61" x2="291.46" y2="119.72" stroke="#fff" stroke-opacity="0.2" stroke-width="0.87"/>
<line x1="117.82" y1="179.17" x2="113.11" y2="177.92" stroke="#b8aca5" stroke-width="2.96"/><line x1="117.82" y1="179.17" x2="113.11" y2="177.92" stroke="#fff" stroke-opacity="0.2" stroke-width="0.89"/>
<line x1="184.78" y1="54.62" x2="186.27" y2="47.72" stroke="#b8aca5" stroke-width="2.89"/><line x1="184.78" y1="54.62" x2="186.27" y2="47.72" stroke="#fff" stroke-opacity="0.2" stroke-width="0.87"/>
<line x1="241.17" y1="114.46" x2="243.09" y2="106.91" stroke="#b8aca5" stroke-width="2.89"/><line x1="241.17" y1="114.46" x2="243.09" y2="106.91" stroke="#fff" stroke-opacity="0.2" stroke-width="0.87"/>
<line x1="297.71" y1="176.47" x2="300.02" y2="169.18" stroke="#b8aca5" stroke-width="2.89"/><line x1="297.71" y1="176.47" x2="300.02" y2="169.18" stroke="#fff" stroke-opacity="0.2" stroke-width="0.87"/>
<line x1="69.58" y1="59.37" x2="67.95" y2="66.48" stroke="#b8aca5" stroke-width="2.96"/><line x1="69.58" y1="59.37" x2="67.95" y2="66.48" stroke="#fff" stroke-opacity="0.2" stroke-width="0.89"/>
<line x1="126.62" y1="123.41" x2="125.14" y2="130.45" stroke="#b8aca5" stroke-width="2.96"/><line x1="126.62" y1="123.41" x2="125.14" y2="130.45" stroke="#fff" stroke-opacity="0.2" stroke-width="0.89"/>
<line x1="250.72" y1="58.04" x2="256.06" y2="58.68" stroke="#b8aca5" stroke-width="2.89"/><line x1="250.72" y1="58.04" x2="256.06" y2="58.68" stroke="#fff" stroke-opacity="0.2" stroke-width="0.87"/>
<circle cx="305.3" cy="34.36" r="5.28" fill="url(#gO3)"/>
<line x1="71.1" y1="116.75" x2="78.05" y2="116.14" stroke="#b8aca5" stroke-width="2.96"/><line x1="71.1" y1="116.75" x2="78.05" y2="116.14" stroke="#fff" stroke-opacity="0.2" stroke-width="0.89"/>
<line x1="128.83" y1="178.7" x2="136.24" y2="176.93" stroke="#b8aca5" stroke-width="2.96"/><line x1="128.83" y1="178.7" x2="136.24" y2="176.93" stroke="#fff" stroke-opacity="0.2" stroke-width="0.89"/>
<line x1="69.61" y1="49.15" x2="68.02" y2="44.49" stroke="#b8aca5" stroke-width="2.96"/><line x1="69.61" y1="49.15" x2="68.02" y2="44.49" stroke="#fff" stroke-opacity="0.2" stroke-width="0.89"/>
<line x1="127.1" y1="113.4" x2="126.18" y2="108.91" stroke="#b8aca5" stroke-width="2.96"/><line x1="127.1" y1="113.4" x2="126.18" y2="108.91" stroke="#fff" stroke-opacity="0.2" stroke-width="0.89"/>
<circle cx="150.35" cy="61.01" r="5.39" fill="url(#gO3)"/>
<circle cx="207.03" cy="115.87" r="5.39" fill="url(#gO3)"/>
<circle cx="263.55" cy="178.62" r="5.39" fill="url(#gO3)"/>
<line x1="182.76" y1="168.89" x2="181.61" y2="164.7" stroke="#802ad0" stroke-width="2.96"/><line x1="182.76" y1="168.89" x2="181.61" y2="164.7" stroke="#fff" stroke-opacity="0.2" stroke-width="0.89"/>
<line x1="303.72" y1="70.45" x2="305.09" y2="77.89" stroke="#d91a1a" stroke-width="2.89"/><line x1="303.72" y1="70.45" x2="305.09" y2="77.89" stroke="#fff" stroke-opacity="0.2" stroke-width="0.87"/>
<line x1="166.93" y1="60.8" x2="154.6" y2="60.95" stroke="#d91a1a" stroke-width="2.93"/><line x1="166.93" y1="60.8" x2="154.6" y2="60.95" stroke="#fff" stroke-opacity="0.2" stroke-width="0.88"/>
<line x1="223.26" y1="118.44" x2="211.19" y2="116.53" stroke="#d91a1a" stroke-width="2.93"/><line x1="223.26" y1="118.44" x2="211.19" y2="116.53" stroke="#fff" stroke-opacity="0.2" stroke-width="0.88"/>
<line x1="279.62" y1="180.71" x2="267.67" y2="179.15" stroke="#d91a1a" stroke-width="2.93"/><line x1="279.62" y1="180.71" x2="267.67" y2="179.15" stroke="#fff" stroke-opacity="0.2" stroke-width="0.88"/>
<circle cx="63.13" cy="153.19" r="5.5" fill="url(#gO3)"/>
<line x1="232.78" y1="59.57" x2="222.65" y2="61.13" stroke="#d91a1a" stroke-width="2.89"/><line x1="232.78" y1="59.57" x2="222.65" y2="61.13" stroke="#fff" stroke-opacity="0.2" stroke-width="0.87"/>
<line x1="114.39" y1="60.33" x2="107.34" y2="57.81" stroke="#d91a1a" stroke-width="2.96"/><line x1="114.39" y1="60.33" x2="107.34" y2="57.81" stroke="#fff" stroke-opacity="0.2" stroke-width="0.89"/>
<line x1="291.46" y1="119.72" x2="281.32" y2="121.54" stroke="#d91a1a" stroke-width="2.89"/><line x1="291.46" y1="119.72" x2="281.32" y2="121.54" stroke="#fff" stroke-opacity="0.2" stroke-width="0.87"/>
<line x1="171.28" y1="117.72" x2="164.37" y2="116.24" stroke="#d91a1a" stroke-width="2.96"/><line x1="171.28" y1="117.72" x2="164.37" y2="116.24" stroke="#fff" stroke-opacity="0.2" stroke-width="0.89"/>
<line x1="175.64" y1="60.7" x2="166.93" y2="60.8" stroke="#b8aca5" stroke-width="2.93"/><line x1="175.64" y1="60.7" x2="166.93" y2="60.8" stroke="#fff" stroke-opacity="0.2" stroke-width="0.88"/>
<line x1="227.82" y1="179.9" x2="220.5" y2="177.73" stroke="#d91a1a" stroke-width="2.96"/><line x1="227.82" y1="179.9" x2="220.5" y2="177.73" stroke="#fff" stroke-opacity="0.2" stroke-width="0.89"/>
<line x1="231.8" y1="119.78" x2="223.26" y2="118.44" stroke="#b8aca5" stroke-width="2.93"/><line x1="231.8" y1="119.78" x2="223.26" y2="118.44" stroke="#fff" stroke-opacity="0.2" stroke-width="0.88"/>
<line x1="288.07" y1="181.81" x2="279.62" y2="180.71" stroke="#b8aca5" stroke-width="2.93"/><line x1="288.07" y1="181.81" x2="279.62" y2="180.71" stroke="#fff" stroke-opacity="0.2" stroke-width="0.88"/>
<line x1="63.97" y1="135.24" x2="63.35" y2="148.48" stroke="#d91a1a" stroke-width="3"/><line x1="63.97" y1="135.24" x2="63.35" y2="148.48" stroke="#fff" stroke-opacity="0.2" stroke-width="0.9"/>
<line x1="67.95" y1="66.48" x2="65.68" y2="76.34" stroke="#d91a1a" stroke-width="2.96"/><line x1="67.95" y1="66.48" x2="65.68" y2="76.34" stroke="#fff" stroke-opacity="0.2" stroke-width="0.89"/>
<line x1="125.14" y1="130.45" x2="123.09" y2="140.22" stroke="#d91a1a" stroke-width="2.96"/><line x1="125.14" y1="130.45" x2="123.09" y2="140.22" stroke="#fff" stroke-opacity="0.2" stroke-width="0.89"/>
<circle cx="183.5" cy="60.6" r="9.18" fill="url(#gRu3)"/>
<line x1="64.4" y1="126.02" x2="63.97" y2="135.24" stroke="#b8aca5" stroke-width="3"/><line x1="64.4" y1="126.02" x2="63.97" y2="135.24" stroke="#fff" stroke-opacity="0.2" stroke-width="0.9"/>
<circle cx="239.5" cy="121" r="9.18" fill="url(#gRu3)"/>
<line x1="303.6" y1="47.48" x2="304.88" y2="37.58" stroke="#d91a1a" stroke-width="2.89"/><line x1="303.6" y1="47.48" x2="304.88" y2="37.58" stroke="#fff" stroke-opacity="0.2" stroke-width="0.87"/>
<circle cx="295.7" cy="182.8" r="9.18" fill="url(#gRu3)"/>
<line x1="191.98" y1="60.85" x2="201.38" y2="61.12" stroke="#b8aca5" stroke-width="2.93"/><line x1="191.98" y1="60.85" x2="201.38" y2="61.12" stroke="#fff" stroke-opacity="0.2" stroke-width="0.88"/>
<circle cx="64.8" cy="117.3" r="9.4" fill="url(#gRu3)"/>
<line x1="248.61" y1="121.27" x2="258.71" y2="121.57" stroke="#b8aca5" stroke-width="2.93"/><line x1="248.61" y1="121.27" x2="258.71" y2="121.57" stroke="#fff" stroke-opacity="0.2" stroke-width="0.88"/>
<line x1="256.06" y1="58.68" x2="263.37" y2="59.57" stroke="#d91a1a" stroke-width="2.89"/><line x1="256.06" y1="58.68" x2="263.37" y2="59.57" stroke="#fff" stroke-opacity="0.2" stroke-width="0.87"/>
<line x1="137.08" y1="62.35" x2="147.02" y2="61.34" stroke="#d91a1a" stroke-width="2.96"/><line x1="137.08" y1="62.35" x2="147.02" y2="61.34" stroke="#fff" stroke-opacity="0.2" stroke-width="0.89"/>
<circle cx="122.1" cy="180.3" r="9.4" fill="url(#gRu3)"/>
<line x1="193.76" y1="117.79" x2="203.7" y2="116.35" stroke="#d91a1a" stroke-width="2.96"/><line x1="193.76" y1="117.79" x2="203.7" y2="116.35" stroke="#fff" stroke-opacity="0.2" stroke-width="0.89"/>
<line x1="250.57" y1="180.71" x2="260.29" y2="179.14" stroke="#d91a1a" stroke-width="2.96"/><line x1="250.57" y1="180.71" x2="260.29" y2="179.14" stroke="#fff" stroke-opacity="0.2" stroke-width="0.89"/>
<line x1="201.38" y1="61.12" x2="214.67" y2="61.51" stroke="#d91a1a" stroke-width="2.93"/><line x1="201.38" y1="61.12" x2="214.67" y2="61.51" stroke="#fff" stroke-opacity="0.2" stroke-width="0.88"/>
<line x1="258.71" y1="121.57" x2="273" y2="122" stroke="#d91a1a" stroke-width="2.93"/><line x1="258.71" y1="121.57" x2="273" y2="122" stroke="#fff" stroke-opacity="0.2" stroke-width="0.88"/>
<line x1="68.02" y1="44.49" x2="65.8" y2="38.02" stroke="#d91a1a" stroke-width="2.96"/><line x1="68.02" y1="44.49" x2="65.8" y2="38.02" stroke="#fff" stroke-opacity="0.2" stroke-width="0.89"/>
<line x1="64.82" y1="108.18" x2="64.85" y2="98.53" stroke="#b8aca5" stroke-width="3"/><line x1="64.82" y1="108.18" x2="64.85" y2="98.53" stroke="#fff" stroke-opacity="0.2" stroke-width="0.9"/>
<line x1="126.18" y1="108.91" x2="124.9" y2="102.68" stroke="#d91a1a" stroke-width="2.96"/><line x1="126.18" y1="108.91" x2="124.9" y2="102.68" stroke="#fff" stroke-opacity="0.2" stroke-width="0.89"/>
<line x1="122.17" y1="171.38" x2="122.24" y2="161.95" stroke="#b8aca5" stroke-width="3"/><line x1="122.17" y1="171.38" x2="122.24" y2="161.95" stroke="#fff" stroke-opacity="0.2" stroke-width="0.9"/>
<line x1="181.61" y1="164.7" x2="179.68" y2="157.71" stroke="#d91a1a" stroke-width="2.96"/><line x1="181.61" y1="164.7" x2="179.68" y2="157.71" stroke="#fff" stroke-opacity="0.2" stroke-width="0.89"/>
<circle cx="219.25" cy="61.65" r="5.39" fill="url(#gO3)"/>
<circle cx="277.92" cy="122.14" r="5.39" fill="url(#gO3)"/>
<line x1="64.85" y1="98.53" x2="64.89" y2="84.69" stroke="#d91a1a" stroke-width="3"/><line x1="64.85" y1="98.53" x2="64.89" y2="84.69" stroke="#fff" stroke-opacity="0.2" stroke-width="0.9"/>
<line x1="122.24" y1="161.95" x2="122.34" y2="148.42" stroke="#d91a1a" stroke-width="3"/><line x1="122.24" y1="161.95" x2="122.34" y2="148.42" stroke="#fff" stroke-opacity="0.2" stroke-width="0.9"/>
<line x1="302.74" y1="65.18" x2="303.72" y2="70.45" stroke="#b8aca5" stroke-width="2.89"/><line x1="302.74" y1="65.18" x2="303.72" y2="70.45" stroke="#fff" stroke-opacity="0.2" stroke-width="0.87"/>
<circle cx="64.9" cy="79.76" r="5.5" fill="url(#gO3)"/>
<circle cx="122.38" cy="143.6" r="5.5" fill="url(#gO3)"/>
<line x1="119.32" y1="62.1" x2="114.39" y2="60.33" stroke="#b8aca5" stroke-width="2.96"/><line x1="119.32" y1="62.1" x2="114.39" y2="60.33" stroke="#fff" stroke-opacity="0.2" stroke-width="0.89"/>
<line x1="176.34" y1="118.81" x2="171.28" y2="117.72" stroke="#28c528" stroke-width="2.96"/><line x1="176.34" y1="118.81" x2="171.28" y2="117.72" stroke="#fff" stroke-opacity="0.2" stroke-width="0.89"/>
<line x1="232.95" y1="181.42" x2="227.82" y2="179.9" stroke="#b8aca5" stroke-width="2.96"/><line x1="232.95" y1="181.42" x2="227.82" y2="179.9" stroke="#fff" stroke-opacity="0.2" stroke-width="0.89"/>
<line x1="302.69" y1="54.51" x2="303.6" y2="47.48" stroke="#b8aca5" stroke-width="2.89"/><line x1="302.69" y1="54.51" x2="303.6" y2="47.48" stroke="#fff" stroke-opacity="0.2" stroke-width="0.87"/>
<line x1="182.8" y1="66.13" x2="182" y2="72.5" stroke="#b8aca5" stroke-width="2.96"/><line x1="182.8" y1="66.13" x2="182" y2="72.5" stroke="#fff" stroke-opacity="0.2" stroke-width="0.89"/>
<line x1="239.05" y1="127.25" x2="238.53" y2="134.45" stroke="#b8aca5" stroke-width="2.96"/><line x1="239.05" y1="127.25" x2="238.53" y2="134.45" stroke="#fff" stroke-opacity="0.2" stroke-width="0.89"/>
<line x1="130.12" y1="63.06" x2="137.08" y2="62.35" stroke="#b8aca5" stroke-width="2.96"/><line x1="130.12" y1="63.06" x2="137.08" y2="62.35" stroke="#fff" stroke-opacity="0.2" stroke-width="0.89"/>
<line x1="186.48" y1="118.84" x2="193.76" y2="117.79" stroke="#28c528" stroke-width="2.96"/><line x1="186.48" y1="118.84" x2="193.76" y2="117.79" stroke="#fff" stroke-opacity="0.2" stroke-width="0.89"/>
<line x1="243.77" y1="181.8" x2="250.57" y2="180.71" stroke="#b8aca5" stroke-width="2.96"/><line x1="243.77" y1="181.8" x2="250.57" y2="180.71" stroke="#fff" stroke-opacity="0.2" stroke-width="0.89"/>
<line x1="182.83" y1="56.68" x2="182.06" y2="52.17" stroke="#b8aca5" stroke-width="2.96"/><line x1="182.83" y1="56.68" x2="182.06" y2="52.17" stroke="#fff" stroke-opacity="0.2" stroke-width="0.89"/>
<line x1="239.23" y1="116.25" x2="238.91" y2="110.78" stroke="#b8aca5" stroke-width="2.96"/><line x1="239.23" y1="116.25" x2="238.91" y2="110.78" stroke="#fff" stroke-opacity="0.2" stroke-width="0.89"/>
<line x1="294.7" y1="178.43" x2="293.55" y2="173.4" stroke="#b8aca5" stroke-width="2.96"/><line x1="294.7" y1="178.43" x2="293.55" y2="173.4" stroke="#fff" stroke-opacity="0.2" stroke-width="0.89"/>
<circle cx="265.82" cy="59.86" r="5.39" fill="url(#gO3)"/>
<line x1="283.86" y1="60.23" x2="270.45" y2="59.96" stroke="#d91a1a" stroke-width="2.93"/><line x1="283.86" y1="60.23" x2="270.45" y2="59.96" stroke="#fff" stroke-opacity="0.2" stroke-width="0.88"/>
<circle cx="65.03" cy="35.78" r="5.5" fill="url(#gO3)"/>
<circle cx="124.46" cy="100.52" r="5.5" fill="url(#gO3)"/>
<circle cx="179.01" cy="155.29" r="5.5" fill="url(#gO3)"/>
<line x1="229.03" y1="63.92" x2="221.71" y2="62.22" stroke="#d91a1a" stroke-width="2.96"/><line x1="229.03" y1="63.92" x2="221.71" y2="62.22" stroke="#fff" stroke-opacity="0.2" stroke-width="0.89"/>
<line x1="286.51" y1="123.42" x2="280.08" y2="122.46" stroke="#d91a1a" stroke-width="2.96"/><line x1="286.51" y1="123.42" x2="280.08" y2="122.46" stroke="#fff" stroke-opacity="0.2" stroke-width="0.89"/>
<line x1="293.34" y1="60.43" x2="283.86" y2="60.23" stroke="#b8aca5" stroke-width="2.93"/><line x1="293.34" y1="60.43" x2="283.86" y2="60.23" stroke="#fff" stroke-opacity="0.2" stroke-width="0.88"/>
<line x1="124.13" y1="82.11" x2="124.37" y2="95.68" stroke="#d91a1a" stroke-width="3"/><line x1="124.13" y1="82.11" x2="124.37" y2="95.68" stroke="#fff" stroke-opacity="0.2" stroke-width="0.9"/>
<line x1="179.76" y1="137.5" x2="179.21" y2="150.62" stroke="#d91a1a" stroke-width="3"/><line x1="179.76" y1="137.5" x2="179.21" y2="150.62" stroke="#fff" stroke-opacity="0.2" stroke-width="0.9"/>
<line x1="182" y1="72.5" x2="180.89" y2="81.34" stroke="#d91a1a" stroke-width="2.96"/><line x1="182" y1="72.5" x2="180.89" y2="81.34" stroke="#fff" stroke-opacity="0.2" stroke-width="0.89"/>
<line x1="238.53" y1="134.45" x2="237.81" y2="144.44" stroke="#d91a1a" stroke-width="2.96"/><line x1="238.53" y1="134.45" x2="237.81" y2="144.44" stroke="#fff" stroke-opacity="0.2" stroke-width="0.89"/>
<line x1="123.96" y1="72.64" x2="124.13" y2="82.11" stroke="#b8aca5" stroke-width="3"/><line x1="123.96" y1="72.64" x2="124.13" y2="82.11" stroke="#fff" stroke-opacity="0.2" stroke-width="0.9"/>
<circle cx="301.9" cy="60.6" r="9.18" fill="url(#gRu3)"/>
<line x1="180.16" y1="127.89" x2="179.76" y2="137.5" stroke="#28c528" stroke-width="3"/><line x1="180.16" y1="127.89" x2="179.76" y2="137.5" stroke="#fff" stroke-opacity="0.2" stroke-width="0.9"/>
<circle cx="123.8" cy="63.7" r="9.4" fill="url(#gRu3)"/>
<circle cx="180.5" cy="119.7" r="8.9" fill="url(#gCo3)"/>
<line x1="252.31" y1="63.03" x2="262.43" y2="60.66" stroke="#d91a1a" stroke-width="2.96"/><line x1="252.31" y1="63.03" x2="262.43" y2="60.66" stroke="#fff" stroke-opacity="0.2" stroke-width="0.89"/>
<circle cx="237.6" cy="182.8" r="9.4" fill="url(#gRu3)"/>
<line x1="180.5" y1="111.58" x2="180.5" y2="102.05" stroke="#28c528" stroke-width="3"/><line x1="180.5" y1="111.58" x2="180.5" y2="102.05" stroke="#fff" stroke-opacity="0.2" stroke-width="0.9"/>
<line x1="182.06" y1="52.17" x2="180.99" y2="45.91" stroke="#d91a1a" stroke-width="2.96"/><line x1="182.06" y1="52.17" x2="180.99" y2="45.91" stroke="#fff" stroke-opacity="0.2" stroke-width="0.89"/>
<line x1="238.91" y1="110.78" x2="238.47" y2="103.19" stroke="#d91a1a" stroke-width="2.96"/><line x1="238.91" y1="110.78" x2="238.47" y2="103.19" stroke="#fff" stroke-opacity="0.2" stroke-width="0.89"/>
<line x1="237.59" y1="174.32" x2="237.58" y2="165.35" stroke="#b8aca5" stroke-width="3"/><line x1="237.59" y1="174.32" x2="237.58" y2="165.35" stroke="#fff" stroke-opacity="0.2" stroke-width="0.9"/>
<line x1="293.55" y1="173.4" x2="291.95" y2="166.42" stroke="#d91a1a" stroke-width="2.96"/><line x1="293.55" y1="173.4" x2="291.95" y2="166.42" stroke="#fff" stroke-opacity="0.2" stroke-width="0.89"/>
<line x1="180.5" y1="102.05" x2="180.51" y2="89.04" stroke="#d91a1a" stroke-width="3"/><line x1="180.5" y1="102.05" x2="180.51" y2="89.04" stroke="#fff" stroke-opacity="0.2" stroke-width="0.9"/>
<line x1="237.58" y1="165.35" x2="237.56" y2="152.49" stroke="#d91a1a" stroke-width="3"/><line x1="237.58" y1="165.35" x2="237.56" y2="152.49" stroke="#fff" stroke-opacity="0.2" stroke-width="0.9"/>
<line x1="233.26" y1="64.91" x2="229.03" y2="63.92" stroke="#802ad0" stroke-width="2.96"/><line x1="233.26" y1="64.91" x2="229.03" y2="63.92" stroke="#fff" stroke-opacity="0.2" stroke-width="0.89"/>
<circle cx="180.51" cy="84.4" r="5.5" fill="url(#gO3)"/>
<circle cx="237.56" cy="147.9" r="5.5" fill="url(#gO3)"/>
<line x1="291.01" y1="124.09" x2="286.51" y2="123.42" stroke="#b8aca5" stroke-width="2.96"/><line x1="291.01" y1="124.09" x2="286.51" y2="123.42" stroke="#fff" stroke-opacity="0.2" stroke-width="0.89"/>
<line x1="300.58" y1="67.01" x2="299.07" y2="74.4" stroke="#b8aca5" stroke-width="2.96"/><line x1="300.58" y1="67.01" x2="299.07" y2="74.4" stroke="#fff" stroke-opacity="0.2" stroke-width="0.89"/>
<line x1="246.46" y1="64.4" x2="252.31" y2="63.03" stroke="#802ad0" stroke-width="2.96"/><line x1="246.46" y1="64.4" x2="252.31" y2="63.03" stroke="#fff" stroke-opacity="0.2" stroke-width="0.89"/>
<line x1="301.27" y1="56.16" x2="300.53" y2="51.05" stroke="#b8aca5" stroke-width="2.96"/><line x1="301.27" y1="56.16" x2="300.53" y2="51.05" stroke="#fff" stroke-opacity="0.2" stroke-width="0.89"/>
<circle cx="180.62" cy="43.75" r="5.5" fill="url(#gO3)"/>
<circle cx="238.32" cy="100.56" r="5.5" fill="url(#gO3)"/>
<circle cx="291.39" cy="164" r="5.5" fill="url(#gO3)"/>
<line x1="238.56" y1="83.38" x2="238.38" y2="96.05" stroke="#d91a1a" stroke-width="3"/><line x1="238.56" y1="83.38" x2="238.38" y2="96.05" stroke="#fff" stroke-opacity="0.2" stroke-width="0.9"/>
<line x1="293.25" y1="144.35" x2="291.88" y2="158.84" stroke="#d91a1a" stroke-width="3"/><line x1="293.25" y1="144.35" x2="291.88" y2="158.84" stroke="#fff" stroke-opacity="0.2" stroke-width="0.9"/>
<line x1="299.07" y1="74.4" x2="296.96" y2="84.66" stroke="#d91a1a" stroke-width="2.96"/><line x1="299.07" y1="74.4" x2="296.96" y2="84.66" stroke="#fff" stroke-opacity="0.2" stroke-width="0.89"/>
<line x1="238.66" y1="76.15" x2="238.56" y2="83.38" stroke="#802ad0" stroke-width="3"/><line x1="238.66" y1="76.15" x2="238.56" y2="83.38" stroke="#fff" stroke-opacity="0.2" stroke-width="0.9"/>
<line x1="294.2" y1="134.25" x2="293.25" y2="144.35" stroke="#b8aca5" stroke-width="3"/><line x1="294.2" y1="134.25" x2="293.25" y2="144.35" stroke="#fff" stroke-opacity="0.2" stroke-width="0.9"/>
<circle cx="238.8" cy="66.2" r="11.2" fill="url(#gZr3)"/>
<circle cx="295.1" cy="124.7" r="9.4" fill="url(#gRu3)"/>
<line x1="300.53" y1="51.05" x2="299.52" y2="43.96" stroke="#d91a1a" stroke-width="2.96"/><line x1="300.53" y1="51.05" x2="299.52" y2="43.96" stroke="#fff" stroke-opacity="0.2" stroke-width="0.89"/>
<line x1="295.38" y1="115.83" x2="295.67" y2="106.45" stroke="#b8aca5" stroke-width="3"/><line x1="295.38" y1="115.83" x2="295.67" y2="106.45" stroke="#fff" stroke-opacity="0.2" stroke-width="0.9"/>
<line x1="295.67" y1="106.45" x2="296.09" y2="93" stroke="#d91a1a" stroke-width="3"/><line x1="295.67" y1="106.45" x2="296.09" y2="93" stroke="#fff" stroke-opacity="0.2" stroke-width="0.9"/>
<circle cx="296.24" cy="88.21" r="5.5" fill="url(#gO3)"/>
<circle cx="299.17" cy="41.5" r="5.5" fill="url(#gO3)"/>
<circle cx="87.1" cy="217.2" r="14.8" fill="url(#gRu)"/>
<text x="86.9" y="251.8" font-size="15.6" text-anchor="middle" font-weight="bold" fill="#000" >Ru</text>
<circle cx="135.3" cy="216.8" r="16.8" fill="url(#gZr)"/>
<text x="135.6" y="251.8" font-size="15.6" text-anchor="middle" font-weight="bold" fill="#000" >Zr</text>
<circle cx="181.1" cy="217.2" r="13.6" fill="url(#gCo)"/>
<text x="179.2" y="251.8" font-size="15.6" text-anchor="middle" font-weight="bold" fill="#000" >Co</text>
<circle cx="223.9" cy="216.8" r="12.4" fill="url(#gCrD)"/>
<text x="224" y="251.8" font-size="15.6" text-anchor="middle" font-weight="bold" fill="#000" >Cr</text>
<circle cx="271.9" cy="217.2" r="19.8" fill="url(#gCe)"/>
<text x="272.9" y="251.8" font-size="15.6" text-anchor="middle" font-weight="bold" fill="#000" >Ce</text>
<circle cx="313.4" cy="217.7" r="8.2" fill="url(#gO)"/>
<text x="314.2" y="251.8" font-size="15.6" text-anchor="middle" font-weight="bold" fill="#000" >O</text>
<clipPath id="cin"><rect x="0" y="-75" width="90.9" height="75"/></clipPath>
<defs><g id="slabsym"><circle cx="15.98" cy="-18.84" r="5" fill="url(#gRu3)"/>
<line x1="15.64" y1="-23.28" x2="15.08" y2="-30.5" stroke="#b8aca5" stroke-width="1.7"/><line x1="15.64" y1="-23.28" x2="15.08" y2="-30.5" stroke="#fff" stroke-opacity="0.2" stroke-width="0.51"/>
<line x1="15.08" y1="-30.5" x2="14.36" y2="-39.76" stroke="#d91a1a" stroke-width="1.7"/><line x1="15.08" y1="-30.5" x2="14.36" y2="-39.76" stroke="#fff" stroke-opacity="0.2" stroke-width="0.51"/>
<circle cx="14.17" cy="-42.16" r="3.39" fill="url(#gO3)"/>
<circle cx="56.31" cy="-33.69" r="3.39" fill="url(#gO3)"/>
<circle cx="14.78" cy="-71.15" r="3.39" fill="url(#gO3)"/>
<line x1="55.55" y1="-45.67" x2="56.15" y2="-36.16" stroke="#d91a1a" stroke-width="1.7"/><line x1="55.55" y1="-45.67" x2="56.15" y2="-36.16" stroke="#fff" stroke-opacity="0.2" stroke-width="0.51"/>
<line x1="55.08" y1="-53.08" x2="55.55" y2="-45.67" stroke="#b8aca5" stroke-width="1.7"/><line x1="55.08" y1="-53.08" x2="55.55" y2="-45.67" stroke="#fff" stroke-opacity="0.2" stroke-width="0.51"/>
<line x1="18.22" y1="-18.58" x2="21.97" y2="-18.16" stroke="#b8aca5" stroke-width="1.74"/><line x1="18.22" y1="-18.58" x2="21.97" y2="-18.16" stroke="#fff" stroke-opacity="0.2" stroke-width="0.52"/>
<circle cx="94.94" cy="-18.09" r="4.73" fill="url(#gCo3)"/>
<circle cx="54.79" cy="-57.65" r="5" fill="url(#gRu3)"/>
<line x1="94.61" y1="-22.05" x2="94.03" y2="-29.07" stroke="#28c528" stroke-width="1.7"/><line x1="94.61" y1="-22.05" x2="94.03" y2="-29.07" stroke="#fff" stroke-opacity="0.2" stroke-width="0.51"/>
<line x1="14.51" y1="-49.62" x2="14.24" y2="-43.67" stroke="#d91a1a" stroke-width="1.74"/><line x1="14.51" y1="-49.62" x2="14.24" y2="-43.67" stroke="#fff" stroke-opacity="0.2" stroke-width="0.52"/>
<line x1="94.03" y1="-29.07" x2="93.3" y2="-37.79" stroke="#d91a1a" stroke-width="1.7"/><line x1="94.03" y1="-29.07" x2="93.3" y2="-37.79" stroke="#fff" stroke-opacity="0.2" stroke-width="0.51"/>
<circle cx="93.12" cy="-40.05" r="3.39" fill="url(#gO3)"/>
<line x1="55.26" y1="-23.98" x2="56.09" y2="-31.73" stroke="#d91a1a" stroke-width="1.74"/><line x1="55.26" y1="-23.98" x2="56.09" y2="-31.73" stroke="#fff" stroke-opacity="0.2" stroke-width="0.52"/>
<line x1="14.81" y1="-64.11" x2="14.79" y2="-69.73" stroke="#d91a1a" stroke-width="1.74"/><line x1="14.81" y1="-64.11" x2="14.79" y2="-69.73" stroke="#fff" stroke-opacity="0.2" stroke-width="0.52"/>
<circle cx="132.93" cy="-31.85" r="3.39" fill="url(#gO3)"/>
<circle cx="93.91" cy="-68.99" r="3.39" fill="url(#gO3)"/>
<line x1="133.24" y1="-44.28" x2="133" y2="-34.41" stroke="#d91a1a" stroke-width="1.7"/><line x1="133.24" y1="-44.28" x2="133" y2="-34.41" stroke="#fff" stroke-opacity="0.2" stroke-width="0.51"/>
<line x1="91.85" y1="-17.58" x2="86.19" y2="-16.65" stroke="#28c528" stroke-width="1.74"/><line x1="91.85" y1="-17.58" x2="86.19" y2="-16.65" stroke="#fff" stroke-opacity="0.2" stroke-width="0.52"/>
<line x1="51.69" y1="-57.8" x2="46.49" y2="-58.07" stroke="#b8aca5" stroke-width="1.74"/><line x1="51.69" y1="-57.8" x2="46.49" y2="-58.07" stroke="#fff" stroke-opacity="0.2" stroke-width="0.52"/>
<line x1="133.41" y1="-51.06" x2="133.24" y2="-44.28" stroke="#802ad0" stroke-width="1.7"/><line x1="133.41" y1="-51.06" x2="133.24" y2="-44.28" stroke="#fff" stroke-opacity="0.2" stroke-width="0.51"/>
<line x1="21.97" y1="-18.16" x2="26.7" y2="-17.62" stroke="#d91a1a" stroke-width="1.74"/><line x1="21.97" y1="-18.16" x2="26.7" y2="-17.62" stroke="#fff" stroke-opacity="0.2" stroke-width="0.52"/>
<line x1="97.01" y1="-17.95" x2="100.8" y2="-17.69" stroke="#28c528" stroke-width="1.74"/><line x1="97.01" y1="-17.95" x2="100.8" y2="-17.69" stroke="#fff" stroke-opacity="0.2" stroke-width="0.52"/>
<line x1="56.98" y1="-57.7" x2="60.65" y2="-57.78" stroke="#b8aca5" stroke-width="1.74"/><line x1="56.98" y1="-57.7" x2="60.65" y2="-57.78" stroke="#fff" stroke-opacity="0.2" stroke-width="0.52"/>
<circle cx="133.55" cy="-56.71" r="5.96" fill="url(#gZr3)"/>
<line x1="14.71" y1="-54.18" x2="14.51" y2="-49.62" stroke="#b8aca5" stroke-width="1.74"/><line x1="14.71" y1="-54.18" x2="14.51" y2="-49.62" stroke="#fff" stroke-opacity="0.2" stroke-width="0.52"/>
<line x1="92.81" y1="-47.89" x2="93.05" y2="-41.63" stroke="#d91a1a" stroke-width="1.74"/><line x1="92.81" y1="-47.89" x2="93.05" y2="-41.63" stroke="#fff" stroke-opacity="0.2" stroke-width="0.52"/>
<line x1="54.63" y1="-18.04" x2="55.26" y2="-23.98" stroke="#b8aca5" stroke-width="1.74"/><line x1="54.63" y1="-18.04" x2="55.26" y2="-23.98" stroke="#fff" stroke-opacity="0.2" stroke-width="0.52"/>
<line x1="14.83" y1="-59.81" x2="14.81" y2="-64.11" stroke="#b8aca5" stroke-width="1.74"/><line x1="14.83" y1="-59.81" x2="14.81" y2="-64.11" stroke="#fff" stroke-opacity="0.2" stroke-width="0.52"/>
<line x1="132.66" y1="-23.61" x2="132.88" y2="-30.19" stroke="#d91a1a" stroke-width="1.74"/><line x1="132.66" y1="-23.61" x2="132.88" y2="-30.19" stroke="#fff" stroke-opacity="0.2" stroke-width="0.52"/>
<line x1="93.2" y1="-62.36" x2="93.77" y2="-67.65" stroke="#d91a1a" stroke-width="1.74"/><line x1="93.2" y1="-62.36" x2="93.77" y2="-67.65" stroke="#fff" stroke-opacity="0.2" stroke-width="0.52"/>
<line x1="86.19" y1="-16.65" x2="79.29" y2="-15.52" stroke="#d91a1a" stroke-width="1.74"/><line x1="86.19" y1="-16.65" x2="79.29" y2="-15.52" stroke="#fff" stroke-opacity="0.2" stroke-width="0.52"/>
<line x1="46.49" y1="-58.07" x2="39.92" y2="-58.4" stroke="#d91a1a" stroke-width="1.74"/><line x1="46.49" y1="-58.07" x2="39.92" y2="-58.4" stroke="#fff" stroke-opacity="0.2" stroke-width="0.52"/>
<circle cx="27.95" cy="-17.48" r="3.45" fill="url(#gO3)"/>
<line x1="41.09" y1="-15.87" x2="30.77" y2="-17.13" stroke="#d91a1a" stroke-width="1.77"/><line x1="41.09" y1="-15.87" x2="30.77" y2="-17.13" stroke="#fff" stroke-opacity="0.2" stroke-width="0.53"/>
<line x1="130.12" y1="-56.66" x2="125.85" y2="-56.59" stroke="#802ad0" stroke-width="1.74"/><line x1="130.12" y1="-56.66" x2="125.85" y2="-56.59" stroke="#fff" stroke-opacity="0.2" stroke-width="0.52"/>
<line x1="100.8" y1="-17.69" x2="105.43" y2="-17.38" stroke="#d91a1a" stroke-width="1.74"/><line x1="100.8" y1="-17.69" x2="105.43" y2="-17.38" stroke="#fff" stroke-opacity="0.2" stroke-width="0.52"/>
<line x1="60.65" y1="-57.78" x2="65.28" y2="-57.89" stroke="#d91a1a" stroke-width="1.74"/><line x1="60.65" y1="-57.78" x2="65.28" y2="-57.89" stroke="#fff" stroke-opacity="0.2" stroke-width="0.52"/>
<line x1="49.02" y1="-14.9" x2="41.09" y2="-15.87" stroke="#b8aca5" stroke-width="1.77"/><line x1="49.02" y1="-14.9" x2="41.09" y2="-15.87" stroke="#fff" stroke-opacity="0.2" stroke-width="0.53"/>
<circle cx="54.22" cy="-14.27" r="5.2" fill="url(#gRu3)"/>
<circle cx="14.84" cy="-57.08" r="5.2" fill="url(#gRu3)"/>
<line x1="92.62" y1="-52.69" x2="92.81" y2="-47.89" stroke="#b8aca5" stroke-width="1.74"/><line x1="92.62" y1="-52.69" x2="92.81" y2="-47.89" stroke="#fff" stroke-opacity="0.2" stroke-width="0.52"/>
<line x1="58.83" y1="-14.46" x2="65.84" y2="-14.75" stroke="#b8aca5" stroke-width="1.77"/><line x1="58.83" y1="-14.46" x2="65.84" y2="-14.75" stroke="#fff" stroke-opacity="0.2" stroke-width="0.53"/>
<line x1="19.47" y1="-57.36" x2="26.51" y2="-57.78" stroke="#b8aca5" stroke-width="1.77"/><line x1="19.47" y1="-57.36" x2="26.51" y2="-57.78" stroke="#fff" stroke-opacity="0.2" stroke-width="0.53"/>
<line x1="132.5" y1="-18.57" x2="132.66" y2="-23.61" stroke="#b8aca5" stroke-width="1.74"/><line x1="132.5" y1="-18.57" x2="132.66" y2="-23.61" stroke="#fff" stroke-opacity="0.2" stroke-width="0.52"/>
<line x1="92.77" y1="-58.31" x2="93.2" y2="-62.36" stroke="#b8aca5" stroke-width="1.74"/><line x1="92.77" y1="-58.31" x2="93.2" y2="-62.36" stroke="#fff" stroke-opacity="0.2" stroke-width="0.52"/>
<line x1="65.84" y1="-14.75" x2="74.96" y2="-15.12" stroke="#d91a1a" stroke-width="1.77"/><line x1="65.84" y1="-14.75" x2="74.96" y2="-15.12" stroke="#fff" stroke-opacity="0.2" stroke-width="0.53"/>
<line x1="26.51" y1="-57.78" x2="35.68" y2="-58.33" stroke="#d91a1a" stroke-width="1.77"/><line x1="26.51" y1="-57.78" x2="35.68" y2="-58.33" stroke="#fff" stroke-opacity="0.2" stroke-width="0.53"/>
<circle cx="77.45" cy="-15.22" r="3.45" fill="url(#gO3)"/>
<circle cx="38.18" cy="-58.49" r="3.45" fill="url(#gO3)"/>
<line x1="19.97" y1="-17.01" x2="26.28" y2="-17.38" stroke="#d91a1a" stroke-width="1.8"/><line x1="19.97" y1="-17.01" x2="26.28" y2="-17.38" stroke="#fff" stroke-opacity="0.2" stroke-width="0.54"/>
<line x1="125.85" y1="-56.59" x2="119.77" y2="-56.5" stroke="#d91a1a" stroke-width="1.74"/><line x1="125.85" y1="-56.59" x2="119.77" y2="-56.5" stroke="#fff" stroke-opacity="0.2" stroke-width="0.52"/>
<circle cx="106.66" cy="-17.29" r="3.45" fill="url(#gO3)"/>
<circle cx="66.51" cy="-57.92" r="3.45" fill="url(#gO3)"/>
<line x1="119.53" y1="-16.33" x2="109.42" y2="-17.09" stroke="#d91a1a" stroke-width="1.77"/><line x1="119.53" y1="-16.33" x2="109.42" y2="-17.09" stroke="#fff" stroke-opacity="0.2" stroke-width="0.53"/>
<line x1="79.5" y1="-56.83" x2="69.29" y2="-57.69" stroke="#d91a1a" stroke-width="1.77"/><line x1="79.5" y1="-56.83" x2="69.29" y2="-57.69" stroke="#fff" stroke-opacity="0.2" stroke-width="0.53"/>
<line x1="14.11" y1="-54.27" x2="12.96" y2="-49.86" stroke="#b8aca5" stroke-width="1.8"/><line x1="14.11" y1="-54.27" x2="12.96" y2="-49.86" stroke="#fff" stroke-opacity="0.2" stroke-width="0.54"/>
<line x1="127.3" y1="-15.75" x2="119.53" y2="-16.33" stroke="#b8aca5" stroke-width="1.77"/><line x1="127.3" y1="-15.75" x2="119.53" y2="-16.33" stroke="#fff" stroke-opacity="0.2" stroke-width="0.53"/>
<line x1="87.35" y1="-56.17" x2="79.5" y2="-56.83" stroke="#b8aca5" stroke-width="1.77"/><line x1="87.35" y1="-56.17" x2="79.5" y2="-56.83" stroke="#fff" stroke-opacity="0.2" stroke-width="0.53"/>
<line x1="53.53" y1="-17.43" x2="52.43" y2="-22.4" stroke="#b8aca5" stroke-width="1.8"/><line x1="53.53" y1="-17.43" x2="52.43" y2="-22.4" stroke="#fff" stroke-opacity="0.2" stroke-width="0.54"/>
<line x1="14.49" y1="-59.11" x2="13.93" y2="-62.31" stroke="#b8aca5" stroke-width="1.8"/><line x1="14.49" y1="-59.11" x2="13.93" y2="-62.31" stroke="#fff" stroke-opacity="0.2" stroke-width="0.54"/>
<circle cx="132.4" cy="-15.37" r="5.2" fill="url(#gRu3)"/>
<circle cx="92.5" cy="-55.74" r="5.2" fill="url(#gRu3)"/>
<line x1="97.58" y1="-55.88" x2="105.33" y2="-56.11" stroke="#b8aca5" stroke-width="1.77"/><line x1="97.58" y1="-55.88" x2="105.33" y2="-56.11" stroke="#fff" stroke-opacity="0.2" stroke-width="0.53"/>
<line x1="84.4" y1="-14.81" x2="78.91" y2="-15.14" stroke="#d91a1a" stroke-width="1.8"/><line x1="84.4" y1="-14.81" x2="78.91" y2="-15.14" stroke="#fff" stroke-opacity="0.2" stroke-width="0.54"/>
<line x1="43.92" y1="-56.93" x2="39.39" y2="-58.16" stroke="#d91a1a" stroke-width="1.8"/><line x1="43.92" y1="-56.93" x2="39.39" y2="-58.16" stroke="#fff" stroke-opacity="0.2" stroke-width="0.54"/>
<line x1="105.33" y1="-56.11" x2="115.4" y2="-56.4" stroke="#d91a1a" stroke-width="1.77"/><line x1="105.33" y1="-56.11" x2="115.4" y2="-56.4" stroke="#fff" stroke-opacity="0.2" stroke-width="0.53"/>
<line x1="15.03" y1="-16.73" x2="19.97" y2="-17.01" stroke="#2132d0" stroke-width="1.8"/><line x1="15.03" y1="-16.73" x2="19.97" y2="-17.01" stroke="#fff" stroke-opacity="0.2" stroke-width="0.54"/>
<circle cx="118.15" cy="-56.48" r="3.45" fill="url(#gO3)"/>
<line x1="99" y1="-15.85" x2="105.05" y2="-16.99" stroke="#d91a1a" stroke-width="1.8"/><line x1="99" y1="-15.85" x2="105.05" y2="-16.99" stroke="#fff" stroke-opacity="0.2" stroke-width="0.54"/>
<line x1="58.08" y1="-56.64" x2="64.74" y2="-57.65" stroke="#d91a1a" stroke-width="1.8"/><line x1="58.08" y1="-56.64" x2="64.74" y2="-57.65" stroke="#fff" stroke-opacity="0.2" stroke-width="0.54"/>
<line x1="12.96" y1="-49.86" x2="11.48" y2="-44.21" stroke="#d91a1a" stroke-width="1.8"/><line x1="12.96" y1="-49.86" x2="11.48" y2="-44.21" stroke="#fff" stroke-opacity="0.2" stroke-width="0.54"/>
<line x1="91.89" y1="-52.82" x2="90.93" y2="-48.23" stroke="#b8aca5" stroke-width="1.8"/><line x1="91.89" y1="-52.82" x2="90.93" y2="-48.23" stroke="#fff" stroke-opacity="0.2" stroke-width="0.54"/>
<line x1="52.43" y1="-22.4" x2="51.02" y2="-28.76" stroke="#d91a1a" stroke-width="1.8"/><line x1="52.43" y1="-22.4" x2="51.02" y2="-28.76" stroke="#fff" stroke-opacity="0.2" stroke-width="0.54"/>
<line x1="13.93" y1="-62.31" x2="13.22" y2="-66.41" stroke="#d91a1a" stroke-width="1.8"/><line x1="13.93" y1="-62.31" x2="13.22" y2="-66.41" stroke="#fff" stroke-opacity="0.2" stroke-width="0.54"/>
<line x1="132.36" y1="-17.68" x2="132.31" y2="-21.32" stroke="#b8aca5" stroke-width="1.8"/><line x1="132.36" y1="-17.68" x2="132.31" y2="-21.32" stroke="#fff" stroke-opacity="0.2" stroke-width="0.54"/>
<line x1="91.81" y1="-58.02" x2="90.74" y2="-61.6" stroke="#b8aca5" stroke-width="1.8"/><line x1="91.81" y1="-58.02" x2="90.74" y2="-61.6" stroke="#fff" stroke-opacity="0.2" stroke-width="0.54"/>
<line x1="88.01" y1="-14.6" x2="84.4" y2="-14.81" stroke="#802ad0" stroke-width="1.8"/><line x1="88.01" y1="-14.6" x2="84.4" y2="-14.81" stroke="#fff" stroke-opacity="0.2" stroke-width="0.54"/>
<line x1="46.9" y1="-56.11" x2="43.92" y2="-56.93" stroke="#802ad0" stroke-width="1.8"/><line x1="46.9" y1="-56.11" x2="43.92" y2="-56.93" stroke="#fff" stroke-opacity="0.2" stroke-width="0.54"/>
<circle cx="11.99" cy="-16.55" r="5.11" fill="url(#gCr3)"/>
<line x1="124.05" y1="-54.75" x2="119.39" y2="-56.11" stroke="#d91a1a" stroke-width="1.8"/><line x1="124.05" y1="-54.75" x2="119.39" y2="-56.11" stroke="#fff" stroke-opacity="0.2" stroke-width="0.54"/>
<line x1="11.81" y1="-21.63" x2="11.53" y2="-29.59" stroke="#2132d0" stroke-width="1.84"/><line x1="11.81" y1="-21.63" x2="11.53" y2="-29.59" stroke="#fff" stroke-opacity="0.2" stroke-width="0.55"/>
<line x1="95.02" y1="-15.1" x2="99" y2="-15.85" stroke="#802ad0" stroke-width="1.8"/><line x1="95.02" y1="-15.1" x2="99" y2="-15.85" stroke="#fff" stroke-opacity="0.2" stroke-width="0.54"/>
<line x1="53.7" y1="-55.98" x2="58.08" y2="-56.64" stroke="#802ad0" stroke-width="1.8"/><line x1="53.7" y1="-55.98" x2="58.08" y2="-56.64" stroke="#fff" stroke-opacity="0.2" stroke-width="0.54"/>
<line x1="11.53" y1="-29.59" x2="11.18" y2="-39.73" stroke="#d91a1a" stroke-width="1.84"/><line x1="11.53" y1="-29.59" x2="11.18" y2="-39.73" stroke="#fff" stroke-opacity="0.2" stroke-width="0.55"/>
<circle cx="11.07" cy="-42.63" r="3.5" fill="url(#gO3)"/>
<line x1="90.93" y1="-48.23" x2="89.7" y2="-42.35" stroke="#d91a1a" stroke-width="1.8"/><line x1="90.93" y1="-48.23" x2="89.7" y2="-42.35" stroke="#fff" stroke-opacity="0.2" stroke-width="0.54"/>
<circle cx="50.63" cy="-30.54" r="3.5" fill="url(#gO3)"/>
<circle cx="13.02" cy="-67.55" r="3.5" fill="url(#gO3)"/>
<line x1="50.14" y1="-42.95" x2="50.52" y2="-33.3" stroke="#d91a1a" stroke-width="1.84"/><line x1="50.14" y1="-42.95" x2="50.52" y2="-33.3" stroke="#fff" stroke-opacity="0.2" stroke-width="0.55"/>
<line x1="132.31" y1="-21.32" x2="132.25" y2="-25.97" stroke="#d91a1a" stroke-width="1.8"/><line x1="132.31" y1="-21.32" x2="132.25" y2="-25.97" stroke="#fff" stroke-opacity="0.2" stroke-width="0.54"/>
<line x1="90.74" y1="-61.6" x2="89.36" y2="-66.19" stroke="#d91a1a" stroke-width="1.8"/><line x1="90.74" y1="-61.6" x2="89.36" y2="-66.19" stroke="#fff" stroke-opacity="0.2" stroke-width="0.54"/>
<line x1="49.9" y1="-49.28" x2="50.14" y2="-42.95" stroke="#802ad0" stroke-width="1.84"/><line x1="49.9" y1="-49.28" x2="50.14" y2="-42.95" stroke="#fff" stroke-opacity="0.2" stroke-width="0.55"/>
<line x1="14.25" y1="-15.76" x2="17.92" y2="-14.47" stroke="#2132d0" stroke-width="1.87"/><line x1="14.25" y1="-15.76" x2="17.92" y2="-14.47" stroke="#fff" stroke-opacity="0.2" stroke-width="0.56"/>
<circle cx="91.34" cy="-14.41" r="6.43" fill="url(#gZr3)"/>
<circle cx="49.66" cy="-55.37" r="6.43" fill="url(#gZr3)"/>
<line x1="127.58" y1="-53.72" x2="124.05" y2="-54.75" stroke="#b8aca5" stroke-width="1.8"/><line x1="127.58" y1="-53.72" x2="124.05" y2="-54.75" stroke="#fff" stroke-opacity="0.2" stroke-width="0.54"/>
<line x1="90.86" y1="-20.85" x2="90.35" y2="-27.56" stroke="#802ad0" stroke-width="1.84"/><line x1="90.86" y1="-20.85" x2="90.35" y2="-27.56" stroke="#fff" stroke-opacity="0.2" stroke-width="0.55"/>
<line x1="10.73" y1="-48.22" x2="11" y2="-43.85" stroke="#d91a1a" stroke-width="1.87"/><line x1="10.73" y1="-48.22" x2="11" y2="-43.85" stroke="#fff" stroke-opacity="0.2" stroke-width="0.56"/>
<line x1="90.35" y1="-27.56" x2="89.58" y2="-37.79" stroke="#d91a1a" stroke-width="1.84"/><line x1="90.35" y1="-27.56" x2="89.58" y2="-37.79" stroke="#fff" stroke-opacity="0.2" stroke-width="0.55"/>
<circle cx="89.36" cy="-40.71" r="3.5" fill="url(#gO3)"/>
<line x1="50.46" y1="-21.99" x2="50.59" y2="-28.67" stroke="#d91a1a" stroke-width="1.87"/><line x1="50.46" y1="-21.99" x2="50.59" y2="-28.67" stroke="#fff" stroke-opacity="0.2" stroke-width="0.56"/>
<line x1="11.71" y1="-60.67" x2="12.74" y2="-66.05" stroke="#d91a1a" stroke-width="1.87"/><line x1="11.71" y1="-60.67" x2="12.74" y2="-66.05" stroke="#fff" stroke-opacity="0.2" stroke-width="0.56"/>
<circle cx="132.23" cy="-27.26" r="3.5" fill="url(#gO3)"/>
<circle cx="88.98" cy="-67.47" r="3.5" fill="url(#gO3)"/>
<line x1="131.09" y1="-40.15" x2="131.98" y2="-30.13" stroke="#d91a1a" stroke-width="1.84"/><line x1="131.09" y1="-40.15" x2="131.98" y2="-30.13" stroke="#fff" stroke-opacity="0.2" stroke-width="0.55"/>
<line x1="87" y1="-14.16" x2="82.3" y2="-13.89" stroke="#802ad0" stroke-width="1.87"/><line x1="87" y1="-14.16" x2="82.3" y2="-13.89" stroke="#fff" stroke-opacity="0.2" stroke-width="0.56"/>
<line x1="46.39" y1="-54.46" x2="42.86" y2="-53.49" stroke="#802ad0" stroke-width="1.87"/><line x1="46.39" y1="-54.46" x2="42.86" y2="-53.49" stroke="#fff" stroke-opacity="0.2" stroke-width="0.56"/>
<line x1="130.42" y1="-47.73" x2="131.09" y2="-40.15" stroke="#b8aca5" stroke-width="1.84"/><line x1="130.42" y1="-47.73" x2="131.09" y2="-40.15" stroke="#fff" stroke-opacity="0.2" stroke-width="0.55"/>
<line x1="17.92" y1="-14.47" x2="22.51" y2="-12.86" stroke="#d91a1a" stroke-width="1.87"/><line x1="17.92" y1="-14.47" x2="22.51" y2="-12.86" stroke="#fff" stroke-opacity="0.2" stroke-width="0.56"/>
<circle cx="129.96" cy="-53.03" r="5.4" fill="url(#gRu3)"/>
<line x1="94.62" y1="-13.73" x2="98.17" y2="-12.99" stroke="#802ad0" stroke-width="1.87"/><line x1="94.62" y1="-13.73" x2="98.17" y2="-12.99" stroke="#fff" stroke-opacity="0.2" stroke-width="0.56"/>
<line x1="53.42" y1="-54.55" x2="57.49" y2="-53.67" stroke="#802ad0" stroke-width="1.87"/><line x1="53.42" y1="-54.55" x2="57.49" y2="-53.67" stroke="#fff" stroke-opacity="0.2" stroke-width="0.56"/>
<line x1="10.53" y1="-51.59" x2="10.73" y2="-48.22" stroke="#2132d0" stroke-width="1.87"/><line x1="10.53" y1="-51.59" x2="10.73" y2="-48.22" stroke="#fff" stroke-opacity="0.2" stroke-width="0.56"/>
<line x1="89.13" y1="-46.39" x2="89.31" y2="-41.95" stroke="#d91a1a" stroke-width="1.87"/><line x1="89.13" y1="-46.39" x2="89.31" y2="-41.95" stroke="#fff" stroke-opacity="0.2" stroke-width="0.56"/>
<line x1="50.38" y1="-17.69" x2="50.46" y2="-21.99" stroke="#802ad0" stroke-width="1.87"/><line x1="50.38" y1="-17.69" x2="50.46" y2="-21.99" stroke="#fff" stroke-opacity="0.2" stroke-width="0.56"/>
<line x1="10.91" y1="-56.52" x2="11.71" y2="-60.67" stroke="#2132d0" stroke-width="1.87"/><line x1="10.91" y1="-56.52" x2="11.71" y2="-60.67" stroke="#fff" stroke-opacity="0.2" stroke-width="0.56"/>
<line x1="130.52" y1="-19.48" x2="131.86" y2="-25.57" stroke="#d91a1a" stroke-width="1.87"/><line x1="130.52" y1="-19.48" x2="131.86" y2="-25.57" stroke="#fff" stroke-opacity="0.2" stroke-width="0.56"/>
<line x1="88.94" y1="-59.77" x2="88.97" y2="-65.79" stroke="#d91a1a" stroke-width="1.87"/><line x1="88.94" y1="-59.77" x2="88.97" y2="-65.79" stroke="#fff" stroke-opacity="0.2" stroke-width="0.56"/>
<line x1="82.3" y1="-13.89" x2="75.29" y2="-13.49" stroke="#d91a1a" stroke-width="1.87"/><line x1="82.3" y1="-13.89" x2="75.29" y2="-13.49" stroke="#fff" stroke-opacity="0.2" stroke-width="0.56"/>
<line x1="42.86" y1="-53.49" x2="37.59" y2="-52.04" stroke="#d91a1a" stroke-width="1.87"/><line x1="42.86" y1="-53.49" x2="37.59" y2="-52.04" stroke="#fff" stroke-opacity="0.2" stroke-width="0.56"/>
<circle cx="23.85" cy="-12.39" r="3.56" fill="url(#gO3)"/>
<line x1="126.96" y1="-52.52" x2="122.53" y2="-51.76" stroke="#b8aca5" stroke-width="1.87"/><line x1="126.96" y1="-52.52" x2="122.53" y2="-51.76" stroke="#fff" stroke-opacity="0.2" stroke-width="0.56"/>
<line x1="37.07" y1="-12.91" x2="26.9" y2="-12.51" stroke="#d91a1a" stroke-width="1.9"/><line x1="37.07" y1="-12.91" x2="26.9" y2="-12.51" stroke="#fff" stroke-opacity="0.2" stroke-width="0.57"/>
<line x1="98.17" y1="-12.99" x2="103.45" y2="-11.9" stroke="#d91a1a" stroke-width="1.87"/><line x1="98.17" y1="-12.99" x2="103.45" y2="-11.9" stroke="#fff" stroke-opacity="0.2" stroke-width="0.56"/>
<line x1="57.49" y1="-53.67" x2="63.55" y2="-52.35" stroke="#d91a1a" stroke-width="1.87"/><line x1="57.49" y1="-53.67" x2="63.55" y2="-52.35" stroke="#fff" stroke-opacity="0.2" stroke-width="0.56"/>
<line x1="43.57" y1="-13.17" x2="37.07" y2="-12.91" stroke="#802ad0" stroke-width="1.9"/><line x1="43.57" y1="-13.17" x2="37.07" y2="-12.91" stroke="#fff" stroke-opacity="0.2" stroke-width="0.57"/>
<circle cx="50.29" cy="-13.44" r="6.66" fill="url(#gZr3)"/>
<circle cx="10.39" cy="-53.8" r="5.3" fill="url(#gCr3)"/>
<line x1="89" y1="-49.69" x2="89.13" y2="-46.39" stroke="#b8aca5" stroke-width="1.87"/><line x1="89" y1="-49.69" x2="89.13" y2="-46.39" stroke="#fff" stroke-opacity="0.2" stroke-width="0.56"/>
<line x1="129.66" y1="-15.57" x2="130.52" y2="-19.48" stroke="#802ad0" stroke-width="1.87"/><line x1="129.66" y1="-15.57" x2="130.52" y2="-19.48" stroke="#fff" stroke-opacity="0.2" stroke-width="0.56"/>
<line x1="56.12" y1="-13.42" x2="61.77" y2="-13.4" stroke="#802ad0" stroke-width="1.9"/><line x1="56.12" y1="-13.42" x2="61.77" y2="-13.4" stroke="#fff" stroke-opacity="0.2" stroke-width="0.57"/>
<line x1="15.57" y1="-53.36" x2="23.23" y2="-52.71" stroke="#2132d0" stroke-width="1.9"/><line x1="15.57" y1="-53.36" x2="23.23" y2="-52.71" stroke="#fff" stroke-opacity="0.2" stroke-width="0.57"/>
<line x1="88.92" y1="-55.28" x2="88.94" y2="-59.77" stroke="#b8aca5" stroke-width="1.87"/><line x1="88.92" y1="-55.28" x2="88.94" y2="-59.77" stroke="#fff" stroke-opacity="0.2" stroke-width="0.56"/>
<line x1="61.77" y1="-13.4" x2="70.6" y2="-13.38" stroke="#d91a1a" stroke-width="1.9"/><line x1="61.77" y1="-13.4" x2="70.6" y2="-13.38" stroke="#fff" stroke-opacity="0.2" stroke-width="0.57"/>
<line x1="23.23" y1="-52.71" x2="33.1" y2="-51.86" stroke="#d91a1a" stroke-width="1.9"/><line x1="23.23" y1="-52.71" x2="33.1" y2="-51.86" stroke="#fff" stroke-opacity="0.2" stroke-width="0.57"/>
<circle cx="73.25" cy="-13.37" r="3.56" fill="url(#gO3)"/>
<circle cx="36.06" cy="-51.61" r="3.56" fill="url(#gO3)"/>
<line x1="16.21" y1="-12.76" x2="22.12" y2="-12.47" stroke="#d91a1a" stroke-width="1.94"/><line x1="16.21" y1="-12.76" x2="22.12" y2="-12.47" stroke="#fff" stroke-opacity="0.2" stroke-width="0.58"/>
<line x1="122.53" y1="-51.76" x2="116.77" y2="-50.78" stroke="#d91a1a" stroke-width="1.87"/><line x1="122.53" y1="-51.76" x2="116.77" y2="-50.78" stroke="#fff" stroke-opacity="0.2" stroke-width="0.56"/>
<circle cx="104.99" cy="-11.58" r="3.56" fill="url(#gO3)"/>
<circle cx="65.31" cy="-51.97" r="3.56" fill="url(#gO3)"/>
<line x1="116.9" y1="-11.64" x2="107.74" y2="-11.59" stroke="#d91a1a" stroke-width="1.9"/><line x1="116.9" y1="-11.64" x2="107.74" y2="-11.59" stroke="#fff" stroke-opacity="0.2" stroke-width="0.57"/>
<line x1="77.11" y1="-52.02" x2="68.03" y2="-51.98" stroke="#d91a1a" stroke-width="1.9"/><line x1="77.11" y1="-52.02" x2="68.03" y2="-51.98" stroke="#fff" stroke-opacity="0.2" stroke-width="0.57"/>
<line x1="10.27" y1="-51.13" x2="10.09" y2="-47.05" stroke="#2132d0" stroke-width="1.94"/><line x1="10.27" y1="-51.13" x2="10.09" y2="-47.05" stroke="#fff" stroke-opacity="0.2" stroke-width="0.58"/>
<line x1="122.75" y1="-11.67" x2="116.9" y2="-11.64" stroke="#802ad0" stroke-width="1.9"/><line x1="122.75" y1="-11.67" x2="116.9" y2="-11.64" stroke="#fff" stroke-opacity="0.2" stroke-width="0.57"/>
<line x1="83.87" y1="-52.04" x2="77.11" y2="-52.02" stroke="#b8aca5" stroke-width="1.9"/><line x1="83.87" y1="-52.04" x2="77.11" y2="-52.02" stroke="#fff" stroke-opacity="0.2" stroke-width="0.57"/>
<line x1="9.79" y1="-56.27" x2="8.87" y2="-60.03" stroke="#2132d0" stroke-width="1.94"/><line x1="9.79" y1="-56.27" x2="8.87" y2="-60.03" stroke="#fff" stroke-opacity="0.2" stroke-width="0.58"/>
<circle cx="128.8" cy="-11.7" r="6.66" fill="url(#gZr3)"/>
<circle cx="88.9" cy="-52.06" r="5.59" fill="url(#gRu3)"/>
<line x1="50.38" y1="-16.38" x2="50.47" y2="-19.34" stroke="#802ad0" stroke-width="1.94"/><line x1="50.38" y1="-16.38" x2="50.47" y2="-19.34" stroke="#fff" stroke-opacity="0.2" stroke-width="0.58"/>
<line x1="94.49" y1="-51.72" x2="102" y2="-51.28" stroke="#b8aca5" stroke-width="1.9"/><line x1="94.49" y1="-51.72" x2="102" y2="-51.28" stroke="#fff" stroke-opacity="0.2" stroke-width="0.57"/>
<line x1="80.86" y1="-13.25" x2="74.97" y2="-13.34" stroke="#d91a1a" stroke-width="1.94"/><line x1="80.86" y1="-13.25" x2="74.97" y2="-13.34" stroke="#fff" stroke-opacity="0.2" stroke-width="0.58"/>
<line x1="41.96" y1="-51.35" x2="37.39" y2="-51.55" stroke="#d91a1a" stroke-width="1.94"/><line x1="41.96" y1="-51.35" x2="37.39" y2="-51.55" stroke="#fff" stroke-opacity="0.2" stroke-width="0.58"/>
<line x1="102" y1="-51.28" x2="112.08" y2="-50.67" stroke="#d91a1a" stroke-width="1.9"/><line x1="102" y1="-51.28" x2="112.08" y2="-50.67" stroke="#fff" stroke-opacity="0.2" stroke-width="0.57"/>
<line x1="11.87" y1="-12.97" x2="16.21" y2="-12.76" stroke="#b8aca5" stroke-width="1.94"/><line x1="11.87" y1="-12.97" x2="16.21" y2="-12.76" stroke="#fff" stroke-opacity="0.2" stroke-width="0.58"/>
<circle cx="115.09" cy="-50.49" r="3.56" fill="url(#gO3)"/>
<line x1="96.73" y1="-12.35" x2="103.13" y2="-11.75" stroke="#d91a1a" stroke-width="1.94"/><line x1="96.73" y1="-12.35" x2="103.13" y2="-11.75" stroke="#fff" stroke-opacity="0.2" stroke-width="0.58"/>
<line x1="56.58" y1="-51.53" x2="63.34" y2="-51.87" stroke="#d91a1a" stroke-width="1.94"/><line x1="56.58" y1="-51.53" x2="63.34" y2="-51.87" stroke="#fff" stroke-opacity="0.2" stroke-width="0.58"/>
<line x1="10.09" y1="-47.05" x2="9.85" y2="-41.88" stroke="#d91a1a" stroke-width="1.94"/><line x1="10.09" y1="-47.05" x2="9.85" y2="-41.88" stroke="#fff" stroke-opacity="0.2" stroke-width="0.58"/>
<line x1="88.43" y1="-48.92" x2="87.76" y2="-44.55" stroke="#b8aca5" stroke-width="1.94"/><line x1="88.43" y1="-48.92" x2="87.76" y2="-44.55" stroke="#fff" stroke-opacity="0.2" stroke-width="0.58"/>
<line x1="50.47" y1="-19.34" x2="50.6" y2="-23.86" stroke="#d91a1a" stroke-width="1.94"/><line x1="50.47" y1="-19.34" x2="50.6" y2="-23.86" stroke="#fff" stroke-opacity="0.2" stroke-width="0.58"/>
<line x1="8.87" y1="-60.03" x2="7.7" y2="-64.81" stroke="#d91a1a" stroke-width="1.94"/><line x1="8.87" y1="-60.03" x2="7.7" y2="-64.81" stroke="#fff" stroke-opacity="0.2" stroke-width="0.58"/>
<line x1="88.92" y1="-54.82" x2="88.95" y2="-58.66" stroke="#b8aca5" stroke-width="1.94"/><line x1="88.92" y1="-54.82" x2="88.95" y2="-58.66" stroke="#fff" stroke-opacity="0.2" stroke-width="0.58"/>
<line x1="128.01" y1="-15.21" x2="127.21" y2="-18.76" stroke="#802ad0" stroke-width="1.94"/><line x1="128.01" y1="-15.21" x2="127.21" y2="-18.76" stroke="#fff" stroke-opacity="0.2" stroke-width="0.58"/>
<circle cx="8.56" cy="-13.13" r="5.79" fill="url(#gRu3)"/>
<line x1="45.3" y1="-51.2" x2="41.96" y2="-51.35" stroke="#b8aca5" stroke-width="1.94"/><line x1="45.3" y1="-51.2" x2="41.96" y2="-51.35" stroke="#fff" stroke-opacity="0.2" stroke-width="0.58"/>
<line x1="85.35" y1="-13.18" x2="80.86" y2="-13.25" stroke="#28c528" stroke-width="1.94"/><line x1="85.35" y1="-13.18" x2="80.86" y2="-13.25" stroke="#fff" stroke-opacity="0.2" stroke-width="0.58"/>
<line x1="120.73" y1="-49.92" x2="116.37" y2="-50.36" stroke="#d91a1a" stroke-width="1.94"/><line x1="120.73" y1="-49.92" x2="116.37" y2="-50.36" stroke="#fff" stroke-opacity="0.2" stroke-width="0.58"/>
<line x1="8.83" y1="-19.13" x2="9.17" y2="-26.72" stroke="#b8aca5" stroke-width="1.97"/><line x1="8.83" y1="-19.13" x2="9.17" y2="-26.72" stroke="#fff" stroke-opacity="0.2" stroke-width="0.59"/>
<line x1="51.63" y1="-51.28" x2="56.58" y2="-51.53" stroke="#b8aca5" stroke-width="1.94"/><line x1="51.63" y1="-51.28" x2="56.58" y2="-51.53" stroke="#fff" stroke-opacity="0.2" stroke-width="0.58"/>
<line x1="91.85" y1="-12.81" x2="96.73" y2="-12.35" stroke="#28c528" stroke-width="1.94"/><line x1="91.85" y1="-12.81" x2="96.73" y2="-12.35" stroke="#fff" stroke-opacity="0.2" stroke-width="0.58"/>
<line x1="9.17" y1="-26.72" x2="9.64" y2="-37.06" stroke="#d91a1a" stroke-width="1.97"/><line x1="9.17" y1="-26.72" x2="9.64" y2="-37.06" stroke="#fff" stroke-opacity="0.2" stroke-width="0.59"/>
<circle cx="9.78" cy="-40.31" r="3.62" fill="url(#gO3)"/>
<line x1="87.76" y1="-44.55" x2="86.89" y2="-38.8" stroke="#d91a1a" stroke-width="1.94"/><line x1="87.76" y1="-44.55" x2="86.89" y2="-38.8" stroke="#fff" stroke-opacity="0.2" stroke-width="0.58"/>
<circle cx="50.64" cy="-25.24" r="3.62" fill="url(#gO3)"/>
<circle cx="7.34" cy="-66.27" r="3.62" fill="url(#gO3)"/>
<line x1="49.25" y1="-38.17" x2="50.31" y2="-28.33" stroke="#d91a1a" stroke-width="1.97"/><line x1="49.25" y1="-38.17" x2="50.31" y2="-28.33" stroke="#fff" stroke-opacity="0.2" stroke-width="0.59"/>
<line x1="127.21" y1="-18.76" x2="125.99" y2="-24.18" stroke="#d91a1a" stroke-width="1.94"/><line x1="127.21" y1="-18.76" x2="125.99" y2="-24.18" stroke="#fff" stroke-opacity="0.2" stroke-width="0.58"/>
<line x1="88.95" y1="-58.66" x2="88.99" y2="-63.71" stroke="#d91a1a" stroke-width="1.94"/><line x1="88.95" y1="-58.66" x2="88.99" y2="-63.71" stroke="#fff" stroke-opacity="0.2" stroke-width="0.58"/>
<line x1="48.47" y1="-45.38" x2="49.25" y2="-38.17" stroke="#b8aca5" stroke-width="1.97"/><line x1="48.47" y1="-45.38" x2="49.25" y2="-38.17" stroke="#fff" stroke-opacity="0.2" stroke-width="0.59"/>
<line x1="11.92" y1="-12.63" x2="16.33" y2="-11.97" stroke="#b8aca5" stroke-width="2"/><line x1="11.92" y1="-12.63" x2="16.33" y2="-11.97" stroke="#fff" stroke-opacity="0.2" stroke-width="0.6"/>
<circle cx="88.47" cy="-13.13" r="5.48" fill="url(#gCo3)"/>
<circle cx="47.85" cy="-51.09" r="5.79" fill="url(#gRu3)"/>
<line x1="124.06" y1="-49.58" x2="120.73" y2="-49.92" stroke="#28c528" stroke-width="1.94"/><line x1="124.06" y1="-49.58" x2="120.73" y2="-49.92" stroke="#fff" stroke-opacity="0.2" stroke-width="0.58"/>
<line x1="88.08" y1="-18.13" x2="87.55" y2="-25.09" stroke="#28c528" stroke-width="1.97"/><line x1="88.08" y1="-18.13" x2="87.55" y2="-25.09" stroke="#fff" stroke-opacity="0.2" stroke-width="0.59"/>
<line x1="8.89" y1="-47.26" x2="9.57" y2="-41.93" stroke="#d91a1a" stroke-width="2"/><line x1="8.89" y1="-47.26" x2="9.57" y2="-41.93" stroke="#fff" stroke-opacity="0.2" stroke-width="0.6"/>
<line x1="87.55" y1="-25.09" x2="86.84" y2="-34.19" stroke="#d91a1a" stroke-width="1.97"/><line x1="87.55" y1="-25.09" x2="86.84" y2="-34.19" stroke="#fff" stroke-opacity="0.2" stroke-width="0.59"/>
<circle cx="86.62" cy="-37.05" r="3.62" fill="url(#gO3)"/>
<line x1="49.29" y1="-18.33" x2="50.33" y2="-23.63" stroke="#d91a1a" stroke-width="2"/><line x1="49.29" y1="-18.33" x2="50.33" y2="-23.63" stroke="#fff" stroke-opacity="0.2" stroke-width="0.6"/>
<line x1="7.67" y1="-60.24" x2="7.42" y2="-64.86" stroke="#d91a1a" stroke-width="2"/><line x1="7.67" y1="-60.24" x2="7.42" y2="-64.86" stroke="#fff" stroke-opacity="0.2" stroke-width="0.6"/>
<circle cx="125.62" cy="-25.83" r="3.62" fill="url(#gO3)"/>
<circle cx="89" cy="-65.26" r="3.62" fill="url(#gO3)"/>
<line x1="125.99" y1="-37.59" x2="125.71" y2="-28.64" stroke="#d91a1a" stroke-width="1.97"/><line x1="125.99" y1="-37.59" x2="125.71" y2="-28.64" stroke="#fff" stroke-opacity="0.2" stroke-width="0.59"/>
<line x1="84.91" y1="-12.98" x2="79.76" y2="-12.76" stroke="#28c528" stroke-width="2"/><line x1="84.91" y1="-12.98" x2="79.76" y2="-12.76" stroke="#fff" stroke-opacity="0.2" stroke-width="0.6"/>
<line x1="43.93" y1="-51.19" x2="38.77" y2="-51.31" stroke="#b8aca5" stroke-width="2"/><line x1="43.93" y1="-51.19" x2="38.77" y2="-51.31" stroke="#fff" stroke-opacity="0.2" stroke-width="0.6"/>
<line x1="126.21" y1="-44.43" x2="125.99" y2="-37.59" stroke="#28c528" stroke-width="1.97"/><line x1="126.21" y1="-44.43" x2="125.99" y2="-37.59" stroke="#fff" stroke-opacity="0.2" stroke-width="0.59"/>
<line x1="16.33" y1="-11.97" x2="22.22" y2="-11.09" stroke="#d91a1a" stroke-width="2"/><line x1="16.33" y1="-11.97" x2="22.22" y2="-11.09" stroke="#fff" stroke-opacity="0.2" stroke-width="0.6"/>
<line x1="91.52" y1="-12.39" x2="95.91" y2="-11.34" stroke="#28c528" stroke-width="2"/><line x1="91.52" y1="-12.39" x2="95.91" y2="-11.34" stroke="#fff" stroke-opacity="0.2" stroke-width="0.6"/>
<line x1="50.8" y1="-50.86" x2="54.67" y2="-50.56" stroke="#b8aca5" stroke-width="2"/><line x1="50.8" y1="-50.86" x2="54.67" y2="-50.56" stroke="#fff" stroke-opacity="0.2" stroke-width="0.6"/>
<circle cx="126.36" cy="-49.35" r="5.48" fill="url(#gCo3)"/>
<line x1="8.47" y1="-50.52" x2="8.89" y2="-47.26" stroke="#802ad0" stroke-width="2"/><line x1="8.47" y1="-50.52" x2="8.89" y2="-47.26" stroke="#fff" stroke-opacity="0.2" stroke-width="0.6"/>
<line x1="48.7" y1="-15.3" x2="49.29" y2="-18.33" stroke="#ccd02c" stroke-width="2"/><line x1="48.7" y1="-15.3" x2="49.29" y2="-18.33" stroke="#fff" stroke-opacity="0.2" stroke-width="0.6"/>
<line x1="86.98" y1="-43.35" x2="86.71" y2="-38.52" stroke="#d91a1a" stroke-width="2"/><line x1="86.98" y1="-43.35" x2="86.71" y2="-38.52" stroke="#fff" stroke-opacity="0.2" stroke-width="0.6"/>
<line x1="7.82" y1="-57.43" x2="7.67" y2="-60.24" stroke="#802ad0" stroke-width="2"/><line x1="7.82" y1="-57.43" x2="7.67" y2="-60.24" stroke="#fff" stroke-opacity="0.2" stroke-width="0.6"/>
<line x1="125.41" y1="-16.92" x2="125.57" y2="-23.75" stroke="#d91a1a" stroke-width="2"/><line x1="125.41" y1="-16.92" x2="125.57" y2="-23.75" stroke="#fff" stroke-opacity="0.2" stroke-width="0.6"/>
<line x1="88.17" y1="-57.46" x2="88.81" y2="-63.43" stroke="#d91a1a" stroke-width="2"/><line x1="88.17" y1="-57.46" x2="88.81" y2="-63.43" stroke="#fff" stroke-opacity="0.2" stroke-width="0.6"/>
<line x1="79.76" y1="-12.76" x2="73.16" y2="-12.48" stroke="#d91a1a" stroke-width="2"/><line x1="79.76" y1="-12.76" x2="73.16" y2="-12.48" stroke="#fff" stroke-opacity="0.2" stroke-width="0.6"/>
<line x1="38.77" y1="-51.31" x2="31.89" y2="-51.48" stroke="#d91a1a" stroke-width="2"/><line x1="38.77" y1="-51.31" x2="31.89" y2="-51.48" stroke="#fff" stroke-opacity="0.2" stroke-width="0.6"/>
<circle cx="24.1" cy="-10.81" r="3.68" fill="url(#gO3)"/>
<line x1="122.71" y1="-49.02" x2="117.43" y2="-48.55" stroke="#28c528" stroke-width="2"/><line x1="122.71" y1="-49.02" x2="117.43" y2="-48.55" stroke="#fff" stroke-opacity="0.2" stroke-width="0.6"/>
<line x1="36.02" y1="-11.11" x2="27.04" y2="-10.88" stroke="#d91a1a" stroke-width="2.04"/><line x1="36.02" y1="-11.11" x2="27.04" y2="-10.88" stroke="#fff" stroke-opacity="0.2" stroke-width="0.61"/>
<line x1="95.91" y1="-11.34" x2="101.55" y2="-9.98" stroke="#d91a1a" stroke-width="2"/><line x1="95.91" y1="-11.34" x2="101.55" y2="-9.98" stroke="#fff" stroke-opacity="0.2" stroke-width="0.6"/>
<line x1="54.67" y1="-50.56" x2="59.84" y2="-50.15" stroke="#d91a1a" stroke-width="2"/><line x1="54.67" y1="-50.56" x2="59.84" y2="-50.15" stroke="#fff" stroke-opacity="0.2" stroke-width="0.6"/>
<line x1="41.11" y1="-11.24" x2="36.02" y2="-11.11" stroke="#ccd02c" stroke-width="2.04"/><line x1="41.11" y1="-11.24" x2="36.02" y2="-11.11" stroke="#fff" stroke-opacity="0.2" stroke-width="0.61"/>
<circle cx="47.95" cy="-11.42" r="7.52" fill="url(#gCe3)"/>
<circle cx="7.99" cy="-54.22" r="7.13" fill="url(#gZr3)"/>
<line x1="87.18" y1="-46.99" x2="86.98" y2="-43.35" stroke="#2132d0" stroke-width="2"/><line x1="87.18" y1="-46.99" x2="86.98" y2="-43.35" stroke="#fff" stroke-opacity="0.2" stroke-width="0.6"/>
<line x1="125.32" y1="-12.76" x2="125.41" y2="-16.92" stroke="#802ad0" stroke-width="2"/><line x1="125.32" y1="-12.76" x2="125.41" y2="-16.92" stroke="#fff" stroke-opacity="0.2" stroke-width="0.6"/>
<line x1="54.57" y1="-11.7" x2="59.5" y2="-11.9" stroke="#ccd02c" stroke-width="2.04"/><line x1="54.57" y1="-11.7" x2="59.5" y2="-11.9" stroke="#fff" stroke-opacity="0.2" stroke-width="0.61"/>
<line x1="13.89" y1="-53.49" x2="18.84" y2="-52.88" stroke="#802ad0" stroke-width="2.04"/><line x1="13.89" y1="-53.49" x2="18.84" y2="-52.88" stroke="#fff" stroke-opacity="0.2" stroke-width="0.61"/>
<line x1="87.68" y1="-52.96" x2="88.17" y2="-57.46" stroke="#2132d0" stroke-width="2"/><line x1="87.68" y1="-52.96" x2="88.17" y2="-57.46" stroke="#fff" stroke-opacity="0.2" stroke-width="0.6"/>
<line x1="59.5" y1="-11.9" x2="68.21" y2="-12.27" stroke="#d91a1a" stroke-width="2.04"/><line x1="59.5" y1="-11.9" x2="68.21" y2="-12.27" stroke="#fff" stroke-opacity="0.2" stroke-width="0.61"/>
<line x1="18.84" y1="-52.88" x2="27.02" y2="-51.86" stroke="#d91a1a" stroke-width="2.04"/><line x1="18.84" y1="-52.88" x2="27.02" y2="-51.86" stroke="#fff" stroke-opacity="0.2" stroke-width="0.61"/>
<circle cx="71.06" cy="-12.39" r="3.68" fill="url(#gO3)"/>
<circle cx="29.7" cy="-51.53" r="3.68" fill="url(#gO3)"/>
<line x1="14.9" y1="-10.26" x2="21.88" y2="-10.67" stroke="#d91a1a" stroke-width="2.07"/><line x1="14.9" y1="-10.26" x2="21.88" y2="-10.67" stroke="#fff" stroke-opacity="0.2" stroke-width="0.62"/>
<line x1="117.43" y1="-48.55" x2="110.66" y2="-47.95" stroke="#d91a1a" stroke-width="2"/><line x1="117.43" y1="-48.55" x2="110.66" y2="-47.95" stroke="#fff" stroke-opacity="0.2" stroke-width="0.6"/>
<circle cx="103.35" cy="-9.54" r="3.68" fill="url(#gO3)"/>
<circle cx="61.49" cy="-50.02" r="3.68" fill="url(#gO3)"/>
<line x1="114.28" y1="-8.78" x2="106.05" y2="-9.35" stroke="#d91a1a" stroke-width="2.04"/><line x1="114.28" y1="-8.78" x2="106.05" y2="-9.35" stroke="#fff" stroke-opacity="0.2" stroke-width="0.61"/>
<line x1="74.41" y1="-49.84" x2="64.68" y2="-49.98" stroke="#d91a1a" stroke-width="2.04"/><line x1="74.41" y1="-49.84" x2="64.68" y2="-49.98" stroke="#fff" stroke-opacity="0.2" stroke-width="0.61"/>
<line x1="119.26" y1="-8.43" x2="114.28" y2="-8.78" stroke="#802ad0" stroke-width="2.04"/><line x1="119.26" y1="-8.43" x2="114.28" y2="-8.78" stroke="#fff" stroke-opacity="0.2" stroke-width="0.61"/>
<line x1="81.74" y1="-49.74" x2="74.41" y2="-49.84" stroke="#2132d0" stroke-width="2.04"/><line x1="81.74" y1="-49.74" x2="74.41" y2="-49.84" stroke="#fff" stroke-opacity="0.2" stroke-width="0.61"/>
<line x1="7.4" y1="-48.93" x2="6.88" y2="-44.28" stroke="#802ad0" stroke-width="2.07"/><line x1="7.4" y1="-48.93" x2="6.88" y2="-44.28" stroke="#fff" stroke-opacity="0.2" stroke-width="0.62"/>
<circle cx="125.21" cy="-8.02" r="7.13" fill="url(#gZr3)"/>
<circle cx="87.33" cy="-49.66" r="5.67" fill="url(#gCr3)"/>
<line x1="7.77" y1="-57.03" x2="7.57" y2="-59.5" stroke="#802ad0" stroke-width="2.07"/><line x1="7.77" y1="-57.03" x2="7.57" y2="-59.5" stroke="#fff" stroke-opacity="0.2" stroke-width="0.62"/>
<line x1="47.03" y1="-14.42" x2="46.31" y2="-16.77" stroke="#ccd02c" stroke-width="2.07"/><line x1="47.03" y1="-14.42" x2="46.31" y2="-16.77" stroke="#fff" stroke-opacity="0.2" stroke-width="0.62"/>
<line x1="91.91" y1="-49.25" x2="97.92" y2="-48.71" stroke="#2132d0" stroke-width="2.04"/><line x1="91.91" y1="-49.25" x2="97.92" y2="-48.71" stroke="#fff" stroke-opacity="0.2" stroke-width="0.61"/>
<line x1="10.77" y1="-10.01" x2="14.9" y2="-10.26" stroke="#802ad0" stroke-width="2.07"/><line x1="10.77" y1="-10.01" x2="14.9" y2="-10.26" stroke="#fff" stroke-opacity="0.2" stroke-width="0.62"/>
<line x1="78.05" y1="-9.91" x2="72.75" y2="-11.79" stroke="#d91a1a" stroke-width="2.07"/><line x1="78.05" y1="-9.91" x2="72.75" y2="-11.79" stroke="#fff" stroke-opacity="0.2" stroke-width="0.62"/>
<line x1="36.82" y1="-49.17" x2="31.42" y2="-50.96" stroke="#d91a1a" stroke-width="2.07"/><line x1="36.82" y1="-49.17" x2="31.42" y2="-50.96" stroke="#fff" stroke-opacity="0.2" stroke-width="0.62"/>
<line x1="97.92" y1="-48.71" x2="105.89" y2="-47.99" stroke="#d91a1a" stroke-width="2.04"/><line x1="97.92" y1="-48.71" x2="105.89" y2="-47.99" stroke="#fff" stroke-opacity="0.2" stroke-width="0.61"/>
<circle cx="108.5" cy="-47.75" r="3.68" fill="url(#gO3)"/>
<line x1="94.2" y1="-8.48" x2="101.14" y2="-9.29" stroke="#d91a1a" stroke-width="2.07"/><line x1="94.2" y1="-8.48" x2="101.14" y2="-9.29" stroke="#fff" stroke-opacity="0.2" stroke-width="0.62"/>
<line x1="52.72" y1="-48.41" x2="59.37" y2="-49.63" stroke="#d91a1a" stroke-width="2.07"/><line x1="52.72" y1="-48.41" x2="59.37" y2="-49.63" stroke="#fff" stroke-opacity="0.2" stroke-width="0.62"/>
<line x1="6.88" y1="-44.28" x2="6.05" y2="-36.83" stroke="#d91a1a" stroke-width="2.07"/><line x1="6.88" y1="-44.28" x2="6.05" y2="-36.83" stroke="#fff" stroke-opacity="0.2" stroke-width="0.62"/>
<line x1="86.27" y1="-46.05" x2="84.83" y2="-41.13" stroke="#2132d0" stroke-width="2.07"/><line x1="86.27" y1="-46.05" x2="84.83" y2="-41.13" stroke="#fff" stroke-opacity="0.2" stroke-width="0.62"/>
<line x1="46.31" y1="-16.77" x2="45.08" y2="-20.79" stroke="#d91a1a" stroke-width="2.07"/><line x1="46.31" y1="-16.77" x2="45.08" y2="-20.79" stroke="#fff" stroke-opacity="0.2" stroke-width="0.62"/>
<line x1="7.57" y1="-59.5" x2="7.26" y2="-63.45" stroke="#d91a1a" stroke-width="2.07"/><line x1="7.57" y1="-59.5" x2="7.26" y2="-63.45" stroke="#fff" stroke-opacity="0.2" stroke-width="0.62"/>
<line x1="86.94" y1="-51.75" x2="86.41" y2="-54.6" stroke="#2132d0" stroke-width="2.07"/><line x1="86.94" y1="-51.75" x2="86.41" y2="-54.6" stroke="#fff" stroke-opacity="0.2" stroke-width="0.62"/>
<line x1="124.26" y1="-11.66" x2="123.43" y2="-14.85" stroke="#802ad0" stroke-width="2.07"/><line x1="124.26" y1="-11.66" x2="123.43" y2="-14.85" stroke="#fff" stroke-opacity="0.2" stroke-width="0.62"/>
<line x1="81.82" y1="-8.57" x2="78.05" y2="-9.91" stroke="#b8aca5" stroke-width="2.07"/><line x1="81.82" y1="-8.57" x2="78.05" y2="-9.91" stroke="#fff" stroke-opacity="0.2" stroke-width="0.62"/>
<circle cx="5.71" cy="-9.7" r="7.37" fill="url(#gZr3)"/>
<line x1="40.83" y1="-47.84" x2="36.82" y2="-49.17" stroke="#28c528" stroke-width="2.07"/><line x1="40.83" y1="-47.84" x2="36.82" y2="-49.17" stroke="#fff" stroke-opacity="0.2" stroke-width="0.62"/>
<line x1="115.64" y1="-46.71" x2="110.23" y2="-47.5" stroke="#d91a1a" stroke-width="2.07"/><line x1="115.64" y1="-46.71" x2="110.23" y2="-47.5" stroke="#fff" stroke-opacity="0.2" stroke-width="0.62"/>
<line x1="5.73" y1="-16.63" x2="5.74" y2="-22.02" stroke="#802ad0" stroke-width="2.11"/><line x1="5.73" y1="-16.63" x2="5.74" y2="-22.02" stroke="#fff" stroke-opacity="0.2" stroke-width="0.63"/>
<line x1="89.27" y1="-7.91" x2="94.2" y2="-8.48" stroke="#b8aca5" stroke-width="2.07"/><line x1="89.27" y1="-7.91" x2="94.2" y2="-8.48" stroke="#fff" stroke-opacity="0.2" stroke-width="0.62"/>
<line x1="47.79" y1="-47.51" x2="52.72" y2="-48.41" stroke="#28c528" stroke-width="2.07"/><line x1="47.79" y1="-47.51" x2="52.72" y2="-48.41" stroke="#fff" stroke-opacity="0.2" stroke-width="0.62"/>
<line x1="5.74" y1="-22.02" x2="5.76" y2="-31.2" stroke="#d91a1a" stroke-width="2.11"/><line x1="5.74" y1="-22.02" x2="5.76" y2="-31.2" stroke="#fff" stroke-opacity="0.2" stroke-width="0.63"/>
<circle cx="5.77" cy="-34.34" r="3.73" fill="url(#gO3)"/>
<line x1="84.83" y1="-41.13" x2="82.96" y2="-34.74" stroke="#d91a1a" stroke-width="2.07"/><line x1="84.83" y1="-41.13" x2="82.96" y2="-34.74" stroke="#fff" stroke-opacity="0.2" stroke-width="0.62"/>
<circle cx="44.68" cy="-22.12" r="3.73" fill="url(#gO3)"/>
<circle cx="7.16" cy="-64.77" r="3.73" fill="url(#gO3)"/>
<line x1="44.31" y1="-34.46" x2="44.58" y2="-25.27" stroke="#d91a1a" stroke-width="2.11"/><line x1="44.31" y1="-34.46" x2="44.58" y2="-25.27" stroke="#fff" stroke-opacity="0.2" stroke-width="0.63"/>
<line x1="123.43" y1="-14.85" x2="122.09" y2="-19.98" stroke="#d91a1a" stroke-width="2.07"/><line x1="123.43" y1="-14.85" x2="122.09" y2="-19.98" stroke="#fff" stroke-opacity="0.2" stroke-width="0.62"/>
<line x1="86.41" y1="-54.6" x2="85.72" y2="-58.31" stroke="#d91a1a" stroke-width="2.07"/><line x1="86.41" y1="-54.6" x2="85.72" y2="-58.31" stroke="#fff" stroke-opacity="0.2" stroke-width="0.62"/>
<line x1="44.11" y1="-41.29" x2="44.31" y2="-34.46" stroke="#28c528" stroke-width="2.11"/><line x1="44.11" y1="-41.29" x2="44.31" y2="-34.46" stroke="#fff" stroke-opacity="0.2" stroke-width="0.63"/>
<line x1="119.47" y1="-46.15" x2="115.64" y2="-46.71" stroke="#b8aca5" stroke-width="2.07"/><line x1="119.47" y1="-46.15" x2="115.64" y2="-46.71" stroke="#fff" stroke-opacity="0.2" stroke-width="0.62"/>
<circle cx="85.05" cy="-7.42" r="6.19" fill="url(#gRu3)"/>
<circle cx="43.95" cy="-46.8" r="5.86" fill="url(#gCo3)"/>
<line x1="9.05" y1="-8.76" x2="11.79" y2="-7.99" stroke="#802ad0" stroke-width="2.14"/><line x1="9.05" y1="-8.76" x2="11.79" y2="-7.99" stroke="#fff" stroke-opacity="0.2" stroke-width="0.64"/>
<line x1="84.41" y1="-13.36" x2="83.69" y2="-20.01" stroke="#b8aca5" stroke-width="2.11"/><line x1="84.41" y1="-13.36" x2="83.69" y2="-20.01" stroke="#fff" stroke-opacity="0.2" stroke-width="0.63"/>
<line x1="4.6" y1="-40.29" x2="5.48" y2="-35.83" stroke="#d91a1a" stroke-width="2.14"/><line x1="4.6" y1="-40.29" x2="5.48" y2="-35.83" stroke="#fff" stroke-opacity="0.2" stroke-width="0.64"/>
<line x1="83.69" y1="-20.01" x2="82.68" y2="-29.4" stroke="#d91a1a" stroke-width="2.11"/><line x1="83.69" y1="-20.01" x2="82.68" y2="-29.4" stroke="#fff" stroke-opacity="0.2" stroke-width="0.63"/>
<circle cx="82.33" cy="-32.61" r="3.73" fill="url(#gO3)"/>
<line x1="43.46" y1="-13.06" x2="44.37" y2="-19.86" stroke="#d91a1a" stroke-width="2.14"/><line x1="43.46" y1="-13.06" x2="44.37" y2="-19.86" stroke="#fff" stroke-opacity="0.2" stroke-width="0.64"/>
<line x1="5.29" y1="-55.5" x2="6.69" y2="-62.45" stroke="#d91a1a" stroke-width="2.14"/><line x1="5.29" y1="-55.5" x2="6.69" y2="-62.45" stroke="#fff" stroke-opacity="0.2" stroke-width="0.64"/>
<circle cx="121.64" cy="-21.68" r="3.73" fill="url(#gO3)"/>
<circle cx="85.49" cy="-59.54" r="3.73" fill="url(#gO3)"/>
<line x1="122.21" y1="-33.68" x2="121.78" y2="-24.74" stroke="#d91a1a" stroke-width="2.11"/><line x1="122.21" y1="-33.68" x2="121.78" y2="-24.74" stroke="#fff" stroke-opacity="0.2" stroke-width="0.63"/>
<line x1="40.21" y1="-46.3" x2="35.39" y2="-45.66" stroke="#28c528" stroke-width="2.14"/><line x1="40.21" y1="-46.3" x2="35.39" y2="-45.66" stroke="#fff" stroke-opacity="0.2" stroke-width="0.64"/>
<line x1="81.08" y1="-7.06" x2="76.46" y2="-6.64" stroke="#b8aca5" stroke-width="2.14"/><line x1="81.08" y1="-7.06" x2="76.46" y2="-6.64" stroke="#fff" stroke-opacity="0.2" stroke-width="0.64"/>
<line x1="122.5" y1="-40.01" x2="122.21" y2="-33.68" stroke="#b8aca5" stroke-width="2.11"/><line x1="122.5" y1="-40.01" x2="122.21" y2="-33.68" stroke="#fff" stroke-opacity="0.2" stroke-width="0.63"/>
<line x1="11.79" y1="-7.99" x2="16.3" y2="-6.71" stroke="#d91a1a" stroke-width="2.14"/><line x1="11.79" y1="-7.99" x2="16.3" y2="-6.71" stroke="#fff" stroke-opacity="0.2" stroke-width="0.64"/>
<line x1="46.79" y1="-46.01" x2="50.45" y2="-44.98" stroke="#28c528" stroke-width="2.14"/><line x1="46.79" y1="-46.01" x2="50.45" y2="-44.98" stroke="#fff" stroke-opacity="0.2" stroke-width="0.64"/>
<circle cx="122.77" cy="-45.67" r="6.19" fill="url(#gRu3)"/>
<line x1="87.78" y1="-6.95" x2="90.98" y2="-6.41" stroke="#b8aca5" stroke-width="2.14"/><line x1="87.78" y1="-6.95" x2="90.98" y2="-6.41" stroke="#fff" stroke-opacity="0.2" stroke-width="0.64"/>
<line x1="3.98" y1="-43.4" x2="4.6" y2="-40.29" stroke="#b8aca5" stroke-width="2.14"/><line x1="3.98" y1="-43.4" x2="4.6" y2="-40.29" stroke="#fff" stroke-opacity="0.2" stroke-width="0.64"/>
<line x1="81.41" y1="-37.99" x2="82.1" y2="-33.95" stroke="#d91a1a" stroke-width="2.14"/><line x1="81.41" y1="-37.99" x2="82.1" y2="-33.95" stroke="#fff" stroke-opacity="0.2" stroke-width="0.64"/>
<line x1="42.82" y1="-8.32" x2="43.46" y2="-13.06" stroke="#b8aca5" stroke-width="2.14"/><line x1="42.82" y1="-8.32" x2="43.46" y2="-13.06" stroke="#fff" stroke-opacity="0.2" stroke-width="0.64"/>
<line x1="4.31" y1="-50.65" x2="5.29" y2="-55.5" stroke="#b8aca5" stroke-width="2.14"/><line x1="4.31" y1="-50.65" x2="5.29" y2="-55.5" stroke="#fff" stroke-opacity="0.2" stroke-width="0.64"/>
<line x1="121.63" y1="-13.01" x2="121.64" y2="-19.52" stroke="#d91a1a" stroke-width="2.14"/><line x1="121.63" y1="-13.01" x2="121.64" y2="-19.52" stroke="#fff" stroke-opacity="0.2" stroke-width="0.64"/>
<line x1="82.98" y1="-51.46" x2="84.86" y2="-57.52" stroke="#d91a1a" stroke-width="2.14"/><line x1="82.98" y1="-51.46" x2="84.86" y2="-57.52" stroke="#fff" stroke-opacity="0.2" stroke-width="0.64"/>
<line x1="76.46" y1="-6.64" x2="70.09" y2="-6.06" stroke="#d91a1a" stroke-width="2.14"/><line x1="76.46" y1="-6.64" x2="70.09" y2="-6.06" stroke="#fff" stroke-opacity="0.2" stroke-width="0.64"/>
<line x1="35.39" y1="-45.66" x2="29.04" y2="-44.81" stroke="#d91a1a" stroke-width="2.14"/><line x1="35.39" y1="-45.66" x2="29.04" y2="-44.81" stroke="#fff" stroke-opacity="0.2" stroke-width="0.64"/>
<circle cx="17.86" cy="-6.27" r="3.79" fill="url(#gO3)"/>
<line x1="30.05" y1="-5.13" x2="21.07" y2="-5.97" stroke="#d91a1a" stroke-width="2.17"/><line x1="30.05" y1="-5.13" x2="21.07" y2="-5.97" stroke="#fff" stroke-opacity="0.2" stroke-width="0.65"/>
<line x1="119.07" y1="-45.32" x2="114.77" y2="-44.92" stroke="#b8aca5" stroke-width="2.14"/><line x1="119.07" y1="-45.32" x2="114.77" y2="-44.92" stroke="#fff" stroke-opacity="0.2" stroke-width="0.64"/>
<line x1="90.98" y1="-6.41" x2="95.38" y2="-5.65" stroke="#d91a1a" stroke-width="2.14"/><line x1="90.98" y1="-6.41" x2="95.38" y2="-5.65" stroke="#fff" stroke-opacity="0.2" stroke-width="0.64"/>
<line x1="50.45" y1="-44.98" x2="55.28" y2="-43.63" stroke="#d91a1a" stroke-width="2.14"/><line x1="50.45" y1="-44.98" x2="55.28" y2="-43.63" stroke="#fff" stroke-opacity="0.2" stroke-width="0.64"/>
<line x1="36.31" y1="-4.55" x2="30.05" y2="-5.13" stroke="#b8aca5" stroke-width="2.17"/><line x1="36.31" y1="-4.55" x2="30.05" y2="-5.13" stroke="#fff" stroke-opacity="0.2" stroke-width="0.65"/>
<line x1="80.92" y1="-40.81" x2="81.41" y2="-37.99" stroke="#b8aca5" stroke-width="2.14"/><line x1="80.92" y1="-40.81" x2="81.41" y2="-37.99" stroke="#fff" stroke-opacity="0.2" stroke-width="0.64"/>
<circle cx="42.24" cy="-4" r="6.38" fill="url(#gRu3)"/>
<circle cx="3.42" cy="-46.23" r="6.38" fill="url(#gRu3)"/>
<line x1="48.48" y1="-4.45" x2="55.06" y2="-4.93" stroke="#b8aca5" stroke-width="2.17"/><line x1="48.48" y1="-4.45" x2="55.06" y2="-4.93" stroke="#fff" stroke-opacity="0.2" stroke-width="0.65"/>
<line x1="121.62" y1="-8.47" x2="121.63" y2="-13.01" stroke="#b8aca5" stroke-width="2.14"/><line x1="121.62" y1="-8.47" x2="121.63" y2="-13.01" stroke="#fff" stroke-opacity="0.2" stroke-width="0.64"/>
<line x1="9.12" y1="-45.82" x2="15.13" y2="-45.38" stroke="#b8aca5" stroke-width="2.17"/><line x1="9.12" y1="-45.82" x2="15.13" y2="-45.38" stroke="#fff" stroke-opacity="0.2" stroke-width="0.65"/>
<line x1="81.67" y1="-47.23" x2="82.98" y2="-51.46" stroke="#b8aca5" stroke-width="2.14"/><line x1="81.67" y1="-47.23" x2="82.98" y2="-51.46" stroke="#fff" stroke-opacity="0.2" stroke-width="0.64"/>
<line x1="55.06" y1="-4.93" x2="64.5" y2="-5.62" stroke="#d91a1a" stroke-width="2.17"/><line x1="55.06" y1="-4.93" x2="64.5" y2="-5.62" stroke="#fff" stroke-opacity="0.2" stroke-width="0.65"/>
<line x1="15.13" y1="-45.38" x2="23.76" y2="-44.74" stroke="#d91a1a" stroke-width="2.17"/><line x1="15.13" y1="-45.38" x2="23.76" y2="-44.74" stroke="#fff" stroke-opacity="0.2" stroke-width="0.65"/>
<circle cx="67.88" cy="-5.86" r="3.79" fill="url(#gO3)"/>
<circle cx="26.84" cy="-44.52" r="3.79" fill="url(#gO3)"/>
<line x1="10.36" y1="-5.13" x2="15.93" y2="-5.98" stroke="#d91a1a" stroke-width="2.21"/><line x1="10.36" y1="-5.13" x2="15.93" y2="-5.98" stroke="#fff" stroke-opacity="0.2" stroke-width="0.66"/>
<line x1="114.77" y1="-44.92" x2="108.83" y2="-44.37" stroke="#d91a1a" stroke-width="2.14"/><line x1="114.77" y1="-44.92" x2="108.83" y2="-44.37" stroke="#fff" stroke-opacity="0.2" stroke-width="0.64"/>
<circle cx="96.9" cy="-5.39" r="3.79" fill="url(#gO3)"/>
<circle cx="56.95" cy="-43.16" r="3.79" fill="url(#gO3)"/>
<line x1="109.26" y1="-4.86" x2="100.16" y2="-5.25" stroke="#d91a1a" stroke-width="2.17"/><line x1="109.26" y1="-4.86" x2="100.16" y2="-5.25" stroke="#fff" stroke-opacity="0.2" stroke-width="0.65"/>
<line x1="68.72" y1="-43.27" x2="60.05" y2="-43.19" stroke="#d91a1a" stroke-width="2.17"/><line x1="68.72" y1="-43.27" x2="60.05" y2="-43.19" stroke="#fff" stroke-opacity="0.2" stroke-width="0.65"/>
<line x1="115.6" y1="-4.59" x2="109.26" y2="-4.86" stroke="#b8aca5" stroke-width="2.17"/><line x1="115.6" y1="-4.59" x2="109.26" y2="-4.86" stroke="#fff" stroke-opacity="0.2" stroke-width="0.65"/>
<line x1="3.25" y1="-41.76" x2="3.05" y2="-36.84" stroke="#b8aca5" stroke-width="2.21"/><line x1="3.25" y1="-41.76" x2="3.05" y2="-36.84" stroke="#fff" stroke-opacity="0.2" stroke-width="0.66"/>
<line x1="74.75" y1="-43.32" x2="68.72" y2="-43.27" stroke="#b8aca5" stroke-width="2.17"/><line x1="74.75" y1="-43.32" x2="68.72" y2="-43.27" stroke="#fff" stroke-opacity="0.2" stroke-width="0.65"/>
<circle cx="121.62" cy="-4.34" r="6.38" fill="url(#gRu3)"/>
<circle cx="80.48" cy="-43.38" r="6.38" fill="url(#gRu3)"/>
<line x1="41.71" y1="-6.82" x2="41.14" y2="-9.92" stroke="#b8aca5" stroke-width="2.21"/><line x1="41.71" y1="-6.82" x2="41.14" y2="-9.92" stroke="#fff" stroke-opacity="0.2" stroke-width="0.66"/>
<line x1="2.64" y1="-49.43" x2="1.77" y2="-52.95" stroke="#b8aca5" stroke-width="2.21"/><line x1="2.64" y1="-49.43" x2="1.77" y2="-52.95" stroke="#fff" stroke-opacity="0.2" stroke-width="0.66"/>
<line x1="86.88" y1="-43.57" x2="93.63" y2="-43.78" stroke="#b8aca5" stroke-width="2.17"/><line x1="86.88" y1="-43.57" x2="93.63" y2="-43.78" stroke="#fff" stroke-opacity="0.2" stroke-width="0.65"/>
<line x1="73.61" y1="-4.93" x2="69.35" y2="-5.62" stroke="#d91a1a" stroke-width="2.21"/><line x1="73.61" y1="-4.93" x2="69.35" y2="-5.62" stroke="#fff" stroke-opacity="0.2" stroke-width="0.66"/>
<line x1="6.54" y1="-4.55" x2="10.36" y2="-5.13" stroke="#b8aca5" stroke-width="2.21"/><line x1="6.54" y1="-4.55" x2="10.36" y2="-5.13" stroke="#fff" stroke-opacity="0.2" stroke-width="0.66"/>
<line x1="33.4" y1="-42.81" x2="28.53" y2="-44.08" stroke="#d91a1a" stroke-width="2.21"/><line x1="33.4" y1="-42.81" x2="28.53" y2="-44.08" stroke="#fff" stroke-opacity="0.2" stroke-width="0.66"/>
<line x1="93.63" y1="-43.78" x2="103.31" y2="-44.07" stroke="#d91a1a" stroke-width="2.17"/><line x1="93.63" y1="-43.78" x2="103.31" y2="-44.07" stroke="#fff" stroke-opacity="0.2" stroke-width="0.65"/>
<circle cx="106.77" cy="-44.18" r="3.79" fill="url(#gO3)"/>
<line x1="88.12" y1="-4.69" x2="94.64" y2="-5.21" stroke="#d91a1a" stroke-width="2.21"/><line x1="88.12" y1="-4.69" x2="94.64" y2="-5.21" stroke="#fff" stroke-opacity="0.2" stroke-width="0.66"/>
<line x1="48.45" y1="-42.13" x2="54.76" y2="-42.89" stroke="#d91a1a" stroke-width="2.21"/><line x1="48.45" y1="-42.13" x2="54.76" y2="-42.89" stroke="#fff" stroke-opacity="0.2" stroke-width="0.66"/>
<line x1="3.05" y1="-36.84" x2="2.78" y2="-29.95" stroke="#d91a1a" stroke-width="2.21"/><line x1="3.05" y1="-36.84" x2="2.78" y2="-29.95" stroke="#fff" stroke-opacity="0.2" stroke-width="0.66"/>
<line x1="80.57" y1="-39.62" x2="80.66" y2="-35.49" stroke="#b8aca5" stroke-width="2.21"/><line x1="80.57" y1="-39.62" x2="80.66" y2="-35.49" stroke="#fff" stroke-opacity="0.2" stroke-width="0.66"/>
<line x1="41.14" y1="-9.92" x2="40.33" y2="-14.27" stroke="#d91a1a" stroke-width="2.21"/><line x1="41.14" y1="-9.92" x2="40.33" y2="-14.27" stroke="#fff" stroke-opacity="0.2" stroke-width="0.66"/>
<line x1="1.77" y1="-52.95" x2="0.56" y2="-57.88" stroke="#d91a1a" stroke-width="2.21"/><line x1="1.77" y1="-52.95" x2="0.56" y2="-57.88" stroke="#fff" stroke-opacity="0.2" stroke-width="0.66"/>
<line x1="120.78" y1="-7.41" x2="119.86" y2="-10.79" stroke="#b8aca5" stroke-width="2.21"/><line x1="120.78" y1="-7.41" x2="119.86" y2="-10.79" stroke="#fff" stroke-opacity="0.2" stroke-width="0.66"/>
<line x1="80.38" y1="-46.62" x2="80.27" y2="-50.18" stroke="#b8aca5" stroke-width="2.21"/><line x1="80.38" y1="-46.62" x2="80.27" y2="-50.18" stroke="#fff" stroke-opacity="0.2" stroke-width="0.66"/>
<line x1="36.73" y1="-41.94" x2="33.4" y2="-42.81" stroke="#b8aca5" stroke-width="2.21"/><line x1="36.73" y1="-41.94" x2="33.4" y2="-42.81" stroke="#fff" stroke-opacity="0.2" stroke-width="0.66"/>
<line x1="76.67" y1="-4.43" x2="73.61" y2="-4.93" stroke="#28c528" stroke-width="2.21"/><line x1="76.67" y1="-4.43" x2="73.61" y2="-4.93" stroke="#fff" stroke-opacity="0.2" stroke-width="0.66"/>
<circle cx="2.85" cy="-4" r="6.58" fill="url(#gRu3)"/>
<line x1="112.97" y1="-43.08" x2="108.37" y2="-43.89" stroke="#d91a1a" stroke-width="2.21"/><line x1="112.97" y1="-43.08" x2="108.37" y2="-43.89" stroke="#fff" stroke-opacity="0.2" stroke-width="0.66"/>
<line x1="2.81" y1="-9.88" x2="2.77" y2="-15.72" stroke="#b8aca5" stroke-width="2.24"/><line x1="2.81" y1="-9.88" x2="2.77" y2="-15.72" stroke="#fff" stroke-opacity="0.2" stroke-width="0.67"/>
<line x1="44.13" y1="-41.6" x2="48.45" y2="-42.13" stroke="#b8aca5" stroke-width="2.21"/><line x1="44.13" y1="-41.6" x2="48.45" y2="-42.13" stroke="#fff" stroke-opacity="0.2" stroke-width="0.66"/>
<line x1="83.42" y1="-4.32" x2="88.12" y2="-4.69" stroke="#28c528" stroke-width="2.21"/><line x1="83.42" y1="-4.32" x2="88.12" y2="-4.69" stroke="#fff" stroke-opacity="0.2" stroke-width="0.66"/>
<line x1="2.77" y1="-15.72" x2="2.71" y2="-24.27" stroke="#d91a1a" stroke-width="2.24"/><line x1="2.77" y1="-15.72" x2="2.71" y2="-24.27" stroke="#fff" stroke-opacity="0.2" stroke-width="0.67"/>
<circle cx="2.69" cy="-27.45" r="3.85" fill="url(#gO3)"/>
<line x1="80.66" y1="-35.49" x2="80.8" y2="-29.69" stroke="#d91a1a" stroke-width="2.21"/><line x1="80.66" y1="-35.49" x2="80.8" y2="-29.69" stroke="#fff" stroke-opacity="0.2" stroke-width="0.66"/>
<circle cx="40.03" cy="-15.84" r="3.85" fill="url(#gO3)"/>
<circle cx="0.12" cy="-59.67" r="3.85" fill="url(#gO3)"/>
<line x1="39.99" y1="-28.47" x2="40.02" y2="-19.27" stroke="#d91a1a" stroke-width="2.24"/><line x1="39.99" y1="-28.47" x2="40.02" y2="-19.27" stroke="#fff" stroke-opacity="0.2" stroke-width="0.67"/>
<line x1="119.86" y1="-10.79" x2="118.57" y2="-15.53" stroke="#d91a1a" stroke-width="2.21"/><line x1="119.86" y1="-10.79" x2="118.57" y2="-15.53" stroke="#fff" stroke-opacity="0.2" stroke-width="0.66"/>
<line x1="80.27" y1="-50.18" x2="80.12" y2="-55.17" stroke="#d91a1a" stroke-width="2.21"/><line x1="80.27" y1="-50.18" x2="80.12" y2="-55.17" stroke="#fff" stroke-opacity="0.2" stroke-width="0.66"/>
<line x1="39.97" y1="-34.76" x2="39.99" y2="-28.47" stroke="#b8aca5" stroke-width="2.24"/><line x1="39.97" y1="-34.76" x2="39.99" y2="-28.47" stroke="#fff" stroke-opacity="0.2" stroke-width="0.67"/>
<line x1="115.54" y1="-42.63" x2="112.97" y2="-43.08" stroke="#802ad0" stroke-width="2.21"/><line x1="115.54" y1="-42.63" x2="112.97" y2="-43.08" stroke="#fff" stroke-opacity="0.2" stroke-width="0.66"/>
<circle cx="79.34" cy="-4" r="6.23" fill="url(#gCo3)"/>
<circle cx="39.95" cy="-41.1" r="6.58" fill="url(#gRu3)"/>
<line x1="79.7" y1="-9.6" x2="80.09" y2="-15.8" stroke="#28c528" stroke-width="2.24"/><line x1="79.7" y1="-9.6" x2="80.09" y2="-15.8" stroke="#fff" stroke-opacity="0.2" stroke-width="0.67"/>
<line x1="80.09" y1="-15.8" x2="80.64" y2="-24.4" stroke="#d91a1a" stroke-width="2.24"/><line x1="80.09" y1="-15.8" x2="80.64" y2="-24.4" stroke="#fff" stroke-opacity="0.2" stroke-width="0.67"/>
<circle cx="80.85" cy="-27.6" r="3.85" fill="url(#gO3)"/>
<circle cx="118.1" cy="-17.25" r="3.85" fill="url(#gO3)"/>
<circle cx="80.06" cy="-56.98" r="3.85" fill="url(#gO3)"/>
<line x1="118.64" y1="-29.62" x2="118.25" y2="-20.6" stroke="#d91a1a" stroke-width="2.24"/><line x1="118.64" y1="-29.62" x2="118.25" y2="-20.6" stroke="#fff" stroke-opacity="0.2" stroke-width="0.67"/>
<line x1="118.86" y1="-34.59" x2="118.64" y2="-29.62" stroke="#802ad0" stroke-width="2.24"/><line x1="118.86" y1="-34.59" x2="118.64" y2="-29.62" stroke="#fff" stroke-opacity="0.2" stroke-width="0.67"/>
<circle cx="119.18" cy="-41.99" r="7.84" fill="url(#gZr3)"/></g></defs>
<g transform="translate(190.1,781.9)"><g clip-path="url(#cin)"><use href="#slabsym"/></g><line x1="43.2" y1="-71.7" x2="35.7" y2="-63.1" stroke="#9a9a9a" stroke-width="0.6" stroke-dasharray="1.6 1.4"/><line x1="44.7" y1="-74.2" x2="45.5" y2="-66.35" stroke="#ea1c1c" stroke-width="1.5" /><line x1="45.5" y1="-66.35" x2="46.3" y2="-58.5" stroke="#c6bab2" stroke-width="1.5" /><line x1="44.7" y1="-74.2" x2="40.05" y2="-76.3" stroke="#ea1c1c" stroke-width="1.2" /><line x1="40.05" y1="-76.3" x2="35.4" y2="-78.4" stroke="#f0b8b8" stroke-width="1.2" /><line x1="34.5" y1="-61.6" x2="35.5" y2="-58.55" stroke="#f0b8b8" stroke-width="1.2" /><line x1="35.5" y1="-58.55" x2="36.5" y2="-55.5" stroke="#ea1c1c" stroke-width="1.2" /><circle cx="44.7" cy="-74.2" r="3.1" fill="url(#gO)"/><circle cx="35.4" cy="-78.4" r="1.75" fill="url(#gH)" stroke="#eaa8a8" stroke-width="0.55"/><circle cx="34.5" cy="-61.6" r="1.75" fill="url(#gH)" stroke="#eaa8a8" stroke-width="0.55"/></g>
<g transform="translate(322.8,775.4)"><g clip-path="url(#cin)"><use href="#slabsym"/></g><line x1="46.8" y1="-72.8" x2="47.05" y2="-65.65" stroke="#ea1c1c" stroke-width="1.5" /><line x1="47.05" y1="-65.65" x2="47.3" y2="-58.5" stroke="#c6bab2" stroke-width="1.5" /><line x1="46.8" y1="-72.8" x2="41.5" y2="-75.35" stroke="#ea1c1c" stroke-width="1.2" /><line x1="41.5" y1="-75.35" x2="36.2" y2="-77.9" stroke="#f0b8b8" stroke-width="1.2" /><circle cx="46.8" cy="-72.8" r="3.1" fill="url(#gO)"/><circle cx="36.2" cy="-77.9" r="1.75" fill="url(#gH)" stroke="#eaa8a8" stroke-width="0.55"/></g>
<g transform="translate(455.8,769.6)"><g clip-path="url(#cin)"><use href="#slabsym"/></g><line x1="41.4" y1="-69.1" x2="33.9" y2="-63.1" stroke="#9a9a9a" stroke-width="0.6" stroke-dasharray="1.6 1.4"/><line x1="43.9" y1="-71.3" x2="45.05" y2="-64.9" stroke="#ea1c1c" stroke-width="1.5" /><line x1="45.05" y1="-64.9" x2="46.2" y2="-58.5" stroke="#c6bab2" stroke-width="1.5" /><line x1="32.4" y1="-61.9" x2="33.6" y2="-58.7" stroke="#f0b8b8" stroke-width="1.2" /><line x1="33.6" y1="-58.7" x2="34.8" y2="-55.5" stroke="#ea1c1c" stroke-width="1.2" /><circle cx="43.9" cy="-71.3" r="3.1" fill="url(#gO)"/><circle cx="32.4" cy="-61.9" r="1.75" fill="url(#gH)" stroke="#eaa8a8" stroke-width="0.55"/></g>
<g transform="translate(588.2,757.7)"><g clip-path="url(#cin)"><use href="#slabsym"/></g><line x1="46.7" y1="-71.6" x2="46.8" y2="-65.05" stroke="#ea1c1c" stroke-width="1.5" /><line x1="46.8" y1="-65.05" x2="46.9" y2="-58.5" stroke="#c6bab2" stroke-width="1.5" /><circle cx="46.7" cy="-71.6" r="3.1" fill="url(#gO)"/></g>
<g transform="translate(719.9,752.7)"><g clip-path="url(#cin)"><use href="#slabsym"/></g><line x1="36.1" y1="-92.7" x2="47.3" y2="-75.9" stroke="#9a9a9a" stroke-width="0.6" stroke-dasharray="1.6 1.4"/><line x1="31.6" y1="-78.9" x2="31.6" y2="-63.8" stroke="#9a9a9a" stroke-width="0.6" stroke-dasharray="1.6 1.4"/><line x1="49.3" y1="-73.4" x2="48.95" y2="-65.95" stroke="#ea1c1c" stroke-width="1.5" /><line x1="48.95" y1="-65.95" x2="48.6" y2="-58.5" stroke="#c6bab2" stroke-width="1.5" /><line x1="49.3" y1="-73.4" x2="31.6" y2="-81.9" stroke="#ea1c1c" stroke-width="1.9" /><line x1="49.3" y1="-73.4" x2="31.6" y2="-81.9" stroke="#ff9090" stroke-width="0.5" /><line x1="31.6" y1="-81.9" x2="33.25" y2="-88.05" stroke="#ea1c1c" stroke-width="1.2" /><line x1="33.25" y1="-88.05" x2="34.9" y2="-94.2" stroke="#f0b8b8" stroke-width="1.2" /><line x1="31.6" y1="-61.8" x2="32.55" y2="-58.65" stroke="#f0b8b8" stroke-width="1.2" /><line x1="32.55" y1="-58.65" x2="33.5" y2="-55.5" stroke="#ea1c1c" stroke-width="1.2" /><circle cx="49.3" cy="-73.4" r="3.1" fill="url(#gO)"/><circle cx="31.6" cy="-81.9" r="3.1" fill="url(#gO)"/><circle cx="34.9" cy="-94.2" r="1.75" fill="url(#gH)" stroke="#eaa8a8" stroke-width="0.55"/><circle cx="31.6" cy="-61.8" r="1.75" fill="url(#gH)" stroke="#eaa8a8" stroke-width="0.55"/></g>
<g transform="translate(851.9,711)"><g clip-path="url(#cin)"><use href="#slabsym"/></g><line x1="37.5" y1="-91.7" x2="47" y2="-75.5" stroke="#9a9a9a" stroke-width="0.6" stroke-dasharray="1.6 1.4"/><line x1="49" y1="-73" x2="48.3" y2="-65.75" stroke="#ea1c1c" stroke-width="1.5" /><line x1="48.3" y1="-65.75" x2="47.6" y2="-58.5" stroke="#c6bab2" stroke-width="1.5" /><line x1="49" y1="-73" x2="32.9" y2="-81.8" stroke="#ea1c1c" stroke-width="1.9" /><line x1="49" y1="-73" x2="32.9" y2="-81.8" stroke="#ff9090" stroke-width="0.5" /><line x1="32.9" y1="-81.8" x2="34.6" y2="-87.5" stroke="#ea1c1c" stroke-width="1.2" /><line x1="34.6" y1="-87.5" x2="36.3" y2="-93.2" stroke="#f0b8b8" stroke-width="1.2" /><circle cx="49" cy="-73" r="3.1" fill="url(#gO)"/><circle cx="32.9" cy="-81.8" r="3.1" fill="url(#gO)"/><circle cx="36.3" cy="-93.2" r="1.75" fill="url(#gH)" stroke="#eaa8a8" stroke-width="0.55"/></g>
<g transform="translate(985.3,703.7)"><g clip-path="url(#cin)"><use href="#slabsym"/></g><line x1="32.9" y1="-63.1" x2="38.5" y2="-76.3" stroke="#9a9a9a" stroke-width="0.6" stroke-dasharray="1.6 1.4"/><line x1="33.4" y1="-62.6" x2="43.8" y2="-70.4" stroke="#9a9a9a" stroke-width="0.6" stroke-dasharray="1.6 1.4"/><line x1="46.3" y1="-71.9" x2="46.45" y2="-65.2" stroke="#ea1c1c" stroke-width="1.5" /><line x1="46.45" y1="-65.2" x2="46.6" y2="-58.5" stroke="#c6bab2" stroke-width="1.5" /><line x1="46.3" y1="-71.9" x2="40" y2="-78.8" stroke="#ea1c1c" stroke-width="1.9" /><line x1="31.9" y1="-61.6" x2="33.05" y2="-58.55" stroke="#f0b8b8" stroke-width="1.2" /><line x1="33.05" y1="-58.55" x2="34.2" y2="-55.5" stroke="#ea1c1c" stroke-width="1.2" /><circle cx="46.3" cy="-71.9" r="3.1" fill="url(#gO)"/><circle cx="40" cy="-78.8" r="3.1" fill="url(#gO)"/><circle cx="31.9" cy="-61.6" r="1.75" fill="url(#gH)" stroke="#eaa8a8" stroke-width="0.55"/></g>
<text x="13" y="25.5" font-size="24.5" text-anchor="start" font-weight="bold" fill="#000" >a</text>
<text x="344.4" y="25" font-size="24.5" text-anchor="start" font-weight="bold" fill="#000" >b</text>
<text x="903.6" y="26" font-size="24.5" text-anchor="start" font-weight="bold" fill="#000" >c</text>
<text x="12.6" y="305.4" font-size="24.5" text-anchor="start" font-weight="bold" fill="#000" >d</text>
<text x="393.2" y="304" font-size="24.5" text-anchor="start" font-weight="bold" fill="#000" >e</text>
<text x="808.2" y="303.9" font-size="24.5" text-anchor="start" font-weight="bold" fill="#000" >f</text>
<text x="12.2" y="627.4" font-size="26" text-anchor="start" font-weight="bold" fill="#000" >g</text>
</g>
</svg>
</body></html>
